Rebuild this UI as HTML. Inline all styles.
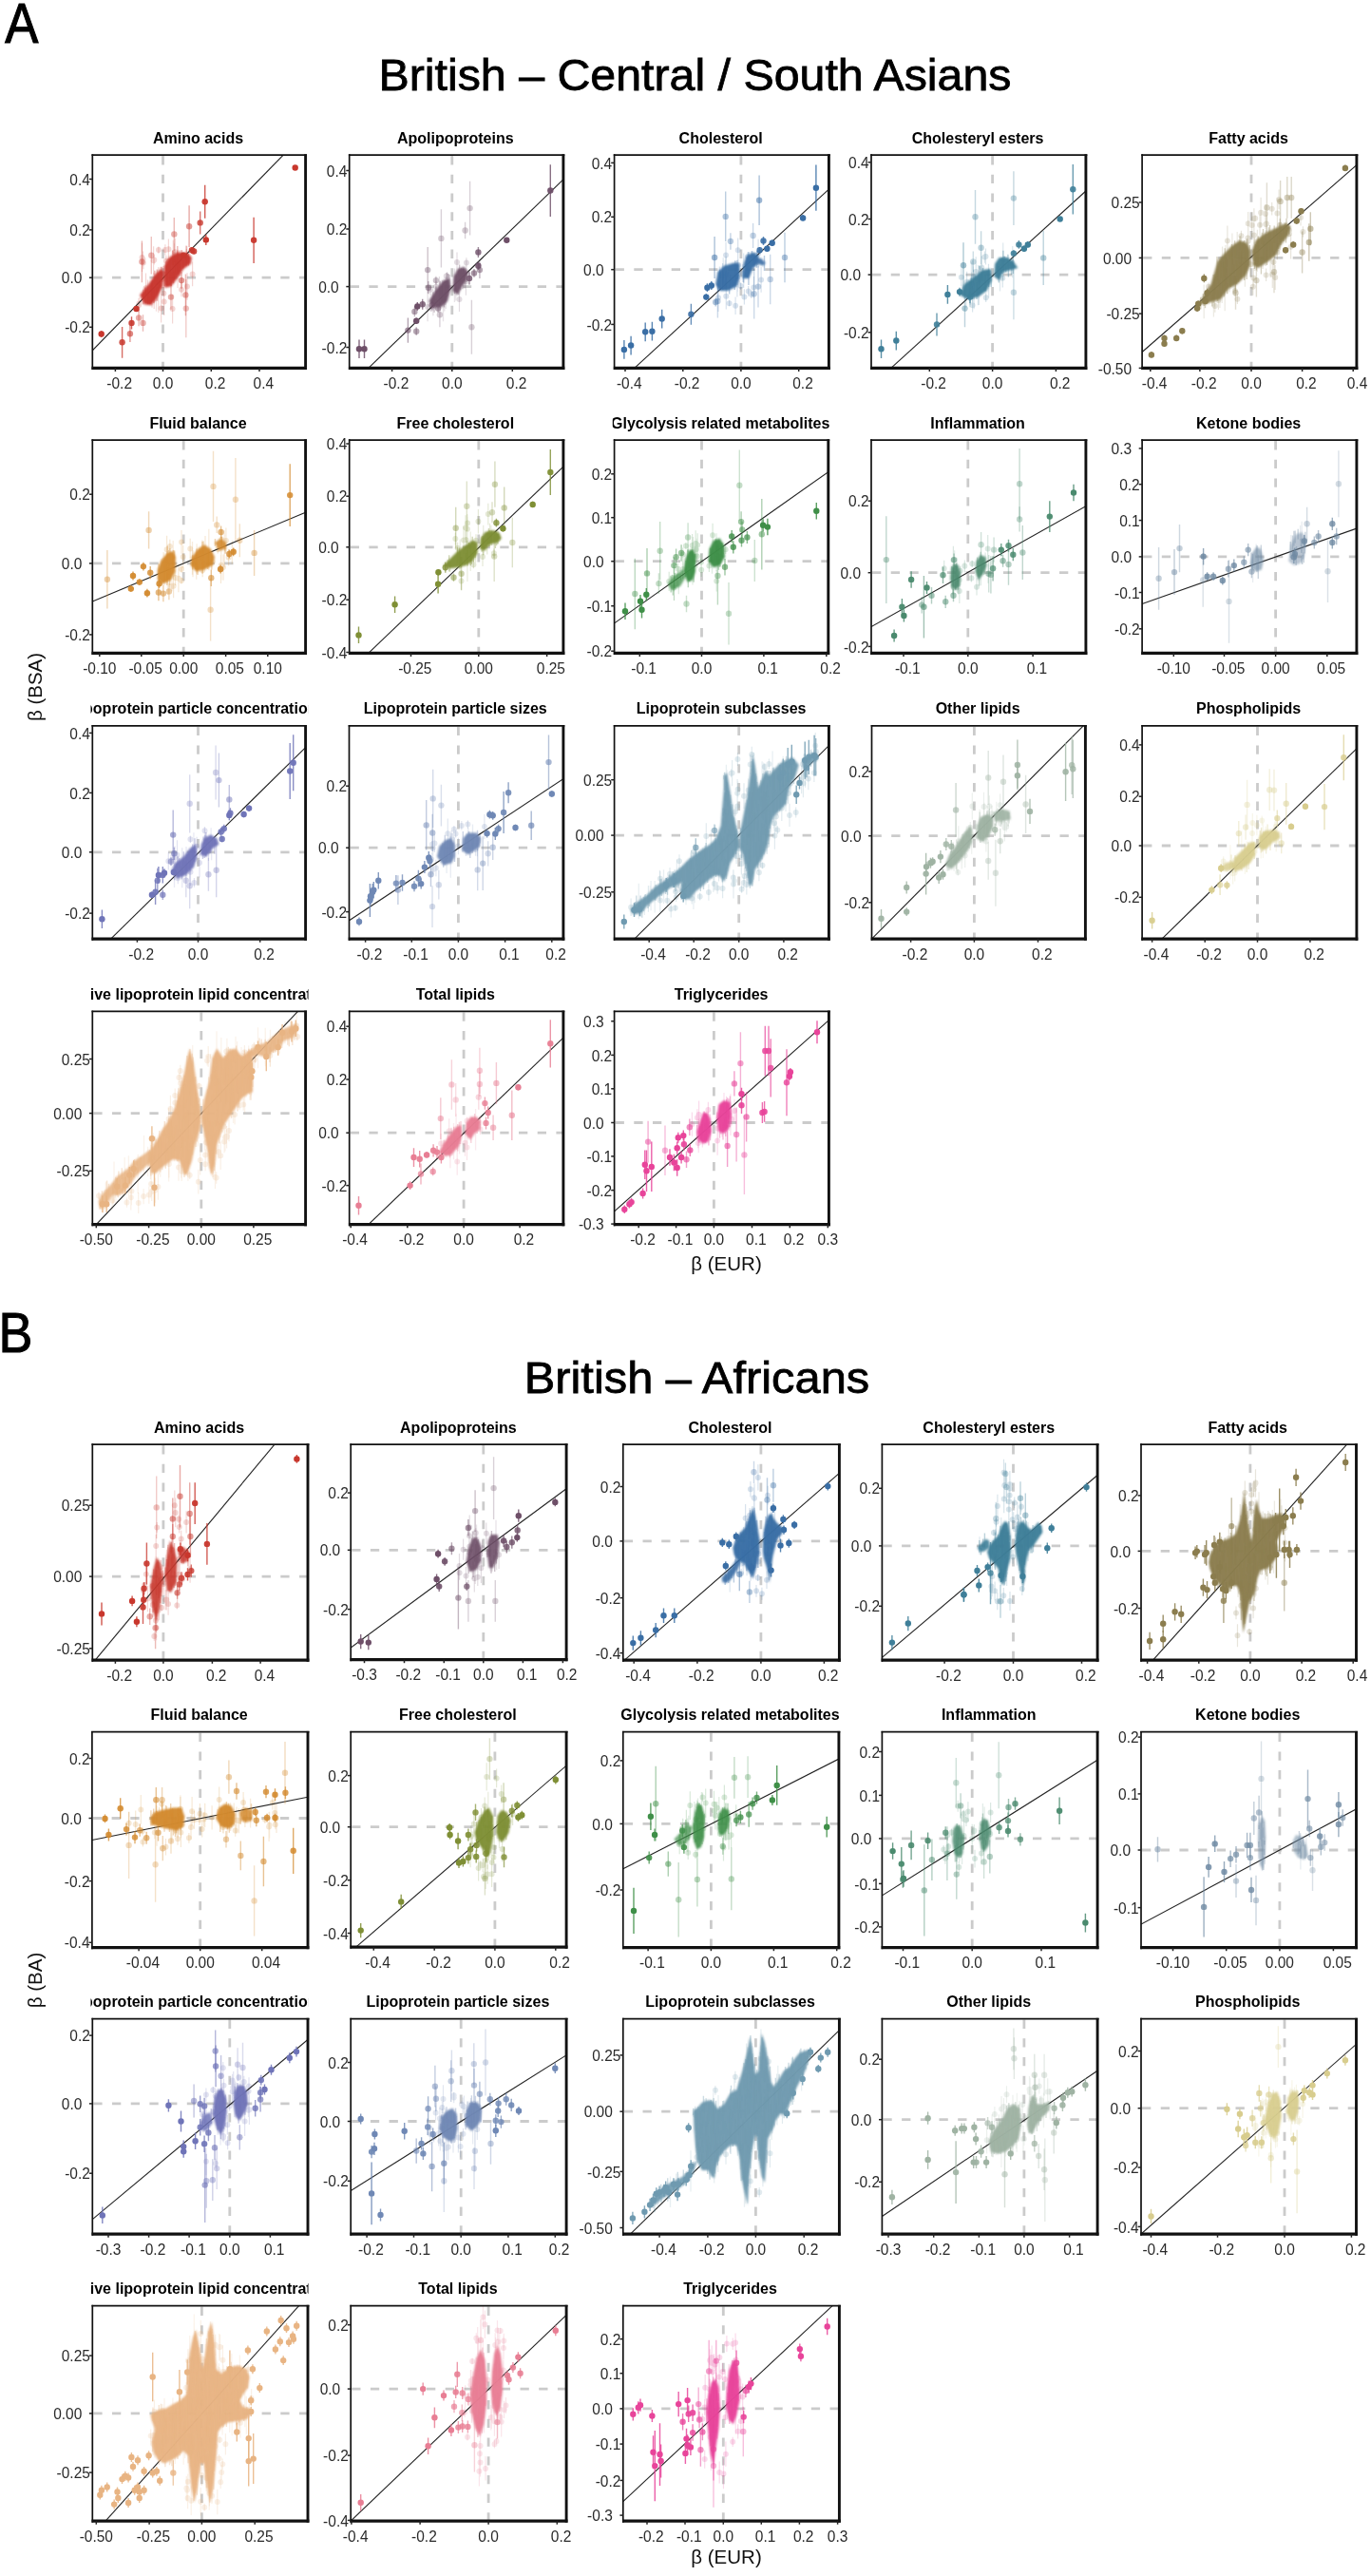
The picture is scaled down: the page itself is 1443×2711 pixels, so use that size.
<!DOCTYPE html>
<html><head><meta charset="utf-8"><style>
html,body{margin:0;padding:0;background:#fff;}
svg{display:block;will-change:transform;}
text{font-family:"Liberation Sans",sans-serif;}
.pt{font-weight:bold;font-size:16px;text-anchor:middle;fill:#000;}
.xl{font-size:15.5px;text-anchor:middle;fill:#2a2a2a;}
.yl{font-size:15.5px;text-anchor:end;fill:#2a2a2a;}
.ax{font-size:20.5px;text-anchor:middle;fill:#111;}
.big{font-size:47px;fill:#000;}
.dz{stroke:#cbcbcb;stroke-width:2.8;stroke-dasharray:9.3 10.4;}
</style></head><body>
<svg width="1443" height="2711" viewBox="0 0 1443 2711">
<defs>
<filter id="bl1" x="-20%" y="-20%" width="140%" height="140%"><feGaussianBlur stdDeviation="1.2"/></filter>
<filter id="bl2" x="-20%" y="-20%" width="140%" height="140%"><feGaussianBlur stdDeviation="3"/></filter>
<filter id="bl3" x="-30%" y="-30%" width="160%" height="160%"><feGaussianBlur stdDeviation="6"/></filter>
<clipPath id="c0"><rect x="97.3" y="163.1" width="224.3" height="224.3"/></clipPath><clipPath id="t0"><rect x="95.5" y="123.1" width="229.0" height="38"/></clipPath><clipPath id="c1"><rect x="367.7" y="163.1" width="225.2" height="224.3"/></clipPath><clipPath id="t1"><rect x="365.9" y="123.1" width="229.9" height="38"/></clipPath><clipPath id="c2"><rect x="646.6" y="163.1" width="225.8" height="224.3"/></clipPath><clipPath id="t2"><rect x="644.8" y="123.1" width="230.5" height="38"/></clipPath><clipPath id="c3"><rect x="917.0" y="163.1" width="225.8" height="224.3"/></clipPath><clipPath id="t3"><rect x="915.2" y="123.1" width="230.5" height="38"/></clipPath><clipPath id="c4"><rect x="1202.1" y="163.1" width="225.8" height="224.3"/></clipPath><clipPath id="t4"><rect x="1200.3" y="123.1" width="230.5" height="38"/></clipPath><clipPath id="c5"><rect x="97.3" y="463.1" width="224.3" height="224.3"/></clipPath><clipPath id="t5"><rect x="95.5" y="423.1" width="229.0" height="38"/></clipPath><clipPath id="c6"><rect x="367.7" y="463.1" width="225.2" height="224.3"/></clipPath><clipPath id="t6"><rect x="365.9" y="423.1" width="229.9" height="38"/></clipPath><clipPath id="c7"><rect x="646.6" y="463.1" width="225.2" height="224.3"/></clipPath><clipPath id="t7"><rect x="644.8" y="423.1" width="229.9" height="38"/></clipPath><clipPath id="c8"><rect x="917.0" y="463.1" width="225.8" height="224.3"/></clipPath><clipPath id="t8"><rect x="915.2" y="423.1" width="230.5" height="38"/></clipPath><clipPath id="c9"><rect x="1202.1" y="463.1" width="225.8" height="224.3"/></clipPath><clipPath id="t9"><rect x="1200.3" y="423.1" width="230.5" height="38"/></clipPath><clipPath id="c10"><rect x="97.3" y="763.8" width="224.3" height="224.3"/></clipPath><clipPath id="t10"><rect x="95.5" y="723.8" width="229.0" height="38"/></clipPath><clipPath id="c11"><rect x="367.5" y="763.8" width="225.4" height="224.3"/></clipPath><clipPath id="t11"><rect x="365.7" y="723.8" width="230.1" height="38"/></clipPath><clipPath id="c12"><rect x="646.6" y="763.8" width="225.8" height="224.3"/></clipPath><clipPath id="t12"><rect x="644.8" y="723.8" width="230.5" height="38"/></clipPath><clipPath id="c13"><rect x="917.5" y="763.8" width="224.9" height="224.3"/></clipPath><clipPath id="t13"><rect x="915.7" y="723.8" width="229.6" height="38"/></clipPath><clipPath id="c14"><rect x="1202.1" y="763.8" width="225.8" height="224.3"/></clipPath><clipPath id="t14"><rect x="1200.3" y="723.8" width="230.5" height="38"/></clipPath><clipPath id="c15"><rect x="97.3" y="1064.4" width="224.3" height="224.3"/></clipPath><clipPath id="t15"><rect x="95.5" y="1024.4" width="229.0" height="38"/></clipPath><clipPath id="c16"><rect x="367.7" y="1064.4" width="225.2" height="224.3"/></clipPath><clipPath id="t16"><rect x="365.9" y="1024.4" width="229.9" height="38"/></clipPath><clipPath id="c17"><rect x="646.6" y="1064.4" width="225.8" height="224.3"/></clipPath><clipPath id="t17"><rect x="644.8" y="1024.4" width="230.5" height="38"/></clipPath><clipPath id="c18"><rect x="97.3" y="1520.1" width="226.7" height="227.1"/></clipPath><clipPath id="t18"><rect x="95.5" y="1480.1" width="229.0" height="38"/></clipPath><clipPath id="c19"><rect x="369.2" y="1520.1" width="226.9" height="226.5"/></clipPath><clipPath id="t19"><rect x="367.4" y="1480.1" width="229.2" height="38"/></clipPath><clipPath id="c20"><rect x="655.8" y="1520.1" width="227.6" height="227.1"/></clipPath><clipPath id="t20"><rect x="654.0" y="1480.1" width="229.9" height="38"/></clipPath><clipPath id="c21"><rect x="928.4" y="1520.1" width="226.7" height="227.1"/></clipPath><clipPath id="t21"><rect x="926.6" y="1480.1" width="229.0" height="38"/></clipPath><clipPath id="c22"><rect x="1201.0" y="1520.1" width="226.5" height="227.1"/></clipPath><clipPath id="t22"><rect x="1199.2" y="1480.1" width="228.8" height="38"/></clipPath><clipPath id="c23"><rect x="96.9" y="1822.7" width="227.1" height="226.9"/></clipPath><clipPath id="t23"><rect x="95.1" y="1782.7" width="229.4" height="38"/></clipPath><clipPath id="c24"><rect x="369.2" y="1822.7" width="226.9" height="226.5"/></clipPath><clipPath id="t24"><rect x="367.4" y="1782.7" width="229.2" height="38"/></clipPath><clipPath id="c25"><rect x="655.8" y="1822.7" width="227.1" height="226.9"/></clipPath><clipPath id="t25"><rect x="654.0" y="1782.7" width="229.4" height="38"/></clipPath><clipPath id="c26"><rect x="928.4" y="1822.7" width="226.7" height="226.9"/></clipPath><clipPath id="t26"><rect x="926.6" y="1782.7" width="229.0" height="38"/></clipPath><clipPath id="c27"><rect x="1201.0" y="1822.7" width="226.5" height="226.9"/></clipPath><clipPath id="t27"><rect x="1199.2" y="1782.7" width="228.8" height="38"/></clipPath><clipPath id="c28"><rect x="97.3" y="2124.6" width="226.7" height="226.5"/></clipPath><clipPath id="t28"><rect x="95.5" y="2084.6" width="229.0" height="38"/></clipPath><clipPath id="c29"><rect x="369.2" y="2124.6" width="226.9" height="226.5"/></clipPath><clipPath id="t29"><rect x="367.4" y="2084.6" width="229.2" height="38"/></clipPath><clipPath id="c30"><rect x="655.8" y="2124.6" width="227.6" height="226.5"/></clipPath><clipPath id="t30"><rect x="654.0" y="2084.6" width="229.9" height="38"/></clipPath><clipPath id="c31"><rect x="928.4" y="2124.6" width="226.7" height="226.5"/></clipPath><clipPath id="t31"><rect x="926.6" y="2084.6" width="229.0" height="38"/></clipPath><clipPath id="c32"><rect x="1201.0" y="2124.6" width="226.5" height="226.5"/></clipPath><clipPath id="t32"><rect x="1199.2" y="2084.6" width="228.8" height="38"/></clipPath><clipPath id="c33"><rect x="97.3" y="2426.6" width="226.7" height="226.5"/></clipPath><clipPath id="t33"><rect x="95.5" y="2386.6" width="229.0" height="38"/></clipPath><clipPath id="c34"><rect x="369.2" y="2426.6" width="226.9" height="226.5"/></clipPath><clipPath id="t34"><rect x="367.4" y="2386.6" width="229.2" height="38"/></clipPath><clipPath id="c35"><rect x="655.8" y="2426.6" width="227.6" height="226.5"/></clipPath><clipPath id="t35"><rect x="654.0" y="2386.6" width="229.9" height="38"/></clipPath>
</defs>
<rect width="1443" height="2711" fill="#fff"/>

<text transform="translate(5.3,44.9) scale(0.9,1)" class="big" style="font-size:58.5px;stroke:#000;stroke-width:1.1">A</text>
<text x="398.5" y="94.6" class="big" style="stroke:#000;stroke-width:0.8" textLength="666" lengthAdjust="spacingAndGlyphs">British – Central / South Asians</text>
<text transform="translate(-1.6,1422.7) scale(0.92,1)" class="big" style="font-size:58.5px;stroke:#000;stroke-width:1.1">B</text>
<text x="551.7" y="1466" class="big" style="stroke:#000;stroke-width:0.8" textLength="363.5" lengthAdjust="spacingAndGlyphs">British – Africans</text>
<text x="764.5" y="1336.5" class="ax">β (EUR)</text>
<text x="764.5" y="2698.3" class="ax">β (EUR)</text>
<text transform="translate(43.9,723) rotate(-90)" class="ax">β (BSA)</text>
<text transform="translate(43.9,2084) rotate(-90)" class="ax">β (BA)</text>

<text x="208.5" y="150.5" class="pt" clip-path="url(#t0)">Amino acids</text>
<g clip-path="url(#c0)"><line x1="171.5" y1="164.1" x2="171.5" y2="387.4" class="dz"/><line x1="98.3" y1="292.2" x2="321.6" y2="292.2" class="dz"/><path d="M191.0 297.3v15.0M150.9 269.6v13.6M172.7 279.7v25.9M184.7 268.2v18.4M173.9 257.3v11.2M184.4 250.8v28.7M202.6 275.6v25.6M172.3 294.5v28.6M169.6 309.3v30.2M146.4 313.4v12.3M172.7 302.9v29.2M155.4 294.4v25.9M150.5 264.5v16.8M146.0 314.1v14.4M162.2 304.4v20.6M177.4 251.5v21.4M162.3 268.2v10.3M183.9 256.2v18.6M181.6 309.7v30.7M196.4 262.0v18.2M172.1 280.1v16.3M161.6 259.3v29.9M153.5 287.4v31.6M149.5 255.7v30.4M166.9 259.5v7.2M197.0 287.3v28.4M174.8 268.8v11.2" stroke="#c8372d" stroke-opacity="0.2" stroke-width="1.2" fill="none"/><path d="M191.0 304.8h0M150.9 276.4h0M172.7 292.7h0M184.7 277.4h0M173.9 262.9h0M184.4 265.2h0M202.6 288.5h0M172.3 308.8h0M169.6 324.4h0M146.4 319.5h0M172.7 317.5h0M155.4 307.4h0M150.5 272.9h0M146.0 321.3h0M162.2 314.7h0M177.4 262.2h0M162.3 273.4h0M183.9 265.5h0M181.6 325.1h0M196.4 271.1h0M172.1 288.2h0M161.6 274.2h0M153.5 303.2h0M149.5 270.9h0M166.9 263.1h0M197.0 301.5h0M174.8 274.4h0" stroke="#c8372d" stroke-opacity="0.2" stroke-width="6" stroke-linecap="round" fill="none"/><line x1="97.3" y1="368.8" x2="298.2" y2="163.1" stroke="#222" stroke-width="1.1"/><polygon points="147.2,310.4 156.0,299.4 163.6,288.5 169.1,283.0 172.4,286.3 171.3,301.6 165.8,312.6 159.3,321.3 151.6,320.2" fill="#c8372d" fill-opacity="0.97" filter="url(#bl1)"/><polygon points="172.4,295.1 173.0,279.7 177.9,271.0 186.6,265.5 197.5,266.2 201.9,271.0 200.8,277.5 193.2,283.0 186.6,292.9 180.0,301.6 173.5,302.7" fill="#c8372d" fill-opacity="0.97" filter="url(#bl1)"/><path d="M160.0 296.2v27.5M164.5 292.3v35.5M166.7 280.9v36.8M163.9 288.5v28.5M166.8 287.9v41.2M195.6 258.4v21.4M182.3 252.8v40.0M182.5 255.3v37.3M187.0 264.1v38.9M189.4 263.3v18.7M187.6 262.7v19.2" stroke="#c8372d" stroke-opacity="0.16" stroke-width="1.3" fill="none"/><path d="M155.9 313.5v6.5M155.8 306.8v8.1M159.5 304.0v13.0M152.7 302.5v8.0M162.8 284.8v14.7M150.8 304.8v15.5M160.6 294.7v10.3M159.2 308.2v9.7M168.3 295.4v6.4M169.3 280.7v7.2M165.3 283.6v15.6M157.8 312.4v7.6M167.2 288.7v5.1M167.9 288.8v14.3M161.9 303.8v15.3M170.5 280.8v16.0M165.5 302.2v14.6M166.4 287.5v6.0M162.4 286.7v10.7M159.4 301.6v10.1M185.6 268.6v7.9M196.5 258.8v17.9M180.2 286.4v14.7M173.3 285.8v15.4M187.0 276.7v10.1M183.0 264.3v11.8M198.3 267.0v12.5M184.9 273.0v16.0M173.7 286.1v7.8M178.9 272.4v12.3M188.4 275.4v12.7M175.8 273.6v17.9M175.1 275.1v13.9M186.8 259.0v15.3M177.1 272.2v15.0M178.9 280.1v9.2M176.3 285.0v14.3M191.3 263.0v12.1M192.7 273.4v9.2M173.7 288.7v11.3M188.7 273.0v17.5M189.0 275.1v14.7M182.6 286.8v11.4M181.6 263.4v15.6M183.0 285.7v8.3M179.0 289.5v6.5" stroke="#c8372d" stroke-opacity="0.35" stroke-width="1.4" fill="none"/><circle cx="310.7" cy="176.5" r="3.2" fill="#c8372d" fill-opacity="1"/><line x1="267.1" y1="228.8" x2="267.1" y2="276.9" stroke="#c8372d" stroke-opacity="0.81" stroke-width="1.4"/><circle cx="267.1" cy="252.8" r="3.2" fill="#c8372d" fill-opacity="0.95"/><line x1="215.7" y1="194.8" x2="215.7" y2="229.8" stroke="#c8372d" stroke-opacity="0.81" stroke-width="1.4"/><circle cx="215.7" cy="212.3" r="3.2" fill="#c8372d" fill-opacity="0.95"/><line x1="216.8" y1="246.9" x2="216.8" y2="257.9" stroke="#c8372d" stroke-opacity="0.85" stroke-width="1.4"/><circle cx="216.8" cy="252.4" r="3.2" fill="#c8372d" fill-opacity="1"/><line x1="210.7" y1="222.4" x2="210.7" y2="246.5" stroke="#c8372d" stroke-opacity="0.68" stroke-width="1.4"/><circle cx="210.7" cy="234.4" r="3.2" fill="#c8372d" fill-opacity="0.8"/><line x1="199.1" y1="216.3" x2="199.1" y2="260.0" stroke="#c8372d" stroke-opacity="0.42" stroke-width="1.4"/><circle cx="199.1" cy="238.2" r="3.2" fill="#c8372d" fill-opacity="0.5"/><line x1="106.7" y1="348.2" x2="106.7" y2="354.8" stroke="#c8372d" stroke-opacity="0.85" stroke-width="1.4"/><circle cx="106.7" cy="351.5" r="3.2" fill="#c8372d" fill-opacity="1"/><line x1="128.6" y1="343.9" x2="128.6" y2="376.7" stroke="#c8372d" stroke-opacity="0.72" stroke-width="1.4"/><circle cx="128.6" cy="360.3" r="3.2" fill="#c8372d" fill-opacity="0.85"/><line x1="138.5" y1="333.3" x2="138.5" y2="346.5" stroke="#c8372d" stroke-opacity="0.77" stroke-width="1.4"/><circle cx="138.5" cy="339.9" r="3.2" fill="#c8372d" fill-opacity="0.9"/><line x1="136.9" y1="342.5" x2="136.9" y2="360.0" stroke="#c8372d" stroke-opacity="0.51" stroke-width="1.4"/><circle cx="136.9" cy="351.3" r="3.2" fill="#c8372d" fill-opacity="0.6"/><line x1="143.5" y1="322.4" x2="143.5" y2="327.7" stroke="#c8372d" stroke-opacity="0.85" stroke-width="1.4"/><circle cx="143.5" cy="325.0" r="3.2" fill="#c8372d" fill-opacity="1"/><line x1="149.4" y1="253.5" x2="149.4" y2="297.2" stroke="#c8372d" stroke-opacity="0.34" stroke-width="1.4"/><circle cx="149.4" cy="275.4" r="3.2" fill="#c8372d" fill-opacity="0.4"/><line x1="159.3" y1="249.1" x2="159.3" y2="288.5" stroke="#c8372d" stroke-opacity="0.30" stroke-width="1.4"/><circle cx="159.3" cy="268.8" r="3.2" fill="#c8372d" fill-opacity="0.35"/><line x1="183.3" y1="229.0" x2="183.3" y2="264.0" stroke="#c8372d" stroke-opacity="0.34" stroke-width="1.4"/><circle cx="183.3" cy="246.5" r="3.2" fill="#c8372d" fill-opacity="0.4"/><line x1="146.1" y1="325.7" x2="146.1" y2="343.2" stroke="#c8372d" stroke-opacity="0.34" stroke-width="1.4"/><circle cx="146.1" cy="334.4" r="3.2" fill="#c8372d" fill-opacity="0.4"/><line x1="150.5" y1="331.2" x2="150.5" y2="348.7" stroke="#c8372d" stroke-opacity="0.34" stroke-width="1.4"/><circle cx="150.5" cy="339.9" r="3.2" fill="#c8372d" fill-opacity="0.4"/><line x1="195.4" y1="288.5" x2="195.4" y2="332.3" stroke="#c8372d" stroke-opacity="0.34" stroke-width="1.4"/><circle cx="195.4" cy="310.4" r="3.2" fill="#c8372d" fill-opacity="0.4"/><line x1="195.8" y1="294.0" x2="195.8" y2="355.2" stroke="#c8372d" stroke-opacity="0.26" stroke-width="1.4"/><circle cx="195.8" cy="324.6" r="3.2" fill="#c8372d" fill-opacity="0.3"/><line x1="201.9" y1="260.0" x2="201.9" y2="266.6" stroke="#c8372d" stroke-opacity="0.77" stroke-width="1.4"/><circle cx="201.9" cy="263.3" r="3.2" fill="#c8372d" fill-opacity="0.9"/><line x1="204.1" y1="261.1" x2="204.1" y2="267.7" stroke="#c8372d" stroke-opacity="0.77" stroke-width="1.4"/><circle cx="204.1" cy="264.4" r="3.2" fill="#c8372d" fill-opacity="0.9"/><line x1="193.2" y1="266.6" x2="193.2" y2="271.0" stroke="#c8372d" stroke-opacity="0.77" stroke-width="1.4"/><circle cx="193.2" cy="268.8" r="3.2" fill="#c8372d" fill-opacity="0.9"/><line x1="191.0" y1="286.3" x2="191.0" y2="303.8" stroke="#c8372d" stroke-opacity="0.42" stroke-width="1.4"/><circle cx="191.0" cy="295.1" r="3.2" fill="#c8372d" fill-opacity="0.5"/><line x1="180.0" y1="299.4" x2="180.0" y2="325.7" stroke="#c8372d" stroke-opacity="0.34" stroke-width="1.4"/><circle cx="180.0" cy="312.6" r="3.2" fill="#c8372d" fill-opacity="0.4"/></g>
<line x1="96.5" y1="163.1" x2="323.0" y2="163.1" stroke="#111" stroke-width="1.7"/>
<line x1="97.3" y1="162.3" x2="97.3" y2="389.0" stroke="#111" stroke-width="1.7"/>
<line x1="321.6" y1="162.3" x2="321.6" y2="389.0" stroke="#111" stroke-width="2.9"/>
<line x1="96.5" y1="387.4" x2="323.0" y2="387.4" stroke="#111" stroke-width="3.3"/>
<line x1="121.4" y1="387.4" x2="121.4" y2="391.0" stroke="#222" stroke-width="1.5"/>
<text transform="translate(125.7,409.1) scale(1,1.1)" class="xl">-0.2</text>
<line x1="171.5" y1="387.4" x2="171.5" y2="391.0" stroke="#222" stroke-width="1.5"/>
<text transform="translate(171.5,409.1) scale(1,1.1)" class="xl">0.0</text>
<line x1="222.3" y1="387.4" x2="222.3" y2="391.0" stroke="#222" stroke-width="1.5"/>
<text transform="translate(226.6,409.1) scale(1,1.1)" class="xl">0.2</text>
<line x1="273.0" y1="387.4" x2="273.0" y2="391.0" stroke="#222" stroke-width="1.5"/>
<text transform="translate(277.3,409.1) scale(1,1.1)" class="xl">0.4</text>
<line x1="93.9" y1="188.5" x2="97.3" y2="188.5" stroke="#222" stroke-width="1.5"/>
<text transform="translate(94.9,194.6) scale(1,1.1)" class="yl">0.4</text>
<line x1="93.9" y1="241.9" x2="97.3" y2="241.9" stroke="#222" stroke-width="1.5"/>
<text transform="translate(94.9,248.0) scale(1,1.1)" class="yl">0.2</text>
<line x1="93.9" y1="292.2" x2="97.3" y2="292.2" stroke="#222" stroke-width="1.5"/>
<text transform="translate(86.3,298.3) scale(1,1.1)" class="yl">0.0</text>
<line x1="93.9" y1="344.3" x2="97.3" y2="344.3" stroke="#222" stroke-width="1.5"/>
<text transform="translate(94.9,350.4) scale(1,1.1)" class="yl">-0.2</text>
<text x="479.3" y="150.5" class="pt" clip-path="url(#t1)">Apolipoproteins</text>
<g clip-path="url(#c1)"><line x1="475.8" y1="164.1" x2="475.8" y2="387.4" class="dz"/><line x1="368.7" y1="301.6" x2="592.9" y2="301.6" class="dz"/><path d="M490.9 271.3v10.3M453.9 321.1v6.9M490.4 282.0v28.7M468.8 299.2v21.8M470.2 302.6v6.1M481.0 265.5v21.1M483.5 302.1v25.9M459.0 296.1v11.2M450.1 308.0v30.2M482.5 282.4v27.9M455.9 312.3v20.0M462.4 291.1v31.7M453.1 299.0v11.7M469.7 287.1v7.0" stroke="#6e4f68" stroke-opacity="0.2" stroke-width="1.2" fill="none"/><path d="M490.9 276.5h0M453.9 324.5h0M490.4 296.3h0M468.8 310.1h0M470.2 305.7h0M481.0 276.1h0M483.5 315.1h0M459.0 301.7h0M450.1 323.1h0M482.5 296.3h0M455.9 322.3h0M462.4 306.9h0M453.1 304.8h0M469.7 290.6h0" stroke="#6e4f68" stroke-opacity="0.2" stroke-width="6" stroke-linecap="round" fill="none"/><line x1="387.8" y1="387.4" x2="592.9" y2="188.9" stroke="#222" stroke-width="1.1"/><polygon points="451.3,316.9 457.9,306.0 466.6,295.1 473.2,292.9 474.3,303.8 471.0,316.9 464.4,323.5 455.7,323.5" fill="#6e4f68" fill-opacity="0.97" filter="url(#bl1)"/><polygon points="476.5,306.0 477.5,290.7 481.9,283.0 488.5,280.8 492.9,286.3 490.7,295.1 486.3,301.6 481.9,310.4" fill="#6e4f68" fill-opacity="0.97" filter="url(#bl1)"/><path d="M469.3 291.3v33.7M466.5 296.3v41.9M467.8 298.0v29.6M465.5 295.0v23.2M479.8 289.2v27.3M478.4 282.6v35.5" stroke="#6e4f68" stroke-opacity="0.16" stroke-width="1.3" fill="none"/><path d="M473.0 288.9v15.0M459.4 315.5v7.5M463.2 295.7v16.4M470.6 286.5v16.2M462.2 310.3v4.9M457.4 315.4v5.6M455.9 307.3v5.3M471.9 288.1v16.1M465.3 301.0v16.2M462.2 313.2v7.5M457.1 312.2v16.5M458.9 301.4v6.8M462.8 304.2v10.5M467.5 312.2v11.4M472.2 290.7v12.1M455.5 313.6v5.7M483.6 278.4v12.3M487.8 283.6v7.1M487.0 292.8v11.4M489.1 286.9v16.5M485.4 281.9v14.3M491.2 287.9v8.9M478.4 303.6v5.7M485.4 287.5v4.7M486.3 286.9v9.9M484.7 298.4v6.8M483.8 287.7v9.9" stroke="#6e4f68" stroke-opacity="0.35" stroke-width="1.4" fill="none"/><line x1="378.0" y1="357.4" x2="378.0" y2="377.1" stroke="#6e4f68" stroke-opacity="0.85" stroke-width="1.4"/><circle cx="378.0" cy="367.3" r="3.2" fill="#6e4f68" fill-opacity="1"/><line x1="383.5" y1="357.4" x2="383.5" y2="377.1" stroke="#6e4f68" stroke-opacity="0.85" stroke-width="1.4"/><circle cx="383.5" cy="367.3" r="3.2" fill="#6e4f68" fill-opacity="1"/><line x1="579.3" y1="173.2" x2="579.3" y2="227.9" stroke="#6e4f68" stroke-opacity="0.81" stroke-width="1.4"/><circle cx="579.3" cy="200.5" r="3.2" fill="#6e4f68" fill-opacity="0.95"/><line x1="533.3" y1="250.2" x2="533.3" y2="255.4" stroke="#6e4f68" stroke-opacity="0.85" stroke-width="1.4"/><circle cx="533.3" cy="252.8" r="3.2" fill="#6e4f68" fill-opacity="1"/><line x1="503.4" y1="260.0" x2="503.4" y2="271.0" stroke="#6e4f68" stroke-opacity="0.68" stroke-width="1.4"/><circle cx="503.4" cy="265.5" r="3.2" fill="#6e4f68" fill-opacity="0.8"/><line x1="503.4" y1="275.4" x2="503.4" y2="284.1" stroke="#6e4f68" stroke-opacity="0.77" stroke-width="1.4"/><circle cx="503.4" cy="279.7" r="3.2" fill="#6e4f68" fill-opacity="0.9"/><line x1="504.9" y1="275.4" x2="504.9" y2="292.9" stroke="#6e4f68" stroke-opacity="0.42" stroke-width="1.4"/><circle cx="504.9" cy="284.1" r="3.2" fill="#6e4f68" fill-opacity="0.5"/><line x1="494.0" y1="286.3" x2="494.0" y2="299.4" stroke="#6e4f68" stroke-opacity="0.68" stroke-width="1.4"/><circle cx="494.0" cy="292.9" r="3.2" fill="#6e4f68" fill-opacity="0.8"/><line x1="499.0" y1="283.0" x2="499.0" y2="291.8" stroke="#6e4f68" stroke-opacity="0.51" stroke-width="1.4"/><circle cx="499.0" cy="287.4" r="3.2" fill="#6e4f68" fill-opacity="0.6"/><line x1="438.2" y1="334.4" x2="438.2" y2="341.0" stroke="#6e4f68" stroke-opacity="0.85" stroke-width="1.4"/><circle cx="438.2" cy="337.7" r="3.2" fill="#6e4f68" fill-opacity="1"/><line x1="439.3" y1="318.0" x2="439.3" y2="326.8" stroke="#6e4f68" stroke-opacity="0.85" stroke-width="1.4"/><circle cx="439.3" cy="322.4" r="3.2" fill="#6e4f68" fill-opacity="1"/><line x1="444.7" y1="314.7" x2="444.7" y2="325.7" stroke="#6e4f68" stroke-opacity="0.68" stroke-width="1.4"/><circle cx="444.7" cy="320.2" r="3.2" fill="#6e4f68" fill-opacity="0.8"/><line x1="429.4" y1="334.4" x2="429.4" y2="360.7" stroke="#6e4f68" stroke-opacity="0.51" stroke-width="1.4"/><circle cx="429.4" cy="347.6" r="3.2" fill="#6e4f68" fill-opacity="0.6"/><line x1="438.2" y1="344.3" x2="438.2" y2="353.0" stroke="#6e4f68" stroke-opacity="0.42" stroke-width="1.4"/><circle cx="438.2" cy="348.7" r="3.2" fill="#6e4f68" fill-opacity="0.5"/><line x1="436.4" y1="322.4" x2="436.4" y2="333.3" stroke="#6e4f68" stroke-opacity="0.42" stroke-width="1.4"/><circle cx="436.4" cy="327.9" r="3.2" fill="#6e4f68" fill-opacity="0.5"/><line x1="450.2" y1="260.0" x2="450.2" y2="308.2" stroke="#6e4f68" stroke-opacity="0.34" stroke-width="1.4"/><circle cx="450.2" cy="284.1" r="3.2" fill="#6e4f68" fill-opacity="0.4"/><line x1="450.9" y1="296.1" x2="450.9" y2="309.3" stroke="#6e4f68" stroke-opacity="0.42" stroke-width="1.4"/><circle cx="450.9" cy="302.7" r="3.2" fill="#6e4f68" fill-opacity="0.5"/><line x1="464.4" y1="220.2" x2="464.4" y2="281.5" stroke="#6e4f68" stroke-opacity="0.26" stroke-width="1.4"/><circle cx="464.4" cy="250.9" r="3.2" fill="#6e4f68" fill-opacity="0.3"/><line x1="494.6" y1="190.7" x2="494.6" y2="247.6" stroke="#6e4f68" stroke-opacity="0.26" stroke-width="1.4"/><circle cx="494.6" cy="219.1" r="3.2" fill="#6e4f68" fill-opacity="0.3"/><line x1="489.6" y1="233.8" x2="489.6" y2="251.3" stroke="#6e4f68" stroke-opacity="0.26" stroke-width="1.4"/><circle cx="489.6" cy="242.5" r="3.2" fill="#6e4f68" fill-opacity="0.3"/><line x1="496.4" y1="315.8" x2="496.4" y2="372.7" stroke="#6e4f68" stroke-opacity="0.26" stroke-width="1.4"/><circle cx="496.4" cy="344.3" r="3.2" fill="#6e4f68" fill-opacity="0.3"/><line x1="462.9" y1="318.0" x2="462.9" y2="344.3" stroke="#6e4f68" stroke-opacity="0.26" stroke-width="1.4"/><circle cx="462.9" cy="331.2" r="3.2" fill="#6e4f68" fill-opacity="0.3"/><line x1="458.9" y1="290.7" x2="458.9" y2="299.4" stroke="#6e4f68" stroke-opacity="0.30" stroke-width="1.4"/><circle cx="458.9" cy="295.1" r="3.2" fill="#6e4f68" fill-opacity="0.35"/><line x1="454.6" y1="316.9" x2="454.6" y2="325.7" stroke="#6e4f68" stroke-opacity="0.51" stroke-width="1.4"/><circle cx="454.6" cy="321.3" r="3.2" fill="#6e4f68" fill-opacity="0.6"/><line x1="461.1" y1="320.2" x2="461.1" y2="329.0" stroke="#6e4f68" stroke-opacity="0.42" stroke-width="1.4"/><circle cx="461.1" cy="324.6" r="3.2" fill="#6e4f68" fill-opacity="0.5"/></g>
<line x1="366.9" y1="163.1" x2="594.3" y2="163.1" stroke="#111" stroke-width="1.7"/>
<line x1="367.7" y1="162.3" x2="367.7" y2="389.0" stroke="#111" stroke-width="1.7"/>
<line x1="592.9" y1="162.3" x2="592.9" y2="389.0" stroke="#111" stroke-width="2.9"/>
<line x1="366.9" y1="387.4" x2="594.3" y2="387.4" stroke="#111" stroke-width="3.3"/>
<line x1="412.6" y1="387.4" x2="412.6" y2="391.0" stroke="#222" stroke-width="1.5"/>
<text transform="translate(416.9,409.1) scale(1,1.1)" class="xl">-0.2</text>
<line x1="475.8" y1="387.4" x2="475.8" y2="391.0" stroke="#222" stroke-width="1.5"/>
<text transform="translate(475.8,409.1) scale(1,1.1)" class="xl">0.0</text>
<line x1="539.3" y1="387.4" x2="539.3" y2="391.0" stroke="#222" stroke-width="1.5"/>
<text transform="translate(543.6,409.1) scale(1,1.1)" class="xl">0.2</text>
<line x1="364.3" y1="179.5" x2="367.7" y2="179.5" stroke="#222" stroke-width="1.5"/>
<text transform="translate(365.3,185.6) scale(1,1.1)" class="yl">0.4</text>
<line x1="364.3" y1="241.0" x2="367.7" y2="241.0" stroke="#222" stroke-width="1.5"/>
<text transform="translate(365.3,247.1) scale(1,1.1)" class="yl">0.2</text>
<line x1="364.3" y1="301.6" x2="367.7" y2="301.6" stroke="#222" stroke-width="1.5"/>
<text transform="translate(356.7,307.7) scale(1,1.1)" class="yl">0.0</text>
<line x1="364.3" y1="365.5" x2="367.7" y2="365.5" stroke="#222" stroke-width="1.5"/>
<text transform="translate(365.3,371.6) scale(1,1.1)" class="yl">-0.2</text>
<text x="758.6" y="150.5" class="pt" clip-path="url(#t2)">Cholesterol</text>
<g clip-path="url(#c2)"><line x1="779.9" y1="164.1" x2="779.9" y2="387.4" class="dz"/><line x1="647.6" y1="283.7" x2="872.4" y2="283.7" class="dz"/><path d="M781.8 278.3v18.8M764.0 254.7v27.8M779.6 297.3v7.6M787.7 301.1v10.7M776.7 250.4v25.5M764.3 298.1v27.3M775.9 281.8v30.7M790.9 305.5v8.4M760.6 276.9v27.5M767.6 316.0v6.3M801.1 281.2v26.6M777.0 273.0v12.0M798.1 251.8v29.9M793.4 291.1v22.5M774.1 312.6v18.3M787.0 265.2v10.1M756.0 298.7v29.2M783.4 304.3v16.2M776.2 276.5v30.5" stroke="#3a6ea5" stroke-opacity="0.2" stroke-width="1.2" fill="none"/><path d="M781.8 287.7h0M764.0 268.6h0M779.6 301.1h0M787.7 306.5h0M776.7 263.2h0M764.3 311.8h0M775.9 297.1h0M790.9 309.7h0M760.6 290.6h0M767.6 319.2h0M801.1 294.5h0M777.0 279.0h0M798.1 266.7h0M793.4 302.4h0M774.1 321.7h0M787.0 270.2h0M756.0 313.2h0M783.4 312.4h0M776.2 291.7h0" stroke="#3a6ea5" stroke-opacity="0.2" stroke-width="6" stroke-linecap="round" fill="none"/><line x1="667.8" y1="387.4" x2="872.4" y2="199.2" stroke="#222" stroke-width="1.1"/><polygon points="753.2,299.4 755.4,286.3 761.9,279.7 772.9,276.5 778.3,277.5 778.3,292.9 775.1,301.6 766.3,306.0 757.5,306.0" fill="#3a6ea5" fill-opacity="0.97" filter="url(#bl1)"/><polygon points="781.6,292.9 782.7,277.5 786.0,268.8 792.6,265.5 798.0,268.8 798.0,277.5 792.6,281.9 788.2,292.9" fill="#3a6ea5" fill-opacity="0.97" filter="url(#bl1)"/><polygon points="794.7,271.0 801.3,272.1 805.7,276.5 803.5,279.7 796.9,277.5" fill="#3a6ea5" fill-opacity="0.9" filter="url(#bl1)"/><path d="M763.9 279.1v22.2M763.4 273.5v16.1M764.2 270.1v20.1M761.2 271.3v28.6M757.4 280.4v25.8M782.7 266.5v36.6M782.5 274.1v21.6" stroke="#3a6ea5" stroke-opacity="0.16" stroke-width="1.3" fill="none"/><path d="M777.2 282.3v8.1M771.0 294.2v7.0M773.8 274.2v11.3M766.1 286.2v5.4M763.8 285.5v17.3M755.7 298.4v7.3M774.0 286.0v15.7M767.7 299.9v9.5M760.8 292.8v11.9M771.7 292.3v7.7M773.3 297.6v7.4M776.4 283.3v10.1M775.9 273.7v10.5M771.3 293.3v4.0M761.1 285.5v13.5M762.7 295.0v8.4M768.7 289.3v13.4M773.9 275.7v14.9M774.1 274.8v17.1M757.4 295.1v10.7M757.7 283.8v8.7M768.3 296.3v5.8M764.1 290.1v12.1M782.7 280.2v17.2M787.6 285.0v7.6M794.0 265.7v14.7M793.1 273.8v11.3M786.6 274.6v17.3M786.1 270.5v6.6M787.9 283.3v16.6M796.9 264.1v14.9M785.5 273.7v16.4M787.9 265.0v12.5M791.4 263.9v7.5M796.3 265.9v15.9M804.5 269.1v15.8" stroke="#3a6ea5" stroke-opacity="0.35" stroke-width="1.4" fill="none"/><line x1="656.9" y1="358.1" x2="656.9" y2="377.8" stroke="#3a6ea5" stroke-opacity="0.85" stroke-width="1.4"/><circle cx="656.9" cy="367.9" r="3.2" fill="#3a6ea5" fill-opacity="1"/><line x1="664.1" y1="353.7" x2="664.1" y2="373.4" stroke="#3a6ea5" stroke-opacity="0.85" stroke-width="1.4"/><circle cx="664.1" cy="363.5" r="3.2" fill="#3a6ea5" fill-opacity="1"/><line x1="679.2" y1="339.5" x2="679.2" y2="359.2" stroke="#3a6ea5" stroke-opacity="0.85" stroke-width="1.4"/><circle cx="679.2" cy="349.3" r="3.2" fill="#3a6ea5" fill-opacity="1"/><line x1="686.4" y1="338.8" x2="686.4" y2="358.5" stroke="#3a6ea5" stroke-opacity="0.85" stroke-width="1.4"/><circle cx="686.4" cy="348.7" r="3.2" fill="#3a6ea5" fill-opacity="1"/><line x1="696.7" y1="325.7" x2="696.7" y2="345.4" stroke="#3a6ea5" stroke-opacity="0.85" stroke-width="1.4"/><circle cx="696.7" cy="335.5" r="3.2" fill="#3a6ea5" fill-opacity="1"/><line x1="727.4" y1="319.8" x2="727.4" y2="341.7" stroke="#3a6ea5" stroke-opacity="0.77" stroke-width="1.4"/><circle cx="727.4" cy="330.7" r="3.2" fill="#3a6ea5" fill-opacity="0.9"/><line x1="743.3" y1="309.3" x2="743.3" y2="315.8" stroke="#3a6ea5" stroke-opacity="0.85" stroke-width="1.4"/><circle cx="743.3" cy="312.6" r="3.2" fill="#3a6ea5" fill-opacity="1"/><line x1="744.4" y1="298.3" x2="744.4" y2="307.1" stroke="#3a6ea5" stroke-opacity="0.85" stroke-width="1.4"/><circle cx="744.4" cy="302.7" r="3.2" fill="#3a6ea5" fill-opacity="1"/><line x1="748.8" y1="296.1" x2="748.8" y2="304.9" stroke="#3a6ea5" stroke-opacity="0.85" stroke-width="1.4"/><circle cx="748.8" cy="300.5" r="3.2" fill="#3a6ea5" fill-opacity="1"/><line x1="858.9" y1="173.6" x2="858.9" y2="221.8" stroke="#3a6ea5" stroke-opacity="0.85" stroke-width="1.4"/><circle cx="858.9" cy="197.7" r="3.2" fill="#3a6ea5" fill-opacity="1"/><line x1="845.1" y1="226.1" x2="845.1" y2="232.7" stroke="#3a6ea5" stroke-opacity="0.85" stroke-width="1.4"/><circle cx="845.1" cy="229.4" r="3.2" fill="#3a6ea5" fill-opacity="1"/><line x1="812.7" y1="252.4" x2="812.7" y2="258.9" stroke="#3a6ea5" stroke-opacity="0.85" stroke-width="1.4"/><circle cx="812.7" cy="255.7" r="3.2" fill="#3a6ea5" fill-opacity="1"/><line x1="807.4" y1="259.2" x2="807.4" y2="264.4" stroke="#3a6ea5" stroke-opacity="0.85" stroke-width="1.4"/><circle cx="807.4" cy="261.8" r="3.2" fill="#3a6ea5" fill-opacity="1"/><line x1="803.5" y1="249.1" x2="803.5" y2="257.9" stroke="#3a6ea5" stroke-opacity="0.77" stroke-width="1.4"/><circle cx="803.5" cy="253.5" r="3.2" fill="#3a6ea5" fill-opacity="0.9"/><line x1="799.6" y1="260.0" x2="799.6" y2="266.6" stroke="#3a6ea5" stroke-opacity="0.77" stroke-width="1.4"/><circle cx="799.6" cy="263.3" r="3.2" fill="#3a6ea5" fill-opacity="0.9"/><line x1="763.7" y1="201.6" x2="763.7" y2="254.1" stroke="#3a6ea5" stroke-opacity="0.34" stroke-width="1.4"/><circle cx="763.7" cy="227.9" r="3.2" fill="#3a6ea5" fill-opacity="0.4"/><line x1="799.1" y1="184.6" x2="799.1" y2="237.1" stroke="#3a6ea5" stroke-opacity="0.42" stroke-width="1.4"/><circle cx="799.1" cy="210.8" r="3.2" fill="#3a6ea5" fill-opacity="0.5"/><line x1="826.0" y1="244.7" x2="826.0" y2="297.2" stroke="#3a6ea5" stroke-opacity="0.34" stroke-width="1.4"/><circle cx="826.0" cy="271.0" r="3.2" fill="#3a6ea5" fill-opacity="0.4"/><line x1="810.7" y1="267.7" x2="810.7" y2="320.2" stroke="#3a6ea5" stroke-opacity="0.26" stroke-width="1.4"/><circle cx="810.7" cy="294.0" r="3.2" fill="#3a6ea5" fill-opacity="0.3"/><line x1="768.9" y1="245.2" x2="768.9" y2="262.7" stroke="#3a6ea5" stroke-opacity="0.30" stroke-width="1.4"/><circle cx="768.9" cy="253.9" r="3.2" fill="#3a6ea5" fill-opacity="0.35"/><line x1="752.1" y1="249.1" x2="752.1" y2="292.9" stroke="#3a6ea5" stroke-opacity="0.42" stroke-width="1.4"/><circle cx="752.1" cy="271.0" r="3.2" fill="#3a6ea5" fill-opacity="0.5"/><line x1="793.7" y1="283.0" x2="793.7" y2="335.5" stroke="#3a6ea5" stroke-opacity="0.26" stroke-width="1.4"/><circle cx="793.7" cy="309.3" r="3.2" fill="#3a6ea5" fill-opacity="0.3"/><line x1="798.0" y1="279.7" x2="798.0" y2="323.5" stroke="#3a6ea5" stroke-opacity="0.26" stroke-width="1.4"/><circle cx="798.0" cy="301.6" r="3.2" fill="#3a6ea5" fill-opacity="0.3"/><line x1="753.2" y1="313.7" x2="753.2" y2="322.4" stroke="#3a6ea5" stroke-opacity="0.34" stroke-width="1.4"/><circle cx="753.2" cy="318.0" r="3.2" fill="#3a6ea5" fill-opacity="0.4"/><line x1="792.6" y1="234.9" x2="792.6" y2="261.1" stroke="#3a6ea5" stroke-opacity="0.26" stroke-width="1.4"/><circle cx="792.6" cy="248.0" r="3.2" fill="#3a6ea5" fill-opacity="0.3"/><line x1="755.4" y1="299.4" x2="755.4" y2="334.4" stroke="#3a6ea5" stroke-opacity="0.26" stroke-width="1.4"/><circle cx="755.4" cy="316.9" r="3.2" fill="#3a6ea5" fill-opacity="0.3"/></g>
<line x1="645.8" y1="163.1" x2="873.8" y2="163.1" stroke="#111" stroke-width="1.7"/>
<line x1="646.6" y1="162.3" x2="646.6" y2="389.0" stroke="#111" stroke-width="1.7"/>
<line x1="872.4" y1="162.3" x2="872.4" y2="389.0" stroke="#111" stroke-width="2.9"/>
<line x1="645.8" y1="387.4" x2="873.8" y2="387.4" stroke="#111" stroke-width="3.3"/>
<line x1="658.0" y1="387.4" x2="658.0" y2="391.0" stroke="#222" stroke-width="1.5"/>
<text transform="translate(662.3,409.1) scale(1,1.1)" class="xl">-0.4</text>
<line x1="718.8" y1="387.4" x2="718.8" y2="391.0" stroke="#222" stroke-width="1.5"/>
<text transform="translate(723.1,409.1) scale(1,1.1)" class="xl">-0.2</text>
<line x1="779.9" y1="387.4" x2="779.9" y2="391.0" stroke="#222" stroke-width="1.5"/>
<text transform="translate(779.9,409.1) scale(1,1.1)" class="xl">0.0</text>
<line x1="840.7" y1="387.4" x2="840.7" y2="391.0" stroke="#222" stroke-width="1.5"/>
<text transform="translate(845.0,409.1) scale(1,1.1)" class="xl">0.2</text>
<line x1="643.2" y1="171.4" x2="646.6" y2="171.4" stroke="#222" stroke-width="1.5"/>
<text transform="translate(644.2,177.5) scale(1,1.1)" class="yl">0.4</text>
<line x1="643.2" y1="228.3" x2="646.6" y2="228.3" stroke="#222" stroke-width="1.5"/>
<text transform="translate(644.2,234.4) scale(1,1.1)" class="yl">0.2</text>
<line x1="643.2" y1="283.7" x2="646.6" y2="283.7" stroke="#222" stroke-width="1.5"/>
<text transform="translate(635.6,289.8) scale(1,1.1)" class="yl">0.0</text>
<line x1="643.2" y1="341.4" x2="646.6" y2="341.4" stroke="#222" stroke-width="1.5"/>
<text transform="translate(644.2,347.5) scale(1,1.1)" class="yl">-0.2</text>
<text x="1029.1" y="150.5" class="pt" clip-path="url(#t3)">Cholesteryl esters</text>
<g clip-path="url(#c3)"><line x1="1044.6" y1="164.1" x2="1044.6" y2="387.4" class="dz"/><line x1="918.0" y1="289.1" x2="1142.9" y2="289.1" class="dz"/><path d="M1040.5 277.7v19.1M1055.3 283.2v19.2M1029.8 290.8v7.7M1037.5 261.4v17.2M1027.2 270.2v31.4M1022.9 286.4v24.4M1023.6 314.0v14.4M1033.2 269.4v24.1M1024.6 283.4v16.3M1020.8 302.5v20.8M1037.7 308.6v9.3M1057.4 269.8v6.1M1016.8 299.3v24.4M1065.0 266.9v18.0M1064.2 273.7v7.3M1030.2 288.9v32.0M1017.6 285.7v22.3M1036.4 264.6v12.1M1011.8 282.2v19.1" stroke="#3f7f99" stroke-opacity="0.2" stroke-width="1.2" fill="none"/><path d="M1040.5 287.3h0M1055.3 292.8h0M1029.8 294.6h0M1037.5 270.0h0M1027.2 285.9h0M1022.9 298.6h0M1023.6 321.2h0M1033.2 281.4h0M1024.6 291.5h0M1020.8 312.9h0M1037.7 313.3h0M1057.4 272.9h0M1016.8 311.5h0M1065.0 275.9h0M1064.2 277.3h0M1030.2 304.9h0M1017.6 296.8h0M1036.4 270.6h0M1011.8 291.7h0" stroke="#3f7f99" stroke-opacity="0.2" stroke-width="6" stroke-linecap="round" fill="none"/><line x1="937.8" y1="387.4" x2="1142.9" y2="201.0" stroke="#222" stroke-width="1.1"/><polygon points="1010.0,310.4 1014.4,299.4 1023.2,292.9 1034.1,284.1 1042.9,283.0 1044.0,295.1 1038.5,306.0 1029.7,312.6 1018.8,314.7" fill="#3f7f99" fill-opacity="0.97" filter="url(#bl1)"/><polygon points="1046.1,290.7 1047.2,277.5 1051.6,271.0 1060.4,271.0 1066.9,275.4 1071.3,281.9 1064.7,284.1 1056.0,286.3 1051.6,295.1" fill="#3f7f99" fill-opacity="0.97" filter="url(#bl1)"/><path d="M1029.5 278.9v42.3M1022.4 275.6v39.7M1024.3 280.5v32.4M1040.6 282.8v30.8M1023.7 273.9v43.8M1025.2 297.9v27.3M1052.5 278.4v28.0M1065.7 258.9v33.3M1055.7 255.6v39.2" stroke="#3f7f99" stroke-opacity="0.16" stroke-width="1.3" fill="none"/><path d="M1037.3 289.8v16.8M1037.2 296.7v9.0M1022.1 292.6v6.9M1020.3 306.8v5.0M1021.3 296.5v6.9M1040.7 296.1v5.9M1026.1 288.3v6.3M1036.4 302.6v4.0M1043.3 289.8v12.2M1030.7 279.8v15.9M1023.2 301.2v8.8M1020.6 299.0v17.9M1030.7 282.5v17.1M1021.2 304.6v13.1M1033.0 285.9v8.5M1031.8 280.2v17.3M1028.0 307.4v7.6M1020.8 304.7v8.0M1028.2 297.3v15.8M1023.5 303.8v10.6M1021.0 305.3v15.1M1024.9 304.9v9.9M1034.5 281.9v13.8M1036.8 294.7v5.5M1033.4 286.0v9.4M1061.4 275.5v16.1M1064.5 276.0v12.9M1065.5 274.9v4.5M1054.1 273.6v13.9M1055.9 263.7v18.0M1060.9 267.7v12.8M1054.9 277.8v4.4M1050.3 279.9v8.4M1058.7 278.6v8.0M1056.8 269.5v17.8M1051.3 280.2v17.2M1066.4 270.3v17.6M1054.6 271.1v16.6" stroke="#3f7f99" stroke-opacity="0.35" stroke-width="1.4" fill="none"/><line x1="927.5" y1="357.4" x2="927.5" y2="377.1" stroke="#3f7f99" stroke-opacity="0.85" stroke-width="1.4"/><circle cx="927.5" cy="367.3" r="3.2" fill="#3f7f99" fill-opacity="1"/><line x1="943.3" y1="348.7" x2="943.3" y2="368.4" stroke="#3f7f99" stroke-opacity="0.85" stroke-width="1.4"/><circle cx="943.3" cy="358.5" r="3.2" fill="#3f7f99" fill-opacity="1"/><line x1="986.0" y1="329.4" x2="986.0" y2="353.5" stroke="#3f7f99" stroke-opacity="0.77" stroke-width="1.4"/><circle cx="986.0" cy="341.4" r="3.2" fill="#3f7f99" fill-opacity="0.9"/><line x1="997.4" y1="300.1" x2="997.4" y2="319.8" stroke="#3f7f99" stroke-opacity="0.85" stroke-width="1.4"/><circle cx="997.4" cy="309.9" r="3.2" fill="#3f7f99" fill-opacity="1"/><line x1="1129.3" y1="173.0" x2="1129.3" y2="225.5" stroke="#3f7f99" stroke-opacity="0.77" stroke-width="1.4"/><circle cx="1129.3" cy="199.2" r="3.2" fill="#3f7f99" fill-opacity="0.9"/><line x1="1115.7" y1="227.9" x2="1115.7" y2="233.1" stroke="#3f7f99" stroke-opacity="0.85" stroke-width="1.4"/><circle cx="1115.7" cy="230.5" r="3.2" fill="#3f7f99" fill-opacity="1"/><line x1="1081.8" y1="254.1" x2="1081.8" y2="260.7" stroke="#3f7f99" stroke-opacity="0.85" stroke-width="1.4"/><circle cx="1081.8" cy="257.4" r="3.2" fill="#3f7f99" fill-opacity="1"/><line x1="1077.9" y1="258.5" x2="1077.9" y2="265.1" stroke="#3f7f99" stroke-opacity="0.85" stroke-width="1.4"/><circle cx="1077.9" cy="261.8" r="3.2" fill="#3f7f99" fill-opacity="1"/><line x1="1072.4" y1="253.0" x2="1072.4" y2="261.8" stroke="#3f7f99" stroke-opacity="0.77" stroke-width="1.4"/><circle cx="1072.4" cy="257.4" r="3.2" fill="#3f7f99" fill-opacity="0.9"/><line x1="1066.9" y1="263.3" x2="1066.9" y2="269.9" stroke="#3f7f99" stroke-opacity="0.77" stroke-width="1.4"/><circle cx="1066.9" cy="266.6" r="3.2" fill="#3f7f99" fill-opacity="0.9"/><line x1="1098.2" y1="243.0" x2="1098.2" y2="299.9" stroke="#3f7f99" stroke-opacity="0.34" stroke-width="1.4"/><circle cx="1098.2" cy="271.4" r="3.2" fill="#3f7f99" fill-opacity="0.4"/><line x1="1026.5" y1="199.9" x2="1026.5" y2="256.8" stroke="#3f7f99" stroke-opacity="0.30" stroke-width="1.4"/><circle cx="1026.5" cy="228.3" r="3.2" fill="#3f7f99" fill-opacity="0.35"/><line x1="1066.9" y1="180.2" x2="1066.9" y2="237.1" stroke="#3f7f99" stroke-opacity="0.30" stroke-width="1.4"/><circle cx="1066.9" cy="208.6" r="3.2" fill="#3f7f99" fill-opacity="0.35"/><line x1="1032.6" y1="243.2" x2="1032.6" y2="278.2" stroke="#3f7f99" stroke-opacity="0.30" stroke-width="1.4"/><circle cx="1032.6" cy="260.7" r="3.2" fill="#3f7f99" fill-opacity="0.35"/><line x1="1014.0" y1="255.2" x2="1014.0" y2="303.4" stroke="#3f7f99" stroke-opacity="0.42" stroke-width="1.4"/><circle cx="1014.0" cy="279.3" r="3.2" fill="#3f7f99" fill-opacity="0.5"/><line x1="1066.9" y1="279.3" x2="1066.9" y2="336.2" stroke="#3f7f99" stroke-opacity="0.26" stroke-width="1.4"/><circle cx="1066.9" cy="307.7" r="3.2" fill="#3f7f99" fill-opacity="0.3"/><line x1="1015.5" y1="304.9" x2="1015.5" y2="344.3" stroke="#3f7f99" stroke-opacity="0.34" stroke-width="1.4"/><circle cx="1015.5" cy="324.6" r="3.2" fill="#3f7f99" fill-opacity="0.4"/><line x1="1024.3" y1="264.4" x2="1024.3" y2="286.3" stroke="#3f7f99" stroke-opacity="0.26" stroke-width="1.4"/><circle cx="1024.3" cy="275.4" r="3.2" fill="#3f7f99" fill-opacity="0.3"/><line x1="1010.0" y1="302.7" x2="1010.0" y2="311.5" stroke="#3f7f99" stroke-opacity="0.85" stroke-width="1.4"/><circle cx="1010.0" cy="307.1" r="3.2" fill="#3f7f99" fill-opacity="1"/><line x1="1021.0" y1="306.0" x2="1021.0" y2="319.1" stroke="#3f7f99" stroke-opacity="0.68" stroke-width="1.4"/><circle cx="1021.0" cy="312.6" r="3.2" fill="#3f7f99" fill-opacity="0.8"/></g>
<line x1="916.2" y1="163.1" x2="1144.3" y2="163.1" stroke="#111" stroke-width="1.7"/>
<line x1="917.0" y1="162.3" x2="917.0" y2="389.0" stroke="#111" stroke-width="1.7"/>
<line x1="1142.9" y1="162.3" x2="1142.9" y2="389.0" stroke="#111" stroke-width="2.9"/>
<line x1="916.2" y1="387.4" x2="1144.3" y2="387.4" stroke="#111" stroke-width="3.3"/>
<line x1="978.3" y1="387.4" x2="978.3" y2="391.0" stroke="#222" stroke-width="1.5"/>
<text transform="translate(982.6,409.1) scale(1,1.1)" class="xl">-0.2</text>
<line x1="1044.6" y1="387.4" x2="1044.6" y2="391.0" stroke="#222" stroke-width="1.5"/>
<text transform="translate(1044.6,409.1) scale(1,1.1)" class="xl">0.0</text>
<line x1="1111.4" y1="387.4" x2="1111.4" y2="391.0" stroke="#222" stroke-width="1.5"/>
<text transform="translate(1115.7,409.1) scale(1,1.1)" class="xl">0.2</text>
<line x1="913.6" y1="170.8" x2="917.0" y2="170.8" stroke="#222" stroke-width="1.5"/>
<text transform="translate(914.6,176.9) scale(1,1.1)" class="yl">0.4</text>
<line x1="913.6" y1="230.5" x2="917.0" y2="230.5" stroke="#222" stroke-width="1.5"/>
<text transform="translate(914.6,236.6) scale(1,1.1)" class="yl">0.2</text>
<line x1="913.6" y1="289.1" x2="917.0" y2="289.1" stroke="#222" stroke-width="1.5"/>
<text transform="translate(906.0,295.2) scale(1,1.1)" class="yl">0.0</text>
<line x1="913.6" y1="349.8" x2="917.0" y2="349.8" stroke="#222" stroke-width="1.5"/>
<text transform="translate(914.6,355.9) scale(1,1.1)" class="yl">-0.2</text>
<text x="1314.1" y="150.5" class="pt" clip-path="url(#t4)">Fatty acids</text>
<g clip-path="url(#c4)"><line x1="1317.0" y1="164.1" x2="1317.0" y2="387.4" class="dz"/><line x1="1203.1" y1="271.4" x2="1427.9" y2="271.4" class="dz"/><path d="M1332.6 282.6v13.5M1321.2 226.4v6.7M1288.5 278.6v11.6M1342.2 278.9v26.2M1306.0 253.1v28.3M1344.4 208.6v31.8M1357.0 242.2v7.3M1278.8 315.1v13.7M1326.0 226.1v21.3M1271.9 297.6v8.3M1319.3 281.9v20.9M1313.7 223.1v24.4M1346.1 199.6v20.7M1282.4 306.5v19.2M1323.8 264.9v16.3M1331.9 214.9v20.2M1313.7 238.4v30.4M1344.4 257.7v15.5M1318.8 292.6v18.2M1317.7 223.2v27.4M1319.9 238.5v18.0M1313.4 247.0v6.9M1340.4 272.6v6.4M1296.1 264.5v10.1M1287.0 275.4v28.1M1339.3 274.3v28.8M1313.0 268.2v16.6M1288.9 295.5v16.1M1291.9 237.5v31.9M1347.1 229.7v14.3M1302.4 309.5v10.6M1300.0 300.5v11.3M1324.2 255.2v11.1M1338.7 213.1v13.3M1333.0 226.3v18.6M1310.3 264.4v20.9M1358.6 246.7v25.9M1332.2 231.3v9.4M1316.4 264.5v27.3M1306.4 242.7v11.1M1334.4 250.5v20.5M1327.1 207.8v31.8M1369.0 220.7v16.7M1294.0 281.6v25.9M1319.9 219.3v21.2M1371.4 238.3v11.2M1329.1 262.1v20.8M1357.0 238.6v8.1" stroke="#8b7d4e" stroke-opacity="0.2" stroke-width="1.2" fill="none"/><path d="M1332.6 289.4h0M1321.2 229.7h0M1288.5 284.4h0M1342.2 292.0h0M1306.0 267.3h0M1344.4 224.4h0M1357.0 245.9h0M1278.8 321.9h0M1326.0 236.8h0M1271.9 301.8h0M1319.3 292.4h0M1313.7 235.3h0M1346.1 210.0h0M1282.4 316.1h0M1323.8 273.0h0M1331.9 225.0h0M1313.7 253.6h0M1344.4 265.4h0M1318.8 301.7h0M1317.7 236.9h0M1319.9 247.5h0M1313.4 250.5h0M1340.4 275.8h0M1296.1 269.6h0M1287.0 289.5h0M1339.3 288.7h0M1313.0 276.5h0M1288.9 303.5h0M1291.9 253.4h0M1347.1 236.8h0M1302.4 314.8h0M1300.0 306.2h0M1324.2 260.8h0M1338.7 219.7h0M1333.0 235.6h0M1310.3 274.9h0M1358.6 259.7h0M1332.2 236.0h0M1316.4 278.2h0M1306.4 248.3h0M1334.4 260.7h0M1327.1 223.7h0M1369.0 229.1h0M1294.0 294.5h0M1319.9 230.0h0M1371.4 243.9h0M1329.1 272.5h0M1357.0 242.6h0" stroke="#8b7d4e" stroke-opacity="0.2" stroke-width="6" stroke-linecap="round" fill="none"/><line x1="1202.1" y1="370.5" x2="1427.9" y2="173.6" stroke="#222" stroke-width="1.1"/><polygon points="1261.2,320.2 1274.5,299.0 1281.9,274.0 1295.5,259.6 1304.7,253.0 1312.6,255.7 1315.9,263.5 1315.9,279.1 1311.1,290.0 1302.1,299.0 1292.9,304.0 1285.0,314.7 1275.8,317.4 1269.0,320.0" fill="#8b7d4e" fill-opacity="0.97" filter="url(#bl1)"/><polygon points="1317.8,263.5 1321.8,253.0 1332.1,244.9 1342.8,239.9 1353.3,234.7 1358.5,238.6 1355.9,247.8 1348.0,258.1 1342.8,268.8 1334.9,274.9 1324.4,281.9 1318.9,279.1" fill="#8b7d4e" fill-opacity="0.97" filter="url(#bl1)"/><path d="M1267.2 299.4v35.9M1290.6 273.2v21.8M1304.0 255.4v22.6M1286.2 298.8v20.1M1282.2 276.0v22.8M1277.4 295.5v37.9M1286.6 259.5v21.9M1289.2 289.0v38.3M1298.3 290.4v19.7M1296.9 245.4v42.2M1278.1 297.8v24.6M1306.2 268.1v23.9M1289.9 258.0v30.3M1310.4 278.7v23.1M1302.2 243.9v24.3M1291.0 270.7v32.9M1283.9 299.0v25.1M1343.7 240.4v26.7M1337.1 252.6v39.6M1332.3 242.2v26.5M1320.5 250.2v34.9M1347.4 230.2v33.0M1323.4 241.8v44.0M1332.5 252.9v27.2M1331.8 257.9v21.6M1329.9 254.0v19.4" stroke="#8b7d4e" stroke-opacity="0.16" stroke-width="1.3" fill="none"/><path d="M1291.3 282.7v12.8M1290.2 275.1v13.8M1291.6 273.1v7.4M1304.4 252.1v10.9M1308.5 254.3v8.2M1307.5 258.7v6.7M1310.3 276.3v11.8M1289.0 278.0v13.5M1268.5 308.9v15.3M1308.6 275.0v11.4M1284.9 276.7v17.0M1285.2 277.4v9.3M1306.2 276.9v14.1M1305.0 275.9v12.9M1280.2 291.7v8.7M1298.9 278.7v9.2M1310.6 260.7v10.6M1287.2 292.2v13.7M1289.2 261.2v12.5M1299.6 253.3v13.3M1295.4 287.1v14.7M1289.9 271.5v8.2M1270.0 306.0v8.1M1278.5 288.6v13.7M1275.8 308.0v14.4M1296.5 257.1v12.9M1285.2 307.1v4.1M1309.7 280.0v15.1M1291.8 298.6v10.6M1301.4 274.3v5.3M1266.4 309.0v8.5M1267.2 312.3v9.8M1281.3 275.4v13.0M1276.3 313.2v6.2M1279.1 292.2v17.6M1288.1 306.5v6.1M1301.6 293.6v5.7M1291.8 302.3v5.9M1305.1 248.3v9.7M1309.7 252.9v7.7M1307.3 263.9v14.2M1302.3 277.9v12.3M1300.6 257.1v14.8M1296.7 272.3v6.8M1263.8 312.8v12.8M1283.5 294.6v6.7M1312.6 256.9v17.2M1287.8 278.4v14.5M1312.2 278.2v15.9M1299.9 255.6v9.4M1315.3 258.1v13.1M1289.7 287.4v12.1M1268.4 315.4v6.1M1288.3 275.7v11.2M1278.8 290.8v17.0M1280.8 291.1v5.0M1303.5 278.9v17.9M1277.2 289.0v5.9M1277.5 305.5v13.3M1284.7 275.2v17.3M1289.2 290.8v10.3M1281.4 304.9v12.1M1310.5 269.9v17.1M1312.5 251.3v16.0M1300.1 290.2v15.3M1281.1 287.6v4.2M1281.0 270.1v16.7M1293.8 263.9v9.1M1336.6 236.9v14.0M1329.4 245.7v5.5M1324.4 259.2v9.3M1333.5 269.1v10.0M1354.0 229.8v18.0M1324.0 256.5v13.1M1345.8 242.9v8.5M1345.6 255.9v6.2M1350.9 241.7v12.3M1339.3 254.7v10.1M1353.0 234.6v7.3M1322.3 271.9v12.6M1345.4 247.1v4.9M1335.5 239.3v17.9M1329.5 241.1v16.7M1320.5 276.2v6.7M1347.9 251.7v6.2M1341.5 246.0v9.2M1327.4 270.5v17.9M1356.7 238.6v7.9M1347.1 236.7v9.0M1332.8 263.3v10.5M1356.5 236.0v8.5M1328.4 244.7v12.0M1353.5 244.0v11.5M1323.3 265.6v12.1M1319.9 262.2v12.2M1343.4 241.3v4.3M1347.4 234.3v11.0M1349.3 245.4v6.0M1348.1 233.7v9.4M1321.7 260.7v9.5M1324.3 260.7v16.3M1348.2 248.3v5.1M1321.5 256.9v12.0M1341.2 237.5v18.0M1319.1 264.2v8.0M1346.4 234.2v14.9M1324.4 248.6v14.5" stroke="#8b7d4e" stroke-opacity="0.35" stroke-width="1.4" fill="none"/><line x1="1415.9" y1="173.6" x2="1415.9" y2="180.2" stroke="#8b7d4e" stroke-opacity="0.85" stroke-width="1.4"/><circle cx="1415.9" cy="176.9" r="3.2" fill="#8b7d4e" fill-opacity="1"/><line x1="1369.5" y1="218.9" x2="1369.5" y2="225.5" stroke="#8b7d4e" stroke-opacity="0.85" stroke-width="1.4"/><circle cx="1369.5" cy="222.2" r="3.2" fill="#8b7d4e" fill-opacity="1"/><line x1="1364.7" y1="229.2" x2="1364.7" y2="235.8" stroke="#8b7d4e" stroke-opacity="0.85" stroke-width="1.4"/><circle cx="1364.7" cy="232.5" r="3.2" fill="#8b7d4e" fill-opacity="1"/><line x1="1379.3" y1="223.3" x2="1379.3" y2="258.3" stroke="#8b7d4e" stroke-opacity="0.42" stroke-width="1.4"/><circle cx="1379.3" cy="240.8" r="3.2" fill="#8b7d4e" fill-opacity="0.5"/><line x1="1377.8" y1="235.3" x2="1377.8" y2="274.7" stroke="#8b7d4e" stroke-opacity="0.42" stroke-width="1.4"/><circle cx="1377.8" cy="255.0" r="3.2" fill="#8b7d4e" fill-opacity="0.5"/><line x1="1361.2" y1="254.1" x2="1361.2" y2="260.7" stroke="#8b7d4e" stroke-opacity="0.85" stroke-width="1.4"/><circle cx="1361.2" cy="257.4" r="3.2" fill="#8b7d4e" fill-opacity="1"/><line x1="1353.1" y1="260.0" x2="1353.1" y2="266.6" stroke="#8b7d4e" stroke-opacity="0.85" stroke-width="1.4"/><circle cx="1353.1" cy="263.3" r="3.2" fill="#8b7d4e" fill-opacity="1"/><line x1="1370.6" y1="243.6" x2="1370.6" y2="287.4" stroke="#8b7d4e" stroke-opacity="0.34" stroke-width="1.4"/><circle cx="1370.6" cy="265.5" r="3.2" fill="#8b7d4e" fill-opacity="0.4"/><line x1="1347.6" y1="190.0" x2="1347.6" y2="233.8" stroke="#8b7d4e" stroke-opacity="0.30" stroke-width="1.4"/><circle cx="1347.6" cy="211.9" r="3.2" fill="#8b7d4e" fill-opacity="0.35"/><line x1="1354.8" y1="186.1" x2="1354.8" y2="229.8" stroke="#8b7d4e" stroke-opacity="0.30" stroke-width="1.4"/><circle cx="1354.8" cy="208.0" r="3.2" fill="#8b7d4e" fill-opacity="0.35"/><line x1="1359.2" y1="186.1" x2="1359.2" y2="229.8" stroke="#8b7d4e" stroke-opacity="0.30" stroke-width="1.4"/><circle cx="1359.2" cy="208.0" r="3.2" fill="#8b7d4e" fill-opacity="0.35"/><line x1="1267.3" y1="288.5" x2="1267.3" y2="297.2" stroke="#8b7d4e" stroke-opacity="0.85" stroke-width="1.4"/><circle cx="1267.3" cy="292.9" r="3.2" fill="#8b7d4e" fill-opacity="1"/><line x1="1270.6" y1="303.8" x2="1270.6" y2="312.6" stroke="#8b7d4e" stroke-opacity="0.85" stroke-width="1.4"/><circle cx="1270.6" cy="308.2" r="3.2" fill="#8b7d4e" fill-opacity="1"/><line x1="1261.2" y1="316.5" x2="1261.2" y2="323.1" stroke="#8b7d4e" stroke-opacity="0.85" stroke-width="1.4"/><circle cx="1261.2" cy="319.8" r="3.2" fill="#8b7d4e" fill-opacity="1"/><line x1="1260.1" y1="321.3" x2="1260.1" y2="327.9" stroke="#8b7d4e" stroke-opacity="0.85" stroke-width="1.4"/><circle cx="1260.1" cy="324.6" r="3.2" fill="#8b7d4e" fill-opacity="1"/><line x1="1268.8" y1="313.7" x2="1268.8" y2="320.2" stroke="#8b7d4e" stroke-opacity="0.85" stroke-width="1.4"/><circle cx="1268.8" cy="316.9" r="3.2" fill="#8b7d4e" fill-opacity="1"/><line x1="1244.3" y1="344.9" x2="1244.3" y2="351.5" stroke="#8b7d4e" stroke-opacity="0.85" stroke-width="1.4"/><circle cx="1244.3" cy="348.2" r="3.2" fill="#8b7d4e" fill-opacity="1"/><line x1="1238.2" y1="352.6" x2="1238.2" y2="359.2" stroke="#8b7d4e" stroke-opacity="0.85" stroke-width="1.4"/><circle cx="1238.2" cy="355.9" r="3.2" fill="#8b7d4e" fill-opacity="1"/><line x1="1225.5" y1="352.6" x2="1225.5" y2="359.2" stroke="#8b7d4e" stroke-opacity="0.85" stroke-width="1.4"/><circle cx="1225.5" cy="355.9" r="3.2" fill="#8b7d4e" fill-opacity="1"/><line x1="1225.5" y1="358.5" x2="1225.5" y2="365.1" stroke="#8b7d4e" stroke-opacity="0.85" stroke-width="1.4"/><circle cx="1225.5" cy="361.8" r="3.2" fill="#8b7d4e" fill-opacity="1"/><line x1="1211.9" y1="370.1" x2="1211.9" y2="376.7" stroke="#8b7d4e" stroke-opacity="0.85" stroke-width="1.4"/><circle cx="1211.9" cy="373.4" r="3.2" fill="#8b7d4e" fill-opacity="1"/><line x1="1333.4" y1="192.2" x2="1333.4" y2="244.7" stroke="#8b7d4e" stroke-opacity="0.26" stroke-width="1.4"/><circle cx="1333.4" cy="218.5" r="3.2" fill="#8b7d4e" fill-opacity="0.3"/><line x1="1341.0" y1="264.4" x2="1341.0" y2="308.2" stroke="#8b7d4e" stroke-opacity="0.26" stroke-width="1.4"/><circle cx="1341.0" cy="286.3" r="3.2" fill="#8b7d4e" fill-opacity="0.3"/><line x1="1322.4" y1="277.5" x2="1322.4" y2="312.6" stroke="#8b7d4e" stroke-opacity="0.26" stroke-width="1.4"/><circle cx="1322.4" cy="295.1" r="3.2" fill="#8b7d4e" fill-opacity="0.3"/><line x1="1300.5" y1="290.7" x2="1300.5" y2="325.7" stroke="#8b7d4e" stroke-opacity="0.26" stroke-width="1.4"/><circle cx="1300.5" cy="308.2" r="3.2" fill="#8b7d4e" fill-opacity="0.3"/></g>
<line x1="1201.3" y1="163.1" x2="1429.3" y2="163.1" stroke="#111" stroke-width="1.7"/>
<line x1="1202.1" y1="162.3" x2="1202.1" y2="389.0" stroke="#111" stroke-width="1.7"/>
<line x1="1427.9" y1="162.3" x2="1427.9" y2="389.0" stroke="#111" stroke-width="2.9"/>
<line x1="1201.3" y1="387.4" x2="1429.3" y2="387.4" stroke="#111" stroke-width="3.3"/>
<line x1="1210.8" y1="387.4" x2="1210.8" y2="391.0" stroke="#222" stroke-width="1.5"/>
<text transform="translate(1215.1,409.1) scale(1,1.1)" class="xl">-0.4</text>
<line x1="1262.9" y1="387.4" x2="1262.9" y2="391.0" stroke="#222" stroke-width="1.5"/>
<text transform="translate(1267.2,409.1) scale(1,1.1)" class="xl">-0.2</text>
<line x1="1317.0" y1="387.4" x2="1317.0" y2="391.0" stroke="#222" stroke-width="1.5"/>
<text transform="translate(1317.0,409.1) scale(1,1.1)" class="xl">0.0</text>
<line x1="1370.6" y1="387.4" x2="1370.6" y2="391.0" stroke="#222" stroke-width="1.5"/>
<text transform="translate(1374.9,409.1) scale(1,1.1)" class="xl">0.2</text>
<line x1="1424.2" y1="387.4" x2="1424.2" y2="391.0" stroke="#222" stroke-width="1.5"/>
<text transform="translate(1428.5,409.1) scale(1,1.1)" class="xl">0.4</text>
<line x1="1198.7" y1="213.0" x2="1202.1" y2="213.0" stroke="#222" stroke-width="1.5"/>
<text transform="translate(1199.7,219.1) scale(1,1.1)" class="yl">0.25</text>
<line x1="1198.7" y1="271.4" x2="1202.1" y2="271.4" stroke="#222" stroke-width="1.5"/>
<text transform="translate(1191.1,277.5) scale(1,1.1)" class="yl">0.00</text>
<line x1="1198.7" y1="330.1" x2="1202.1" y2="330.1" stroke="#222" stroke-width="1.5"/>
<text transform="translate(1199.7,336.2) scale(1,1.1)" class="yl">-0.25</text>
<line x1="1198.7" y1="387.4" x2="1202.1" y2="387.4" stroke="#222" stroke-width="1.5"/>
<text transform="translate(1191.1,393.5) scale(1,1.1)" class="yl">-0.50</text>
<text x="208.5" y="450.5" class="pt" clip-path="url(#t5)">Fluid balance</text>
<g clip-path="url(#c5)"><line x1="193.2" y1="464.1" x2="193.2" y2="687.4" class="dz"/><line x1="98.3" y1="592.9" x2="321.6" y2="592.9" class="dz"/><path d="M191.0 595.5v7.2M203.0 579.2v28.1M187.9 594.1v29.1M232.5 584.1v29.8M229.2 573.5v8.9M212.8 568.4v26.2M190.9 607.7v6.8M223.8 587.7v7.0M182.6 604.3v25.0M183.4 583.5v23.0M200.2 566.7v21.6M232.8 579.1v31.5M184.6 600.2v15.8M233.3 556.9v22.3M235.0 583.4v27.4M172.1 581.2v18.3M240.6 578.1v17.2M175.6 563.8v28.6M178.8 567.7v14.5M192.7 573.9v23.9M181.0 611.7v10.6M191.0 558.1v24.6M237.9 555.5v27.3M213.2 593.2v14.1M244.3 568.8v24.8M216.0 563.9v31.7" stroke="#d38a2e" stroke-opacity="0.2" stroke-width="1.2" fill="none"/><path d="M191.0 599.1h0M203.0 593.3h0M187.9 608.7h0M232.5 599.0h0M229.2 578.0h0M212.8 581.5h0M190.9 611.1h0M223.8 591.2h0M182.6 616.7h0M183.4 595.0h0M200.2 577.5h0M232.8 594.8h0M184.6 608.1h0M233.3 568.1h0M235.0 597.1h0M172.1 590.3h0M240.6 586.7h0M175.6 578.2h0M178.8 574.9h0M192.7 585.9h0M181.0 617.0h0M191.0 570.4h0M237.9 569.1h0M213.2 600.2h0M244.3 581.2h0M216.0 579.8h0" stroke="#d38a2e" stroke-opacity="0.2" stroke-width="6" stroke-linecap="round" fill="none"/><line x1="97.3" y1="632.9" x2="321.6" y2="539.3" stroke="#222" stroke-width="1.1"/><polygon points="165.8,599.4 169.1,590.7 175.7,581.9 182.2,579.7 184.9,586.3 184.4,601.6 180.0,610.4 171.3,614.7 165.8,610.4" fill="#d38a2e" fill-opacity="0.97" filter="url(#bl1)"/><polygon points="200.8,595.1 201.9,586.3 208.5,577.5 215.1,573.2 221.6,577.5 226.0,586.3 223.8,595.1 215.1,599.4 206.3,601.6" fill="#d38a2e" fill-opacity="0.97" filter="url(#bl1)"/><polygon points="226.0,571.0 232.6,566.6 238.0,571.0 238.0,577.5 230.4,579.7" fill="#d38a2e" fill-opacity="0.9" filter="url(#bl1)"/><path d="M183.8 578.9v16.6M176.3 580.5v30.6M176.4 593.7v32.3M182.2 568.9v35.0M207.1 572.2v25.6M219.8 556.7v43.5M202.5 570.0v34.7M206.7 591.7v18.1M236.2 558.3v39.0" stroke="#d38a2e" stroke-opacity="0.16" stroke-width="1.3" fill="none"/><path d="M176.3 574.6v15.6M175.8 607.8v6.2M177.2 579.1v12.1M178.0 586.0v10.1M183.5 580.3v6.7M181.2 584.3v9.5M178.1 597.7v11.5M179.0 597.1v8.6M174.0 585.8v15.8M175.9 602.3v13.7M167.1 593.4v18.0M173.1 593.9v17.0M175.0 590.7v9.9M178.0 593.3v16.4M178.7 606.1v9.6M182.6 579.0v8.8M178.9 577.3v13.3M176.9 588.1v5.9M177.1 597.1v5.0M211.4 579.8v10.0M205.8 589.7v9.4M213.1 570.1v11.9M203.9 587.2v4.9M218.3 584.7v11.5M208.0 593.1v8.4M207.0 577.5v11.1M218.6 583.7v15.2M214.1 569.4v17.1M213.1 591.1v12.7M214.5 590.0v8.4M207.4 593.2v10.0M219.2 579.9v13.0M213.8 585.9v7.5M208.1 594.0v11.0M207.4 591.0v13.3M202.8 584.2v15.4M222.8 581.7v17.9M207.5 583.7v5.7M226.4 567.1v7.6M237.1 572.6v10.2M236.7 574.5v5.8M233.2 564.7v9.6" stroke="#d38a2e" stroke-opacity="0.35" stroke-width="1.4" fill="none"/><line x1="140.0" y1="601.6" x2="140.0" y2="610.4" stroke="#d38a2e" stroke-opacity="0.81" stroke-width="1.4"/><circle cx="140.0" cy="606.0" r="3.2" fill="#d38a2e" fill-opacity="0.95"/><line x1="137.8" y1="616.3" x2="137.8" y2="622.8" stroke="#d38a2e" stroke-opacity="0.81" stroke-width="1.4"/><circle cx="137.8" cy="619.6" r="3.2" fill="#d38a2e" fill-opacity="0.95"/><line x1="146.8" y1="609.3" x2="146.8" y2="615.8" stroke="#d38a2e" stroke-opacity="0.77" stroke-width="1.4"/><circle cx="146.8" cy="612.6" r="3.2" fill="#d38a2e" fill-opacity="0.9"/><line x1="150.9" y1="591.8" x2="150.9" y2="600.5" stroke="#d38a2e" stroke-opacity="0.77" stroke-width="1.4"/><circle cx="150.9" cy="596.1" r="3.2" fill="#d38a2e" fill-opacity="0.9"/><line x1="154.9" y1="619.8" x2="154.9" y2="628.5" stroke="#d38a2e" stroke-opacity="0.81" stroke-width="1.4"/><circle cx="154.9" cy="624.2" r="3.2" fill="#d38a2e" fill-opacity="0.95"/><line x1="167.6" y1="609.9" x2="167.6" y2="618.7" stroke="#d38a2e" stroke-opacity="0.77" stroke-width="1.4"/><circle cx="167.6" cy="614.3" r="3.2" fill="#d38a2e" fill-opacity="0.9"/><line x1="166.9" y1="614.7" x2="166.9" y2="632.3" stroke="#d38a2e" stroke-opacity="0.51" stroke-width="1.4"/><circle cx="166.9" cy="623.5" r="3.2" fill="#d38a2e" fill-opacity="0.6"/><line x1="171.9" y1="615.8" x2="171.9" y2="633.3" stroke="#d38a2e" stroke-opacity="0.42" stroke-width="1.4"/><circle cx="171.9" cy="624.6" r="3.2" fill="#d38a2e" fill-opacity="0.5"/><line x1="177.9" y1="613.7" x2="177.9" y2="631.2" stroke="#d38a2e" stroke-opacity="0.34" stroke-width="1.4"/><circle cx="177.9" cy="622.4" r="3.2" fill="#d38a2e" fill-opacity="0.4"/><line x1="158.2" y1="596.1" x2="158.2" y2="609.3" stroke="#d38a2e" stroke-opacity="0.68" stroke-width="1.4"/><circle cx="158.2" cy="602.7" r="3.2" fill="#d38a2e" fill-opacity="0.8"/><line x1="112.9" y1="579.1" x2="112.9" y2="640.4" stroke="#d38a2e" stroke-opacity="0.34" stroke-width="1.4"/><circle cx="112.9" cy="609.7" r="3.2" fill="#d38a2e" fill-opacity="0.4"/><line x1="156.6" y1="538.2" x2="156.6" y2="577.5" stroke="#d38a2e" stroke-opacity="0.34" stroke-width="1.4"/><circle cx="156.6" cy="557.9" r="3.2" fill="#d38a2e" fill-opacity="0.4"/><line x1="224.5" y1="474.7" x2="224.5" y2="549.1" stroke="#d38a2e" stroke-opacity="0.26" stroke-width="1.4"/><circle cx="224.5" cy="511.9" r="3.2" fill="#d38a2e" fill-opacity="0.3"/><line x1="247.9" y1="481.9" x2="247.9" y2="569.5" stroke="#d38a2e" stroke-opacity="0.26" stroke-width="1.4"/><circle cx="247.9" cy="525.7" r="3.2" fill="#d38a2e" fill-opacity="0.3"/><line x1="305.2" y1="488.3" x2="305.2" y2="553.9" stroke="#d38a2e" stroke-opacity="0.72" stroke-width="1.4"/><circle cx="305.2" cy="521.1" r="3.2" fill="#d38a2e" fill-opacity="0.85"/><line x1="267.6" y1="557.9" x2="267.6" y2="606.0" stroke="#d38a2e" stroke-opacity="0.34" stroke-width="1.4"/><circle cx="267.6" cy="581.9" r="3.2" fill="#d38a2e" fill-opacity="0.4"/><line x1="232.1" y1="594.6" x2="232.1" y2="603.4" stroke="#d38a2e" stroke-opacity="0.77" stroke-width="1.4"/><circle cx="232.1" cy="599.0" r="3.2" fill="#d38a2e" fill-opacity="0.9"/><line x1="245.7" y1="576.5" x2="245.7" y2="585.2" stroke="#d38a2e" stroke-opacity="0.77" stroke-width="1.4"/><circle cx="245.7" cy="580.8" r="3.2" fill="#d38a2e" fill-opacity="0.9"/><line x1="241.3" y1="578.6" x2="241.3" y2="587.4" stroke="#d38a2e" stroke-opacity="0.68" stroke-width="1.4"/><circle cx="241.3" cy="583.0" r="3.2" fill="#d38a2e" fill-opacity="0.8"/><line x1="222.3" y1="599.4" x2="222.3" y2="616.9" stroke="#d38a2e" stroke-opacity="0.51" stroke-width="1.4"/><circle cx="222.3" cy="608.2" r="3.2" fill="#d38a2e" fill-opacity="0.6"/><line x1="221.6" y1="608.8" x2="221.6" y2="674.5" stroke="#d38a2e" stroke-opacity="0.26" stroke-width="1.4"/><circle cx="221.6" cy="641.7" r="3.2" fill="#d38a2e" fill-opacity="0.3"/><line x1="228.2" y1="543.6" x2="228.2" y2="561.1" stroke="#d38a2e" stroke-opacity="0.26" stroke-width="1.4"/><circle cx="228.2" cy="552.4" r="3.2" fill="#d38a2e" fill-opacity="0.3"/><line x1="232.6" y1="553.5" x2="232.6" y2="566.6" stroke="#d38a2e" stroke-opacity="0.51" stroke-width="1.4"/><circle cx="232.6" cy="560.0" r="3.2" fill="#d38a2e" fill-opacity="0.6"/><line x1="252.3" y1="551.3" x2="252.3" y2="586.3" stroke="#d38a2e" stroke-opacity="0.26" stroke-width="1.4"/><circle cx="252.3" cy="568.8" r="3.2" fill="#d38a2e" fill-opacity="0.3"/></g>
<line x1="96.5" y1="463.1" x2="323.0" y2="463.1" stroke="#111" stroke-width="1.7"/>
<line x1="97.3" y1="462.3" x2="97.3" y2="689.0" stroke="#111" stroke-width="1.7"/>
<line x1="321.6" y1="462.3" x2="321.6" y2="689.0" stroke="#111" stroke-width="2.9"/>
<line x1="96.5" y1="687.4" x2="323.0" y2="687.4" stroke="#111" stroke-width="3.3"/>
<line x1="104.8" y1="687.4" x2="104.8" y2="691.0" stroke="#222" stroke-width="1.5"/>
<text transform="translate(104.8,709.1) scale(1,1.1)" class="xl">-0.10</text>
<line x1="148.8" y1="687.4" x2="148.8" y2="691.0" stroke="#222" stroke-width="1.5"/>
<text transform="translate(153.1,709.1) scale(1,1.1)" class="xl">-0.05</text>
<line x1="193.2" y1="687.4" x2="193.2" y2="691.0" stroke="#222" stroke-width="1.5"/>
<text transform="translate(193.2,709.1) scale(1,1.1)" class="xl">0.00</text>
<line x1="237.6" y1="687.4" x2="237.6" y2="691.0" stroke="#222" stroke-width="1.5"/>
<text transform="translate(241.9,709.1) scale(1,1.1)" class="xl">0.05</text>
<line x1="281.8" y1="687.4" x2="281.8" y2="691.0" stroke="#222" stroke-width="1.5"/>
<text transform="translate(281.8,709.1) scale(1,1.1)" class="xl">0.10</text>
<line x1="93.9" y1="520.2" x2="97.3" y2="520.2" stroke="#222" stroke-width="1.5"/>
<text transform="translate(94.9,526.3) scale(1,1.1)" class="yl">0.2</text>
<line x1="93.9" y1="592.9" x2="97.3" y2="592.9" stroke="#222" stroke-width="1.5"/>
<text transform="translate(86.3,599.0) scale(1,1.1)" class="yl">0.0</text>
<line x1="93.9" y1="667.9" x2="97.3" y2="667.9" stroke="#222" stroke-width="1.5"/>
<text transform="translate(94.9,674.0) scale(1,1.1)" class="yl">-0.2</text>
<text x="479.3" y="450.5" class="pt" clip-path="url(#t6)">Free cholesterol</text>
<g clip-path="url(#c6)"><line x1="503.8" y1="464.1" x2="503.8" y2="687.4" class="dz"/><line x1="368.7" y1="575.8" x2="592.9" y2="575.8" class="dz"/><path d="M490.0 542.3v25.7M481.6 570.8v11.8M515.5 550.8v20.6M522.3 557.2v7.7M485.5 602.0v18.8M513.8 529.7v22.9M517.7 558.6v15.3M490.5 565.0v6.3M501.0 562.2v13.1M508.0 576.2v19.9M512.8 561.2v22.4M519.9 577.5v9.4M492.1 544.1v12.8M498.4 590.1v8.2M503.4 536.1v25.3M524.1 561.9v10.7M491.9 541.3v30.7M488.0 554.2v28.5M479.3 560.4v13.2" stroke="#7f8f35" stroke-opacity="0.2" stroke-width="1.2" fill="none"/><path d="M490.0 555.2h0M481.6 576.7h0M515.5 561.1h0M522.3 561.0h0M485.5 611.4h0M513.8 541.1h0M517.7 566.3h0M490.5 568.2h0M501.0 568.7h0M508.0 586.1h0M512.8 572.4h0M519.9 582.2h0M492.1 550.5h0M498.4 594.2h0M503.4 548.8h0M524.1 567.3h0M491.9 556.7h0M488.0 568.5h0M479.3 567.0h0" stroke="#7f8f35" stroke-opacity="0.2" stroke-width="6" stroke-linecap="round" fill="none"/><line x1="387.8" y1="687.4" x2="592.9" y2="491.1" stroke="#222" stroke-width="1.1"/><polygon points="466.6,595.1 473.2,588.5 481.9,579.7 490.7,573.2 497.2,568.8 502.7,571.0 502.7,581.9 497.2,590.7 490.7,595.1 481.9,597.2 473.2,598.3" fill="#7f8f35" fill-opacity="0.97" filter="url(#bl1)"/><polygon points="504.9,577.5 506.0,566.6 510.4,560.0 519.1,557.9 525.7,561.1 527.9,566.6 523.5,571.0 514.7,573.2 510.4,579.7" fill="#7f8f35" fill-opacity="0.97" filter="url(#bl1)"/><path d="M490.5 558.7v31.6M495.2 559.4v41.6M491.9 569.1v43.0M500.6 575.6v16.3M484.2 567.6v35.7M508.7 552.8v19.9M516.8 552.7v21.4" stroke="#7f8f35" stroke-opacity="0.16" stroke-width="1.3" fill="none"/><path d="M485.5 586.2v10.5M492.2 579.5v16.0M497.2 564.7v9.9M493.5 571.1v6.1M495.2 587.0v8.2M495.5 578.4v8.2M496.9 570.5v6.8M500.2 579.3v4.9M471.4 589.3v4.5M483.8 582.7v15.8M498.3 575.6v15.7M473.6 591.4v10.3M472.7 584.3v17.3M496.3 580.7v13.1M500.0 581.6v5.5M485.2 591.5v6.0M490.8 582.3v5.3M483.4 576.4v14.0M495.4 573.5v13.4M485.4 587.5v4.2M498.9 569.6v7.0M481.4 575.8v16.4M507.1 564.8v16.0M515.4 558.6v16.4M523.7 562.1v10.5M514.4 562.9v12.3M522.3 560.1v11.2M507.9 564.1v16.0M521.4 563.6v13.4M513.4 560.2v12.3M508.8 570.7v13.6M522.6 562.2v12.0M514.4 555.9v11.7" stroke="#7f8f35" stroke-opacity="0.35" stroke-width="1.4" fill="none"/><line x1="377.5" y1="659.6" x2="377.5" y2="677.1" stroke="#7f8f35" stroke-opacity="0.85" stroke-width="1.4"/><circle cx="377.5" cy="668.4" r="3.2" fill="#7f8f35" fill-opacity="1"/><line x1="415.6" y1="627.4" x2="415.6" y2="644.9" stroke="#7f8f35" stroke-opacity="0.85" stroke-width="1.4"/><circle cx="415.6" cy="636.2" r="3.2" fill="#7f8f35" fill-opacity="1"/><line x1="461.1" y1="604.9" x2="461.1" y2="624.6" stroke="#7f8f35" stroke-opacity="0.85" stroke-width="1.4"/><circle cx="461.1" cy="614.7" r="3.2" fill="#7f8f35" fill-opacity="1"/><line x1="461.4" y1="599.0" x2="461.4" y2="605.6" stroke="#7f8f35" stroke-opacity="0.85" stroke-width="1.4"/><circle cx="461.4" cy="602.3" r="3.2" fill="#7f8f35" fill-opacity="1"/><line x1="579.3" y1="473.0" x2="579.3" y2="521.1" stroke="#7f8f35" stroke-opacity="0.81" stroke-width="1.4"/><circle cx="579.3" cy="497.0" r="3.2" fill="#7f8f35" fill-opacity="0.95"/><line x1="560.7" y1="527.7" x2="560.7" y2="534.2" stroke="#7f8f35" stroke-opacity="0.85" stroke-width="1.4"/><circle cx="560.7" cy="530.9" r="3.2" fill="#7f8f35" fill-opacity="1"/><line x1="529.4" y1="553.0" x2="529.4" y2="559.6" stroke="#7f8f35" stroke-opacity="0.85" stroke-width="1.4"/><circle cx="529.4" cy="556.3" r="3.2" fill="#7f8f35" fill-opacity="1"/><line x1="522.4" y1="545.8" x2="522.4" y2="554.6" stroke="#7f8f35" stroke-opacity="0.68" stroke-width="1.4"/><circle cx="522.4" cy="550.2" r="3.2" fill="#7f8f35" fill-opacity="0.8"/><line x1="530.7" y1="512.6" x2="530.7" y2="556.3" stroke="#7f8f35" stroke-opacity="0.34" stroke-width="1.4"/><circle cx="530.7" cy="534.4" r="3.2" fill="#7f8f35" fill-opacity="0.4"/><line x1="520.9" y1="485.6" x2="520.9" y2="533.8" stroke="#7f8f35" stroke-opacity="0.30" stroke-width="1.4"/><circle cx="520.9" cy="509.7" r="3.2" fill="#7f8f35" fill-opacity="0.35"/><line x1="491.3" y1="506.4" x2="491.3" y2="558.9" stroke="#7f8f35" stroke-opacity="0.26" stroke-width="1.4"/><circle cx="491.3" cy="532.7" r="3.2" fill="#7f8f35" fill-opacity="0.3"/><line x1="479.7" y1="533.8" x2="479.7" y2="577.5" stroke="#7f8f35" stroke-opacity="0.34" stroke-width="1.4"/><circle cx="479.7" cy="555.7" r="3.2" fill="#7f8f35" fill-opacity="0.4"/><line x1="539.3" y1="544.7" x2="539.3" y2="597.2" stroke="#7f8f35" stroke-opacity="0.26" stroke-width="1.4"/><circle cx="539.3" cy="571.0" r="3.2" fill="#7f8f35" fill-opacity="0.3"/><line x1="477.5" y1="603.4" x2="477.5" y2="612.1" stroke="#7f8f35" stroke-opacity="0.42" stroke-width="1.4"/><circle cx="477.5" cy="607.7" r="3.2" fill="#7f8f35" fill-opacity="0.5"/><line x1="485.6" y1="586.3" x2="485.6" y2="621.3" stroke="#7f8f35" stroke-opacity="0.34" stroke-width="1.4"/><circle cx="485.6" cy="603.8" r="3.2" fill="#7f8f35" fill-opacity="0.4"/><line x1="518.0" y1="528.3" x2="518.0" y2="550.2" stroke="#7f8f35" stroke-opacity="0.26" stroke-width="1.4"/><circle cx="518.0" cy="539.3" r="3.2" fill="#7f8f35" fill-opacity="0.3"/><line x1="520.2" y1="559.4" x2="520.2" y2="611.9" stroke="#7f8f35" stroke-opacity="0.26" stroke-width="1.4"/><circle cx="520.2" cy="585.6" r="3.2" fill="#7f8f35" fill-opacity="0.3"/><line x1="468.8" y1="591.8" x2="468.8" y2="602.7" stroke="#7f8f35" stroke-opacity="0.68" stroke-width="1.4"/><circle cx="468.8" cy="597.2" r="3.2" fill="#7f8f35" fill-opacity="0.8"/></g>
<line x1="366.9" y1="463.1" x2="594.3" y2="463.1" stroke="#111" stroke-width="1.7"/>
<line x1="367.7" y1="462.3" x2="367.7" y2="689.0" stroke="#111" stroke-width="1.7"/>
<line x1="592.9" y1="462.3" x2="592.9" y2="689.0" stroke="#111" stroke-width="2.9"/>
<line x1="366.9" y1="687.4" x2="594.3" y2="687.4" stroke="#111" stroke-width="3.3"/>
<line x1="432.5" y1="687.4" x2="432.5" y2="691.0" stroke="#222" stroke-width="1.5"/>
<text transform="translate(436.8,709.1) scale(1,1.1)" class="xl">-0.25</text>
<line x1="503.8" y1="687.4" x2="503.8" y2="691.0" stroke="#222" stroke-width="1.5"/>
<text transform="translate(503.8,709.1) scale(1,1.1)" class="xl">0.00</text>
<line x1="575.6" y1="687.4" x2="575.6" y2="691.0" stroke="#222" stroke-width="1.5"/>
<text transform="translate(579.9,709.1) scale(1,1.1)" class="xl">0.25</text>
<line x1="364.3" y1="467.0" x2="367.7" y2="467.0" stroke="#222" stroke-width="1.5"/>
<text transform="translate(365.3,473.1) scale(1,1.1)" class="yl">0.4</text>
<line x1="364.3" y1="522.2" x2="367.7" y2="522.2" stroke="#222" stroke-width="1.5"/>
<text transform="translate(365.3,528.3) scale(1,1.1)" class="yl">0.2</text>
<line x1="364.3" y1="575.8" x2="367.7" y2="575.8" stroke="#222" stroke-width="1.5"/>
<text transform="translate(356.7,581.9) scale(1,1.1)" class="yl">0.0</text>
<line x1="364.3" y1="631.2" x2="367.7" y2="631.2" stroke="#222" stroke-width="1.5"/>
<text transform="translate(365.3,637.3) scale(1,1.1)" class="yl">-0.2</text>
<line x1="364.3" y1="686.5" x2="367.7" y2="686.5" stroke="#222" stroke-width="1.5"/>
<text transform="translate(365.3,692.6) scale(1,1.1)" class="yl">-0.4</text>
<text x="758.2" y="450.5" class="pt" clip-path="url(#t7)">Glycolysis related metabolites</text>
<g clip-path="url(#c7)"><line x1="738.5" y1="464.1" x2="738.5" y2="687.4" class="dz"/><line x1="647.6" y1="590.7" x2="871.8" y2="590.7" class="dz"/><path d="M754.2 600.3v22.2M746.4 588.7v13.4M732.9 566.8v22.5M732.2 558.2v27.6M709.4 604.3v27.8M721.9 571.2v6.5M704.2 601.8v20.1M755.6 570.5v13.1M738.0 582.7v17.7M757.3 584.1v12.9M738.2 592.4v14.7M718.7 589.4v19.5M728.6 562.0v23.9M763.7 573.6v9.3M707.6 604.7v6.6M750.1 550.8v25.0M713.6 592.7v12.0M718.7 576.4v14.1M733.8 573.4v24.2M734.2 561.2v24.7" stroke="#3f8f48" stroke-opacity="0.2" stroke-width="1.2" fill="none"/><path d="M754.2 611.4h0M746.4 595.5h0M732.9 578.0h0M732.2 572.0h0M709.4 618.3h0M721.9 574.5h0M704.2 611.8h0M755.6 577.0h0M738.0 591.5h0M757.3 590.5h0M738.2 599.7h0M718.7 599.1h0M728.6 573.9h0M763.7 578.3h0M707.6 607.9h0M750.1 563.3h0M713.6 598.7h0M718.7 583.4h0M733.8 585.5h0M734.2 573.6h0" stroke="#3f8f48" stroke-opacity="0.2" stroke-width="6" stroke-linecap="round" fill="none"/><line x1="646.6" y1="655.9" x2="871.8" y2="496.6" stroke="#222" stroke-width="1.1"/><polygon points="719.3,601.6 721.4,588.5 724.7,579.7 729.1,577.5 732.4,584.1 731.9,601.6 729.1,610.4 723.6,612.6" fill="#3f8f48" fill-opacity="0.97" filter="url(#bl1)"/><polygon points="745.5,590.7 746.6,577.5 751.0,568.8 757.5,566.6 761.9,573.2 763.0,586.3 757.5,595.1 751.0,597.2" fill="#3f8f48" fill-opacity="0.97" filter="url(#bl1)"/><polygon points="702.8,614.7 709.4,606.0 718.2,599.4 722.5,606.0 716.0,616.9 707.2,621.3" fill="#3f8f48" fill-opacity="0.75" filter="url(#bl1)"/><path d="M729.5 565.1v36.7M729.0 585.2v30.4M731.4 574.7v19.4M754.0 583.3v17.7M754.1 561.2v21.0M749.5 578.5v25.3M709.6 597.5v34.6M714.3 604.1v21.1" stroke="#3f8f48" stroke-opacity="0.16" stroke-width="1.3" fill="none"/><path d="M725.0 591.3v6.8M728.1 599.1v8.2M721.6 598.9v5.6M725.7 605.5v6.6M727.2 592.3v10.1M725.8 605.6v4.6M721.9 589.9v10.3M724.3 601.1v17.2M723.7 579.2v8.2M721.8 598.4v8.7M724.0 578.2v7.7M730.2 596.0v16.8M731.2 582.9v11.4M757.7 583.0v4.6M759.5 570.9v15.5M761.2 574.5v8.7M756.2 582.3v11.4M748.4 580.6v10.0M756.4 584.8v15.0M753.7 569.0v9.9M753.4 567.3v15.8M758.0 584.1v5.2M755.8 572.0v7.2M752.3 580.9v8.7M753.9 584.5v4.6M760.1 571.6v6.6M758.0 583.8v12.7M747.6 576.8v5.5M712.6 604.5v12.7M708.3 610.5v15.9M708.7 612.6v9.6M716.3 604.6v5.8M709.9 611.9v6.8M710.2 603.1v16.2M710.0 603.8v10.1M706.2 606.5v17.1" stroke="#3f8f48" stroke-opacity="0.35" stroke-width="1.4" fill="none"/><line x1="658.0" y1="634.4" x2="658.0" y2="651.9" stroke="#3f8f48" stroke-opacity="0.85" stroke-width="1.4"/><circle cx="658.0" cy="643.2" r="3.2" fill="#3f8f48" fill-opacity="1"/><line x1="675.5" y1="632.9" x2="675.5" y2="650.4" stroke="#3f8f48" stroke-opacity="0.85" stroke-width="1.4"/><circle cx="675.5" cy="641.7" r="3.2" fill="#3f8f48" fill-opacity="1"/><line x1="674.0" y1="626.1" x2="674.0" y2="639.3" stroke="#3f8f48" stroke-opacity="0.85" stroke-width="1.4"/><circle cx="674.0" cy="632.7" r="3.2" fill="#3f8f48" fill-opacity="1"/><line x1="680.3" y1="619.1" x2="680.3" y2="632.3" stroke="#3f8f48" stroke-opacity="0.85" stroke-width="1.4"/><circle cx="680.3" cy="625.7" r="3.2" fill="#3f8f48" fill-opacity="1"/><line x1="681.0" y1="577.1" x2="681.0" y2="629.6" stroke="#3f8f48" stroke-opacity="0.42" stroke-width="1.4"/><circle cx="681.0" cy="603.4" r="3.2" fill="#3f8f48" fill-opacity="0.5"/><line x1="668.3" y1="587.8" x2="668.3" y2="662.2" stroke="#3f8f48" stroke-opacity="0.34" stroke-width="1.4"/><circle cx="668.3" cy="625.0" r="3.2" fill="#3f8f48" fill-opacity="0.4"/><line x1="694.7" y1="549.1" x2="694.7" y2="610.4" stroke="#3f8f48" stroke-opacity="0.30" stroke-width="1.4"/><circle cx="694.7" cy="579.7" r="3.2" fill="#3f8f48" fill-opacity="0.35"/><line x1="693.4" y1="603.2" x2="693.4" y2="625.0" stroke="#3f8f48" stroke-opacity="0.26" stroke-width="1.4"/><circle cx="693.4" cy="614.1" r="3.2" fill="#3f8f48" fill-opacity="0.3"/><line x1="859.3" y1="529.0" x2="859.3" y2="546.5" stroke="#3f8f48" stroke-opacity="0.85" stroke-width="1.4"/><circle cx="859.3" cy="537.7" r="3.2" fill="#3f8f48" fill-opacity="1"/><line x1="803.1" y1="546.3" x2="803.1" y2="559.4" stroke="#3f8f48" stroke-opacity="0.85" stroke-width="1.4"/><circle cx="803.1" cy="552.8" r="3.2" fill="#3f8f48" fill-opacity="1"/><line x1="807.9" y1="545.8" x2="807.9" y2="563.3" stroke="#3f8f48" stroke-opacity="0.85" stroke-width="1.4"/><circle cx="807.9" cy="554.6" r="3.2" fill="#3f8f48" fill-opacity="1"/><line x1="801.8" y1="525.0" x2="801.8" y2="599.4" stroke="#3f8f48" stroke-opacity="0.42" stroke-width="1.4"/><circle cx="801.8" cy="562.2" r="3.2" fill="#3f8f48" fill-opacity="0.5"/><line x1="778.3" y1="473.6" x2="778.3" y2="548.0" stroke="#3f8f48" stroke-opacity="0.26" stroke-width="1.4"/><circle cx="778.3" cy="510.8" r="3.2" fill="#3f8f48" fill-opacity="0.3"/><line x1="780.1" y1="538.2" x2="780.1" y2="560.0" stroke="#3f8f48" stroke-opacity="0.42" stroke-width="1.4"/><circle cx="780.1" cy="549.1" r="3.2" fill="#3f8f48" fill-opacity="0.5"/><line x1="781.2" y1="548.7" x2="781.2" y2="566.2" stroke="#3f8f48" stroke-opacity="0.42" stroke-width="1.4"/><circle cx="781.2" cy="557.4" r="3.2" fill="#3f8f48" fill-opacity="0.5"/><line x1="770.2" y1="557.9" x2="770.2" y2="571.0" stroke="#3f8f48" stroke-opacity="0.68" stroke-width="1.4"/><circle cx="770.2" cy="564.4" r="3.2" fill="#3f8f48" fill-opacity="0.8"/><line x1="771.8" y1="569.2" x2="771.8" y2="582.4" stroke="#3f8f48" stroke-opacity="0.68" stroke-width="1.4"/><circle cx="771.8" cy="575.8" r="3.2" fill="#3f8f48" fill-opacity="0.8"/><line x1="780.5" y1="562.2" x2="780.5" y2="575.4" stroke="#3f8f48" stroke-opacity="0.59" stroke-width="1.4"/><circle cx="780.5" cy="568.8" r="3.2" fill="#3f8f48" fill-opacity="0.7"/><line x1="786.4" y1="558.9" x2="786.4" y2="572.1" stroke="#3f8f48" stroke-opacity="0.59" stroke-width="1.4"/><circle cx="786.4" cy="565.5" r="3.2" fill="#3f8f48" fill-opacity="0.7"/><line x1="763.0" y1="588.1" x2="763.0" y2="605.6" stroke="#3f8f48" stroke-opacity="0.51" stroke-width="1.4"/><circle cx="763.0" cy="596.8" r="3.2" fill="#3f8f48" fill-opacity="0.6"/><line x1="722.5" y1="626.8" x2="722.5" y2="644.3" stroke="#3f8f48" stroke-opacity="0.26" stroke-width="1.4"/><circle cx="722.5" cy="635.5" r="3.2" fill="#3f8f48" fill-opacity="0.3"/><line x1="767.0" y1="613.0" x2="767.0" y2="678.6" stroke="#3f8f48" stroke-opacity="0.26" stroke-width="1.4"/><circle cx="767.0" cy="645.8" r="3.2" fill="#3f8f48" fill-opacity="0.3"/><line x1="794.3" y1="568.1" x2="794.3" y2="611.9" stroke="#3f8f48" stroke-opacity="0.26" stroke-width="1.4"/><circle cx="794.3" cy="590.0" r="3.2" fill="#3f8f48" fill-opacity="0.3"/><line x1="724.1" y1="550.2" x2="724.1" y2="580.8" stroke="#3f8f48" stroke-opacity="0.26" stroke-width="1.4"/><circle cx="724.1" cy="565.5" r="3.2" fill="#3f8f48" fill-opacity="0.3"/><line x1="717.1" y1="573.2" x2="717.1" y2="590.7" stroke="#3f8f48" stroke-opacity="0.42" stroke-width="1.4"/><circle cx="717.1" cy="581.9" r="3.2" fill="#3f8f48" fill-opacity="0.5"/><line x1="711.6" y1="577.5" x2="711.6" y2="595.1" stroke="#3f8f48" stroke-opacity="0.42" stroke-width="1.4"/><circle cx="711.6" cy="586.3" r="3.2" fill="#3f8f48" fill-opacity="0.5"/><line x1="709.4" y1="586.3" x2="709.4" y2="603.8" stroke="#3f8f48" stroke-opacity="0.42" stroke-width="1.4"/><circle cx="709.4" cy="595.1" r="3.2" fill="#3f8f48" fill-opacity="0.5"/><line x1="755.4" y1="575.4" x2="755.4" y2="636.6" stroke="#3f8f48" stroke-opacity="0.34" stroke-width="1.4"/><circle cx="755.4" cy="606.0" r="3.2" fill="#3f8f48" fill-opacity="0.4"/></g>
<line x1="645.8" y1="463.1" x2="873.2" y2="463.1" stroke="#111" stroke-width="1.7"/>
<line x1="646.6" y1="462.3" x2="646.6" y2="689.0" stroke="#111" stroke-width="1.7"/>
<line x1="871.8" y1="462.3" x2="871.8" y2="689.0" stroke="#111" stroke-width="2.9"/>
<line x1="645.8" y1="687.4" x2="873.2" y2="687.4" stroke="#111" stroke-width="3.3"/>
<line x1="673.3" y1="687.4" x2="673.3" y2="691.0" stroke="#222" stroke-width="1.5"/>
<text transform="translate(677.6,709.1) scale(1,1.1)" class="xl">-0.1</text>
<line x1="738.5" y1="687.4" x2="738.5" y2="691.0" stroke="#222" stroke-width="1.5"/>
<text transform="translate(738.5,709.1) scale(1,1.1)" class="xl">0.0</text>
<line x1="803.9" y1="687.4" x2="803.9" y2="691.0" stroke="#222" stroke-width="1.5"/>
<text transform="translate(808.2,709.1) scale(1,1.1)" class="xl">0.1</text>
<line x1="869.8" y1="687.4" x2="869.8" y2="691.0" stroke="#222" stroke-width="1.5"/>
<text transform="translate(874.1,709.1) scale(1,1.1)" class="xl">0.2</text>
<line x1="643.2" y1="498.8" x2="646.6" y2="498.8" stroke="#222" stroke-width="1.5"/>
<text transform="translate(644.2,504.9) scale(1,1.1)" class="yl">0.2</text>
<line x1="643.2" y1="544.7" x2="646.6" y2="544.7" stroke="#222" stroke-width="1.5"/>
<text transform="translate(644.2,550.8) scale(1,1.1)" class="yl">0.1</text>
<line x1="643.2" y1="590.7" x2="646.6" y2="590.7" stroke="#222" stroke-width="1.5"/>
<text transform="translate(635.6,596.8) scale(1,1.1)" class="yl">0.0</text>
<line x1="643.2" y1="637.7" x2="646.6" y2="637.7" stroke="#222" stroke-width="1.5"/>
<text transform="translate(644.2,643.8) scale(1,1.1)" class="yl">-0.1</text>
<line x1="643.2" y1="685.2" x2="646.6" y2="685.2" stroke="#222" stroke-width="1.5"/>
<text transform="translate(644.2,691.3) scale(1,1.1)" class="yl">-0.2</text>
<text x="1029.1" y="450.5" class="pt" clip-path="url(#t8)">Inflammation</text>
<g clip-path="url(#c8)"><line x1="1018.8" y1="464.1" x2="1018.8" y2="687.4" class="dz"/><line x1="918.0" y1="602.7" x2="1142.9" y2="602.7" class="dz"/><path d="M1009.7 601.3v18.6M1028.0 608.6v18.0M1040.0 593.7v20.0M1003.4 574.7v29.6M1039.7 563.0v29.1M1003.4 605.3v25.0M1015.3 591.0v8.6M1009.8 608.9v26.2M1015.4 589.4v12.9M1022.4 604.4v8.2M1023.2 589.7v7.4M1010.7 595.7v10.1M993.7 589.7v17.2M1008.5 603.1v22.5" stroke="#4a8a6e" stroke-opacity="0.2" stroke-width="1.2" fill="none"/><path d="M1009.7 610.6h0M1028.0 617.7h0M1040.0 603.7h0M1003.4 589.5h0M1039.7 577.5h0M1003.4 617.8h0M1015.3 595.4h0M1009.8 622.0h0M1015.4 595.8h0M1022.4 608.5h0M1023.2 593.3h0M1010.7 600.8h0M993.7 598.3h0M1008.5 614.3h0" stroke="#4a8a6e" stroke-opacity="0.2" stroke-width="6" stroke-linecap="round" fill="none"/><line x1="917.0" y1="659.6" x2="1142.9" y2="532.7" stroke="#222" stroke-width="1.1"/><polygon points="1000.2,608.2 1001.3,597.2 1004.6,592.9 1008.9,595.1 1011.1,603.8 1010.0,616.9 1005.7,621.3 1001.3,616.9" fill="#4a8a6e" fill-opacity="0.9" filter="url(#bl1)"/><polygon points="1026.5,601.6 1027.5,590.7 1031.9,584.1 1037.4,586.3 1038.5,595.1 1035.2,603.8 1029.7,610.4" fill="#4a8a6e" fill-opacity="0.9" filter="url(#bl1)"/><path d="M1004.6 579.2v28.0M1007.0 586.8v21.6M1037.1 581.4v21.2M1032.5 592.7v23.5" stroke="#4a8a6e" stroke-opacity="0.16" stroke-width="1.3" fill="none"/><path d="M1002.9 611.5v13.9M1005.9 603.3v17.8M1002.0 610.2v8.8M1003.6 597.5v14.2M1007.8 604.9v7.4M1001.8 596.1v15.3M1002.4 613.1v7.5M1008.2 606.7v14.0M1006.6 592.7v15.4M1029.3 598.1v8.5M1032.2 580.8v14.9M1032.7 599.9v4.6M1035.9 595.0v9.7M1030.6 598.8v17.8M1034.6 588.9v5.5M1028.6 586.5v9.7M1033.6 590.3v11.1" stroke="#4a8a6e" stroke-opacity="0.35" stroke-width="1.4" fill="none"/><line x1="941.1" y1="662.5" x2="941.1" y2="675.6" stroke="#4a8a6e" stroke-opacity="0.85" stroke-width="1.4"/><circle cx="941.1" cy="669.0" r="3.2" fill="#4a8a6e" fill-opacity="1"/><line x1="951.4" y1="641.4" x2="951.4" y2="654.6" stroke="#4a8a6e" stroke-opacity="0.85" stroke-width="1.4"/><circle cx="951.4" cy="648.0" r="3.2" fill="#4a8a6e" fill-opacity="1"/><line x1="949.4" y1="630.1" x2="949.4" y2="647.6" stroke="#4a8a6e" stroke-opacity="0.81" stroke-width="1.4"/><circle cx="949.4" cy="638.8" r="3.2" fill="#4a8a6e" fill-opacity="0.95"/><line x1="959.1" y1="601.2" x2="959.1" y2="618.7" stroke="#4a8a6e" stroke-opacity="0.81" stroke-width="1.4"/><circle cx="959.1" cy="609.9" r="3.2" fill="#4a8a6e" fill-opacity="0.95"/><line x1="975.5" y1="611.9" x2="975.5" y2="625.0" stroke="#4a8a6e" stroke-opacity="0.81" stroke-width="1.4"/><circle cx="975.5" cy="618.5" r="3.2" fill="#4a8a6e" fill-opacity="0.95"/><line x1="972.4" y1="606.0" x2="972.4" y2="671.6" stroke="#4a8a6e" stroke-opacity="0.51" stroke-width="1.4"/><circle cx="972.4" cy="638.8" r="3.2" fill="#4a8a6e" fill-opacity="0.6"/><line x1="980.5" y1="618.0" x2="980.5" y2="635.5" stroke="#4a8a6e" stroke-opacity="0.42" stroke-width="1.4"/><circle cx="980.5" cy="626.8" r="3.2" fill="#4a8a6e" fill-opacity="0.5"/><line x1="970.2" y1="627.9" x2="970.2" y2="645.4" stroke="#4a8a6e" stroke-opacity="0.34" stroke-width="1.4"/><circle cx="970.2" cy="636.6" r="3.2" fill="#4a8a6e" fill-opacity="0.4"/><line x1="992.5" y1="596.6" x2="992.5" y2="614.1" stroke="#4a8a6e" stroke-opacity="0.59" stroke-width="1.4"/><circle cx="992.5" cy="605.3" r="3.2" fill="#4a8a6e" fill-opacity="0.7"/><line x1="995.2" y1="626.8" x2="995.2" y2="639.9" stroke="#4a8a6e" stroke-opacity="0.42" stroke-width="1.4"/><circle cx="995.2" cy="633.3" r="3.2" fill="#4a8a6e" fill-opacity="0.5"/><line x1="1003.5" y1="620.2" x2="1003.5" y2="633.3" stroke="#4a8a6e" stroke-opacity="0.42" stroke-width="1.4"/><circle cx="1003.5" cy="626.8" r="3.2" fill="#4a8a6e" fill-opacity="0.5"/><line x1="1004.1" y1="582.6" x2="1004.1" y2="595.7" stroke="#4a8a6e" stroke-opacity="0.42" stroke-width="1.4"/><circle cx="1004.1" cy="589.1" r="3.2" fill="#4a8a6e" fill-opacity="0.5"/><line x1="932.8" y1="543.2" x2="932.8" y2="635.1" stroke="#4a8a6e" stroke-opacity="0.34" stroke-width="1.4"/><circle cx="932.8" cy="589.1" r="3.2" fill="#4a8a6e" fill-opacity="0.4"/><line x1="1130.0" y1="509.7" x2="1130.0" y2="527.2" stroke="#4a8a6e" stroke-opacity="0.85" stroke-width="1.4"/><circle cx="1130.0" cy="518.5" r="3.2" fill="#4a8a6e" fill-opacity="1"/><line x1="1104.8" y1="527.2" x2="1104.8" y2="560.0" stroke="#4a8a6e" stroke-opacity="0.81" stroke-width="1.4"/><circle cx="1104.8" cy="543.6" r="3.2" fill="#4a8a6e" fill-opacity="0.95"/><line x1="1073.1" y1="472.1" x2="1073.1" y2="546.5" stroke="#4a8a6e" stroke-opacity="0.30" stroke-width="1.4"/><circle cx="1073.1" cy="509.3" r="3.2" fill="#4a8a6e" fill-opacity="0.35"/><line x1="1073.1" y1="533.3" x2="1073.1" y2="559.6" stroke="#4a8a6e" stroke-opacity="0.30" stroke-width="1.4"/><circle cx="1073.1" cy="546.5" r="3.2" fill="#4a8a6e" fill-opacity="0.35"/><line x1="1076.3" y1="553.0" x2="1076.3" y2="609.9" stroke="#4a8a6e" stroke-opacity="0.34" stroke-width="1.4"/><circle cx="1076.3" cy="581.5" r="3.2" fill="#4a8a6e" fill-opacity="0.4"/><line x1="1066.3" y1="577.1" x2="1066.3" y2="590.2" stroke="#4a8a6e" stroke-opacity="0.72" stroke-width="1.4"/><circle cx="1066.3" cy="583.7" r="3.2" fill="#4a8a6e" fill-opacity="0.85"/><line x1="1061.5" y1="567.7" x2="1061.5" y2="580.8" stroke="#4a8a6e" stroke-opacity="0.68" stroke-width="1.4"/><circle cx="1061.5" cy="574.3" r="3.2" fill="#4a8a6e" fill-opacity="0.8"/><line x1="1053.8" y1="572.1" x2="1053.8" y2="585.2" stroke="#4a8a6e" stroke-opacity="0.77" stroke-width="1.4"/><circle cx="1053.8" cy="578.6" r="3.2" fill="#4a8a6e" fill-opacity="0.9"/><line x1="1055.6" y1="583.7" x2="1055.6" y2="596.8" stroke="#4a8a6e" stroke-opacity="0.42" stroke-width="1.4"/><circle cx="1055.6" cy="590.2" r="3.2" fill="#4a8a6e" fill-opacity="0.5"/><line x1="1061.5" y1="572.1" x2="1061.5" y2="615.8" stroke="#4a8a6e" stroke-opacity="0.34" stroke-width="1.4"/><circle cx="1061.5" cy="594.0" r="3.2" fill="#4a8a6e" fill-opacity="0.4"/><line x1="1045.1" y1="585.2" x2="1045.1" y2="611.5" stroke="#4a8a6e" stroke-opacity="0.59" stroke-width="1.4"/><circle cx="1045.1" cy="598.3" r="3.2" fill="#4a8a6e" fill-opacity="0.7"/><line x1="1046.1" y1="565.5" x2="1046.1" y2="591.8" stroke="#4a8a6e" stroke-opacity="0.26" stroke-width="1.4"/><circle cx="1046.1" cy="578.6" r="3.2" fill="#4a8a6e" fill-opacity="0.3"/><line x1="1032.6" y1="560.0" x2="1032.6" y2="586.3" stroke="#4a8a6e" stroke-opacity="0.26" stroke-width="1.4"/><circle cx="1032.6" cy="573.2" r="3.2" fill="#4a8a6e" fill-opacity="0.3"/><line x1="1042.9" y1="585.2" x2="1042.9" y2="624.6" stroke="#4a8a6e" stroke-opacity="0.34" stroke-width="1.4"/><circle cx="1042.9" cy="604.9" r="3.2" fill="#4a8a6e" fill-opacity="0.4"/><line x1="1040.7" y1="584.1" x2="1040.7" y2="623.5" stroke="#4a8a6e" stroke-opacity="0.26" stroke-width="1.4"/><circle cx="1040.7" cy="603.8" r="3.2" fill="#4a8a6e" fill-opacity="0.3"/></g>
<line x1="916.2" y1="463.1" x2="1144.3" y2="463.1" stroke="#111" stroke-width="1.7"/>
<line x1="917.0" y1="462.3" x2="917.0" y2="689.0" stroke="#111" stroke-width="1.7"/>
<line x1="1142.9" y1="462.3" x2="1142.9" y2="689.0" stroke="#111" stroke-width="2.9"/>
<line x1="916.2" y1="687.4" x2="1144.3" y2="687.4" stroke="#111" stroke-width="3.3"/>
<line x1="951.0" y1="687.4" x2="951.0" y2="691.0" stroke="#222" stroke-width="1.5"/>
<text transform="translate(955.3,709.1) scale(1,1.1)" class="xl">-0.1</text>
<line x1="1018.8" y1="687.4" x2="1018.8" y2="691.0" stroke="#222" stroke-width="1.5"/>
<text transform="translate(1018.8,709.1) scale(1,1.1)" class="xl">0.0</text>
<line x1="1087.1" y1="687.4" x2="1087.1" y2="691.0" stroke="#222" stroke-width="1.5"/>
<text transform="translate(1091.4,709.1) scale(1,1.1)" class="xl">0.1</text>
<line x1="913.6" y1="527.2" x2="917.0" y2="527.2" stroke="#222" stroke-width="1.5"/>
<text transform="translate(914.6,533.3) scale(1,1.1)" class="yl">0.2</text>
<line x1="913.6" y1="602.7" x2="917.0" y2="602.7" stroke="#222" stroke-width="1.5"/>
<text transform="translate(906.0,608.8) scale(1,1.1)" class="yl">0.0</text>
<line x1="913.6" y1="680.4" x2="917.0" y2="680.4" stroke="#222" stroke-width="1.5"/>
<text transform="translate(914.6,686.5) scale(1,1.1)" class="yl">-0.2</text>
<text x="1314.1" y="450.5" class="pt" clip-path="url(#t9)">Ketone bodies</text>
<g clip-path="url(#c9)"><line x1="1342.6" y1="464.1" x2="1342.6" y2="687.4" class="dz"/><line x1="1203.1" y1="585.9" x2="1427.9" y2="585.9" class="dz"/><line x1="1202.1" y1="635.5" x2="1427.9" y2="556.1" stroke="#222" stroke-width="1.1"/><polygon points="1315.9,592.9 1318.1,581.9 1322.4,575.4 1326.8,577.5 1330.1,588.5 1327.9,599.4 1322.4,601.6 1318.1,599.4" fill="#6f8aa3" fill-opacity="0.65" filter="url(#bl1)"/><polygon points="1356.3,590.7 1358.5,573.2 1364.0,562.2 1370.6,560.0 1374.9,568.8 1372.8,586.3 1368.4,592.9 1361.8,595.1" fill="#6f8aa3" fill-opacity="0.5" filter="url(#bl1)"/><path d="M1322.2 572.5v19.6M1318.6 581.8v31.3M1370.2 548.8v31.6M1368.6 553.1v16.4M1371.0 567.9v26.1M1358.9 563.1v25.3" stroke="#6f8aa3" stroke-opacity="0.16" stroke-width="1.3" fill="none"/><path d="M1318.4 583.0v10.4M1317.0 581.6v14.9M1323.0 591.8v10.0M1327.3 573.5v15.0M1324.2 587.9v10.4M1318.2 590.9v8.2M1324.0 583.7v7.8M1323.1 574.0v9.8M1324.3 592.6v16.5M1317.8 589.1v8.7M1369.2 566.9v8.2M1370.9 584.0v4.5M1370.4 585.1v8.6M1373.0 568.1v13.7M1361.9 558.7v15.9M1369.8 587.6v4.6M1358.2 570.0v16.9M1363.2 558.4v13.2M1373.3 575.6v6.9M1364.2 582.1v13.0M1372.3 581.1v11.1M1372.8 562.7v4.5M1369.7 566.4v15.6M1362.4 577.1v8.6M1373.9 559.8v16.2M1360.6 563.4v15.6M1366.2 556.8v10.7M1364.6 575.1v4.6" stroke="#6f8aa3" stroke-opacity="0.35" stroke-width="1.4" fill="none"/><line x1="1219.6" y1="576.0" x2="1219.6" y2="641.7" stroke="#6f8aa3" stroke-opacity="0.34" stroke-width="1.4"/><circle cx="1219.6" cy="608.8" r="3.2" fill="#6f8aa3" fill-opacity="0.4"/><line x1="1236.0" y1="578.0" x2="1236.0" y2="626.1" stroke="#6f8aa3" stroke-opacity="0.42" stroke-width="1.4"/><circle cx="1236.0" cy="602.1" r="3.2" fill="#6f8aa3" fill-opacity="0.5"/><line x1="1241.5" y1="551.9" x2="1241.5" y2="602.3" stroke="#6f8aa3" stroke-opacity="0.34" stroke-width="1.4"/><circle cx="1241.5" cy="577.1" r="3.2" fill="#6f8aa3" fill-opacity="0.4"/><line x1="1266.6" y1="576.9" x2="1266.6" y2="594.4" stroke="#6f8aa3" stroke-opacity="0.72" stroke-width="1.4"/><circle cx="1266.6" cy="585.6" r="3.2" fill="#6f8aa3" fill-opacity="0.85"/><line x1="1266.2" y1="581.9" x2="1266.2" y2="638.8" stroke="#6f8aa3" stroke-opacity="0.26" stroke-width="1.4"/><circle cx="1266.2" cy="610.4" r="3.2" fill="#6f8aa3" fill-opacity="0.3"/><line x1="1270.6" y1="602.3" x2="1270.6" y2="611.0" stroke="#6f8aa3" stroke-opacity="0.72" stroke-width="1.4"/><circle cx="1270.6" cy="606.7" r="3.2" fill="#6f8aa3" fill-opacity="0.85"/><line x1="1277.1" y1="602.3" x2="1277.1" y2="611.0" stroke="#6f8aa3" stroke-opacity="0.68" stroke-width="1.4"/><circle cx="1277.1" cy="606.7" r="3.2" fill="#6f8aa3" fill-opacity="0.8"/><line x1="1286.8" y1="606.7" x2="1286.8" y2="615.4" stroke="#6f8aa3" stroke-opacity="0.72" stroke-width="1.4"/><circle cx="1286.8" cy="611.0" r="3.2" fill="#6f8aa3" fill-opacity="0.85"/><line x1="1293.5" y1="589.1" x2="1293.5" y2="676.7" stroke="#6f8aa3" stroke-opacity="0.26" stroke-width="1.4"/><circle cx="1293.5" cy="632.9" r="3.2" fill="#6f8aa3" fill-opacity="0.3"/><line x1="1292.9" y1="590.0" x2="1292.9" y2="607.5" stroke="#6f8aa3" stroke-opacity="0.51" stroke-width="1.4"/><circle cx="1292.9" cy="598.8" r="3.2" fill="#6f8aa3" fill-opacity="0.6"/><line x1="1298.8" y1="588.5" x2="1298.8" y2="601.6" stroke="#6f8aa3" stroke-opacity="0.68" stroke-width="1.4"/><circle cx="1298.8" cy="595.1" r="3.2" fill="#6f8aa3" fill-opacity="0.8"/><line x1="1309.3" y1="585.2" x2="1309.3" y2="598.3" stroke="#6f8aa3" stroke-opacity="0.51" stroke-width="1.4"/><circle cx="1309.3" cy="591.8" r="3.2" fill="#6f8aa3" fill-opacity="0.6"/><line x1="1313.7" y1="572.1" x2="1313.7" y2="585.2" stroke="#6f8aa3" stroke-opacity="0.51" stroke-width="1.4"/><circle cx="1313.7" cy="578.6" r="3.2" fill="#6f8aa3" fill-opacity="0.6"/><line x1="1317.4" y1="595.1" x2="1317.4" y2="608.2" stroke="#6f8aa3" stroke-opacity="0.42" stroke-width="1.4"/><circle cx="1317.4" cy="601.6" r="3.2" fill="#6f8aa3" fill-opacity="0.5"/><line x1="1375.6" y1="533.8" x2="1375.6" y2="568.8" stroke="#6f8aa3" stroke-opacity="0.30" stroke-width="1.4"/><circle cx="1375.6" cy="551.3" r="3.2" fill="#6f8aa3" fill-opacity="0.35"/><line x1="1402.3" y1="544.7" x2="1402.3" y2="557.9" stroke="#6f8aa3" stroke-opacity="0.68" stroke-width="1.4"/><circle cx="1402.3" cy="551.3" r="3.2" fill="#6f8aa3" fill-opacity="0.8"/><line x1="1402.3" y1="564.4" x2="1402.3" y2="577.5" stroke="#6f8aa3" stroke-opacity="0.68" stroke-width="1.4"/><circle cx="1402.3" cy="571.0" r="3.2" fill="#6f8aa3" fill-opacity="0.8"/><line x1="1406.7" y1="555.7" x2="1406.7" y2="573.2" stroke="#6f8aa3" stroke-opacity="0.51" stroke-width="1.4"/><circle cx="1406.7" cy="564.4" r="3.2" fill="#6f8aa3" fill-opacity="0.6"/><line x1="1408.9" y1="474.3" x2="1408.9" y2="544.3" stroke="#6f8aa3" stroke-opacity="0.26" stroke-width="1.4"/><circle cx="1408.9" cy="509.3" r="3.2" fill="#6f8aa3" fill-opacity="0.3"/><line x1="1397.5" y1="568.4" x2="1397.5" y2="634.0" stroke="#6f8aa3" stroke-opacity="0.26" stroke-width="1.4"/><circle cx="1397.5" cy="601.2" r="3.2" fill="#6f8aa3" fill-opacity="0.3"/><line x1="1387.6" y1="557.9" x2="1387.6" y2="571.0" stroke="#6f8aa3" stroke-opacity="0.51" stroke-width="1.4"/><circle cx="1387.6" cy="564.4" r="3.2" fill="#6f8aa3" fill-opacity="0.6"/><line x1="1383.3" y1="564.4" x2="1383.3" y2="577.5" stroke="#6f8aa3" stroke-opacity="0.51" stroke-width="1.4"/><circle cx="1383.3" cy="571.0" r="3.2" fill="#6f8aa3" fill-opacity="0.6"/><line x1="1372.8" y1="562.9" x2="1372.8" y2="576.0" stroke="#6f8aa3" stroke-opacity="0.68" stroke-width="1.4"/><circle cx="1372.8" cy="569.5" r="3.2" fill="#6f8aa3" fill-opacity="0.8"/><line x1="1361.8" y1="579.7" x2="1361.8" y2="592.9" stroke="#6f8aa3" stroke-opacity="0.68" stroke-width="1.4"/><circle cx="1361.8" cy="586.3" r="3.2" fill="#6f8aa3" fill-opacity="0.8"/><line x1="1362.9" y1="576.5" x2="1362.9" y2="589.6" stroke="#6f8aa3" stroke-opacity="0.68" stroke-width="1.4"/><circle cx="1362.9" cy="583.0" r="3.2" fill="#6f8aa3" fill-opacity="0.8"/></g>
<line x1="1201.3" y1="463.1" x2="1429.3" y2="463.1" stroke="#111" stroke-width="1.7"/>
<line x1="1202.1" y1="462.3" x2="1202.1" y2="689.0" stroke="#111" stroke-width="1.7"/>
<line x1="1427.9" y1="462.3" x2="1427.9" y2="689.0" stroke="#111" stroke-width="2.9"/>
<line x1="1201.3" y1="687.4" x2="1429.3" y2="687.4" stroke="#111" stroke-width="3.3"/>
<line x1="1235.3" y1="687.4" x2="1235.3" y2="691.0" stroke="#222" stroke-width="1.5"/>
<text transform="translate(1235.3,709.1) scale(1,1.1)" class="xl">-0.10</text>
<line x1="1288.5" y1="687.4" x2="1288.5" y2="691.0" stroke="#222" stroke-width="1.5"/>
<text transform="translate(1292.8,709.1) scale(1,1.1)" class="xl">-0.05</text>
<line x1="1342.6" y1="687.4" x2="1342.6" y2="691.0" stroke="#222" stroke-width="1.5"/>
<text transform="translate(1342.6,709.1) scale(1,1.1)" class="xl">0.00</text>
<line x1="1396.8" y1="687.4" x2="1396.8" y2="691.0" stroke="#222" stroke-width="1.5"/>
<text transform="translate(1401.1,709.1) scale(1,1.1)" class="xl">0.05</text>
<line x1="1198.7" y1="471.9" x2="1202.1" y2="471.9" stroke="#222" stroke-width="1.5"/>
<text transform="translate(1191.1,478.0) scale(1,1.1)" class="yl">0.3</text>
<line x1="1198.7" y1="509.7" x2="1202.1" y2="509.7" stroke="#222" stroke-width="1.5"/>
<text transform="translate(1199.7,515.8) scale(1,1.1)" class="yl">0.2</text>
<line x1="1198.7" y1="547.6" x2="1202.1" y2="547.6" stroke="#222" stroke-width="1.5"/>
<text transform="translate(1199.7,553.7) scale(1,1.1)" class="yl">0.1</text>
<line x1="1198.7" y1="585.9" x2="1202.1" y2="585.9" stroke="#222" stroke-width="1.5"/>
<text transform="translate(1191.1,592.0) scale(1,1.1)" class="yl">0.0</text>
<line x1="1198.7" y1="623.5" x2="1202.1" y2="623.5" stroke="#222" stroke-width="1.5"/>
<text transform="translate(1199.7,629.6) scale(1,1.1)" class="yl">-0.1</text>
<line x1="1198.7" y1="661.8" x2="1202.1" y2="661.8" stroke="#222" stroke-width="1.5"/>
<text transform="translate(1199.7,667.9) scale(1,1.1)" class="yl">-0.2</text>
<text x="208.1" y="751.2" class="pt" clip-path="url(#t10)">Lipoprotein particle concentrations</text>
<g clip-path="url(#c10)"><line x1="208.5" y1="764.8" x2="208.5" y2="988.1" class="dz"/><line x1="98.3" y1="896.8" x2="321.6" y2="896.8" class="dz"/><path d="M200.4 879.6v7.4M200.5 903.5v28.6M187.3 918.3v11.9M204.7 900.3v7.6M184.0 890.6v23.7M219.5 885.3v20.8M180.0 899.4v12.2M207.1 880.8v19.8M215.9 876.6v11.3M204.4 924.1v9.6M186.5 884.3v30.8M215.5 870.0v8.3M177.3 897.1v18.5M210.0 892.5v31.1" stroke="#6f74b8" stroke-opacity="0.2" stroke-width="1.2" fill="none"/><path d="M200.4 883.2h0M200.5 917.8h0M187.3 924.3h0M204.7 904.1h0M184.0 902.4h0M219.5 895.7h0M180.0 905.5h0M207.1 890.7h0M215.9 882.3h0M204.4 928.9h0M186.5 899.7h0M215.5 874.2h0M177.3 906.3h0M210.0 908.0h0" stroke="#6f74b8" stroke-opacity="0.2" stroke-width="6" stroke-linecap="round" fill="none"/><line x1="116.6" y1="988.1" x2="321.6" y2="786.7" stroke="#222" stroke-width="1.1"/><polygon points="180.0,916.9 184.4,908.2 193.2,901.6 199.7,892.9 206.3,888.5 207.4,901.6 204.1,912.6 195.4,921.3 186.6,924.6" fill="#6f74b8" fill-opacity="0.97" filter="url(#bl1)"/><polygon points="210.7,899.4 211.8,888.5 215.1,881.9 221.6,878.6 228.2,881.9 230.4,888.5 223.8,892.9 217.2,901.6" fill="#6f74b8" fill-opacity="0.97" filter="url(#bl1)"/><path d="M183.5 897.2v36.9M196.0 891.0v30.9M191.7 892.2v42.0M203.9 876.2v29.8M222.6 880.6v24.6M222.1 871.2v23.2" stroke="#6f74b8" stroke-opacity="0.16" stroke-width="1.3" fill="none"/><path d="M197.1 912.5v4.6M193.3 896.2v16.5M205.0 882.2v15.1M194.9 906.8v9.3M185.9 908.8v5.2M188.7 902.8v10.5M187.3 901.4v9.7M197.3 908.5v5.4M204.7 889.3v8.2M202.4 891.0v11.2M206.1 893.0v8.0M199.3 898.8v16.7M191.5 915.9v9.6M196.0 901.8v13.6M197.6 899.0v6.5M183.7 915.0v11.2M199.9 902.3v7.7M190.5 911.8v5.2M202.7 888.6v7.2M216.9 876.1v14.3M225.9 883.7v15.1M216.7 883.9v17.6M216.6 890.6v7.1M215.1 890.9v12.0M218.8 882.8v6.1M221.0 889.6v8.1M215.0 881.4v6.7M216.0 878.4v7.5M213.4 890.9v13.0" stroke="#6f74b8" stroke-opacity="0.35" stroke-width="1.4" fill="none"/><line x1="107.4" y1="957.4" x2="107.4" y2="977.1" stroke="#6f74b8" stroke-opacity="0.85" stroke-width="1.4"/><circle cx="107.4" cy="967.3" r="3.2" fill="#6f74b8" fill-opacity="1"/><line x1="159.9" y1="938.4" x2="159.9" y2="944.9" stroke="#6f74b8" stroke-opacity="0.85" stroke-width="1.4"/><circle cx="159.9" cy="941.7" r="3.2" fill="#6f74b8" fill-opacity="1"/><line x1="163.6" y1="925.7" x2="163.6" y2="951.9" stroke="#6f74b8" stroke-opacity="0.77" stroke-width="1.4"/><circle cx="163.6" cy="938.8" r="3.2" fill="#6f74b8" fill-opacity="0.9"/><line x1="165.8" y1="913.7" x2="165.8" y2="939.9" stroke="#6f74b8" stroke-opacity="0.68" stroke-width="1.4"/><circle cx="165.8" cy="926.8" r="3.2" fill="#6f74b8" fill-opacity="0.8"/><line x1="166.9" y1="912.1" x2="166.9" y2="929.6" stroke="#6f74b8" stroke-opacity="0.85" stroke-width="1.4"/><circle cx="166.9" cy="920.9" r="3.2" fill="#6f74b8" fill-opacity="1"/><line x1="171.3" y1="912.1" x2="171.3" y2="929.6" stroke="#6f74b8" stroke-opacity="0.77" stroke-width="1.4"/><circle cx="171.3" cy="920.9" r="3.2" fill="#6f74b8" fill-opacity="0.9"/><line x1="173.0" y1="914.3" x2="173.0" y2="923.1" stroke="#6f74b8" stroke-opacity="0.85" stroke-width="1.4"/><circle cx="173.0" cy="918.7" r="3.2" fill="#6f74b8" fill-opacity="1"/><line x1="171.3" y1="936.2" x2="171.3" y2="947.1" stroke="#6f74b8" stroke-opacity="0.59" stroke-width="1.4"/><circle cx="171.3" cy="941.7" r="3.2" fill="#6f74b8" fill-opacity="0.7"/><line x1="182.2" y1="852.4" x2="182.2" y2="904.9" stroke="#6f74b8" stroke-opacity="0.51" stroke-width="1.4"/><circle cx="182.2" cy="878.6" r="3.2" fill="#6f74b8" fill-opacity="0.6"/><line x1="183.3" y1="891.8" x2="183.3" y2="904.9" stroke="#6f74b8" stroke-opacity="0.51" stroke-width="1.4"/><circle cx="183.3" cy="898.3" r="3.2" fill="#6f74b8" fill-opacity="0.6"/><line x1="180.0" y1="902.3" x2="180.0" y2="911.0" stroke="#6f74b8" stroke-opacity="0.42" stroke-width="1.4"/><circle cx="180.0" cy="906.7" r="3.2" fill="#6f74b8" fill-opacity="0.5"/><line x1="182.9" y1="914.7" x2="182.9" y2="921.3" stroke="#6f74b8" stroke-opacity="0.85" stroke-width="1.4"/><circle cx="182.9" cy="918.0" r="3.2" fill="#6f74b8" fill-opacity="1"/><line x1="305.2" y1="781.9" x2="305.2" y2="841.0" stroke="#6f74b8" stroke-opacity="0.81" stroke-width="1.4"/><circle cx="305.2" cy="811.5" r="3.2" fill="#6f74b8" fill-opacity="0.95"/><line x1="308.7" y1="773.2" x2="308.7" y2="832.3" stroke="#6f74b8" stroke-opacity="0.81" stroke-width="1.4"/><circle cx="308.7" cy="802.7" r="3.2" fill="#6f74b8" fill-opacity="0.95"/><line x1="256.6" y1="853.7" x2="256.6" y2="860.3" stroke="#6f74b8" stroke-opacity="0.85" stroke-width="1.4"/><circle cx="256.6" cy="857.0" r="3.2" fill="#6f74b8" fill-opacity="1"/><line x1="262.1" y1="847.4" x2="262.1" y2="853.9" stroke="#6f74b8" stroke-opacity="0.85" stroke-width="1.4"/><circle cx="262.1" cy="850.6" r="3.2" fill="#6f74b8" fill-opacity="1"/><line x1="241.3" y1="852.4" x2="241.3" y2="863.3" stroke="#6f74b8" stroke-opacity="0.85" stroke-width="1.4"/><circle cx="241.3" cy="857.9" r="3.2" fill="#6f74b8" fill-opacity="1"/><line x1="242.4" y1="850.2" x2="242.4" y2="861.1" stroke="#6f74b8" stroke-opacity="0.77" stroke-width="1.4"/><circle cx="242.4" cy="855.7" r="3.2" fill="#6f74b8" fill-opacity="0.9"/><line x1="241.3" y1="826.1" x2="241.3" y2="856.8" stroke="#6f74b8" stroke-opacity="0.42" stroke-width="1.4"/><circle cx="241.3" cy="841.4" r="3.2" fill="#6f74b8" fill-opacity="0.5"/><line x1="230.4" y1="792.6" x2="230.4" y2="849.5" stroke="#6f74b8" stroke-opacity="0.34" stroke-width="1.4"/><circle cx="230.4" cy="821.1" r="3.2" fill="#6f74b8" fill-opacity="0.4"/><line x1="227.1" y1="784.6" x2="227.1" y2="841.4" stroke="#6f74b8" stroke-opacity="0.26" stroke-width="1.4"/><circle cx="227.1" cy="813.0" r="3.2" fill="#6f74b8" fill-opacity="0.3"/><line x1="232.6" y1="871.0" x2="232.6" y2="879.7" stroke="#6f74b8" stroke-opacity="0.77" stroke-width="1.4"/><circle cx="232.6" cy="875.4" r="3.2" fill="#6f74b8" fill-opacity="0.9"/><line x1="235.8" y1="867.7" x2="235.8" y2="876.5" stroke="#6f74b8" stroke-opacity="0.77" stroke-width="1.4"/><circle cx="235.8" cy="872.1" r="3.2" fill="#6f74b8" fill-opacity="0.9"/><line x1="233.7" y1="879.7" x2="233.7" y2="886.3" stroke="#6f74b8" stroke-opacity="0.77" stroke-width="1.4"/><circle cx="233.7" cy="883.0" r="3.2" fill="#6f74b8" fill-opacity="0.9"/><line x1="199.7" y1="815.2" x2="199.7" y2="876.5" stroke="#6f74b8" stroke-opacity="0.26" stroke-width="1.4"/><circle cx="199.7" cy="845.8" r="3.2" fill="#6f74b8" fill-opacity="0.3"/><line x1="199.7" y1="908.2" x2="199.7" y2="956.3" stroke="#6f74b8" stroke-opacity="0.26" stroke-width="1.4"/><circle cx="199.7" cy="932.3" r="3.2" fill="#6f74b8" fill-opacity="0.3"/><line x1="195.8" y1="909.3" x2="195.8" y2="944.3" stroke="#6f74b8" stroke-opacity="0.26" stroke-width="1.4"/><circle cx="195.8" cy="926.8" r="3.2" fill="#6f74b8" fill-opacity="0.3"/><line x1="219.4" y1="902.7" x2="219.4" y2="937.7" stroke="#6f74b8" stroke-opacity="0.30" stroke-width="1.4"/><circle cx="219.4" cy="920.2" r="3.2" fill="#6f74b8" fill-opacity="0.35"/><line x1="227.7" y1="887.4" x2="227.7" y2="944.3" stroke="#6f74b8" stroke-opacity="0.30" stroke-width="1.4"/><circle cx="227.7" cy="915.8" r="3.2" fill="#6f74b8" fill-opacity="0.35"/></g>
<line x1="96.5" y1="763.8" x2="323.0" y2="763.8" stroke="#111" stroke-width="1.7"/>
<line x1="97.3" y1="763.0" x2="97.3" y2="989.7" stroke="#111" stroke-width="1.7"/>
<line x1="321.6" y1="763.0" x2="321.6" y2="989.7" stroke="#111" stroke-width="2.9"/>
<line x1="96.5" y1="988.1" x2="323.0" y2="988.1" stroke="#111" stroke-width="3.3"/>
<line x1="144.4" y1="988.1" x2="144.4" y2="991.7" stroke="#222" stroke-width="1.5"/>
<text transform="translate(148.7,1009.8) scale(1,1.1)" class="xl">-0.2</text>
<line x1="208.5" y1="988.1" x2="208.5" y2="991.7" stroke="#222" stroke-width="1.5"/>
<text transform="translate(208.5,1009.8) scale(1,1.1)" class="xl">0.0</text>
<line x1="273.7" y1="988.1" x2="273.7" y2="991.7" stroke="#222" stroke-width="1.5"/>
<text transform="translate(278.0,1009.8) scale(1,1.1)" class="xl">0.2</text>
<line x1="93.9" y1="771.4" x2="97.3" y2="771.4" stroke="#222" stroke-width="1.5"/>
<text transform="translate(94.9,777.5) scale(1,1.1)" class="yl">0.4</text>
<line x1="93.9" y1="834.4" x2="97.3" y2="834.4" stroke="#222" stroke-width="1.5"/>
<text transform="translate(94.9,840.5) scale(1,1.1)" class="yl">0.2</text>
<line x1="93.9" y1="896.8" x2="97.3" y2="896.8" stroke="#222" stroke-width="1.5"/>
<text transform="translate(86.3,902.9) scale(1,1.1)" class="yl">0.0</text>
<line x1="93.9" y1="961.1" x2="97.3" y2="961.1" stroke="#222" stroke-width="1.5"/>
<text transform="translate(94.9,967.2) scale(1,1.1)" class="yl">-0.2</text>
<text x="479.3" y="751.2" class="pt" clip-path="url(#t11)">Lipoprotein particle sizes</text>
<g clip-path="url(#c11)"><line x1="482.4" y1="764.8" x2="482.4" y2="988.1" class="dz"/><line x1="368.5" y1="892.2" x2="592.9" y2="892.2" class="dz"/><path d="M455.0 884.9v7.0M497.4 879.5v17.7M477.9 868.9v7.8M475.1 874.1v11.2M498.3 877.7v14.0M485.8 864.1v9.5M457.4 878.3v18.6M482.4 881.7v17.5M500.5 886.9v13.8M490.4 886.1v14.9M454.1 897.2v14.7M458.9 904.7v17.6M509.9 857.0v25.9M492.4 863.3v8.7M471.3 861.5v31.4M455.6 879.5v26.1M502.3 878.8v22.4M479.6 873.5v8.0M455.8 909.9v10.0" stroke="#6f88b5" stroke-opacity="0.2" stroke-width="1.2" fill="none"/><path d="M455.0 888.4h0M497.4 888.4h0M477.9 872.8h0M475.1 879.8h0M498.3 884.7h0M485.8 868.9h0M457.4 887.6h0M482.4 890.4h0M500.5 893.9h0M490.4 893.6h0M454.1 904.6h0M458.9 913.5h0M509.9 870.0h0M492.4 867.6h0M471.3 877.2h0M455.6 892.5h0M502.3 890.0h0M479.6 877.5h0M455.8 914.9h0" stroke="#6f88b5" stroke-opacity="0.2" stroke-width="6" stroke-linecap="round" fill="none"/><line x1="367.5" y1="968.8" x2="592.9" y2="819.6" stroke="#222" stroke-width="1.1"/><polygon points="460.0,901.6 462.2,890.7 468.8,884.1 475.4,881.9 478.6,888.5 478.6,901.6 475.4,908.2 466.6,910.4" fill="#6f88b5" fill-opacity="0.97" filter="url(#bl1)"/><polygon points="486.3,895.1 487.4,881.9 492.9,876.5 501.6,876.5 506.0,881.9 504.9,890.7 499.4,895.1 492.9,899.4" fill="#6f88b5" fill-opacity="0.97" filter="url(#bl1)"/><path d="M474.3 890.1v33.6M474.4 879.8v32.6M470.1 892.6v26.4M492.7 871.0v20.9M493.0 872.7v25.2M497.5 867.6v24.7" stroke="#6f88b5" stroke-opacity="0.16" stroke-width="1.3" fill="none"/><path d="M478.5 889.3v17.7M467.7 889.9v14.0M474.8 885.2v6.6M465.9 887.2v7.5M468.3 878.8v14.3M468.4 901.1v9.2M474.2 889.5v12.3M476.6 886.8v8.5M478.0 881.2v15.4M466.7 905.3v7.5M471.6 890.2v5.8M470.9 884.8v12.4M473.2 882.6v15.5M471.1 889.5v14.3M467.7 905.4v5.0M487.3 875.1v15.6M502.7 889.4v4.9M503.7 880.6v7.9M494.8 889.5v13.6M493.6 885.1v6.0M493.6 874.9v14.4M487.0 891.6v5.0M505.1 877.9v9.5M491.4 877.6v12.3M502.3 878.5v16.4M502.5 873.8v9.4M494.9 891.8v8.1M497.0 887.8v10.3" stroke="#6f88b5" stroke-opacity="0.35" stroke-width="1.4" fill="none"/><line x1="378.0" y1="965.5" x2="378.0" y2="974.3" stroke="#6f88b5" stroke-opacity="0.85" stroke-width="1.4"/><circle cx="378.0" cy="969.9" r="3.2" fill="#6f88b5" fill-opacity="1"/><line x1="389.4" y1="930.1" x2="389.4" y2="965.1" stroke="#6f88b5" stroke-opacity="0.85" stroke-width="1.4"/><circle cx="389.4" cy="947.6" r="3.2" fill="#6f88b5" fill-opacity="1"/><line x1="390.0" y1="934.4" x2="390.0" y2="951.9" stroke="#6f88b5" stroke-opacity="0.85" stroke-width="1.4"/><circle cx="390.0" cy="943.2" r="3.2" fill="#6f88b5" fill-opacity="1"/><line x1="392.2" y1="930.1" x2="392.2" y2="947.6" stroke="#6f88b5" stroke-opacity="0.85" stroke-width="1.4"/><circle cx="392.2" cy="938.8" r="3.2" fill="#6f88b5" fill-opacity="1"/><line x1="393.3" y1="927.9" x2="393.3" y2="945.4" stroke="#6f88b5" stroke-opacity="0.85" stroke-width="1.4"/><circle cx="393.3" cy="936.6" r="3.2" fill="#6f88b5" fill-opacity="1"/><line x1="398.3" y1="918.0" x2="398.3" y2="935.5" stroke="#6f88b5" stroke-opacity="0.85" stroke-width="1.4"/><circle cx="398.3" cy="926.8" r="3.2" fill="#6f88b5" fill-opacity="1"/><line x1="416.9" y1="920.9" x2="416.9" y2="938.4" stroke="#6f88b5" stroke-opacity="0.68" stroke-width="1.4"/><circle cx="416.9" cy="929.6" r="3.2" fill="#6f88b5" fill-opacity="0.8"/><line x1="418.9" y1="921.3" x2="418.9" y2="951.9" stroke="#6f88b5" stroke-opacity="0.42" stroke-width="1.4"/><circle cx="418.9" cy="936.6" r="3.2" fill="#6f88b5" fill-opacity="0.5"/><line x1="423.5" y1="920.2" x2="423.5" y2="937.7" stroke="#6f88b5" stroke-opacity="0.77" stroke-width="1.4"/><circle cx="423.5" cy="929.0" r="3.2" fill="#6f88b5" fill-opacity="0.9"/><line x1="436.0" y1="927.2" x2="436.0" y2="938.2" stroke="#6f88b5" stroke-opacity="0.77" stroke-width="1.4"/><circle cx="436.0" cy="932.7" r="3.2" fill="#6f88b5" fill-opacity="0.9"/><line x1="440.4" y1="915.8" x2="440.4" y2="933.3" stroke="#6f88b5" stroke-opacity="0.77" stroke-width="1.4"/><circle cx="440.4" cy="924.6" r="3.2" fill="#6f88b5" fill-opacity="0.9"/><line x1="443.2" y1="924.6" x2="443.2" y2="935.5" stroke="#6f88b5" stroke-opacity="0.85" stroke-width="1.4"/><circle cx="443.2" cy="930.1" r="3.2" fill="#6f88b5" fill-opacity="1"/><line x1="446.9" y1="906.0" x2="446.9" y2="919.1" stroke="#6f88b5" stroke-opacity="0.85" stroke-width="1.4"/><circle cx="446.9" cy="912.6" r="3.2" fill="#6f88b5" fill-opacity="1"/><line x1="451.3" y1="896.1" x2="451.3" y2="909.3" stroke="#6f88b5" stroke-opacity="0.85" stroke-width="1.4"/><circle cx="451.3" cy="902.7" r="3.2" fill="#6f88b5" fill-opacity="1"/><line x1="452.4" y1="899.4" x2="452.4" y2="912.6" stroke="#6f88b5" stroke-opacity="0.77" stroke-width="1.4"/><circle cx="452.4" cy="906.0" r="3.2" fill="#6f88b5" fill-opacity="0.9"/><line x1="453.5" y1="907.1" x2="453.5" y2="933.3" stroke="#6f88b5" stroke-opacity="0.42" stroke-width="1.4"/><circle cx="453.5" cy="920.2" r="3.2" fill="#6f88b5" fill-opacity="0.5"/><line x1="455.7" y1="809.7" x2="455.7" y2="871.0" stroke="#6f88b5" stroke-opacity="0.30" stroke-width="1.4"/><circle cx="455.7" cy="840.4" r="3.2" fill="#6f88b5" fill-opacity="0.35"/><line x1="464.4" y1="825.7" x2="464.4" y2="869.5" stroke="#6f88b5" stroke-opacity="0.26" stroke-width="1.4"/><circle cx="464.4" cy="847.6" r="3.2" fill="#6f88b5" fill-opacity="0.3"/><line x1="448.7" y1="842.1" x2="448.7" y2="894.6" stroke="#6f88b5" stroke-opacity="0.42" stroke-width="1.4"/><circle cx="448.7" cy="868.4" r="3.2" fill="#6f88b5" fill-opacity="0.5"/><line x1="455.2" y1="856.8" x2="455.2" y2="896.1" stroke="#6f88b5" stroke-opacity="0.42" stroke-width="1.4"/><circle cx="455.2" cy="876.5" r="3.2" fill="#6f88b5" fill-opacity="0.5"/><line x1="455.0" y1="932.3" x2="455.0" y2="976.0" stroke="#6f88b5" stroke-opacity="0.26" stroke-width="1.4"/><circle cx="455.0" cy="954.1" r="3.2" fill="#6f88b5" fill-opacity="0.3"/><line x1="461.8" y1="915.8" x2="461.8" y2="946.5" stroke="#6f88b5" stroke-opacity="0.26" stroke-width="1.4"/><circle cx="461.8" cy="931.2" r="3.2" fill="#6f88b5" fill-opacity="0.3"/><line x1="577.5" y1="773.6" x2="577.5" y2="830.5" stroke="#6f88b5" stroke-opacity="0.51" stroke-width="1.4"/><circle cx="577.5" cy="802.1" r="3.2" fill="#6f88b5" fill-opacity="0.6"/><line x1="580.8" y1="832.3" x2="580.8" y2="838.8" stroke="#6f88b5" stroke-opacity="0.85" stroke-width="1.4"/><circle cx="580.8" cy="835.5" r="3.2" fill="#6f88b5" fill-opacity="1"/><line x1="535.1" y1="823.3" x2="535.1" y2="845.2" stroke="#6f88b5" stroke-opacity="0.77" stroke-width="1.4"/><circle cx="535.1" cy="834.2" r="3.2" fill="#6f88b5" fill-opacity="0.9"/><line x1="530.1" y1="833.1" x2="530.1" y2="876.9" stroke="#6f88b5" stroke-opacity="0.77" stroke-width="1.4"/><circle cx="530.1" cy="855.0" r="3.2" fill="#6f88b5" fill-opacity="0.9"/><line x1="515.4" y1="852.8" x2="515.4" y2="861.6" stroke="#6f88b5" stroke-opacity="0.85" stroke-width="1.4"/><circle cx="515.4" cy="857.2" r="3.2" fill="#6f88b5" fill-opacity="1"/><line x1="518.7" y1="853.9" x2="518.7" y2="862.7" stroke="#6f88b5" stroke-opacity="0.85" stroke-width="1.4"/><circle cx="518.7" cy="858.3" r="3.2" fill="#6f88b5" fill-opacity="1"/><line x1="542.5" y1="867.7" x2="542.5" y2="874.3" stroke="#6f88b5" stroke-opacity="0.85" stroke-width="1.4"/><circle cx="542.5" cy="871.0" r="3.2" fill="#6f88b5" fill-opacity="1"/><line x1="559.2" y1="853.5" x2="559.2" y2="884.1" stroke="#6f88b5" stroke-opacity="0.59" stroke-width="1.4"/><circle cx="559.2" cy="868.8" r="3.2" fill="#6f88b5" fill-opacity="0.7"/><line x1="512.6" y1="872.7" x2="512.6" y2="881.5" stroke="#6f88b5" stroke-opacity="0.85" stroke-width="1.4"/><circle cx="512.6" cy="877.1" r="3.2" fill="#6f88b5" fill-opacity="1"/><line x1="521.3" y1="871.0" x2="521.3" y2="884.1" stroke="#6f88b5" stroke-opacity="0.85" stroke-width="1.4"/><circle cx="521.3" cy="877.5" r="3.2" fill="#6f88b5" fill-opacity="1"/><line x1="524.6" y1="867.7" x2="524.6" y2="876.5" stroke="#6f88b5" stroke-opacity="0.77" stroke-width="1.4"/><circle cx="524.6" cy="872.1" r="3.2" fill="#6f88b5" fill-opacity="0.9"/><line x1="508.2" y1="880.2" x2="508.2" y2="937.1" stroke="#6f88b5" stroke-opacity="0.34" stroke-width="1.4"/><circle cx="508.2" cy="908.6" r="3.2" fill="#6f88b5" fill-opacity="0.4"/><line x1="502.7" y1="893.5" x2="502.7" y2="937.3" stroke="#6f88b5" stroke-opacity="0.30" stroke-width="1.4"/><circle cx="502.7" cy="915.4" r="3.2" fill="#6f88b5" fill-opacity="0.35"/><line x1="518.7" y1="878.6" x2="518.7" y2="904.9" stroke="#6f88b5" stroke-opacity="0.34" stroke-width="1.4"/><circle cx="518.7" cy="891.8" r="3.2" fill="#6f88b5" fill-opacity="0.4"/><line x1="513.7" y1="885.2" x2="513.7" y2="911.5" stroke="#6f88b5" stroke-opacity="0.26" stroke-width="1.4"/><circle cx="513.7" cy="898.3" r="3.2" fill="#6f88b5" fill-opacity="0.3"/></g>
<line x1="366.7" y1="763.8" x2="594.3" y2="763.8" stroke="#111" stroke-width="1.7"/>
<line x1="367.5" y1="763.0" x2="367.5" y2="989.7" stroke="#111" stroke-width="1.7"/>
<line x1="592.9" y1="763.0" x2="592.9" y2="989.7" stroke="#111" stroke-width="2.9"/>
<line x1="366.7" y1="988.1" x2="594.3" y2="988.1" stroke="#111" stroke-width="3.3"/>
<line x1="384.6" y1="988.1" x2="384.6" y2="991.7" stroke="#222" stroke-width="1.5"/>
<text transform="translate(388.9,1009.8) scale(1,1.1)" class="xl">-0.2</text>
<line x1="433.3" y1="988.1" x2="433.3" y2="991.7" stroke="#222" stroke-width="1.5"/>
<text transform="translate(437.6,1009.8) scale(1,1.1)" class="xl">-0.1</text>
<line x1="482.4" y1="988.1" x2="482.4" y2="991.7" stroke="#222" stroke-width="1.5"/>
<text transform="translate(482.4,1009.8) scale(1,1.1)" class="xl">0.0</text>
<line x1="531.6" y1="988.1" x2="531.6" y2="991.7" stroke="#222" stroke-width="1.5"/>
<text transform="translate(535.9,1009.8) scale(1,1.1)" class="xl">0.1</text>
<line x1="580.8" y1="988.1" x2="580.8" y2="991.7" stroke="#222" stroke-width="1.5"/>
<text transform="translate(585.1,1009.8) scale(1,1.1)" class="xl">0.2</text>
<line x1="364.1" y1="827.2" x2="367.5" y2="827.2" stroke="#222" stroke-width="1.5"/>
<text transform="translate(365.1,833.3) scale(1,1.1)" class="yl">0.2</text>
<line x1="364.1" y1="892.2" x2="367.5" y2="892.2" stroke="#222" stroke-width="1.5"/>
<text transform="translate(356.5,898.3) scale(1,1.1)" class="yl">0.0</text>
<line x1="364.1" y1="959.6" x2="367.5" y2="959.6" stroke="#222" stroke-width="1.5"/>
<text transform="translate(365.1,965.7) scale(1,1.1)" class="yl">-0.2</text>
<text x="759.1" y="751.2" class="pt" clip-path="url(#t12)">Lipoprotein subclasses</text>
<g clip-path="url(#c12)"><line x1="777.7" y1="764.8" x2="777.7" y2="988.1" class="dz"/><line x1="647.6" y1="879.1" x2="872.4" y2="879.1" class="dz"/><path d="M711.6 939.3v9.6M770.6 800.0v27.2M776.4 792.3v13.6M792.9 879.2v6.6M705.0 912.9v13.7M786.5 864.5v28.4M800.2 828.9v24.3M766.7 846.1v17.7M789.7 793.8v21.2M850.8 807.9v23.3M664.1 945.6v18.4M772.8 921.3v11.3M789.2 916.5v6.6M780.3 886.7v31.2M797.1 845.3v14.6M783.5 913.6v17.0M845.0 799.1v10.3M807.3 880.3v18.6M732.7 895.9v25.3M745.9 930.4v17.3M776.1 819.9v29.6M727.7 895.1v30.2M815.4 865.2v28.6M845.4 809.9v29.3M775.1 890.4v18.8M818.3 868.9v9.2M746.7 892.6v28.4M776.0 843.3v10.3M782.7 868.0v12.8M858.2 771.0v27.5M772.0 859.3v22.6M807.6 822.7v8.7M751.8 923.1v14.1M775.0 895.5v11.0M794.0 810.5v15.7M809.4 798.5v10.7M788.6 870.5v10.6M702.4 922.9v21.0M787.7 819.5v23.9M798.9 909.3v18.0M734.6 909.0v14.3M815.0 813.1v8.0M804.8 803.2v7.7M730.6 888.0v16.6M756.5 904.0v23.6M856.9 803.4v19.7M847.6 799.2v29.6M775.1 868.7v22.5M845.5 803.2v23.5M729.3 897.1v20.1M814.6 847.7v24.1M829.7 824.3v21.4M710.7 952.4v6.3M712.9 918.6v22.6M782.8 923.3v11.3M755.8 894.8v13.1M758.1 884.6v8.6M791.3 785.7v16.5M743.3 866.3v27.4M694.9 916.7v16.2M682.4 931.9v27.9M832.1 812.5v24.1M771.8 915.3v16.7M780.4 897.5v22.9M777.3 884.6v18.0M788.5 828.2v13.6M802.5 907.4v6.8M780.6 931.6v8.1M711.0 929.8v16.7M710.9 917.9v27.1M736.7 939.6v8.0M721.7 918.4v28.8M788.1 891.7v9.2M774.1 878.3v14.5M757.5 879.9v16.2M706.2 947.4v18.2M760.6 924.7v20.5M694.8 935.3v24.6M831.0 845.8v24.2M737.8 910.1v23.4M710.0 915.0v23.9M785.8 920.6v21.0M715.0 899.2v14.1M776.6 822.2v17.2M755.1 928.3v12.5M761.1 890.0v16.9M816.9 843.5v31.5M823.2 799.6v13.1M765.5 868.7v26.5M837.7 849.6v11.0M787.8 918.0v6.1M783.0 824.3v26.8M806.7 829.7v11.6M784.3 891.5v29.6M773.9 849.4v9.7M815.0 857.9v16.8M843.6 805.6v29.6M769.7 809.3v8.9M822.8 837.2v26.9M772.0 915.4v30.1M805.8 854.7v20.9M858.9 783.7v14.4M728.2 939.4v12.1M702.3 942.6v10.3" stroke="#6f9ab0" stroke-opacity="0.2" stroke-width="1.2" fill="none"/><path d="M711.6 944.1h0M770.6 813.6h0M776.4 799.1h0M792.9 882.5h0M705.0 919.7h0M786.5 878.7h0M800.2 841.0h0M766.7 855.0h0M789.7 804.4h0M850.8 819.6h0M664.1 954.8h0M772.8 927.0h0M789.2 919.8h0M780.3 902.3h0M797.1 852.6h0M783.5 922.1h0M845.0 804.2h0M807.3 889.6h0M732.7 908.6h0M745.9 939.1h0M776.1 834.7h0M727.7 910.2h0M815.4 879.6h0M845.4 824.6h0M775.1 899.8h0M818.3 873.6h0M746.7 906.9h0M776.0 848.4h0M782.7 874.4h0M858.2 784.8h0M772.0 870.6h0M807.6 827.0h0M751.8 930.1h0M775.0 901.1h0M794.0 818.3h0M809.4 803.9h0M788.6 875.8h0M702.4 933.4h0M787.7 831.5h0M798.9 918.3h0M734.6 916.2h0M815.0 817.1h0M804.8 807.1h0M730.6 896.3h0M756.5 915.8h0M856.9 813.2h0M847.6 814.0h0M775.1 879.9h0M845.5 814.9h0M729.3 907.2h0M814.6 859.8h0M829.7 835.0h0M710.7 955.6h0M712.9 929.9h0M782.8 929.0h0M755.8 901.3h0M758.1 888.9h0M791.3 794.0h0M743.3 880.0h0M694.9 924.8h0M682.4 945.9h0M832.1 824.6h0M771.8 923.6h0M780.4 909.0h0M777.3 893.5h0M788.5 835.0h0M802.5 910.8h0M780.6 935.7h0M711.0 938.2h0M710.9 931.4h0M736.7 943.6h0M721.7 932.8h0M788.1 896.3h0M774.1 885.6h0M757.5 888.0h0M706.2 956.5h0M760.6 934.9h0M694.8 947.6h0M831.0 857.9h0M737.8 921.8h0M710.0 926.9h0M785.8 931.1h0M715.0 906.3h0M776.6 830.8h0M755.1 934.6h0M761.1 898.4h0M816.9 859.3h0M823.2 806.1h0M765.5 881.9h0M837.7 855.1h0M787.8 921.1h0M783.0 837.7h0M806.7 835.5h0M784.3 906.3h0M773.9 854.2h0M815.0 866.3h0M843.6 820.4h0M769.7 813.7h0M822.8 850.6h0M772.0 930.4h0M805.8 865.1h0M858.9 790.9h0M728.2 945.5h0M702.3 947.8h0" stroke="#6f9ab0" stroke-opacity="0.2" stroke-width="6" stroke-linecap="round" fill="none"/><line x1="667.8" y1="988.1" x2="872.4" y2="784.6" stroke="#222" stroke-width="1.1"/><polygon points="663.4,957.7 668.3,951.1 679.8,942.9 689.7,933.0 699.5,926.5 707.7,919.9 715.9,913.4 724.1,905.1 732.3,898.6 738.9,893.7 747.1,888.7 753.7,882.2 758.6,869.0 760.2,849.3 761.9,829.6 761.9,816.5 765.2,813.2 768.5,832.9 771.7,855.9 776.7,877.2 778.3,890.4 773.4,900.2 768.5,908.4 765.2,921.6 761.9,928.1 757.0,921.6 752.0,921.6 745.5,926.5 738.9,933.0 732.3,938.0 725.8,946.2 719.2,946.2 715.9,938.0 717.6,928.1 712.6,931.4 704.4,934.7 696.2,941.3 689.7,946.2 681.5,952.7 674.9,960.9 666.7,962.6" fill="#6f9ab0" fill-opacity="0.97" filter="url(#bl1)"/><polygon points="778.3,878.9 781.6,862.5 786.5,837.9 789.8,813.2 792.2,793.5 794.7,805.0 798.0,829.6 801.3,821.4 806.2,810.0 809.5,816.5 814.4,810.0 821.0,803.4 827.5,800.1 834.1,796.8 840.7,805.0 837.4,816.5 832.5,824.7 829.2,834.6 827.5,846.1 821.0,852.6 814.4,859.2 811.1,869.0 809.5,882.2 806.2,895.3 801.3,905.1 794.7,915.0 791.4,931.4 788.1,931.4 784.9,911.7 781.6,898.6 778.3,892.0" fill="#6f9ab0" fill-opacity="0.97" filter="url(#bl1)"/><polygon points="843.9,800.1 848.9,795.2 855.4,791.9 860.4,793.5 860.4,800.1 853.8,803.4 848.9,808.3 845.6,808.3" fill="#6f9ab0" fill-opacity="0.9" filter="url(#bl1)"/><path d="M729.9 918.6v38.4M771.1 865.4v22.7M753.1 895.9v21.9M694.4 915.7v32.2M764.4 804.7v18.8M684.3 932.1v21.8M758.4 877.5v23.7M726.9 897.2v22.0M672.3 929.8v37.4M739.8 892.2v27.1M731.2 922.2v28.1M774.5 873.2v30.4M712.4 904.4v26.1M764.9 810.0v22.9M719.5 915.6v28.4M685.1 927.1v31.1M722.0 929.8v22.5M698.5 915.2v35.9M741.2 902.2v26.9M765.4 856.0v17.9M714.9 915.6v24.4M752.9 868.2v36.9M750.8 900.1v38.9M766.3 885.3v31.9M689.2 927.0v33.4M727.8 894.4v19.0M748.4 872.9v38.9M737.1 897.0v33.6M759.8 882.4v24.5M741.7 893.1v19.7M761.3 855.1v18.8M753.6 896.6v24.9M718.7 911.3v18.8M678.4 944.2v18.9M757.8 885.3v32.2M827.0 804.7v22.0M827.0 828.7v25.2M803.5 825.9v31.1M797.5 892.9v24.0M813.1 790.6v42.9M793.1 791.9v20.7M790.3 833.2v20.3M797.7 875.5v40.2M793.8 848.7v25.6M803.5 802.4v33.1M797.6 864.2v42.1M819.2 802.7v38.6M800.6 889.2v23.2M806.5 843.7v28.9M784.5 844.8v21.6M787.0 885.7v29.3M789.7 842.4v42.8M794.0 825.8v24.0M806.0 851.6v28.9M824.2 795.7v30.3M805.4 832.3v37.4M788.7 849.5v20.3M787.0 899.0v22.6M797.3 882.8v26.2M793.4 817.6v20.9M791.8 806.2v43.8M806.4 859.1v19.4M823.9 807.3v41.8M788.4 862.0v30.1M818.3 833.8v24.4M790.5 847.2v18.7M812.8 812.2v32.1M814.7 809.3v24.7M802.1 801.3v41.5M788.7 895.5v27.0M808.8 837.2v16.8M788.7 833.8v41.2M846.0 793.6v22.8" stroke="#6f9ab0" stroke-opacity="0.16" stroke-width="1.3" fill="none"/><path d="M764.2 864.4v4.9M698.8 928.5v9.1M717.6 927.1v5.3M750.4 887.8v14.1M774.5 891.6v7.3M737.5 907.1v15.4M712.8 916.1v12.9M723.3 917.6v10.8M762.1 895.8v4.1M763.9 884.8v12.2M682.0 941.9v10.1M765.5 823.5v4.1M766.7 888.8v9.7M743.1 886.9v17.6M746.9 893.3v11.4M738.5 896.2v15.5M749.5 910.0v9.1M768.9 867.3v15.1M724.9 915.6v11.3M759.2 885.7v10.0M736.7 908.2v4.2M740.5 925.5v10.6M774.7 877.7v5.6M764.5 912.7v12.4M749.4 887.7v6.1M690.2 930.9v16.9M725.0 929.0v4.3M704.5 920.4v7.6M726.5 903.0v17.8M734.1 898.0v17.6M762.3 901.8v8.5M747.2 901.1v15.3M762.9 864.5v13.1M718.8 930.4v7.0M721.1 929.0v16.7M759.9 895.3v8.9M686.0 935.7v7.6M675.1 945.6v13.7M726.9 914.6v11.6M672.1 949.6v10.9M735.8 896.2v13.8M766.3 899.1v11.8M678.6 942.2v4.0M743.2 897.7v16.5M749.0 920.0v4.4M715.0 912.9v16.4M756.5 915.0v4.6M722.0 934.3v4.2M682.0 946.5v9.4M723.1 907.5v16.1M772.8 882.2v7.6M775.6 873.6v5.9M733.5 902.2v10.0M740.3 916.8v5.2M763.7 904.3v4.3M756.2 916.0v5.2M751.2 911.4v10.8M727.6 914.2v13.8M695.1 925.2v9.1M760.3 920.2v8.2M753.0 881.9v14.2M683.3 942.6v11.4M755.8 879.2v17.0M763.8 913.7v7.3M774.6 879.4v12.6M674.1 942.5v16.5M714.0 924.5v10.2M702.6 924.9v16.8M756.4 878.5v5.0M716.3 916.0v13.8M668.5 948.9v12.6M769.8 878.2v11.4M764.2 826.7v4.2M768.9 836.6v8.5M762.5 824.7v6.7M719.9 928.7v4.6M771.8 893.5v5.3M772.6 860.5v7.7M717.3 935.8v11.2M742.3 889.7v11.6M696.4 937.0v6.0M765.9 842.4v6.1M761.9 815.9v4.4M708.2 917.0v17.0M700.6 933.7v7.3M677.4 943.9v15.0M697.2 931.4v6.2M754.7 903.0v17.3M771.5 894.1v7.9M765.8 895.0v6.0M769.4 846.2v12.2M766.5 895.5v8.9M775.0 871.9v13.7M744.9 904.5v10.4M761.9 880.0v5.2M771.1 856.1v12.0M764.8 828.0v15.7M679.2 940.9v8.5M669.8 942.4v17.5M746.9 915.0v4.2M696.2 924.8v13.8M706.0 922.4v10.5M674.5 947.5v17.1M762.6 812.7v12.7M767.3 872.5v7.0M752.0 906.2v10.8M727.6 921.6v10.5M675.8 953.7v12.0M763.5 851.0v5.3M763.8 852.1v12.7M738.7 902.3v10.1M695.0 928.7v12.5M735.1 905.1v13.1M769.3 863.4v7.2M711.2 920.8v17.2M688.8 936.6v10.6M748.1 914.4v8.8M771.1 846.5v12.3M733.8 910.2v13.3M744.3 894.1v16.4M744.6 913.7v7.1M753.4 918.7v4.4M767.1 832.4v5.0M763.2 834.6v7.6M724.7 917.1v11.2M768.3 873.4v5.5M737.3 925.0v13.0M751.6 911.2v9.8M744.7 918.6v10.4M759.2 880.8v16.5M775.9 878.2v11.5M730.1 913.2v14.1M717.1 912.8v10.9M739.8 902.1v4.9M757.4 875.8v12.9M765.5 876.9v11.4M769.6 858.1v9.1M759.7 883.1v17.8M726.3 931.7v6.5M766.4 891.2v10.5M742.6 907.0v4.5M761.0 850.5v8.3M730.7 927.1v5.1M821.3 840.8v6.5M809.8 814.4v7.3M808.2 810.9v9.3M823.9 805.9v8.3M827.3 832.8v4.6M793.4 876.7v11.2M790.4 839.7v16.0M814.5 834.2v15.1M790.1 900.6v5.8M810.4 810.9v17.1M827.5 817.3v13.2M807.4 841.6v7.8M797.7 831.4v10.3M802.0 886.8v17.7M805.9 872.8v16.8M791.3 861.2v14.1M798.8 873.9v10.5M814.4 816.3v14.6M830.4 813.3v11.5M821.4 814.0v9.8M789.2 866.6v14.6M795.9 856.6v4.7M794.6 838.1v4.4M802.5 847.3v13.7M820.6 812.4v11.4M788.6 906.9v12.1M806.5 840.3v13.2M825.4 829.9v13.0M815.7 831.5v6.2M809.8 854.6v13.1M803.8 836.1v17.5M798.1 863.2v8.8M804.8 814.5v4.9M802.3 838.4v11.1M802.9 814.0v11.5M781.0 885.0v14.4M801.0 883.3v15.7M786.9 849.9v6.8M804.1 841.8v5.5M798.4 846.2v6.5M784.5 896.1v17.8M793.5 886.5v15.2M818.2 812.6v5.1M785.1 907.6v6.0M826.4 834.3v12.0M825.1 799.9v12.1M802.0 866.2v12.7M827.7 830.1v11.7M792.8 916.5v9.3M813.7 836.0v17.5M787.5 876.9v4.4M795.4 885.9v15.5M789.4 924.3v10.4M806.9 860.8v5.6M788.0 858.8v9.5M791.2 801.1v10.1M793.4 814.0v4.5M794.1 855.7v11.2M780.6 887.6v15.3M788.5 853.1v7.1M814.1 848.2v4.2M790.5 915.6v13.5M789.8 894.2v11.1M787.9 865.3v16.4M814.0 839.3v10.2M788.2 913.7v11.1M797.7 852.6v16.4M791.8 925.2v7.4M779.8 871.2v6.0M814.3 807.4v14.2M792.1 833.3v15.1M822.8 824.5v17.4M785.4 894.5v4.5M806.1 834.6v17.6M791.8 819.3v4.0M800.9 821.3v13.8M807.5 831.1v8.6M792.2 919.2v8.8M794.7 819.9v16.0M800.0 880.8v5.2M814.1 846.5v8.4M795.6 892.0v4.7M793.4 894.8v7.4M834.1 810.2v11.3M801.1 875.6v16.1M831.1 816.5v8.7M782.8 888.0v10.5M810.4 862.0v9.9M801.1 843.5v5.3M782.0 869.8v5.8M835.7 799.2v6.9M834.0 809.3v4.9M807.2 826.1v9.4M820.7 809.4v14.4M788.4 893.9v9.0M786.3 841.8v12.5M805.7 846.5v12.8M820.3 808.7v8.1M804.3 832.7v12.7M796.4 838.7v11.2M793.7 828.7v12.8M786.1 877.5v10.8M792.5 799.3v13.0M797.3 867.0v6.8M803.1 858.0v4.3M798.2 832.6v9.4M799.6 826.8v15.3M791.8 925.6v6.9M781.0 878.9v6.8M785.1 860.6v7.1M796.8 823.0v17.0M799.8 887.4v14.2M792.1 849.7v14.6M799.8 887.7v12.2M813.5 808.1v14.2M799.8 886.4v7.1M787.7 850.0v10.6M804.0 893.5v5.8M825.3 826.1v7.3M785.2 883.7v15.4M789.0 863.1v12.3M830.9 804.3v5.7M820.7 825.2v13.5M792.4 837.6v13.3M785.8 912.6v4.1M821.1 839.9v11.8M835.5 807.9v17.0M784.7 860.4v11.6M795.8 834.0v13.1M804.3 842.2v14.3M805.8 850.6v15.2M789.5 892.8v12.0M792.7 858.9v14.6M803.6 885.6v5.7M827.6 795.8v10.7M809.1 873.9v14.3M782.5 880.6v5.8M801.9 885.6v8.3M788.5 915.1v14.6M833.6 806.1v9.6M790.1 881.2v16.2M795.5 814.1v8.8M807.3 868.9v12.5M796.8 831.3v11.7M794.0 861.8v14.6M797.5 901.8v11.6M792.5 871.6v13.7M820.7 838.4v15.3M835.0 812.0v10.4M804.3 867.1v11.9M786.5 871.5v5.9M849.2 799.3v8.8M853.5 788.8v18.0M852.3 799.1v7.7M847.3 792.9v18.0M853.8 790.9v7.1M858.5 794.3v6.9" stroke="#6f9ab0" stroke-opacity="0.35" stroke-width="1.4" fill="none"/><line x1="656.8" y1="962.6" x2="656.8" y2="977.4" stroke="#6f9ab0" stroke-opacity="0.85" stroke-width="1.4"/><circle cx="656.8" cy="970.0" r="3.2" fill="#6f9ab0" fill-opacity="1"/><line x1="667.5" y1="950.3" x2="667.5" y2="965.1" stroke="#6f9ab0" stroke-opacity="0.85" stroke-width="1.4"/><circle cx="667.5" cy="957.7" r="3.2" fill="#6f9ab0" fill-opacity="1"/><line x1="673.3" y1="949.5" x2="673.3" y2="964.2" stroke="#6f9ab0" stroke-opacity="0.85" stroke-width="1.4"/><circle cx="673.3" cy="956.8" r="3.2" fill="#6f9ab0" fill-opacity="1"/><line x1="701.2" y1="924.0" x2="701.2" y2="938.8" stroke="#6f9ab0" stroke-opacity="0.85" stroke-width="1.4"/><circle cx="701.2" cy="931.4" r="3.2" fill="#6f9ab0" fill-opacity="1"/><line x1="709.4" y1="919.1" x2="709.4" y2="933.9" stroke="#6f9ab0" stroke-opacity="0.85" stroke-width="1.4"/><circle cx="709.4" cy="926.5" r="3.2" fill="#6f9ab0" fill-opacity="1"/><line x1="719.2" y1="936.3" x2="719.2" y2="949.5" stroke="#6f9ab0" stroke-opacity="0.85" stroke-width="1.4"/><circle cx="719.2" cy="942.9" r="3.2" fill="#6f9ab0" fill-opacity="1"/><line x1="732.3" y1="882.2" x2="732.3" y2="901.9" stroke="#6f9ab0" stroke-opacity="0.59" stroke-width="1.4"/><circle cx="732.3" cy="892.0" r="3.2" fill="#6f9ab0" fill-opacity="0.7"/><line x1="752.0" y1="867.4" x2="752.0" y2="880.5" stroke="#6f9ab0" stroke-opacity="0.51" stroke-width="1.4"/><circle cx="752.0" cy="874.0" r="3.2" fill="#6f9ab0" fill-opacity="0.6"/><line x1="833.3" y1="783.7" x2="833.3" y2="819.8" stroke="#6f9ab0" stroke-opacity="0.85" stroke-width="1.4"/><circle cx="833.3" cy="801.7" r="3.2" fill="#6f9ab0" fill-opacity="1"/><line x1="841.5" y1="817.3" x2="841.5" y2="830.5" stroke="#6f9ab0" stroke-opacity="0.85" stroke-width="1.4"/><circle cx="841.5" cy="823.9" r="3.2" fill="#6f9ab0" fill-opacity="1"/><line x1="838.2" y1="826.4" x2="838.2" y2="846.1" stroke="#6f9ab0" stroke-opacity="0.85" stroke-width="1.4"/><circle cx="838.2" cy="836.2" r="3.2" fill="#6f9ab0" fill-opacity="1"/><line x1="829.2" y1="787.0" x2="829.2" y2="823.1" stroke="#6f9ab0" stroke-opacity="0.77" stroke-width="1.4"/><circle cx="829.2" cy="805.0" r="3.2" fill="#6f9ab0" fill-opacity="0.9"/><line x1="847.2" y1="780.4" x2="847.2" y2="819.8" stroke="#6f9ab0" stroke-opacity="0.85" stroke-width="1.4"/><circle cx="847.2" cy="800.1" r="3.2" fill="#6f9ab0" fill-opacity="1"/><line x1="857.1" y1="773.8" x2="857.1" y2="816.5" stroke="#6f9ab0" stroke-opacity="0.85" stroke-width="1.4"/><circle cx="857.1" cy="795.2" r="3.2" fill="#6f9ab0" fill-opacity="1"/><line x1="851.3" y1="778.8" x2="851.3" y2="814.9" stroke="#6f9ab0" stroke-opacity="0.77" stroke-width="1.4"/><circle cx="851.3" cy="796.8" r="3.2" fill="#6f9ab0" fill-opacity="0.9"/><line x1="824.3" y1="798.5" x2="824.3" y2="828.0" stroke="#6f9ab0" stroke-opacity="0.68" stroke-width="1.4"/><circle cx="824.3" cy="813.2" r="3.2" fill="#6f9ab0" fill-opacity="0.8"/><line x1="821.0" y1="805.0" x2="821.0" y2="831.3" stroke="#6f9ab0" stroke-opacity="0.68" stroke-width="1.4"/><circle cx="821.0" cy="818.2" r="3.2" fill="#6f9ab0" fill-opacity="0.8"/><line x1="848.9" y1="798.5" x2="848.9" y2="818.2" stroke="#6f9ab0" stroke-opacity="0.77" stroke-width="1.4"/><circle cx="848.9" cy="808.3" r="3.2" fill="#6f9ab0" fill-opacity="0.9"/><line x1="858.7" y1="777.1" x2="858.7" y2="816.5" stroke="#6f9ab0" stroke-opacity="0.68" stroke-width="1.4"/><circle cx="858.7" cy="796.8" r="3.2" fill="#6f9ab0" fill-opacity="0.8"/></g>
<line x1="645.8" y1="763.8" x2="873.8" y2="763.8" stroke="#111" stroke-width="1.7"/>
<line x1="646.6" y1="763.0" x2="646.6" y2="989.7" stroke="#111" stroke-width="1.7"/>
<line x1="872.4" y1="763.0" x2="872.4" y2="989.7" stroke="#111" stroke-width="2.9"/>
<line x1="645.8" y1="988.1" x2="873.8" y2="988.1" stroke="#111" stroke-width="3.3"/>
<line x1="683.2" y1="988.1" x2="683.2" y2="991.7" stroke="#222" stroke-width="1.5"/>
<text transform="translate(687.5,1009.8) scale(1,1.1)" class="xl">-0.4</text>
<line x1="730.2" y1="988.1" x2="730.2" y2="991.7" stroke="#222" stroke-width="1.5"/>
<text transform="translate(734.5,1009.8) scale(1,1.1)" class="xl">-0.2</text>
<line x1="777.7" y1="988.1" x2="777.7" y2="991.7" stroke="#222" stroke-width="1.5"/>
<text transform="translate(777.7,1009.8) scale(1,1.1)" class="xl">0.0</text>
<line x1="824.9" y1="988.1" x2="824.9" y2="991.7" stroke="#222" stroke-width="1.5"/>
<text transform="translate(829.2,1009.8) scale(1,1.1)" class="xl">0.2</text>
<line x1="643.2" y1="820.7" x2="646.6" y2="820.7" stroke="#222" stroke-width="1.5"/>
<text transform="translate(644.2,826.8) scale(1,1.1)" class="yl">0.25</text>
<line x1="643.2" y1="879.1" x2="646.6" y2="879.1" stroke="#222" stroke-width="1.5"/>
<text transform="translate(635.6,885.2) scale(1,1.1)" class="yl">0.00</text>
<line x1="643.2" y1="938.8" x2="646.6" y2="938.8" stroke="#222" stroke-width="1.5"/>
<text transform="translate(644.2,944.9) scale(1,1.1)" class="yl">-0.25</text>
<text x="1029.1" y="751.2" class="pt" clip-path="url(#t13)">Other lipids</text>
<g clip-path="url(#c13)"><line x1="1025.4" y1="764.8" x2="1025.4" y2="988.1" class="dz"/><line x1="918.5" y1="879.7" x2="1142.4" y2="879.7" class="dz"/><path d="M1052.6 835.5v23.6M1035.5 833.8v30.3M1021.3 864.9v11.7M1044.0 847.7v17.3M1059.2 865.1v10.3M1003.2 889.3v21.0M1017.3 869.4v16.9M1041.4 837.3v22.6M1011.9 883.6v21.6M1053.3 863.3v6.8M1037.9 874.3v22.3M1025.0 876.2v8.9M1027.3 863.6v13.2M1008.8 869.3v31.7M1023.3 834.6v28.0M1007.4 892.2v26.8M1019.6 875.2v8.6M1057.4 856.6v28.8M1057.2 860.6v13.5M1004.1 897.0v19.8M1015.7 888.3v24.6M1008.3 914.6v6.9" stroke="#9fb3a3" stroke-opacity="0.2" stroke-width="1.2" fill="none"/><path d="M1052.6 847.3h0M1035.5 848.9h0M1021.3 870.7h0M1044.0 856.3h0M1059.2 870.3h0M1003.2 899.8h0M1017.3 877.8h0M1041.4 848.5h0M1011.9 894.4h0M1053.3 866.7h0M1037.9 885.4h0M1025.0 880.6h0M1027.3 870.2h0M1008.8 885.2h0M1023.3 848.6h0M1007.4 905.6h0M1019.6 879.5h0M1057.4 871.0h0M1057.2 867.4h0M1004.1 906.9h0M1015.7 900.6h0M1008.3 918.0h0" stroke="#9fb3a3" stroke-opacity="0.2" stroke-width="6" stroke-linecap="round" fill="none"/><line x1="917.5" y1="988.1" x2="1140.2" y2="763.8" stroke="#222" stroke-width="1.1"/><polygon points="994.7,910.4 999.1,899.4 1005.7,890.7 1014.4,877.5 1021.0,868.8 1023.2,873.2 1023.2,886.3 1018.8,895.1 1010.0,906.0 1001.3,914.7" fill="#9fb3a3" fill-opacity="0.97" filter="url(#bl1)"/><polygon points="1027.5,881.9 1028.6,868.8 1031.9,860.0 1039.6,856.8 1045.1,860.0 1045.1,871.0 1040.7,879.7 1034.1,886.3" fill="#9fb3a3" fill-opacity="0.97" filter="url(#bl1)"/><polygon points="1045.1,855.7 1053.8,851.3 1062.6,853.5 1063.7,862.2 1056.0,864.4 1047.2,864.4" fill="#9fb3a3" fill-opacity="0.9" filter="url(#bl1)"/><path d="M1006.8 883.8v32.4M1012.8 884.8v23.1M1012.1 886.9v27.6M1022.7 873.2v25.6M1012.5 878.0v35.9M1036.0 844.7v32.7M1031.1 851.7v25.1M1039.1 848.3v35.3M1048.7 843.7v34.7" stroke="#9fb3a3" stroke-opacity="0.16" stroke-width="1.3" fill="none"/><path d="M1014.1 884.4v10.5M1005.4 899.0v11.3M1010.1 897.7v6.1M1012.8 885.0v10.8M1014.0 878.1v12.2M1007.6 885.5v5.2M1009.3 889.9v6.6M1020.2 886.6v6.3M997.2 906.4v10.0M998.8 909.2v7.0M1009.6 893.8v11.9M1009.4 892.3v9.1M1021.0 880.1v5.9M1013.5 877.4v11.4M1010.8 889.5v10.7M1006.3 902.3v12.4M1012.3 894.1v7.6M1018.7 884.6v7.3M1000.7 896.3v15.2M1005.0 895.4v11.9M1003.0 886.5v16.5M1040.3 852.5v14.6M1036.1 865.8v6.0M1040.9 876.8v4.6M1040.4 861.4v16.4M1031.0 868.3v10.2M1038.9 853.5v17.5M1031.2 854.4v16.8M1037.5 857.9v7.3M1044.1 856.9v12.7M1041.3 850.9v14.2M1039.1 872.3v8.9M1031.7 875.3v11.6M1039.3 869.8v9.8M1034.9 879.5v5.4M1062.0 855.1v11.5M1052.5 853.0v8.3M1054.3 851.0v16.6M1061.1 854.9v14.5M1050.3 850.8v7.0M1055.9 852.8v10.3M1048.4 853.8v15.3" stroke="#9fb3a3" stroke-opacity="0.35" stroke-width="1.4" fill="none"/><line x1="927.5" y1="957.0" x2="927.5" y2="976.7" stroke="#9fb3a3" stroke-opacity="0.81" stroke-width="1.4"/><circle cx="927.5" cy="966.8" r="3.2" fill="#9fb3a3" fill-opacity="0.95"/><line x1="954.2" y1="927.4" x2="954.2" y2="940.6" stroke="#9fb3a3" stroke-opacity="0.81" stroke-width="1.4"/><circle cx="954.2" cy="934.0" r="3.2" fill="#9fb3a3" fill-opacity="0.95"/><line x1="954.2" y1="955.2" x2="954.2" y2="964.0" stroke="#9fb3a3" stroke-opacity="0.81" stroke-width="1.4"/><circle cx="954.2" cy="959.6" r="3.2" fill="#9fb3a3" fill-opacity="0.95"/><line x1="974.6" y1="897.7" x2="974.6" y2="941.4" stroke="#9fb3a3" stroke-opacity="0.81" stroke-width="1.4"/><circle cx="974.6" cy="919.6" r="3.2" fill="#9fb3a3" fill-opacity="0.95"/><line x1="975.0" y1="906.7" x2="975.0" y2="917.6" stroke="#9fb3a3" stroke-opacity="0.85" stroke-width="1.4"/><circle cx="975.0" cy="912.1" r="3.2" fill="#9fb3a3" fill-opacity="1"/><line x1="979.4" y1="902.7" x2="979.4" y2="913.7" stroke="#9fb3a3" stroke-opacity="0.85" stroke-width="1.4"/><circle cx="979.4" cy="908.2" r="3.2" fill="#9fb3a3" fill-opacity="1"/><line x1="981.6" y1="902.3" x2="981.6" y2="911.0" stroke="#9fb3a3" stroke-opacity="0.85" stroke-width="1.4"/><circle cx="981.6" cy="906.7" r="3.2" fill="#9fb3a3" fill-opacity="1"/><line x1="989.9" y1="895.1" x2="989.9" y2="908.2" stroke="#9fb3a3" stroke-opacity="0.81" stroke-width="1.4"/><circle cx="989.9" cy="901.6" r="3.2" fill="#9fb3a3" fill-opacity="0.95"/><line x1="988.2" y1="916.9" x2="988.2" y2="930.1" stroke="#9fb3a3" stroke-opacity="0.85" stroke-width="1.4"/><circle cx="988.2" cy="923.5" r="3.2" fill="#9fb3a3" fill-opacity="1"/><line x1="992.5" y1="914.7" x2="992.5" y2="925.7" stroke="#9fb3a3" stroke-opacity="0.85" stroke-width="1.4"/><circle cx="992.5" cy="920.2" r="3.2" fill="#9fb3a3" fill-opacity="1"/><line x1="995.8" y1="881.9" x2="995.8" y2="895.1" stroke="#9fb3a3" stroke-opacity="0.68" stroke-width="1.4"/><circle cx="995.8" cy="888.5" r="3.2" fill="#9fb3a3" fill-opacity="0.8"/><line x1="1001.3" y1="884.1" x2="1001.3" y2="897.2" stroke="#9fb3a3" stroke-opacity="0.68" stroke-width="1.4"/><circle cx="1001.3" cy="890.7" r="3.2" fill="#9fb3a3" fill-opacity="0.8"/><line x1="1006.1" y1="823.9" x2="1006.1" y2="880.8" stroke="#9fb3a3" stroke-opacity="0.51" stroke-width="1.4"/><circle cx="1006.1" cy="852.4" r="3.2" fill="#9fb3a3" fill-opacity="0.6"/><line x1="1070.9" y1="778.6" x2="1070.9" y2="831.2" stroke="#9fb3a3" stroke-opacity="0.72" stroke-width="1.4"/><circle cx="1070.9" cy="804.9" r="3.2" fill="#9fb3a3" fill-opacity="0.85"/><line x1="1070.9" y1="803.2" x2="1070.9" y2="829.4" stroke="#9fb3a3" stroke-opacity="0.81" stroke-width="1.4"/><circle cx="1070.9" cy="816.3" r="3.2" fill="#9fb3a3" fill-opacity="0.95"/><line x1="1079.6" y1="815.8" x2="1079.6" y2="877.1" stroke="#9fb3a3" stroke-opacity="0.34" stroke-width="1.4"/><circle cx="1079.6" cy="846.5" r="3.2" fill="#9fb3a3" fill-opacity="0.4"/><line x1="1084.0" y1="840.8" x2="1084.0" y2="867.0" stroke="#9fb3a3" stroke-opacity="0.77" stroke-width="1.4"/><circle cx="1084.0" cy="853.9" r="3.2" fill="#9fb3a3" fill-opacity="0.9"/><line x1="1121.6" y1="781.7" x2="1121.6" y2="843.0" stroke="#9fb3a3" stroke-opacity="0.77" stroke-width="1.4"/><circle cx="1121.6" cy="812.3" r="3.2" fill="#9fb3a3" fill-opacity="0.9"/><line x1="1128.2" y1="774.7" x2="1128.2" y2="836.0" stroke="#9fb3a3" stroke-opacity="0.59" stroke-width="1.4"/><circle cx="1128.2" cy="805.3" r="3.2" fill="#9fb3a3" fill-opacity="0.7"/><line x1="1129.3" y1="778.6" x2="1129.3" y2="839.9" stroke="#9fb3a3" stroke-opacity="0.68" stroke-width="1.4"/><circle cx="1129.3" cy="809.3" r="3.2" fill="#9fb3a3" fill-opacity="0.8"/><line x1="1040.2" y1="790.0" x2="1040.2" y2="846.9" stroke="#9fb3a3" stroke-opacity="0.34" stroke-width="1.4"/><circle cx="1040.2" cy="818.5" r="3.2" fill="#9fb3a3" fill-opacity="0.4"/><line x1="1056.0" y1="794.4" x2="1056.0" y2="851.3" stroke="#9fb3a3" stroke-opacity="0.34" stroke-width="1.4"/><circle cx="1056.0" cy="822.8" r="3.2" fill="#9fb3a3" fill-opacity="0.4"/><line x1="1052.7" y1="872.1" x2="1052.7" y2="898.3" stroke="#9fb3a3" stroke-opacity="0.34" stroke-width="1.4"/><circle cx="1052.7" cy="885.2" r="3.2" fill="#9fb3a3" fill-opacity="0.4"/><line x1="1040.2" y1="886.3" x2="1040.2" y2="925.7" stroke="#9fb3a3" stroke-opacity="0.30" stroke-width="1.4"/><circle cx="1040.2" cy="906.0" r="3.2" fill="#9fb3a3" fill-opacity="0.35"/><line x1="1047.9" y1="883.7" x2="1047.9" y2="953.7" stroke="#9fb3a3" stroke-opacity="0.30" stroke-width="1.4"/><circle cx="1047.9" cy="918.7" r="3.2" fill="#9fb3a3" fill-opacity="0.35"/><line x1="1047.2" y1="866.6" x2="1047.2" y2="879.7" stroke="#9fb3a3" stroke-opacity="0.59" stroke-width="1.4"/><circle cx="1047.2" cy="873.2" r="3.2" fill="#9fb3a3" fill-opacity="0.7"/></g>
<line x1="916.7" y1="763.8" x2="1143.8" y2="763.8" stroke="#111" stroke-width="1.7"/>
<line x1="917.5" y1="763.0" x2="917.5" y2="989.7" stroke="#111" stroke-width="1.7"/>
<line x1="1142.4" y1="763.0" x2="1142.4" y2="989.7" stroke="#111" stroke-width="2.9"/>
<line x1="916.7" y1="988.1" x2="1143.8" y2="988.1" stroke="#111" stroke-width="3.3"/>
<line x1="958.6" y1="988.1" x2="958.6" y2="991.7" stroke="#222" stroke-width="1.5"/>
<text transform="translate(962.9,1009.8) scale(1,1.1)" class="xl">-0.2</text>
<line x1="1025.4" y1="988.1" x2="1025.4" y2="991.7" stroke="#222" stroke-width="1.5"/>
<text transform="translate(1025.4,1009.8) scale(1,1.1)" class="xl">0.0</text>
<line x1="1092.5" y1="988.1" x2="1092.5" y2="991.7" stroke="#222" stroke-width="1.5"/>
<text transform="translate(1096.8,1009.8) scale(1,1.1)" class="xl">0.2</text>
<line x1="914.1" y1="811.9" x2="917.5" y2="811.9" stroke="#222" stroke-width="1.5"/>
<text transform="translate(915.1,818.0) scale(1,1.1)" class="yl">0.2</text>
<line x1="914.1" y1="879.7" x2="917.5" y2="879.7" stroke="#222" stroke-width="1.5"/>
<text transform="translate(906.5,885.8) scale(1,1.1)" class="yl">0.0</text>
<line x1="914.1" y1="949.8" x2="917.5" y2="949.8" stroke="#222" stroke-width="1.5"/>
<text transform="translate(915.1,955.9) scale(1,1.1)" class="yl">-0.2</text>
<text x="1314.1" y="751.2" class="pt" clip-path="url(#t14)">Phospholipids</text>
<g clip-path="url(#c14)"><line x1="1323.5" y1="764.8" x2="1323.5" y2="988.1" class="dz"/><line x1="1203.1" y1="890.0" x2="1427.9" y2="890.0" class="dz"/><path d="M1318.0 864.5v24.9M1314.7 886.9v13.5M1300.1 901.2v7.9M1322.9 857.8v21.4M1332.2 869.8v15.3M1343.2 873.5v22.8M1305.5 905.6v8.4M1299.7 909.9v17.5M1326.2 873.9v20.2M1341.9 869.9v6.2M1322.8 882.8v14.9M1318.3 855.9v20.4M1287.7 901.3v10.5M1342.9 859.9v19.7M1297.6 907.7v22.9M1323.3 885.6v7.6M1328.2 858.4v10.4" stroke="#d8cd8e" stroke-opacity="0.2" stroke-width="1.2" fill="none"/><path d="M1318.0 876.9h0M1314.7 893.7h0M1300.1 905.2h0M1322.9 868.5h0M1332.2 877.4h0M1343.2 884.9h0M1305.5 909.8h0M1299.7 918.6h0M1326.2 884.0h0M1341.9 873.0h0M1322.8 890.3h0M1318.3 866.1h0M1287.7 906.6h0M1342.9 869.8h0M1297.6 919.2h0M1323.3 889.4h0M1328.2 863.6h0" stroke="#d8cd8e" stroke-opacity="0.2" stroke-width="6" stroke-linecap="round" fill="none"/><line x1="1222.9" y1="988.1" x2="1427.9" y2="787.8" stroke="#222" stroke-width="1.1"/><polygon points="1296.2,912.6 1300.5,901.6 1309.3,892.9 1315.9,886.3 1321.3,886.3 1321.3,899.4 1315.9,908.2 1307.1,914.7 1300.5,916.9" fill="#d8cd8e" fill-opacity="0.95" filter="url(#bl1)"/><polygon points="1324.6,890.7 1325.7,879.7 1331.2,874.3 1339.9,873.2 1346.5,875.4 1347.6,881.9 1339.9,886.3 1333.4,892.9 1329.0,895.1" fill="#d8cd8e" fill-opacity="0.95" filter="url(#bl1)"/><polygon points="1283.0,914.7 1289.6,908.2 1298.4,906.0 1300.5,912.6 1291.8,916.9" fill="#d8cd8e" fill-opacity="0.85" filter="url(#bl1)"/><path d="M1306.8 874.6v41.7M1307.4 894.8v22.2M1312.2 885.4v28.9M1310.4 901.2v18.9M1329.4 865.8v37.1M1341.6 864.5v20.5M1327.2 872.1v31.5M1294.9 889.3v36.2" stroke="#d8cd8e" stroke-opacity="0.16" stroke-width="1.3" fill="none"/><path d="M1310.3 890.8v16.8M1314.5 890.0v7.3M1314.2 897.0v17.9M1305.9 903.7v8.5M1300.6 901.4v16.9M1313.7 886.2v16.4M1313.9 890.1v15.6M1320.2 897.8v6.3M1310.0 887.6v11.5M1319.7 885.9v10.1M1300.0 901.9v9.1M1306.3 910.5v4.6M1310.2 890.5v10.8M1312.2 900.6v17.5M1307.0 904.7v4.7M1309.5 895.4v16.9M1300.0 900.0v13.0M1327.7 870.8v17.8M1330.8 877.1v16.2M1332.6 881.6v16.8M1332.7 888.7v7.4M1334.1 867.6v14.3M1327.3 882.0v15.6M1331.3 875.6v8.3M1328.4 882.2v14.2M1337.0 879.7v15.2M1326.3 874.3v10.5M1329.7 875.1v16.5M1331.9 882.2v9.1M1297.6 908.0v11.1M1294.1 909.7v5.8M1296.0 899.5v17.3M1295.1 905.3v4.5" stroke="#d8cd8e" stroke-opacity="0.35" stroke-width="1.4" fill="none"/><line x1="1212.6" y1="960.0" x2="1212.6" y2="977.5" stroke="#d8cd8e" stroke-opacity="0.81" stroke-width="1.4"/><circle cx="1212.6" cy="968.8" r="3.2" fill="#d8cd8e" fill-opacity="0.95"/><line x1="1275.4" y1="932.3" x2="1275.4" y2="941.0" stroke="#d8cd8e" stroke-opacity="0.81" stroke-width="1.4"/><circle cx="1275.4" cy="936.6" r="3.2" fill="#d8cd8e" fill-opacity="0.95"/><line x1="1284.1" y1="920.2" x2="1284.1" y2="942.1" stroke="#d8cd8e" stroke-opacity="0.51" stroke-width="1.4"/><circle cx="1284.1" cy="931.2" r="3.2" fill="#d8cd8e" fill-opacity="0.6"/><line x1="1291.4" y1="927.2" x2="1291.4" y2="936.0" stroke="#d8cd8e" stroke-opacity="0.68" stroke-width="1.4"/><circle cx="1291.4" cy="931.6" r="3.2" fill="#d8cd8e" fill-opacity="0.8"/><line x1="1285.2" y1="909.3" x2="1285.2" y2="918.0" stroke="#d8cd8e" stroke-opacity="0.85" stroke-width="1.4"/><circle cx="1285.2" cy="913.7" r="3.2" fill="#d8cd8e" fill-opacity="1"/><line x1="1414.3" y1="773.2" x2="1414.3" y2="821.3" stroke="#d8cd8e" stroke-opacity="0.68" stroke-width="1.4"/><circle cx="1414.3" cy="797.2" r="3.2" fill="#d8cd8e" fill-opacity="0.8"/><line x1="1394.0" y1="825.0" x2="1394.0" y2="873.2" stroke="#d8cd8e" stroke-opacity="0.59" stroke-width="1.4"/><circle cx="1394.0" cy="849.1" r="3.2" fill="#d8cd8e" fill-opacity="0.7"/><line x1="1373.9" y1="845.4" x2="1373.9" y2="851.9" stroke="#d8cd8e" stroke-opacity="0.85" stroke-width="1.4"/><circle cx="1373.9" cy="848.7" r="3.2" fill="#d8cd8e" fill-opacity="1"/><line x1="1359.0" y1="866.6" x2="1359.0" y2="873.2" stroke="#d8cd8e" stroke-opacity="0.85" stroke-width="1.4"/><circle cx="1359.0" cy="869.9" r="3.2" fill="#d8cd8e" fill-opacity="1"/><line x1="1353.7" y1="823.9" x2="1353.7" y2="867.7" stroke="#d8cd8e" stroke-opacity="0.42" stroke-width="1.4"/><circle cx="1353.7" cy="845.8" r="3.2" fill="#d8cd8e" fill-opacity="0.5"/><line x1="1344.3" y1="852.4" x2="1344.3" y2="869.9" stroke="#d8cd8e" stroke-opacity="0.51" stroke-width="1.4"/><circle cx="1344.3" cy="861.1" r="3.2" fill="#d8cd8e" fill-opacity="0.6"/><line x1="1336.2" y1="809.3" x2="1336.2" y2="853.0" stroke="#d8cd8e" stroke-opacity="0.30" stroke-width="1.4"/><circle cx="1336.2" cy="831.2" r="3.2" fill="#d8cd8e" fill-opacity="0.35"/><line x1="1341.0" y1="809.7" x2="1341.0" y2="853.5" stroke="#d8cd8e" stroke-opacity="0.30" stroke-width="1.4"/><circle cx="1341.0" cy="831.6" r="3.2" fill="#d8cd8e" fill-opacity="0.35"/><line x1="1312.6" y1="820.7" x2="1312.6" y2="873.2" stroke="#d8cd8e" stroke-opacity="0.26" stroke-width="1.4"/><circle cx="1312.6" cy="846.9" r="3.2" fill="#d8cd8e" fill-opacity="0.3"/><line x1="1311.1" y1="857.4" x2="1311.1" y2="883.7" stroke="#d8cd8e" stroke-opacity="0.30" stroke-width="1.4"/><circle cx="1311.1" cy="870.5" r="3.2" fill="#d8cd8e" fill-opacity="0.35"/><line x1="1303.8" y1="864.0" x2="1303.8" y2="890.2" stroke="#d8cd8e" stroke-opacity="0.34" stroke-width="1.4"/><circle cx="1303.8" cy="877.1" r="3.2" fill="#d8cd8e" fill-opacity="0.4"/><line x1="1348.7" y1="876.5" x2="1348.7" y2="898.3" stroke="#d8cd8e" stroke-opacity="0.34" stroke-width="1.4"/><circle cx="1348.7" cy="887.4" r="3.2" fill="#d8cd8e" fill-opacity="0.4"/></g>
<line x1="1201.3" y1="763.8" x2="1429.3" y2="763.8" stroke="#111" stroke-width="1.7"/>
<line x1="1202.1" y1="763.0" x2="1202.1" y2="989.7" stroke="#111" stroke-width="1.7"/>
<line x1="1427.9" y1="763.0" x2="1427.9" y2="989.7" stroke="#111" stroke-width="2.9"/>
<line x1="1201.3" y1="988.1" x2="1429.3" y2="988.1" stroke="#111" stroke-width="3.3"/>
<line x1="1212.6" y1="988.1" x2="1212.6" y2="991.7" stroke="#222" stroke-width="1.5"/>
<text transform="translate(1216.9,1009.8) scale(1,1.1)" class="xl">-0.4</text>
<line x1="1268.2" y1="988.1" x2="1268.2" y2="991.7" stroke="#222" stroke-width="1.5"/>
<text transform="translate(1272.5,1009.8) scale(1,1.1)" class="xl">-0.2</text>
<line x1="1323.5" y1="988.1" x2="1323.5" y2="991.7" stroke="#222" stroke-width="1.5"/>
<text transform="translate(1323.5,1009.8) scale(1,1.1)" class="xl">0.0</text>
<line x1="1378.9" y1="988.1" x2="1378.9" y2="991.7" stroke="#222" stroke-width="1.5"/>
<text transform="translate(1383.2,1009.8) scale(1,1.1)" class="xl">0.2</text>
<line x1="1198.7" y1="783.9" x2="1202.1" y2="783.9" stroke="#222" stroke-width="1.5"/>
<text transform="translate(1199.7,790.0) scale(1,1.1)" class="yl">0.4</text>
<line x1="1198.7" y1="838.2" x2="1202.1" y2="838.2" stroke="#222" stroke-width="1.5"/>
<text transform="translate(1199.7,844.3) scale(1,1.1)" class="yl">0.2</text>
<line x1="1198.7" y1="890.0" x2="1202.1" y2="890.0" stroke="#222" stroke-width="1.5"/>
<text transform="translate(1191.1,896.1) scale(1,1.1)" class="yl">0.0</text>
<line x1="1198.7" y1="944.3" x2="1202.1" y2="944.3" stroke="#222" stroke-width="1.5"/>
<text transform="translate(1199.7,950.4) scale(1,1.1)" class="yl">-0.2</text>
<text x="208.1" y="1051.8" class="pt" clip-path="url(#t15)">Relative lipoprotein lipid concentrations</text>
<g clip-path="url(#c15)"><line x1="211.8" y1="1065.4" x2="211.8" y2="1288.7" class="dz"/><line x1="98.3" y1="1171.6" x2="321.6" y2="1171.6" class="dz"/><path d="M187.6 1149.2v26.9M243.3 1133.0v6.6M104.0 1254.5v7.6M207.7 1150.3v14.5M172.4 1193.9v22.4M226.4 1139.1v8.3M145.7 1255.1v21.9M214.2 1176.3v11.0M300.0 1075.0v23.3M223.8 1193.0v7.7M129.1 1248.0v10.4M256.2 1156.1v12.6M192.8 1192.2v11.8M138.4 1238.7v29.5M243.4 1109.0v12.5M111.6 1243.5v23.2M227.8 1129.9v21.5M195.6 1170.0v7.6M227.0 1126.9v12.5M216.1 1218.2v14.0M237.0 1182.3v29.1M190.1 1131.4v18.0M158.7 1204.8v21.0M238.6 1184.9v23.7M244.8 1104.1v13.5M156.8 1248.4v18.4M172.2 1186.3v12.4M217.0 1198.9v6.6M227.1 1137.0v20.4M260.8 1105.9v8.5M133.5 1260.6v10.1M226.9 1124.7v18.8M159.1 1231.0v30.4M118.1 1254.2v18.6M200.0 1123.3v31.2M257.4 1100.0v14.4M200.4 1188.4v16.7M209.5 1139.6v6.8M174.2 1197.5v26.1M219.6 1194.3v18.4M227.7 1233.3v12.4M228.5 1176.5v12.2M226.5 1227.3v23.6M237.2 1122.7v31.4M260.4 1115.3v26.2M166.4 1235.5v27.2M188.0 1214.3v28.4M184.3 1147.6v25.9M252.0 1158.9v9.1M199.7 1232.4v8.7M159.7 1244.1v20.0M177.6 1166.1v23.0M230.0 1204.8v14.7M312.2 1063.6v31.6M236.1 1189.5v23.8M188.4 1129.0v10.1M241.0 1178.5v22.8M208.8 1230.8v25.8M151.1 1251.0v16.2M189.8 1120.8v12.4M191.8 1133.9v12.9M284.3 1099.4v23.4M216.2 1209.5v11.9M219.2 1101.1v21.7M179.1 1188.4v12.7M238.2 1102.6v7.9M163.2 1239.8v25.9M218.1 1111.1v10.3M219.6 1168.7v28.5M111.3 1244.6v22.8M255.1 1108.3v31.8M267.4 1096.7v9.7M313.2 1087.3v7.7M191.2 1222.3v20.8M177.9 1210.6v29.0M158.9 1216.2v6.6M232.2 1201.4v29.7M210.7 1205.3v31.3M224.2 1215.9v18.5M196.1 1219.2v11.5M184.2 1145.6v14.6M108.6 1264.1v12.5M268.0 1105.6v19.0M118.9 1249.9v17.8M161.3 1192.4v12.5M224.3 1146.4v15.5M235.6 1181.0v8.8M137.8 1247.0v26.5M182.1 1180.5v23.5M238.8 1191.9v7.7M179.4 1152.8v28.3M247.1 1162.7v20.9" stroke="#e8b483" stroke-opacity="0.2" stroke-width="1.2" fill="none"/><path d="M187.6 1162.7h0M243.3 1136.2h0M104.0 1258.4h0M207.7 1157.6h0M172.4 1205.1h0M226.4 1143.2h0M145.7 1266.0h0M214.2 1181.8h0M300.0 1086.7h0M223.8 1196.8h0M129.1 1253.2h0M256.2 1162.4h0M192.8 1198.2h0M138.4 1253.5h0M243.4 1115.3h0M111.6 1255.1h0M227.8 1140.6h0M195.6 1173.8h0M227.0 1133.1h0M216.1 1225.2h0M237.0 1196.9h0M190.1 1140.3h0M158.7 1215.3h0M238.6 1196.7h0M244.8 1110.8h0M156.8 1257.6h0M172.2 1192.5h0M217.0 1202.2h0M227.1 1147.2h0M260.8 1110.2h0M133.5 1265.6h0M226.9 1134.1h0M159.1 1246.1h0M118.1 1263.5h0M200.0 1138.9h0M257.4 1107.2h0M200.4 1196.7h0M209.5 1143.1h0M174.2 1210.6h0M219.6 1203.5h0M227.7 1239.5h0M228.5 1182.6h0M226.5 1239.1h0M237.2 1138.4h0M260.4 1128.4h0M166.4 1249.1h0M188.0 1228.5h0M184.3 1160.6h0M252.0 1163.5h0M199.7 1236.7h0M159.7 1254.1h0M177.6 1177.6h0M230.0 1212.2h0M312.2 1079.4h0M236.1 1201.4h0M188.4 1134.0h0M241.0 1189.9h0M208.8 1243.7h0M151.1 1259.1h0M189.8 1127.0h0M191.8 1140.4h0M284.3 1111.1h0M216.2 1215.5h0M219.2 1112.0h0M179.1 1194.8h0M238.2 1106.5h0M163.2 1252.8h0M218.1 1116.2h0M219.6 1182.9h0M111.3 1256.0h0M255.1 1124.2h0M267.4 1101.5h0M313.2 1091.1h0M191.2 1232.7h0M177.9 1225.0h0M158.9 1219.4h0M232.2 1216.3h0M210.7 1221.0h0M224.2 1225.2h0M196.1 1225.0h0M184.2 1152.9h0M108.6 1270.3h0M268.0 1115.1h0M118.9 1258.8h0M161.3 1198.6h0M224.3 1154.1h0M235.6 1185.5h0M137.8 1260.2h0M182.1 1192.2h0M238.8 1195.7h0M179.4 1167.0h0M247.1 1173.1h0" stroke="#e8b483" stroke-opacity="0.2" stroke-width="6" stroke-linecap="round" fill="none"/><line x1="101.3" y1="1288.7" x2="313.5" y2="1064.4" stroke="#222" stroke-width="1.1"/><polygon points="159.4,1234.7 156.1,1221.6 159.4,1208.4 165.9,1198.6 170.9,1188.7 177.4,1178.9 184.0,1165.8 188.9,1149.3 193.8,1129.6 197.1,1113.2 199.6,1103.4 203.7,1118.2 207.0,1141.1 210.2,1162.5 211.9,1175.6 210.2,1188.7 205.3,1205.1 202.0,1221.6 197.1,1236.3 193.8,1236.3 188.9,1221.6 182.3,1219.9 175.8,1224.8 169.2,1229.8 164.3,1234.7" fill="#e8b483" fill-opacity="0.97" filter="url(#bl1)"/><polygon points="211.9,1175.6 215.2,1155.9 220.1,1137.9 223.4,1113.2 228.3,1103.4 234.9,1113.2 241.4,1105.0 248.0,1103.4 254.6,1111.6 261.1,1106.7 264.4,1105.0 266.0,1113.2 266.0,1132.9 266.0,1149.3 261.1,1151.0 254.6,1155.9 248.0,1165.8 241.4,1175.6 234.9,1185.5 228.3,1205.1 226.7,1221.6 223.4,1238.0 220.1,1228.1 218.5,1211.7 215.2,1195.3" fill="#e8b483" fill-opacity="0.97" filter="url(#bl1)"/><polygon points="261.1,1106.7 271.0,1100.1 280.8,1096.8 293.9,1085.3 303.8,1080.4 312.0,1077.1 313.6,1083.7 308.7,1091.9 298.9,1095.2 293.9,1103.4 287.4,1106.7 280.8,1113.2 271.0,1110.0 266.0,1113.2" fill="#e8b483" fill-opacity="0.9" filter="url(#bl1)"/><polygon points="103.6,1264.2 106.8,1257.7 118.3,1244.5 123.3,1238.0 134.7,1229.8 141.3,1221.6 151.2,1215.0 157.7,1210.1 161.0,1211.7 161.0,1221.6 151.2,1229.8 143.0,1238.0 136.4,1247.8 126.5,1257.7 118.3,1257.7 111.8,1269.2 105.2,1272.4" fill="#e8b483" fill-opacity="0.88" filter="url(#bl1)"/><path d="M158.4 1197.6v43.3M204.2 1167.2v19.2M175.6 1203.3v18.5M190.8 1202.7v36.9M202.7 1099.9v38.6M209.6 1156.1v42.1M167.4 1200.5v35.6M199.6 1143.3v35.9M180.4 1200.7v19.5M187.0 1148.6v30.5M168.8 1196.2v42.5M198.2 1173.8v35.4M163.1 1195.4v25.6M160.3 1196.7v39.7M177.6 1201.2v42.3M210.3 1155.7v17.1M197.9 1206.7v36.3M188.2 1170.7v19.4M178.6 1196.3v21.9M194.5 1141.0v37.8M197.2 1142.0v26.7M188.2 1143.2v35.4M180.3 1178.2v21.8M188.7 1173.4v17.3M192.2 1172.9v20.9M195.9 1143.6v38.9M208.4 1180.8v25.8M200.8 1119.2v33.4M180.8 1189.7v25.1M169.5 1198.2v16.2M205.8 1133.4v35.3M204.8 1158.1v17.8M183.3 1192.9v29.4M249.6 1096.0v40.2M248.0 1090.7v38.9M228.0 1085.2v39.1M232.8 1092.1v38.8M232.4 1126.7v33.9M224.0 1218.2v20.9M250.0 1112.6v38.2M242.4 1142.1v32.5M228.2 1136.3v32.2M246.2 1126.6v24.7M222.8 1200.9v20.6M215.4 1173.7v36.9M245.6 1148.3v33.7M229.5 1133.2v18.1M259.0 1117.9v36.7M219.5 1164.5v39.8M261.7 1100.6v25.3M224.4 1113.1v27.6M258.4 1111.3v29.4M255.2 1117.2v26.1M233.3 1170.4v22.3M238.9 1092.7v37.2M221.7 1109.1v37.2M232.3 1179.2v17.8M240.3 1114.2v30.1M218.7 1174.7v30.3M226.4 1122.8v19.8M217.6 1178.5v22.3M263.5 1115.0v40.1M243.9 1129.5v16.7M257.4 1130.6v33.8M257.6 1132.0v39.2M249.5 1098.7v20.0M238.4 1118.3v44.0M262.8 1130.3v27.5M254.0 1101.9v24.1M271.5 1081.2v43.0M280.1 1098.4v22.3M284.5 1083.7v38.8M279.4 1085.6v36.7M294.4 1082.6v26.1M279.2 1081.7v38.1M132.3 1229.6v21.2M135.4 1216.2v42.1M119.4 1244.7v21.9M121.9 1237.5v29.1M145.2 1214.7v41.3M120.0 1222.5v43.3M151.5 1195.1v42.4M131.2 1218.1v38.5M155.6 1206.8v31.2" stroke="#e8b483" stroke-opacity="0.16" stroke-width="1.3" fill="none"/><path d="M191.1 1196.9v11.0M181.1 1203.7v5.8M201.5 1131.6v9.6M196.9 1111.1v16.9M166.1 1208.1v13.4M180.4 1195.4v7.7M191.0 1196.7v6.7M158.8 1225.7v11.9M167.8 1189.9v11.8M201.6 1146.1v17.7M177.9 1176.8v11.0M194.1 1131.8v12.3M187.9 1206.1v7.8M175.6 1192.6v5.2M203.1 1112.4v10.7M179.2 1185.2v9.0M192.5 1173.0v8.0M184.3 1202.7v7.6M193.1 1142.6v15.8M201.3 1132.6v4.5M205.7 1178.2v13.1M208.5 1166.9v9.6M202.2 1108.8v14.3M199.7 1214.5v5.2M187.9 1151.1v13.6M188.8 1163.0v16.0M168.8 1218.5v14.9M164.2 1198.8v14.0M205.3 1188.8v11.1M197.1 1132.8v9.4M192.9 1202.3v16.1M199.5 1140.6v7.8M174.5 1208.2v5.4M192.4 1180.8v9.7M202.2 1144.3v12.4M202.4 1118.7v14.8M196.0 1143.9v17.0M192.0 1224.2v5.3M185.4 1184.3v14.2M197.9 1168.7v13.8M190.3 1143.8v13.9M207.6 1182.0v16.7M191.4 1163.6v11.4M185.9 1191.2v8.2M197.5 1147.7v6.7M192.5 1173.1v7.1M200.2 1203.6v4.1M163.7 1209.1v7.5M168.8 1209.2v8.7M166.9 1197.8v15.6M197.4 1143.8v13.9M176.5 1185.8v10.9M192.8 1159.7v14.0M187.0 1158.3v14.0M159.8 1210.5v6.4M191.8 1146.4v4.1M202.5 1205.9v9.6M205.0 1153.1v17.7M198.4 1125.3v13.0M173.3 1179.9v15.9M186.8 1188.1v15.6M194.6 1161.5v4.2M196.6 1173.9v10.7M201.3 1137.5v15.1M206.0 1178.1v11.8M208.2 1177.7v5.4M197.5 1182.7v15.8M188.0 1154.4v15.5M169.1 1200.5v9.3M177.3 1208.5v11.9M167.8 1202.0v14.3M197.9 1211.1v10.9M191.6 1188.2v6.9M205.9 1149.3v8.2M181.5 1207.6v10.2M202.6 1135.9v13.0M190.6 1188.0v13.3M182.4 1200.4v7.0M187.1 1211.0v9.9M196.4 1206.2v17.2M179.7 1186.6v12.3M187.1 1205.9v16.6M197.7 1172.4v5.6M188.8 1196.5v14.1M209.5 1162.0v4.2M160.0 1230.1v4.0M205.4 1156.7v17.3M183.7 1186.8v10.4M201.4 1131.3v10.9M210.3 1179.0v11.8M207.6 1178.5v14.5M170.7 1222.3v9.0M195.0 1190.9v11.4M207.2 1160.5v6.4M182.1 1196.5v11.9M196.6 1180.4v10.2M199.9 1104.1v9.8M186.6 1205.7v16.4M204.1 1183.3v9.3M198.5 1138.3v14.6M169.8 1201.8v6.6M163.8 1207.4v16.2M174.3 1214.9v14.8M192.9 1196.7v13.0M199.6 1208.9v12.6M168.9 1203.5v4.7M181.3 1185.5v8.0M206.1 1189.7v17.4M198.9 1124.6v10.3M199.6 1217.7v7.5M202.7 1150.4v14.8M190.3 1196.7v10.7M190.1 1146.0v8.6M202.2 1136.9v16.5M202.6 1147.4v5.1M197.2 1196.7v13.2M187.4 1166.8v5.4M206.7 1182.9v4.6M195.0 1141.4v10.3M202.3 1197.4v6.4M195.2 1171.2v15.5M187.8 1145.3v15.7M207.3 1192.7v8.8M194.0 1221.4v17.5M180.1 1180.3v7.3M195.6 1178.7v17.0M198.2 1209.8v10.6M164.6 1208.0v9.7M205.6 1133.1v5.0M178.3 1194.0v12.4M191.5 1165.2v11.9M169.7 1198.8v5.3M161.9 1216.7v8.2M231.4 1145.5v11.4M254.4 1117.8v15.1M239.0 1116.3v14.2M224.7 1207.0v6.2M242.1 1159.9v9.9M217.2 1169.4v12.7M240.6 1167.8v5.8M226.5 1179.6v5.7M254.0 1145.4v7.6M243.7 1118.0v16.6M248.3 1136.2v6.3M248.6 1132.1v17.6M229.1 1134.9v6.5M233.8 1124.6v5.6M218.6 1146.3v12.7M220.6 1210.1v14.2M261.2 1128.2v17.8M230.0 1182.0v4.2M237.1 1154.2v9.2M259.8 1115.2v7.9M230.9 1187.4v16.0M263.4 1114.0v13.3M220.2 1156.8v8.0M226.7 1110.6v11.4M264.0 1141.7v16.0M222.5 1185.0v14.4M242.7 1124.9v11.2M219.7 1183.8v6.3M250.7 1137.3v12.2M265.9 1136.8v7.1M218.1 1163.8v17.2M226.1 1122.8v12.9M227.7 1189.7v4.4M234.3 1143.9v13.6M261.5 1141.7v8.8M237.6 1113.2v15.0M223.6 1190.7v5.6M232.7 1114.7v7.6M222.3 1185.0v15.4M252.4 1110.5v5.3M238.7 1118.7v13.0M248.7 1100.6v14.7M261.9 1103.8v16.3M254.7 1135.1v12.2M235.6 1165.5v6.9M215.9 1184.7v6.5M252.4 1133.7v12.0M247.2 1114.4v4.3M239.6 1146.7v13.0M233.9 1177.3v14.2M255.2 1122.6v9.7M241.8 1154.1v17.8M217.2 1185.7v11.9M250.0 1155.7v13.7M226.8 1107.8v17.3M227.7 1149.6v12.0M232.6 1181.7v6.6M257.4 1105.6v10.5M254.4 1137.9v9.3M244.7 1136.7v17.3M242.6 1116.8v7.0M232.0 1137.3v17.1M224.2 1127.9v16.0M229.8 1159.4v13.4M217.0 1164.2v11.1M217.8 1183.9v15.1M233.1 1150.2v9.1M229.0 1113.6v15.0M244.7 1105.6v4.7M224.0 1185.5v9.0M237.0 1111.0v6.1M225.5 1219.7v12.4M243.6 1132.0v7.9M215.1 1163.4v7.7M243.5 1117.4v9.2M257.1 1109.1v7.7M222.1 1130.7v5.2M236.9 1123.2v13.1M218.5 1158.1v7.9M215.6 1176.4v6.6M239.6 1144.5v13.4M224.4 1127.6v8.8M228.8 1141.9v5.7M224.7 1114.4v8.0M241.9 1103.4v4.8M255.2 1115.8v17.9M254.4 1132.8v14.0M235.5 1125.2v16.9M222.7 1152.9v11.6M228.4 1119.4v13.3M251.4 1142.7v16.5M258.0 1111.7v11.1M225.1 1131.3v5.7M236.6 1154.9v8.1M242.7 1115.1v8.5M227.0 1207.4v7.3M253.7 1132.9v11.7M256.1 1113.5v17.1M243.7 1160.1v16.7M225.0 1192.8v7.5M235.9 1129.1v9.7M222.2 1228.1v6.5M236.6 1147.7v17.6M246.1 1110.4v7.5M261.4 1110.6v13.9M224.8 1195.1v16.2M214.3 1165.2v7.2M258.3 1129.9v5.6M230.6 1184.0v15.6M218.5 1166.0v5.8M219.7 1181.0v8.2M262.7 1145.7v5.7M261.0 1120.0v11.5M242.7 1103.7v5.0M219.9 1133.4v12.6M224.5 1213.8v12.9M213.3 1173.6v12.7M220.6 1179.8v15.6M263.7 1108.6v6.2M243.7 1152.9v6.5M240.5 1141.4v11.6M264.5 1135.1v17.8M226.6 1191.2v15.6M265.0 1115.2v15.2M223.0 1137.5v9.5M227.7 1171.1v4.1M214.0 1156.8v17.6M242.5 1139.1v16.7M219.4 1149.1v16.6M262.2 1115.8v4.7M225.1 1128.4v5.2M225.8 1194.3v9.1M251.1 1150.6v14.6M240.3 1101.7v13.9M222.0 1186.8v11.4M223.5 1180.3v4.1M246.3 1159.8v4.4M233.3 1114.4v8.9M241.3 1124.7v16.7M237.7 1112.5v15.7M234.7 1158.9v16.5M228.9 1166.5v15.6M231.6 1112.3v5.0M261.8 1129.9v15.8M286.7 1090.5v8.3M268.6 1102.8v15.6M269.3 1099.1v7.5M309.9 1080.7v14.1M279.1 1093.7v12.2M264.8 1103.1v15.9M307.8 1082.6v17.4M288.9 1096.9v5.2M302.8 1086.5v13.2M289.7 1089.8v11.7M295.3 1093.7v4.2M290.3 1102.1v5.4M281.5 1099.2v10.1M311.4 1077.7v12.8M306.1 1073.0v16.5M266.1 1107.0v4.5M304.3 1084.2v17.0M308.0 1086.8v9.6M283.9 1102.1v16.0M285.7 1093.6v13.3M273.0 1092.4v15.5M296.6 1088.1v14.8M275.2 1093.5v12.3M287.8 1094.6v13.4M305.6 1079.8v11.9M288.6 1091.0v8.1M121.7 1243.0v14.6M147.2 1217.7v11.5M112.0 1256.6v12.8M158.0 1211.8v10.4M118.8 1249.4v6.5M159.0 1213.4v5.8M120.1 1246.3v9.7M124.2 1239.1v7.5M156.8 1212.6v8.6M144.9 1228.8v5.5M107.4 1253.2v13.5M141.5 1220.0v12.3M112.6 1264.4v5.1M124.9 1249.5v5.1M156.3 1221.1v6.2M159.9 1214.8v14.1M157.5 1209.9v5.5M141.6 1226.4v9.9M129.6 1239.1v17.6M121.8 1239.1v13.8M150.3 1226.3v5.1M148.5 1217.7v11.2M105.6 1262.5v6.3M124.8 1252.2v4.3M125.8 1241.1v11.0M160.0 1209.3v7.1M114.4 1245.8v12.5M148.3 1222.0v10.5M144.1 1222.2v4.1M119.6 1244.9v9.4M124.9 1232.6v10.8M160.3 1207.4v13.1M112.6 1242.4v17.7M158.7 1212.2v14.1M124.2 1244.2v16.0M105.2 1261.6v11.0M123.3 1241.2v13.6M128.3 1229.2v11.5" stroke="#e8b483" stroke-opacity="0.35" stroke-width="1.4" fill="none"/><line x1="107.8" y1="1258.5" x2="107.8" y2="1276.0" stroke="#e8b483" stroke-opacity="0.85" stroke-width="1.4"/><circle cx="107.8" cy="1267.3" r="3.2" fill="#e8b483" fill-opacity="1"/><line x1="112.2" y1="1258.5" x2="112.2" y2="1276.0" stroke="#e8b483" stroke-opacity="0.85" stroke-width="1.4"/><circle cx="112.2" cy="1267.3" r="3.2" fill="#e8b483" fill-opacity="1"/><line x1="123.2" y1="1239.9" x2="123.2" y2="1257.4" stroke="#e8b483" stroke-opacity="0.85" stroke-width="1.4"/><circle cx="123.2" cy="1248.7" r="3.2" fill="#e8b483" fill-opacity="1"/><line x1="131.9" y1="1238.8" x2="131.9" y2="1256.3" stroke="#e8b483" stroke-opacity="0.85" stroke-width="1.4"/><circle cx="131.9" cy="1247.6" r="3.2" fill="#e8b483" fill-opacity="1"/><line x1="136.3" y1="1227.9" x2="136.3" y2="1245.4" stroke="#e8b483" stroke-opacity="0.85" stroke-width="1.4"/><circle cx="136.3" cy="1236.6" r="3.2" fill="#e8b483" fill-opacity="1"/><line x1="140.7" y1="1221.3" x2="140.7" y2="1238.8" stroke="#e8b483" stroke-opacity="0.85" stroke-width="1.4"/><circle cx="140.7" cy="1230.1" r="3.2" fill="#e8b483" fill-opacity="1"/><line x1="159.9" y1="1185.2" x2="159.9" y2="1211.5" stroke="#e8b483" stroke-opacity="0.85" stroke-width="1.4"/><circle cx="159.9" cy="1198.3" r="3.2" fill="#e8b483" fill-opacity="1"/><line x1="162.5" y1="1230.1" x2="162.5" y2="1269.5" stroke="#e8b483" stroke-opacity="0.85" stroke-width="1.4"/><circle cx="162.5" cy="1249.8" r="3.2" fill="#e8b483" fill-opacity="1"/><line x1="271.5" y1="1095.5" x2="271.5" y2="1108.6" stroke="#e8b483" stroke-opacity="0.85" stroke-width="1.4"/><circle cx="271.5" cy="1102.1" r="3.2" fill="#e8b483" fill-opacity="1"/><line x1="280.3" y1="1096.6" x2="280.3" y2="1127.2" stroke="#e8b483" stroke-opacity="0.85" stroke-width="1.4"/><circle cx="280.3" cy="1111.9" r="3.2" fill="#e8b483" fill-opacity="1"/><line x1="292.7" y1="1093.3" x2="292.7" y2="1110.8" stroke="#e8b483" stroke-opacity="0.85" stroke-width="1.4"/><circle cx="292.7" cy="1102.1" r="3.2" fill="#e8b483" fill-opacity="1"/><line x1="297.1" y1="1078.0" x2="297.1" y2="1095.5" stroke="#e8b483" stroke-opacity="0.85" stroke-width="1.4"/><circle cx="297.1" cy="1086.7" r="3.2" fill="#e8b483" fill-opacity="1"/><line x1="307.0" y1="1074.7" x2="307.0" y2="1096.6" stroke="#e8b483" stroke-opacity="0.85" stroke-width="1.4"/><circle cx="307.0" cy="1085.6" r="3.2" fill="#e8b483" fill-opacity="1"/><line x1="311.3" y1="1073.6" x2="311.3" y2="1091.1" stroke="#e8b483" stroke-opacity="0.85" stroke-width="1.4"/><circle cx="311.3" cy="1082.4" r="3.2" fill="#e8b483" fill-opacity="1"/><line x1="264.3" y1="1125.0" x2="264.3" y2="1142.5" stroke="#e8b483" stroke-opacity="0.85" stroke-width="1.4"/><circle cx="264.3" cy="1133.8" r="3.2" fill="#e8b483" fill-opacity="1"/><line x1="265.4" y1="1118.5" x2="265.4" y2="1136.0" stroke="#e8b483" stroke-opacity="0.85" stroke-width="1.4"/><circle cx="265.4" cy="1127.2" r="3.2" fill="#e8b483" fill-opacity="1"/></g>
<line x1="96.5" y1="1064.4" x2="323.0" y2="1064.4" stroke="#111" stroke-width="1.7"/>
<line x1="97.3" y1="1063.6" x2="97.3" y2="1290.3" stroke="#111" stroke-width="1.7"/>
<line x1="321.6" y1="1063.6" x2="321.6" y2="1290.3" stroke="#111" stroke-width="2.9"/>
<line x1="96.5" y1="1288.7" x2="323.0" y2="1288.7" stroke="#111" stroke-width="3.3"/>
<line x1="101.3" y1="1288.7" x2="101.3" y2="1292.3" stroke="#222" stroke-width="1.5"/>
<text transform="translate(101.3,1310.4) scale(1,1.1)" class="xl">-0.50</text>
<line x1="156.6" y1="1288.7" x2="156.6" y2="1292.3" stroke="#222" stroke-width="1.5"/>
<text transform="translate(160.9,1310.4) scale(1,1.1)" class="xl">-0.25</text>
<line x1="211.8" y1="1288.7" x2="211.8" y2="1292.3" stroke="#222" stroke-width="1.5"/>
<text transform="translate(211.8,1310.4) scale(1,1.1)" class="xl">0.00</text>
<line x1="266.9" y1="1288.7" x2="266.9" y2="1292.3" stroke="#222" stroke-width="1.5"/>
<text transform="translate(271.2,1310.4) scale(1,1.1)" class="xl">0.25</text>
<line x1="93.9" y1="1114.5" x2="97.3" y2="1114.5" stroke="#222" stroke-width="1.5"/>
<text transform="translate(94.9,1120.6) scale(1,1.1)" class="yl">0.25</text>
<line x1="93.9" y1="1171.6" x2="97.3" y2="1171.6" stroke="#222" stroke-width="1.5"/>
<text transform="translate(86.3,1177.7) scale(1,1.1)" class="yl">0.00</text>
<line x1="93.9" y1="1232.3" x2="97.3" y2="1232.3" stroke="#222" stroke-width="1.5"/>
<text transform="translate(94.9,1238.4) scale(1,1.1)" class="yl">-0.25</text>
<text x="479.3" y="1051.8" class="pt" clip-path="url(#t16)">Total lipids</text>
<g clip-path="url(#c16)"><line x1="488.1" y1="1065.4" x2="488.1" y2="1288.7" class="dz"/><line x1="368.7" y1="1192.2" x2="592.9" y2="1192.2" class="dz"/><path d="M475.0 1187.1v9.6M474.1 1194.5v14.7M491.5 1193.9v27.1M474.1 1190.0v15.8M481.2 1208.2v28.5M481.7 1188.8v20.1M489.5 1188.9v27.9M464.1 1192.9v21.2M472.7 1177.3v25.8M505.5 1182.9v11.2M470.8 1194.6v21.0M491.6 1175.4v8.4M467.3 1199.2v7.9M473.9 1198.6v30.7" stroke="#e87e94" stroke-opacity="0.2" stroke-width="1.2" fill="none"/><path d="M475.0 1191.9h0M474.1 1201.9h0M491.5 1207.4h0M474.1 1197.9h0M481.2 1222.4h0M481.7 1198.8h0M489.5 1202.8h0M464.1 1203.5h0M472.7 1190.2h0M505.5 1188.4h0M470.8 1205.1h0M491.6 1179.6h0M467.3 1203.1h0M473.9 1214.0h0" stroke="#e87e94" stroke-opacity="0.2" stroke-width="6" stroke-linecap="round" fill="none"/><line x1="387.8" y1="1288.7" x2="592.9" y2="1092.2" stroke="#222" stroke-width="1.1"/><polygon points="462.2,1212.6 466.6,1203.8 473.2,1195.1 479.7,1186.3 485.2,1184.1 486.3,1195.1 483.0,1206.0 475.4,1214.7 468.8,1216.9" fill="#e87e94" fill-opacity="0.97" filter="url(#bl1)"/><polygon points="489.6,1192.9 490.7,1181.9 495.1,1175.4 501.6,1175.4 506.0,1179.7 504.9,1188.5 499.4,1192.9 495.1,1199.4" fill="#e87e94" fill-opacity="0.97" filter="url(#bl1)"/><path d="M477.5 1182.1v38.1M475.0 1186.6v17.3M483.6 1184.8v29.8M480.1 1172.3v28.3M500.4 1179.7v16.8M500.6 1166.9v43.7" stroke="#e87e94" stroke-opacity="0.16" stroke-width="1.3" fill="none"/><path d="M471.6 1193.4v15.3M483.9 1190.6v13.2M481.7 1183.0v7.8M473.5 1202.1v16.3M484.5 1195.4v8.5M485.0 1179.9v11.6M472.8 1198.8v17.0M482.6 1195.3v8.8M480.3 1196.0v6.8M476.7 1202.5v6.2M481.8 1198.9v12.7M478.4 1195.8v5.3M478.6 1203.2v4.8M477.7 1185.8v9.7M481.1 1200.5v9.4M483.4 1180.8v15.1M501.1 1181.4v4.5M505.2 1174.5v14.8M492.1 1182.6v12.1M495.8 1187.3v15.6M499.6 1172.0v9.1M493.3 1190.6v6.7M497.0 1176.1v12.1M497.4 1182.3v4.9M498.0 1186.4v4.3M502.1 1180.9v12.0" stroke="#e87e94" stroke-opacity="0.35" stroke-width="1.4" fill="none"/><line x1="377.5" y1="1258.9" x2="377.5" y2="1278.6" stroke="#e87e94" stroke-opacity="0.85" stroke-width="1.4"/><circle cx="377.5" cy="1268.8" r="3.2" fill="#e87e94" fill-opacity="1"/><line x1="431.6" y1="1243.2" x2="431.6" y2="1251.9" stroke="#e87e94" stroke-opacity="0.85" stroke-width="1.4"/><circle cx="431.6" cy="1247.6" r="3.2" fill="#e87e94" fill-opacity="1"/><line x1="443.0" y1="1224.6" x2="443.0" y2="1246.5" stroke="#e87e94" stroke-opacity="0.59" stroke-width="1.4"/><circle cx="443.0" cy="1235.5" r="3.2" fill="#e87e94" fill-opacity="0.7"/><line x1="455.7" y1="1228.5" x2="455.7" y2="1237.3" stroke="#e87e94" stroke-opacity="0.59" stroke-width="1.4"/><circle cx="455.7" cy="1232.9" r="3.2" fill="#e87e94" fill-opacity="0.7"/><line x1="435.5" y1="1208.2" x2="435.5" y2="1227.9" stroke="#e87e94" stroke-opacity="0.85" stroke-width="1.4"/><circle cx="435.5" cy="1218.0" r="3.2" fill="#e87e94" fill-opacity="1"/><line x1="441.7" y1="1211.0" x2="441.7" y2="1228.5" stroke="#e87e94" stroke-opacity="0.81" stroke-width="1.4"/><circle cx="441.7" cy="1219.8" r="3.2" fill="#e87e94" fill-opacity="0.95"/><line x1="449.1" y1="1212.1" x2="449.1" y2="1218.7" stroke="#e87e94" stroke-opacity="0.85" stroke-width="1.4"/><circle cx="449.1" cy="1215.4" r="3.2" fill="#e87e94" fill-opacity="1"/><line x1="456.1" y1="1204.2" x2="456.1" y2="1217.4" stroke="#e87e94" stroke-opacity="0.77" stroke-width="1.4"/><circle cx="456.1" cy="1210.8" r="3.2" fill="#e87e94" fill-opacity="0.9"/><line x1="460.0" y1="1206.0" x2="460.0" y2="1219.1" stroke="#e87e94" stroke-opacity="0.77" stroke-width="1.4"/><circle cx="460.0" cy="1212.6" r="3.2" fill="#e87e94" fill-opacity="0.9"/><line x1="464.4" y1="1211.5" x2="464.4" y2="1224.6" stroke="#e87e94" stroke-opacity="0.77" stroke-width="1.4"/><circle cx="464.4" cy="1218.0" r="3.2" fill="#e87e94" fill-opacity="0.9"/><line x1="579.3" y1="1073.2" x2="579.3" y2="1123.5" stroke="#e87e94" stroke-opacity="0.81" stroke-width="1.4"/><circle cx="579.3" cy="1098.3" r="3.2" fill="#e87e94" fill-opacity="0.95"/><line x1="545.4" y1="1141.0" x2="545.4" y2="1147.6" stroke="#e87e94" stroke-opacity="0.85" stroke-width="1.4"/><circle cx="545.4" cy="1144.3" r="3.2" fill="#e87e94" fill-opacity="1"/><line x1="538.8" y1="1147.6" x2="538.8" y2="1200.1" stroke="#e87e94" stroke-opacity="0.51" stroke-width="1.4"/><circle cx="538.8" cy="1173.8" r="3.2" fill="#e87e94" fill-opacity="0.6"/><line x1="519.1" y1="1173.6" x2="519.1" y2="1199.9" stroke="#e87e94" stroke-opacity="0.42" stroke-width="1.4"/><circle cx="519.1" cy="1186.7" r="3.2" fill="#e87e94" fill-opacity="0.5"/><line x1="522.4" y1="1118.0" x2="522.4" y2="1161.8" stroke="#e87e94" stroke-opacity="0.42" stroke-width="1.4"/><circle cx="522.4" cy="1139.9" r="3.2" fill="#e87e94" fill-opacity="0.5"/><line x1="510.4" y1="1154.6" x2="510.4" y2="1167.7" stroke="#e87e94" stroke-opacity="0.68" stroke-width="1.4"/><circle cx="510.4" cy="1161.1" r="3.2" fill="#e87e94" fill-opacity="0.8"/><line x1="513.7" y1="1164.4" x2="513.7" y2="1177.5" stroke="#e87e94" stroke-opacity="0.77" stroke-width="1.4"/><circle cx="513.7" cy="1171.0" r="3.2" fill="#e87e94" fill-opacity="0.9"/><line x1="511.5" y1="1175.4" x2="511.5" y2="1188.5" stroke="#e87e94" stroke-opacity="0.68" stroke-width="1.4"/><circle cx="511.5" cy="1181.9" r="3.2" fill="#e87e94" fill-opacity="0.8"/><line x1="504.9" y1="1102.7" x2="504.9" y2="1150.9" stroke="#e87e94" stroke-opacity="0.34" stroke-width="1.4"/><circle cx="504.9" cy="1126.8" r="3.2" fill="#e87e94" fill-opacity="0.4"/><line x1="504.9" y1="1127.9" x2="504.9" y2="1154.1" stroke="#e87e94" stroke-opacity="0.34" stroke-width="1.4"/><circle cx="504.9" cy="1141.0" r="3.2" fill="#e87e94" fill-opacity="0.4"/><line x1="475.4" y1="1115.2" x2="475.4" y2="1167.7" stroke="#e87e94" stroke-opacity="0.34" stroke-width="1.4"/><circle cx="475.4" cy="1141.4" r="3.2" fill="#e87e94" fill-opacity="0.4"/><line x1="463.8" y1="1155.2" x2="463.8" y2="1199.0" stroke="#e87e94" stroke-opacity="0.42" stroke-width="1.4"/><circle cx="463.8" cy="1177.1" r="3.2" fill="#e87e94" fill-opacity="0.5"/><line x1="479.7" y1="1139.9" x2="479.7" y2="1174.9" stroke="#e87e94" stroke-opacity="0.26" stroke-width="1.4"/><circle cx="479.7" cy="1157.4" r="3.2" fill="#e87e94" fill-opacity="0.3"/><line x1="503.8" y1="1141.4" x2="503.8" y2="1167.7" stroke="#e87e94" stroke-opacity="0.26" stroke-width="1.4"/><circle cx="503.8" cy="1154.6" r="3.2" fill="#e87e94" fill-opacity="0.3"/></g>
<line x1="366.9" y1="1064.4" x2="594.3" y2="1064.4" stroke="#111" stroke-width="1.7"/>
<line x1="367.7" y1="1063.6" x2="367.7" y2="1290.3" stroke="#111" stroke-width="1.7"/>
<line x1="592.9" y1="1063.6" x2="592.9" y2="1290.3" stroke="#111" stroke-width="2.9"/>
<line x1="366.9" y1="1288.7" x2="594.3" y2="1288.7" stroke="#111" stroke-width="3.3"/>
<line x1="369.2" y1="1288.7" x2="369.2" y2="1292.3" stroke="#222" stroke-width="1.5"/>
<text transform="translate(373.5,1310.4) scale(1,1.1)" class="xl">-0.4</text>
<line x1="428.8" y1="1288.7" x2="428.8" y2="1292.3" stroke="#222" stroke-width="1.5"/>
<text transform="translate(433.1,1310.4) scale(1,1.1)" class="xl">-0.2</text>
<line x1="488.1" y1="1288.7" x2="488.1" y2="1292.3" stroke="#222" stroke-width="1.5"/>
<text transform="translate(488.1,1310.4) scale(1,1.1)" class="xl">0.0</text>
<line x1="547.1" y1="1288.7" x2="547.1" y2="1292.3" stroke="#222" stroke-width="1.5"/>
<text transform="translate(551.4,1310.4) scale(1,1.1)" class="xl">0.2</text>
<line x1="364.3" y1="1080.2" x2="367.7" y2="1080.2" stroke="#222" stroke-width="1.5"/>
<text transform="translate(365.3,1086.3) scale(1,1.1)" class="yl">0.4</text>
<line x1="364.3" y1="1136.0" x2="367.7" y2="1136.0" stroke="#222" stroke-width="1.5"/>
<text transform="translate(365.3,1142.1) scale(1,1.1)" class="yl">0.2</text>
<line x1="364.3" y1="1192.2" x2="367.7" y2="1192.2" stroke="#222" stroke-width="1.5"/>
<text transform="translate(356.7,1198.3) scale(1,1.1)" class="yl">0.0</text>
<line x1="364.3" y1="1247.6" x2="367.7" y2="1247.6" stroke="#222" stroke-width="1.5"/>
<text transform="translate(365.3,1253.7) scale(1,1.1)" class="yl">-0.2</text>
<text x="759.1" y="1051.8" class="pt" clip-path="url(#t17)">Triglycerides</text>
<g clip-path="url(#c17)"><line x1="751.4" y1="1065.4" x2="751.4" y2="1288.7" class="dz"/><line x1="647.6" y1="1181.5" x2="872.4" y2="1181.5" class="dz"/><path d="M755.4 1177.5v19.8M745.4 1159.7v16.5M755.1 1185.6v30.1M764.1 1182.4v8.7M761.1 1161.5v9.3M770.1 1171.1v13.4M764.6 1153.8v23.8M734.8 1198.1v10.1M733.9 1167.2v18.3M743.4 1173.3v20.8M735.6 1158.5v29.3M773.0 1156.7v24.5M728.4 1170.6v25.1M758.8 1166.4v14.3" stroke="#e8449a" stroke-opacity="0.2" stroke-width="1.2" fill="none"/><path d="M755.4 1187.4h0M745.4 1167.9h0M755.1 1200.6h0M764.1 1186.8h0M761.1 1166.2h0M770.1 1177.7h0M764.6 1165.7h0M734.8 1203.1h0M733.9 1176.3h0M743.4 1183.7h0M735.6 1173.1h0M773.0 1168.9h0M728.4 1183.2h0M758.8 1173.5h0" stroke="#e8449a" stroke-opacity="0.2" stroke-width="6" stroke-linecap="round" fill="none"/><line x1="646.6" y1="1274.9" x2="872.4" y2="1073.6" stroke="#222" stroke-width="1.1"/><polygon points="733.5,1190.7 736.8,1179.7 740.0,1171.0 744.4,1171.0 747.7,1177.5 748.8,1190.7 745.5,1201.6 740.0,1203.8 734.6,1199.4" fill="#e8449a" fill-opacity="0.97" filter="url(#bl1)"/><polygon points="754.3,1177.5 756.5,1162.2 761.9,1157.9 768.5,1160.0 769.6,1173.2 767.4,1186.3 761.9,1192.9 756.5,1190.7" fill="#e8449a" fill-opacity="0.97" filter="url(#bl1)"/><path d="M739.4 1175.3v32.1M747.4 1172.6v22.1M735.3 1177.7v35.5M767.3 1160.5v29.6M768.9 1151.3v43.6M763.7 1165.6v38.0M762.0 1149.9v36.2" stroke="#e8449a" stroke-opacity="0.16" stroke-width="1.3" fill="none"/><path d="M737.9 1185.1v13.3M736.8 1185.2v7.5M733.6 1183.9v15.8M743.4 1174.3v16.1M742.5 1192.3v10.4M735.8 1197.3v5.4M743.1 1195.9v4.9M739.0 1183.0v12.7M742.0 1182.1v7.7M744.8 1183.0v7.1M743.0 1182.0v13.8M745.9 1195.1v10.3M741.1 1169.4v6.5M747.5 1185.1v15.1M766.9 1156.3v9.3M763.8 1182.3v13.8M768.4 1169.8v16.4M767.5 1173.4v12.5M761.0 1181.8v17.6M754.8 1170.5v6.7M764.3 1176.3v15.2M757.5 1183.5v14.3M760.4 1187.8v8.8M769.3 1166.1v17.0M765.6 1155.3v17.6M768.4 1153.5v14.3M758.8 1188.9v4.7M769.1 1162.8v15.0M764.8 1156.9v16.1M763.0 1176.8v15.9" stroke="#e8449a" stroke-opacity="0.35" stroke-width="1.4" fill="none"/><line x1="657.3" y1="1268.4" x2="657.3" y2="1277.1" stroke="#e8449a" stroke-opacity="0.85" stroke-width="1.4"/><circle cx="657.3" cy="1272.7" r="3.2" fill="#e8449a" fill-opacity="1"/><line x1="662.4" y1="1262.9" x2="662.4" y2="1271.6" stroke="#e8449a" stroke-opacity="0.85" stroke-width="1.4"/><circle cx="662.4" cy="1267.3" r="3.2" fill="#e8449a" fill-opacity="1"/><line x1="664.6" y1="1260.7" x2="664.6" y2="1269.5" stroke="#e8449a" stroke-opacity="0.85" stroke-width="1.4"/><circle cx="664.6" cy="1265.1" r="3.2" fill="#e8449a" fill-opacity="1"/><line x1="676.6" y1="1250.4" x2="676.6" y2="1261.4" stroke="#e8449a" stroke-opacity="0.85" stroke-width="1.4"/><circle cx="676.6" cy="1255.9" r="3.2" fill="#e8449a" fill-opacity="1"/><line x1="678.8" y1="1210.4" x2="678.8" y2="1241.0" stroke="#e8449a" stroke-opacity="0.85" stroke-width="1.4"/><circle cx="678.8" cy="1225.7" r="3.2" fill="#e8449a" fill-opacity="1"/><line x1="680.5" y1="1210.4" x2="680.5" y2="1254.1" stroke="#e8449a" stroke-opacity="0.85" stroke-width="1.4"/><circle cx="680.5" cy="1232.3" r="3.2" fill="#e8449a" fill-opacity="1"/><line x1="685.8" y1="1201.6" x2="685.8" y2="1254.1" stroke="#e8449a" stroke-opacity="0.85" stroke-width="1.4"/><circle cx="685.8" cy="1227.9" r="3.2" fill="#e8449a" fill-opacity="1"/><line x1="682.1" y1="1179.7" x2="682.1" y2="1223.5" stroke="#e8449a" stroke-opacity="0.42" stroke-width="1.4"/><circle cx="682.1" cy="1201.6" r="3.2" fill="#e8449a" fill-opacity="0.5"/><line x1="700.0" y1="1184.6" x2="700.0" y2="1237.1" stroke="#e8449a" stroke-opacity="0.34" stroke-width="1.4"/><circle cx="700.0" cy="1210.8" r="3.2" fill="#e8449a" fill-opacity="0.4"/><line x1="705.0" y1="1209.3" x2="705.0" y2="1226.8" stroke="#e8449a" stroke-opacity="0.85" stroke-width="1.4"/><circle cx="705.0" cy="1218.0" r="3.2" fill="#e8449a" fill-opacity="1"/><line x1="709.4" y1="1214.7" x2="709.4" y2="1232.3" stroke="#e8449a" stroke-opacity="0.85" stroke-width="1.4"/><circle cx="709.4" cy="1223.5" r="3.2" fill="#e8449a" fill-opacity="1"/><line x1="712.7" y1="1220.2" x2="712.7" y2="1237.7" stroke="#e8449a" stroke-opacity="0.85" stroke-width="1.4"/><circle cx="712.7" cy="1229.0" r="3.2" fill="#e8449a" fill-opacity="1"/><line x1="713.8" y1="1191.8" x2="713.8" y2="1202.7" stroke="#e8449a" stroke-opacity="0.85" stroke-width="1.4"/><circle cx="713.8" cy="1197.2" r="3.2" fill="#e8449a" fill-opacity="1"/><line x1="719.3" y1="1189.6" x2="719.3" y2="1200.5" stroke="#e8449a" stroke-opacity="0.85" stroke-width="1.4"/><circle cx="719.3" cy="1195.1" r="3.2" fill="#e8449a" fill-opacity="1"/><line x1="712.7" y1="1201.6" x2="712.7" y2="1214.7" stroke="#e8449a" stroke-opacity="0.85" stroke-width="1.4"/><circle cx="712.7" cy="1208.2" r="3.2" fill="#e8449a" fill-opacity="1"/><line x1="717.1" y1="1211.5" x2="717.1" y2="1224.6" stroke="#e8449a" stroke-opacity="0.85" stroke-width="1.4"/><circle cx="717.1" cy="1218.0" r="3.2" fill="#e8449a" fill-opacity="1"/><line x1="719.9" y1="1197.7" x2="719.9" y2="1210.8" stroke="#e8449a" stroke-opacity="0.77" stroke-width="1.4"/><circle cx="719.9" cy="1204.2" r="3.2" fill="#e8449a" fill-opacity="0.9"/><line x1="726.3" y1="1203.8" x2="726.3" y2="1216.9" stroke="#e8449a" stroke-opacity="0.68" stroke-width="1.4"/><circle cx="726.3" cy="1210.4" r="3.2" fill="#e8449a" fill-opacity="0.8"/><line x1="722.5" y1="1211.5" x2="722.5" y2="1229.0" stroke="#e8449a" stroke-opacity="0.51" stroke-width="1.4"/><circle cx="722.5" cy="1220.2" r="3.2" fill="#e8449a" fill-opacity="0.6"/><line x1="725.8" y1="1177.5" x2="725.8" y2="1195.1" stroke="#e8449a" stroke-opacity="0.51" stroke-width="1.4"/><circle cx="725.8" cy="1186.3" r="3.2" fill="#e8449a" fill-opacity="0.6"/><line x1="860.0" y1="1074.3" x2="860.0" y2="1098.3" stroke="#e8449a" stroke-opacity="0.85" stroke-width="1.4"/><circle cx="860.0" cy="1086.3" r="3.2" fill="#e8449a" fill-opacity="1"/><line x1="831.9" y1="1123.9" x2="831.9" y2="1132.7" stroke="#e8449a" stroke-opacity="0.85" stroke-width="1.4"/><circle cx="831.9" cy="1128.3" r="3.2" fill="#e8449a" fill-opacity="1"/><line x1="830.9" y1="1128.3" x2="830.9" y2="1137.1" stroke="#e8449a" stroke-opacity="0.85" stroke-width="1.4"/><circle cx="830.9" cy="1132.7" r="3.2" fill="#e8449a" fill-opacity="1"/><line x1="828.0" y1="1104.2" x2="828.0" y2="1174.3" stroke="#e8449a" stroke-opacity="0.68" stroke-width="1.4"/><circle cx="828.0" cy="1139.3" r="3.2" fill="#e8449a" fill-opacity="0.8"/><line x1="805.3" y1="1079.7" x2="805.3" y2="1132.3" stroke="#e8449a" stroke-opacity="0.72" stroke-width="1.4"/><circle cx="805.3" cy="1106.0" r="3.2" fill="#e8449a" fill-opacity="0.85"/><line x1="809.0" y1="1079.7" x2="809.0" y2="1132.3" stroke="#e8449a" stroke-opacity="0.72" stroke-width="1.4"/><circle cx="809.0" cy="1106.0" r="3.2" fill="#e8449a" fill-opacity="0.85"/><line x1="811.2" y1="1093.3" x2="811.2" y2="1154.6" stroke="#e8449a" stroke-opacity="0.68" stroke-width="1.4"/><circle cx="811.2" cy="1123.9" r="3.2" fill="#e8449a" fill-opacity="0.8"/><line x1="802.4" y1="1160.0" x2="802.4" y2="1181.9" stroke="#e8449a" stroke-opacity="0.77" stroke-width="1.4"/><circle cx="802.4" cy="1171.0" r="3.2" fill="#e8449a" fill-opacity="0.9"/><line x1="804.6" y1="1158.9" x2="804.6" y2="1180.8" stroke="#e8449a" stroke-opacity="0.77" stroke-width="1.4"/><circle cx="804.6" cy="1169.9" r="3.2" fill="#e8449a" fill-opacity="0.9"/><line x1="780.5" y1="1144.7" x2="780.5" y2="1157.9" stroke="#e8449a" stroke-opacity="0.85" stroke-width="1.4"/><circle cx="780.5" cy="1151.3" r="3.2" fill="#e8449a" fill-opacity="1"/><line x1="780.5" y1="1154.6" x2="780.5" y2="1172.1" stroke="#e8449a" stroke-opacity="0.77" stroke-width="1.4"/><circle cx="780.5" cy="1163.3" r="3.2" fill="#e8449a" fill-opacity="0.9"/><line x1="779.4" y1="1086.3" x2="779.4" y2="1151.9" stroke="#e8449a" stroke-opacity="0.42" stroke-width="1.4"/><circle cx="779.4" cy="1119.1" r="3.2" fill="#e8449a" fill-opacity="0.5"/><line x1="785.6" y1="1149.1" x2="785.6" y2="1201.6" stroke="#e8449a" stroke-opacity="0.51" stroke-width="1.4"/><circle cx="785.6" cy="1175.4" r="3.2" fill="#e8449a" fill-opacity="0.6"/><line x1="765.6" y1="1184.1" x2="765.6" y2="1227.9" stroke="#e8449a" stroke-opacity="0.51" stroke-width="1.4"/><circle cx="765.6" cy="1206.0" r="3.2" fill="#e8449a" fill-opacity="0.6"/><line x1="783.4" y1="1173.8" x2="783.4" y2="1257.0" stroke="#e8449a" stroke-opacity="0.34" stroke-width="1.4"/><circle cx="783.4" cy="1215.4" r="3.2" fill="#e8449a" fill-opacity="0.4"/><line x1="775.1" y1="1165.5" x2="775.1" y2="1222.4" stroke="#e8449a" stroke-opacity="0.42" stroke-width="1.4"/><circle cx="775.1" cy="1194.0" r="3.2" fill="#e8449a" fill-opacity="0.5"/><line x1="772.9" y1="1127.2" x2="772.9" y2="1153.5" stroke="#e8449a" stroke-opacity="0.51" stroke-width="1.4"/><circle cx="772.9" cy="1140.4" r="3.2" fill="#e8449a" fill-opacity="0.6"/></g>
<line x1="645.8" y1="1064.4" x2="873.8" y2="1064.4" stroke="#111" stroke-width="1.7"/>
<line x1="646.6" y1="1063.6" x2="646.6" y2="1290.3" stroke="#111" stroke-width="1.7"/>
<line x1="872.4" y1="1063.6" x2="872.4" y2="1290.3" stroke="#111" stroke-width="2.9"/>
<line x1="645.8" y1="1288.7" x2="873.8" y2="1288.7" stroke="#111" stroke-width="3.3"/>
<line x1="672.2" y1="1288.7" x2="672.2" y2="1292.3" stroke="#222" stroke-width="1.5"/>
<text transform="translate(676.5,1310.4) scale(1,1.1)" class="xl">-0.2</text>
<line x1="711.6" y1="1288.7" x2="711.6" y2="1292.3" stroke="#222" stroke-width="1.5"/>
<text transform="translate(715.9,1310.4) scale(1,1.1)" class="xl">-0.1</text>
<line x1="751.4" y1="1288.7" x2="751.4" y2="1292.3" stroke="#222" stroke-width="1.5"/>
<text transform="translate(751.4,1310.4) scale(1,1.1)" class="xl">0.0</text>
<line x1="791.5" y1="1288.7" x2="791.5" y2="1292.3" stroke="#222" stroke-width="1.5"/>
<text transform="translate(795.8,1310.4) scale(1,1.1)" class="xl">0.1</text>
<line x1="831.3" y1="1288.7" x2="831.3" y2="1292.3" stroke="#222" stroke-width="1.5"/>
<text transform="translate(835.6,1310.4) scale(1,1.1)" class="xl">0.2</text>
<line x1="871.3" y1="1288.7" x2="871.3" y2="1292.3" stroke="#222" stroke-width="1.5"/>
<text transform="translate(871.3,1310.4) scale(1,1.1)" class="xl">0.3</text>
<line x1="643.2" y1="1074.7" x2="646.6" y2="1074.7" stroke="#222" stroke-width="1.5"/>
<text transform="translate(635.6,1080.8) scale(1,1.1)" class="yl">0.3</text>
<line x1="643.2" y1="1110.4" x2="646.6" y2="1110.4" stroke="#222" stroke-width="1.5"/>
<text transform="translate(644.2,1116.5) scale(1,1.1)" class="yl">0.2</text>
<line x1="643.2" y1="1145.8" x2="646.6" y2="1145.8" stroke="#222" stroke-width="1.5"/>
<text transform="translate(644.2,1151.9) scale(1,1.1)" class="yl">0.1</text>
<line x1="643.2" y1="1181.5" x2="646.6" y2="1181.5" stroke="#222" stroke-width="1.5"/>
<text transform="translate(635.6,1187.6) scale(1,1.1)" class="yl">0.0</text>
<line x1="643.2" y1="1216.9" x2="646.6" y2="1216.9" stroke="#222" stroke-width="1.5"/>
<text transform="translate(644.2,1223.0) scale(1,1.1)" class="yl">-0.1</text>
<line x1="643.2" y1="1252.6" x2="646.6" y2="1252.6" stroke="#222" stroke-width="1.5"/>
<text transform="translate(644.2,1258.7) scale(1,1.1)" class="yl">-0.2</text>
<line x1="643.2" y1="1288.1" x2="646.6" y2="1288.1" stroke="#222" stroke-width="1.5"/>
<text transform="translate(635.6,1294.2) scale(1,1.1)" class="yl">-0.3</text>
<text x="209.6" y="1507.5" class="pt" clip-path="url(#t18)">Amino acids</text>
<g clip-path="url(#c18)"><line x1="171.9" y1="1521.1" x2="171.9" y2="1747.2" class="dz"/><line x1="98.3" y1="1659.1" x2="324.0" y2="1659.1" class="dz"/><path d="M170.1 1688.8v6.6M186.6 1666.9v20.1M190.7 1610.7v17.7M188.1 1594.6v8.4M177.1 1676.1v23.6M160.8 1676.3v25.4M155.4 1668.9v27.3M184.7 1576.6v30.7M169.6 1647.9v28.2M180.6 1616.9v27.8M152.1 1665.1v6.0M166.5 1642.2v9.3M189.9 1655.5v13.3M196.1 1590.3v23.3M165.2 1602.1v10.7M160.5 1658.0v22.2M164.6 1707.7v10.3M188.2 1627.8v26.3M192.1 1655.3v12.8M187.9 1643.7v26.3M164.2 1615.1v23.7M200.1 1637.0v28.7M188.7 1600.6v12.8M175.3 1672.7v21.9M183.8 1568.6v31.2M164.5 1685.1v20.1M169.3 1641.7v15.1M163.9 1701.3v8.3M162.3 1717.3v9.4M172.0 1655.4v23.0M174.2 1673.3v20.9M186.3 1685.8v7.7M153.8 1647.1v19.2M150.9 1665.8v15.8" stroke="#c8372d" stroke-opacity="0.2" stroke-width="1.2" fill="none"/><path d="M170.1 1692.1h0M186.6 1677.0h0M190.7 1619.5h0M188.1 1598.8h0M177.1 1687.9h0M160.8 1689.0h0M155.4 1682.6h0M184.7 1592.0h0M169.6 1662.0h0M180.6 1630.8h0M152.1 1668.1h0M166.5 1646.9h0M189.9 1662.2h0M196.1 1602.0h0M165.2 1607.5h0M160.5 1669.1h0M164.6 1712.9h0M188.2 1640.9h0M192.1 1661.8h0M187.9 1656.9h0M164.2 1626.9h0M200.1 1651.3h0M188.7 1607.0h0M175.3 1683.6h0M183.8 1584.3h0M164.5 1695.2h0M169.3 1649.2h0M163.9 1705.4h0M162.3 1721.9h0M172.0 1666.9h0M174.2 1683.8h0M186.3 1689.6h0M153.8 1656.7h0M150.9 1673.7h0" stroke="#c8372d" stroke-opacity="0.2" stroke-width="6" stroke-linecap="round" fill="none"/><line x1="100.2" y1="1747.2" x2="289.0" y2="1520.1" stroke="#222" stroke-width="1.1"/><polygon points="158.2,1669.6 161.4,1652.1 164.7,1638.9 168.0,1643.3 171.3,1658.6 170.2,1673.9 168.0,1691.4 164.7,1706.8 161.4,1695.8 159.3,1682.7" fill="#c8372d" fill-opacity="0.9" filter="url(#bl1)"/><polygon points="173.5,1656.4 175.7,1638.9 178.9,1621.4 183.3,1630.2 186.6,1643.3 185.5,1665.2 180.0,1676.1 175.7,1673.9" fill="#c8372d" fill-opacity="0.9" filter="url(#bl1)"/><polygon points="186.6,1630.2 193.2,1628.0 199.7,1634.5 197.5,1643.3 191.0,1645.5" fill="#c8372d" fill-opacity="0.85" filter="url(#bl1)"/><path d="M164.4 1638.5v32.8M168.7 1671.5v25.6M164.4 1666.4v30.0M164.6 1683.5v42.8M167.4 1666.3v39.0M176.8 1628.3v33.9M182.0 1628.8v16.2M174.9 1636.3v23.5M175.5 1630.7v21.5M189.3 1621.1v34.6" stroke="#c8372d" stroke-opacity="0.16" stroke-width="1.3" fill="none"/><path d="M164.3 1664.9v8.0M169.6 1665.2v14.8M158.9 1672.7v6.4M164.5 1659.4v17.8M161.7 1651.5v10.6M167.6 1674.3v5.8M164.5 1652.3v12.4M159.0 1671.4v11.4M166.9 1669.1v12.7M161.1 1685.1v11.7M168.3 1668.2v9.4M168.7 1674.2v12.8M169.2 1664.4v7.9M167.0 1660.6v7.0M168.9 1663.4v13.3M171.2 1652.4v14.7M166.7 1667.0v8.9M164.8 1664.6v13.9M169.0 1671.0v6.7M159.0 1666.8v4.6M162.2 1686.4v7.8M183.6 1623.9v16.5M184.9 1661.4v5.1M181.6 1635.5v14.0M179.2 1661.3v6.5M180.3 1622.7v11.8M181.0 1658.0v10.6M176.9 1634.8v11.5M176.9 1636.4v8.0M180.6 1639.3v16.0M176.8 1641.7v6.7M179.6 1665.4v4.0M180.6 1666.2v6.9M175.5 1641.1v17.5M176.9 1625.7v17.9M184.2 1655.4v13.4M183.0 1657.9v13.1M180.0 1653.0v8.2M183.9 1653.6v4.8M174.0 1649.4v15.4M197.0 1629.3v10.9M191.8 1639.3v5.9M190.8 1628.2v16.8M193.4 1633.4v12.2M197.9 1632.0v16.4" stroke="#c8372d" stroke-opacity="0.35" stroke-width="1.4" fill="none"/><line x1="312.4" y1="1531.0" x2="312.4" y2="1539.8" stroke="#c8372d" stroke-opacity="0.85" stroke-width="1.4"/><circle cx="312.4" cy="1535.4" r="3.2" fill="#c8372d" fill-opacity="1"/><line x1="217.9" y1="1603.0" x2="217.9" y2="1646.8" stroke="#c8372d" stroke-opacity="0.81" stroke-width="1.4"/><circle cx="217.9" cy="1624.9" r="3.2" fill="#c8372d" fill-opacity="0.95"/><line x1="205.2" y1="1560.2" x2="205.2" y2="1603.9" stroke="#c8372d" stroke-opacity="0.81" stroke-width="1.4"/><circle cx="205.2" cy="1582.0" r="3.2" fill="#c8372d" fill-opacity="0.95"/><line x1="199.7" y1="1560.2" x2="199.7" y2="1625.8" stroke="#c8372d" stroke-opacity="0.42" stroke-width="1.4"/><circle cx="199.7" cy="1593.0" r="3.2" fill="#c8372d" fill-opacity="0.5"/><line x1="200.4" y1="1595.2" x2="200.4" y2="1638.9" stroke="#c8372d" stroke-opacity="0.42" stroke-width="1.4"/><circle cx="200.4" cy="1617.0" r="3.2" fill="#c8372d" fill-opacity="0.5"/><line x1="189.5" y1="1542.0" x2="189.5" y2="1607.6" stroke="#c8372d" stroke-opacity="0.42" stroke-width="1.4"/><circle cx="189.5" cy="1574.8" r="3.2" fill="#c8372d" fill-opacity="0.5"/><line x1="181.8" y1="1576.6" x2="181.8" y2="1620.3" stroke="#c8372d" stroke-opacity="0.42" stroke-width="1.4"/><circle cx="181.8" cy="1598.4" r="3.2" fill="#c8372d" fill-opacity="0.5"/><line x1="181.8" y1="1603.9" x2="181.8" y2="1630.2" stroke="#c8372d" stroke-opacity="0.42" stroke-width="1.4"/><circle cx="181.8" cy="1617.0" r="3.2" fill="#c8372d" fill-opacity="0.5"/><line x1="154.4" y1="1623.6" x2="154.4" y2="1667.4" stroke="#c8372d" stroke-opacity="0.77" stroke-width="1.4"/><circle cx="154.4" cy="1645.5" r="3.2" fill="#c8372d" fill-opacity="0.9"/><line x1="151.6" y1="1665.2" x2="151.6" y2="1678.3" stroke="#c8372d" stroke-opacity="0.77" stroke-width="1.4"/><circle cx="151.6" cy="1671.7" r="3.2" fill="#c8372d" fill-opacity="0.9"/><line x1="151.2" y1="1677.2" x2="151.2" y2="1690.3" stroke="#c8372d" stroke-opacity="0.77" stroke-width="1.4"/><circle cx="151.2" cy="1683.8" r="3.2" fill="#c8372d" fill-opacity="0.9"/><line x1="150.5" y1="1673.9" x2="150.5" y2="1708.9" stroke="#c8372d" stroke-opacity="0.77" stroke-width="1.4"/><circle cx="150.5" cy="1691.4" r="3.2" fill="#c8372d" fill-opacity="0.9"/><line x1="139.1" y1="1679.4" x2="139.1" y2="1690.3" stroke="#c8372d" stroke-opacity="0.85" stroke-width="1.4"/><circle cx="139.1" cy="1684.9" r="3.2" fill="#c8372d" fill-opacity="1"/><line x1="143.9" y1="1701.3" x2="143.9" y2="1712.2" stroke="#c8372d" stroke-opacity="0.85" stroke-width="1.4"/><circle cx="143.9" cy="1706.8" r="3.2" fill="#c8372d" fill-opacity="1"/><line x1="107.0" y1="1686.4" x2="107.0" y2="1710.5" stroke="#c8372d" stroke-opacity="0.85" stroke-width="1.4"/><circle cx="107.0" cy="1698.4" r="3.2" fill="#c8372d" fill-opacity="1"/><line x1="197.5" y1="1630.2" x2="197.5" y2="1643.3" stroke="#c8372d" stroke-opacity="0.85" stroke-width="1.4"/><circle cx="197.5" cy="1636.7" r="3.2" fill="#c8372d" fill-opacity="1"/><line x1="197.5" y1="1650.3" x2="197.5" y2="1663.4" stroke="#c8372d" stroke-opacity="0.77" stroke-width="1.4"/><circle cx="197.5" cy="1656.9" r="3.2" fill="#c8372d" fill-opacity="0.9"/><line x1="201.3" y1="1646.6" x2="201.3" y2="1659.7" stroke="#c8372d" stroke-opacity="0.68" stroke-width="1.4"/><circle cx="201.3" cy="1653.1" r="3.2" fill="#c8372d" fill-opacity="0.8"/><line x1="189.9" y1="1623.6" x2="189.9" y2="1636.7" stroke="#c8372d" stroke-opacity="0.77" stroke-width="1.4"/><circle cx="189.9" cy="1630.2" r="3.2" fill="#c8372d" fill-opacity="0.9"/><line x1="191.0" y1="1654.2" x2="191.0" y2="1667.4" stroke="#c8372d" stroke-opacity="0.68" stroke-width="1.4"/><circle cx="191.0" cy="1660.8" r="3.2" fill="#c8372d" fill-opacity="0.8"/><line x1="188.8" y1="1660.8" x2="188.8" y2="1673.9" stroke="#c8372d" stroke-opacity="0.59" stroke-width="1.4"/><circle cx="188.8" cy="1667.4" r="3.2" fill="#c8372d" fill-opacity="0.7"/><line x1="186.6" y1="1669.6" x2="186.6" y2="1682.7" stroke="#c8372d" stroke-opacity="0.42" stroke-width="1.4"/><circle cx="186.6" cy="1676.1" r="3.2" fill="#c8372d" fill-opacity="0.5"/><line x1="163.6" y1="1691.4" x2="163.6" y2="1735.2" stroke="#c8372d" stroke-opacity="0.34" stroke-width="1.4"/><circle cx="163.6" cy="1713.3" r="3.2" fill="#c8372d" fill-opacity="0.4"/><line x1="157.7" y1="1692.5" x2="157.7" y2="1710.0" stroke="#c8372d" stroke-opacity="0.34" stroke-width="1.4"/><circle cx="157.7" cy="1701.3" r="3.2" fill="#c8372d" fill-opacity="0.4"/><line x1="164.7" y1="1553.6" x2="164.7" y2="1619.2" stroke="#c8372d" stroke-opacity="0.26" stroke-width="1.4"/><circle cx="164.7" cy="1586.4" r="3.2" fill="#c8372d" fill-opacity="0.3"/></g>
<line x1="96.5" y1="1520.1" x2="325.4" y2="1520.1" stroke="#111" stroke-width="1.7"/>
<line x1="97.3" y1="1519.3" x2="97.3" y2="1748.8" stroke="#111" stroke-width="1.7"/>
<line x1="324.0" y1="1519.3" x2="324.0" y2="1748.8" stroke="#111" stroke-width="2.9"/>
<line x1="96.5" y1="1747.2" x2="325.4" y2="1747.2" stroke="#111" stroke-width="3.3"/>
<line x1="121.4" y1="1747.2" x2="121.4" y2="1750.8" stroke="#222" stroke-width="1.5"/>
<text transform="translate(125.7,1768.9) scale(1,1.1)" class="xl">-0.2</text>
<line x1="171.9" y1="1747.2" x2="171.9" y2="1750.8" stroke="#222" stroke-width="1.5"/>
<text transform="translate(171.9,1768.9) scale(1,1.1)" class="xl">0.0</text>
<line x1="223.4" y1="1747.2" x2="223.4" y2="1750.8" stroke="#222" stroke-width="1.5"/>
<text transform="translate(227.7,1768.9) scale(1,1.1)" class="xl">0.2</text>
<line x1="274.1" y1="1747.2" x2="274.1" y2="1750.8" stroke="#222" stroke-width="1.5"/>
<text transform="translate(278.4,1768.9) scale(1,1.1)" class="xl">0.4</text>
<line x1="93.9" y1="1584.2" x2="97.3" y2="1584.2" stroke="#222" stroke-width="1.5"/>
<text transform="translate(94.9,1590.3) scale(1,1.1)" class="yl">0.25</text>
<line x1="93.9" y1="1659.1" x2="97.3" y2="1659.1" stroke="#222" stroke-width="1.5"/>
<text transform="translate(86.3,1665.2) scale(1,1.1)" class="yl">0.00</text>
<line x1="93.9" y1="1734.8" x2="97.3" y2="1734.8" stroke="#222" stroke-width="1.5"/>
<text transform="translate(94.9,1740.9) scale(1,1.1)" class="yl">-0.25</text>
<text x="482.4" y="1507.5" class="pt" clip-path="url(#t19)">Apolipoproteins</text>
<g clip-path="url(#c19)"><line x1="508.8" y1="1521.1" x2="508.8" y2="1746.6" class="dz"/><line x1="370.2" y1="1631.3" x2="596.1" y2="1631.3" class="dz"/><path d="M521.8 1618.7v28.1M490.5 1648.9v19.0M494.3 1622.9v9.2M493.9 1602.6v27.4M483.5 1635.0v26.2M500.8 1608.3v9.9M502.8 1650.6v18.4M514.7 1631.1v7.4M525.1 1621.6v29.3M511.8 1602.4v22.4M507.6 1620.6v17.3M505.8 1628.5v7.1M494.2 1594.6v25.1M499.3 1646.9v28.5M506.4 1634.5v31.6M483.6 1647.7v15.1M487.6 1619.6v22.1M494.0 1622.4v23.5M502.6 1632.8v18.4" stroke="#6e4f68" stroke-opacity="0.2" stroke-width="1.2" fill="none"/><path d="M521.8 1632.8h0M490.5 1658.4h0M494.3 1627.5h0M493.9 1616.3h0M483.5 1648.1h0M500.8 1613.3h0M502.8 1659.8h0M514.7 1634.8h0M525.1 1636.3h0M511.8 1613.7h0M507.6 1629.2h0M505.8 1632.1h0M494.2 1607.2h0M499.3 1661.2h0M506.4 1650.3h0M483.6 1655.2h0M487.6 1630.7h0M494.0 1634.1h0M502.6 1642.0h0" stroke="#6e4f68" stroke-opacity="0.2" stroke-width="6" stroke-linecap="round" fill="none"/><line x1="369.2" y1="1734.1" x2="596.1" y2="1566.7" stroke="#222" stroke-width="1.1"/><polygon points="490.7,1643.3 492.9,1630.2 497.2,1619.2 501.6,1617.0 506.0,1625.8 506.0,1643.3 501.6,1652.1 495.1,1654.2" fill="#6e4f68" fill-opacity="0.9" filter="url(#bl1)"/><polygon points="512.6,1634.5 513.7,1621.4 516.9,1614.9 523.5,1614.9 525.7,1623.6 523.5,1638.9 519.1,1649.9 514.7,1649.9" fill="#6e4f68" fill-opacity="0.9" filter="url(#bl1)"/><path d="M501.5 1604.6v35.0M497.3 1638.2v23.8M499.1 1609.4v32.8M500.3 1631.3v35.7M522.0 1599.7v36.9M515.9 1623.8v29.6M522.6 1618.3v34.0" stroke="#6e4f68" stroke-opacity="0.16" stroke-width="1.3" fill="none"/><path d="M500.7 1625.0v16.0M494.5 1637.1v16.6M498.2 1643.5v16.4M499.3 1635.4v7.9M494.7 1631.2v7.1M501.4 1633.2v16.6M493.7 1632.9v12.1M505.4 1628.2v14.5M503.2 1620.0v14.7M502.1 1621.8v11.9M496.4 1618.6v8.6M496.2 1622.7v11.3M504.1 1626.4v11.8M495.7 1647.9v5.3M497.5 1611.5v16.0M493.1 1641.4v14.9M517.4 1611.1v10.7M522.4 1632.7v12.7M517.0 1642.8v13.0M523.3 1634.1v6.6M512.9 1635.0v4.1M520.7 1636.6v17.5M515.9 1617.2v5.8M512.8 1629.7v5.8M519.1 1617.6v6.4M517.7 1645.6v8.2M517.8 1616.2v6.9M519.9 1636.4v9.4M515.5 1623.5v15.0" stroke="#6e4f68" stroke-opacity="0.35" stroke-width="1.4" fill="none"/><line x1="379.7" y1="1719.9" x2="379.7" y2="1735.2" stroke="#6e4f68" stroke-opacity="0.85" stroke-width="1.4"/><circle cx="379.7" cy="1727.5" r="3.2" fill="#6e4f68" fill-opacity="1"/><line x1="387.8" y1="1721.0" x2="387.8" y2="1736.3" stroke="#6e4f68" stroke-opacity="0.85" stroke-width="1.4"/><circle cx="387.8" cy="1728.6" r="3.2" fill="#6e4f68" fill-opacity="1"/><line x1="461.1" y1="1630.8" x2="461.1" y2="1639.6" stroke="#6e4f68" stroke-opacity="0.85" stroke-width="1.4"/><circle cx="461.1" cy="1635.2" r="3.2" fill="#6e4f68" fill-opacity="1"/><line x1="459.6" y1="1656.4" x2="459.6" y2="1667.4" stroke="#6e4f68" stroke-opacity="0.85" stroke-width="1.4"/><circle cx="459.6" cy="1661.9" r="3.2" fill="#6e4f68" fill-opacity="1"/><line x1="462.2" y1="1664.1" x2="462.2" y2="1675.0" stroke="#6e4f68" stroke-opacity="0.77" stroke-width="1.4"/><circle cx="462.2" cy="1669.6" r="3.2" fill="#6e4f68" fill-opacity="0.9"/><line x1="468.1" y1="1638.9" x2="468.1" y2="1647.7" stroke="#6e4f68" stroke-opacity="0.77" stroke-width="1.4"/><circle cx="468.1" cy="1643.3" r="3.2" fill="#6e4f68" fill-opacity="0.9"/><line x1="475.4" y1="1623.2" x2="475.4" y2="1636.3" stroke="#6e4f68" stroke-opacity="0.51" stroke-width="1.4"/><circle cx="475.4" cy="1629.7" r="3.2" fill="#6e4f68" fill-opacity="0.6"/><line x1="482.4" y1="1648.8" x2="482.4" y2="1714.4" stroke="#6e4f68" stroke-opacity="0.42" stroke-width="1.4"/><circle cx="482.4" cy="1681.6" r="3.2" fill="#6e4f68" fill-opacity="0.5"/><line x1="491.3" y1="1665.2" x2="491.3" y2="1673.9" stroke="#6e4f68" stroke-opacity="0.59" stroke-width="1.4"/><circle cx="491.3" cy="1669.6" r="3.2" fill="#6e4f68" fill-opacity="0.7"/><line x1="492.9" y1="1599.1" x2="492.9" y2="1616.6" stroke="#6e4f68" stroke-opacity="0.51" stroke-width="1.4"/><circle cx="492.9" cy="1607.9" r="3.2" fill="#6e4f68" fill-opacity="0.6"/><line x1="500.1" y1="1568.2" x2="500.1" y2="1612.0" stroke="#6e4f68" stroke-opacity="0.34" stroke-width="1.4"/><circle cx="500.1" cy="1590.1" r="3.2" fill="#6e4f68" fill-opacity="0.4"/><line x1="519.6" y1="1533.2" x2="519.6" y2="1598.9" stroke="#6e4f68" stroke-opacity="0.26" stroke-width="1.4"/><circle cx="519.6" cy="1566.1" r="3.2" fill="#6e4f68" fill-opacity="0.3"/><line x1="584.3" y1="1576.6" x2="584.3" y2="1585.3" stroke="#6e4f68" stroke-opacity="0.85" stroke-width="1.4"/><circle cx="584.3" cy="1580.9" r="3.2" fill="#6e4f68" fill-opacity="1"/><line x1="545.8" y1="1588.6" x2="545.8" y2="1601.7" stroke="#6e4f68" stroke-opacity="0.85" stroke-width="1.4"/><circle cx="545.8" cy="1595.2" r="3.2" fill="#6e4f68" fill-opacity="1"/><line x1="544.7" y1="1603.9" x2="544.7" y2="1617.0" stroke="#6e4f68" stroke-opacity="0.68" stroke-width="1.4"/><circle cx="544.7" cy="1610.5" r="3.2" fill="#6e4f68" fill-opacity="0.8"/><line x1="544.3" y1="1613.8" x2="544.3" y2="1622.5" stroke="#6e4f68" stroke-opacity="0.85" stroke-width="1.4"/><circle cx="544.3" cy="1618.1" r="3.2" fill="#6e4f68" fill-opacity="1"/><line x1="538.8" y1="1616.6" x2="538.8" y2="1629.7" stroke="#6e4f68" stroke-opacity="0.68" stroke-width="1.4"/><circle cx="538.8" cy="1623.2" r="3.2" fill="#6e4f68" fill-opacity="0.8"/><line x1="530.1" y1="1614.9" x2="530.1" y2="1628.0" stroke="#6e4f68" stroke-opacity="0.77" stroke-width="1.4"/><circle cx="530.1" cy="1621.4" r="3.2" fill="#6e4f68" fill-opacity="0.9"/><line x1="533.3" y1="1621.4" x2="533.3" y2="1634.5" stroke="#6e4f68" stroke-opacity="0.68" stroke-width="1.4"/><circle cx="533.3" cy="1628.0" r="3.2" fill="#6e4f68" fill-opacity="0.8"/><line x1="521.3" y1="1663.0" x2="521.3" y2="1706.8" stroke="#6e4f68" stroke-opacity="0.26" stroke-width="1.4"/><circle cx="521.3" cy="1684.9" r="3.2" fill="#6e4f68" fill-opacity="0.3"/><line x1="492.9" y1="1663.0" x2="492.9" y2="1706.8" stroke="#6e4f68" stroke-opacity="0.26" stroke-width="1.4"/><circle cx="492.9" cy="1684.9" r="3.2" fill="#6e4f68" fill-opacity="0.3"/></g>
<line x1="368.4" y1="1520.1" x2="597.5" y2="1520.1" stroke="#111" stroke-width="1.7"/>
<line x1="369.2" y1="1519.3" x2="369.2" y2="1748.2" stroke="#111" stroke-width="1.7"/>
<line x1="596.1" y1="1519.3" x2="596.1" y2="1748.2" stroke="#111" stroke-width="2.9"/>
<line x1="368.4" y1="1746.6" x2="597.5" y2="1746.6" stroke="#111" stroke-width="3.3"/>
<line x1="383.5" y1="1746.6" x2="383.5" y2="1750.2" stroke="#222" stroke-width="1.5"/>
<text transform="translate(383.5,1768.3) scale(1,1.1)" class="xl">-0.3</text>
<line x1="425.5" y1="1746.6" x2="425.5" y2="1750.2" stroke="#222" stroke-width="1.5"/>
<text transform="translate(429.8,1768.3) scale(1,1.1)" class="xl">-0.2</text>
<line x1="467.3" y1="1746.6" x2="467.3" y2="1750.2" stroke="#222" stroke-width="1.5"/>
<text transform="translate(471.6,1768.3) scale(1,1.1)" class="xl">-0.1</text>
<line x1="508.8" y1="1746.6" x2="508.8" y2="1750.2" stroke="#222" stroke-width="1.5"/>
<text transform="translate(508.8,1768.3) scale(1,1.1)" class="xl">0.0</text>
<line x1="550.4" y1="1746.6" x2="550.4" y2="1750.2" stroke="#222" stroke-width="1.5"/>
<text transform="translate(554.7,1768.3) scale(1,1.1)" class="xl">0.1</text>
<line x1="592.4" y1="1746.6" x2="592.4" y2="1750.2" stroke="#222" stroke-width="1.5"/>
<text transform="translate(596.7,1768.3) scale(1,1.1)" class="xl">0.2</text>
<line x1="365.8" y1="1571.1" x2="369.2" y2="1571.1" stroke="#222" stroke-width="1.5"/>
<text transform="translate(366.8,1577.2) scale(1,1.1)" class="yl">0.2</text>
<line x1="365.8" y1="1631.3" x2="369.2" y2="1631.3" stroke="#222" stroke-width="1.5"/>
<text transform="translate(358.2,1637.4) scale(1,1.1)" class="yl">0.0</text>
<line x1="365.8" y1="1693.6" x2="369.2" y2="1693.6" stroke="#222" stroke-width="1.5"/>
<text transform="translate(366.8,1699.7) scale(1,1.1)" class="yl">-0.2</text>
<text x="768.5" y="1507.5" class="pt" clip-path="url(#t20)">Cholesterol</text>
<g clip-path="url(#c20)"><line x1="800.9" y1="1521.1" x2="800.9" y2="1747.2" class="dz"/><line x1="656.8" y1="1621.9" x2="883.4" y2="1621.9" class="dz"/><path d="M782.7 1606.9v18.9M794.0 1561.2v31.2M808.4 1622.0v27.7M792.4 1610.0v29.3M789.0 1586.9v15.5M794.1 1605.8v17.4M780.1 1651.0v9.8M785.4 1624.4v18.6M808.4 1616.8v16.5M793.6 1565.5v21.6M787.3 1597.9v11.8M812.0 1615.2v25.2M798.4 1620.7v29.2M788.6 1603.3v12.5M808.0 1563.7v19.9M789.9 1559.0v16.6M792.0 1584.9v25.5M784.6 1582.9v29.6M801.9 1670.8v13.0M807.0 1653.4v18.7M797.7 1656.8v7.2M798.3 1640.2v6.4M796.0 1667.9v12.9M797.9 1541.3v27.2" stroke="#3a6ea5" stroke-opacity="0.2" stroke-width="1.2" fill="none"/><path d="M782.7 1616.4h0M794.0 1576.8h0M808.4 1635.9h0M792.4 1624.6h0M789.0 1594.7h0M794.1 1614.5h0M780.1 1655.9h0M785.4 1633.7h0M808.4 1625.1h0M793.6 1576.3h0M787.3 1603.8h0M812.0 1627.8h0M798.4 1635.3h0M788.6 1609.6h0M808.0 1573.7h0M789.9 1567.3h0M792.0 1597.7h0M784.6 1597.7h0M801.9 1677.3h0M807.0 1662.7h0M797.7 1660.4h0M798.3 1643.4h0M796.0 1674.3h0M797.9 1554.9h0" stroke="#3a6ea5" stroke-opacity="0.2" stroke-width="6" stroke-linecap="round" fill="none"/><line x1="657.3" y1="1747.2" x2="883.4" y2="1550.3" stroke="#222" stroke-width="1.1"/><polygon points="771.3,1628.7 774.8,1619.4 779.5,1612.4 784.2,1607.7 788.9,1596.0 792.4,1586.7 794.7,1593.7 797.0,1605.4 799.4,1619.4 799.4,1633.4 797.0,1645.0 794.7,1654.4 792.4,1661.4 790.0,1656.7 786.5,1652.0 783.0,1645.0 778.3,1642.7 774.8,1640.4 772.5,1635.7" fill="#3a6ea5" fill-opacity="0.97" filter="url(#bl1)"/><polygon points="759.7,1660.2 764.3,1655.5 770.2,1648.5 774.8,1641.5 780.7,1640.4 778.3,1647.4 773.7,1655.5 769.0,1662.5 764.3,1666.0 760.3,1664.9" fill="#3a6ea5" fill-opacity="0.9" filter="url(#bl1)"/><polygon points="802.9,1633.4 802.9,1621.7 804.0,1610.0 806.4,1600.7 808.7,1594.8 812.2,1592.5 814.5,1598.3 818.0,1603.0 821.5,1605.4 825.0,1610.0 822.7,1614.7 818.0,1619.4 815.7,1628.7 813.4,1638.0 812.2,1647.4 811.0,1656.7 809.9,1666.0 808.7,1656.7 806.4,1647.4 804.0,1640.4" fill="#3a6ea5" fill-opacity="0.97" filter="url(#bl1)"/><path d="M780.3 1626.5v21.9M788.2 1600.9v38.8M786.1 1621.1v37.2M785.5 1620.5v18.8M776.6 1622.4v33.5M794.0 1612.1v41.2M788.1 1614.8v33.4M790.0 1645.0v18.8M791.4 1613.3v16.6M782.4 1617.4v27.2M782.2 1625.6v30.9M768.2 1649.7v25.8M809.2 1604.1v27.7M809.4 1640.3v22.8M808.3 1605.3v35.3M812.6 1599.7v16.1M812.1 1588.1v26.4M811.9 1610.8v21.1M815.5 1585.0v43.4" stroke="#3a6ea5" stroke-opacity="0.16" stroke-width="1.3" fill="none"/><path d="M777.1 1624.7v11.7M783.1 1631.5v15.8M778.2 1615.1v6.2M783.2 1633.0v7.3M788.2 1610.4v9.7M792.5 1621.7v17.1M791.8 1608.0v6.7M793.9 1586.8v11.1M791.3 1619.2v7.5M777.9 1624.6v6.0M790.5 1647.0v12.4M785.8 1646.4v6.9M795.1 1632.5v17.5M782.2 1642.5v4.1M781.2 1630.5v14.6M796.7 1599.8v10.6M781.9 1640.3v8.0M774.6 1633.7v12.1M797.5 1632.0v17.9M795.4 1600.2v6.2M793.2 1610.2v11.5M789.1 1595.9v16.4M774.1 1621.5v15.1M789.8 1647.6v9.0M790.6 1630.9v16.3M782.8 1633.5v11.5M785.6 1600.5v14.3M789.6 1589.3v10.5M784.5 1631.6v4.9M787.6 1635.5v9.1M777.7 1623.1v13.6M779.5 1612.6v9.8M789.1 1640.0v6.0M776.3 1615.5v4.8M775.1 1625.5v8.9M792.0 1604.6v6.4M787.9 1645.9v5.9M789.6 1607.7v11.0M794.4 1592.4v12.6M793.0 1618.7v14.5M788.2 1621.9v6.0M795.7 1623.7v5.9M787.2 1628.7v6.2M794.3 1589.2v12.9M798.0 1632.0v4.1M766.8 1651.6v14.3M770.1 1652.5v8.5M763.2 1654.4v13.6M772.4 1649.2v16.4M774.0 1641.1v7.1M775.4 1649.4v6.2M764.4 1657.0v8.3M805.4 1633.4v4.1M808.6 1627.4v5.5M818.1 1609.3v5.2M805.6 1610.2v10.1M820.6 1606.6v14.2M810.6 1633.8v17.1M806.2 1606.1v10.6M808.1 1628.0v9.7M808.9 1617.1v7.6M813.5 1606.6v5.3M810.4 1613.3v11.4M816.2 1615.8v7.2M805.3 1615.6v10.1M808.8 1606.9v14.9M817.9 1614.3v5.7M808.9 1610.7v10.9M810.7 1605.3v9.4M805.7 1608.9v16.5M804.5 1612.1v4.3M807.2 1608.2v12.7M812.1 1598.2v12.0M817.3 1609.8v11.5M806.0 1595.7v15.1M813.5 1606.8v14.8M806.9 1603.6v15.3M815.2 1607.2v5.2M806.6 1597.3v13.8M810.7 1640.4v11.3M812.0 1622.0v8.1" stroke="#3a6ea5" stroke-opacity="0.35" stroke-width="1.4" fill="none"/><line x1="666.3" y1="1721.4" x2="666.3" y2="1736.7" stroke="#3a6ea5" stroke-opacity="0.85" stroke-width="1.4"/><circle cx="666.3" cy="1729.1" r="3.2" fill="#3a6ea5" fill-opacity="1"/><line x1="674.4" y1="1716.2" x2="674.4" y2="1731.5" stroke="#3a6ea5" stroke-opacity="0.85" stroke-width="1.4"/><circle cx="674.4" cy="1723.8" r="3.2" fill="#3a6ea5" fill-opacity="1"/><line x1="690.2" y1="1707.9" x2="690.2" y2="1723.2" stroke="#3a6ea5" stroke-opacity="0.85" stroke-width="1.4"/><circle cx="690.2" cy="1715.5" r="3.2" fill="#3a6ea5" fill-opacity="1"/><line x1="698.5" y1="1692.5" x2="698.5" y2="1707.9" stroke="#3a6ea5" stroke-opacity="0.85" stroke-width="1.4"/><circle cx="698.5" cy="1700.2" r="3.2" fill="#3a6ea5" fill-opacity="1"/><line x1="709.8" y1="1692.5" x2="709.8" y2="1707.9" stroke="#3a6ea5" stroke-opacity="0.85" stroke-width="1.4"/><circle cx="709.8" cy="1700.2" r="3.2" fill="#3a6ea5" fill-opacity="1"/><line x1="871.3" y1="1559.7" x2="871.3" y2="1568.5" stroke="#3a6ea5" stroke-opacity="0.85" stroke-width="1.4"/><circle cx="871.3" cy="1564.1" r="3.2" fill="#3a6ea5" fill-opacity="1"/><line x1="760.3" y1="1618.8" x2="760.3" y2="1628.1" stroke="#3a6ea5" stroke-opacity="0.85" stroke-width="1.4"/><circle cx="760.3" cy="1623.4" r="3.2" fill="#3a6ea5" fill-opacity="1"/><line x1="767.3" y1="1620.5" x2="767.3" y2="1629.9" stroke="#3a6ea5" stroke-opacity="0.85" stroke-width="1.4"/><circle cx="767.3" cy="1625.2" r="3.2" fill="#3a6ea5" fill-opacity="1"/><line x1="774.8" y1="1612.4" x2="774.8" y2="1621.7" stroke="#3a6ea5" stroke-opacity="0.85" stroke-width="1.4"/><circle cx="774.8" cy="1617.0" r="3.2" fill="#3a6ea5" fill-opacity="1"/><line x1="763.8" y1="1643.3" x2="763.8" y2="1652.6" stroke="#3a6ea5" stroke-opacity="0.85" stroke-width="1.4"/><circle cx="763.8" cy="1647.9" r="3.2" fill="#3a6ea5" fill-opacity="1"/><line x1="836.1" y1="1600.7" x2="836.1" y2="1608.9" stroke="#3a6ea5" stroke-opacity="0.85" stroke-width="1.4"/><circle cx="836.1" cy="1604.8" r="3.2" fill="#3a6ea5" fill-opacity="1"/><line x1="830.3" y1="1619.4" x2="830.3" y2="1628.7" stroke="#3a6ea5" stroke-opacity="0.85" stroke-width="1.4"/><circle cx="830.3" cy="1624.0" r="3.2" fill="#3a6ea5" fill-opacity="1"/><line x1="821.5" y1="1619.4" x2="821.5" y2="1633.4" stroke="#3a6ea5" stroke-opacity="0.85" stroke-width="1.4"/><circle cx="821.5" cy="1626.4" r="3.2" fill="#3a6ea5" fill-opacity="1"/><line x1="824.4" y1="1594.3" x2="824.4" y2="1603.6" stroke="#3a6ea5" stroke-opacity="0.85" stroke-width="1.4"/><circle cx="824.4" cy="1598.9" r="3.2" fill="#3a6ea5" fill-opacity="1"/><line x1="825.0" y1="1605.4" x2="825.0" y2="1614.7" stroke="#3a6ea5" stroke-opacity="0.85" stroke-width="1.4"/><circle cx="825.0" cy="1610.0" r="3.2" fill="#3a6ea5" fill-opacity="1"/><line x1="813.9" y1="1582.6" x2="813.9" y2="1591.9" stroke="#3a6ea5" stroke-opacity="0.85" stroke-width="1.4"/><circle cx="813.9" cy="1587.3" r="3.2" fill="#3a6ea5" fill-opacity="1"/><line x1="791.2" y1="1645.0" x2="791.2" y2="1654.4" stroke="#3a6ea5" stroke-opacity="0.85" stroke-width="1.4"/><circle cx="791.2" cy="1649.7" r="3.2" fill="#3a6ea5" fill-opacity="1"/><line x1="811.6" y1="1645.6" x2="811.6" y2="1659.6" stroke="#3a6ea5" stroke-opacity="0.85" stroke-width="1.4"/><circle cx="811.6" cy="1652.6" r="3.2" fill="#3a6ea5" fill-opacity="1"/><line x1="788.9" y1="1663.7" x2="788.9" y2="1687.0" stroke="#3a6ea5" stroke-opacity="0.34" stroke-width="1.4"/><circle cx="788.9" cy="1675.4" r="3.2" fill="#3a6ea5" fill-opacity="0.4"/><line x1="793.5" y1="1537.7" x2="793.5" y2="1561.0" stroke="#3a6ea5" stroke-opacity="0.26" stroke-width="1.4"/><circle cx="793.5" cy="1549.3" r="3.2" fill="#3a6ea5" fill-opacity="0.3"/><line x1="807.5" y1="1555.2" x2="807.5" y2="1601.9" stroke="#3a6ea5" stroke-opacity="0.34" stroke-width="1.4"/><circle cx="807.5" cy="1578.5" r="3.2" fill="#3a6ea5" fill-opacity="0.4"/><line x1="813.9" y1="1545.8" x2="813.9" y2="1580.8" stroke="#3a6ea5" stroke-opacity="0.34" stroke-width="1.4"/><circle cx="813.9" cy="1563.3" r="3.2" fill="#3a6ea5" fill-opacity="0.4"/><line x1="778.3" y1="1639.2" x2="778.3" y2="1674.2" stroke="#3a6ea5" stroke-opacity="0.42" stroke-width="1.4"/><circle cx="778.3" cy="1656.7" r="3.2" fill="#3a6ea5" fill-opacity="0.5"/></g>
<line x1="655.0" y1="1520.1" x2="884.8" y2="1520.1" stroke="#111" stroke-width="1.7"/>
<line x1="655.8" y1="1519.3" x2="655.8" y2="1748.8" stroke="#111" stroke-width="1.7"/>
<line x1="883.4" y1="1519.3" x2="883.4" y2="1748.8" stroke="#111" stroke-width="2.9"/>
<line x1="655.0" y1="1747.2" x2="884.8" y2="1747.2" stroke="#111" stroke-width="3.3"/>
<line x1="667.2" y1="1747.2" x2="667.2" y2="1750.8" stroke="#222" stroke-width="1.5"/>
<text transform="translate(671.5,1768.9) scale(1,1.1)" class="xl">-0.4</text>
<line x1="733.9" y1="1747.2" x2="733.9" y2="1750.8" stroke="#222" stroke-width="1.5"/>
<text transform="translate(738.2,1768.9) scale(1,1.1)" class="xl">-0.2</text>
<line x1="800.9" y1="1747.2" x2="800.9" y2="1750.8" stroke="#222" stroke-width="1.5"/>
<text transform="translate(800.9,1768.9) scale(1,1.1)" class="xl">0.0</text>
<line x1="867.4" y1="1747.2" x2="867.4" y2="1750.8" stroke="#222" stroke-width="1.5"/>
<text transform="translate(871.7,1768.9) scale(1,1.1)" class="xl">0.2</text>
<line x1="652.4" y1="1564.5" x2="655.8" y2="1564.5" stroke="#222" stroke-width="1.5"/>
<text transform="translate(653.4,1570.6) scale(1,1.1)" class="yl">0.2</text>
<line x1="652.4" y1="1621.9" x2="655.8" y2="1621.9" stroke="#222" stroke-width="1.5"/>
<text transform="translate(644.8,1628.0) scale(1,1.1)" class="yl">0.0</text>
<line x1="652.4" y1="1681.6" x2="655.8" y2="1681.6" stroke="#222" stroke-width="1.5"/>
<text transform="translate(653.4,1687.7) scale(1,1.1)" class="yl">-0.2</text>
<line x1="652.4" y1="1739.6" x2="655.8" y2="1739.6" stroke="#222" stroke-width="1.5"/>
<text transform="translate(653.4,1745.7) scale(1,1.1)" class="yl">-0.4</text>
<text x="1040.7" y="1507.5" class="pt" clip-path="url(#t21)">Cholesteryl esters</text>
<g clip-path="url(#c21)"><line x1="1066.5" y1="1521.1" x2="1066.5" y2="1747.2" class="dz"/><line x1="929.4" y1="1626.9" x2="1155.1" y2="1626.9" class="dz"/><path d="M1062.6 1567.4v12.8M1049.9 1572.7v24.4M1057.1 1605.8v11.9M1057.2 1549.5v27.4M1075.0 1581.2v9.2M1057.8 1642.9v24.5M1067.7 1575.5v11.8M1065.5 1589.3v19.8M1056.3 1671.0v16.6M1056.5 1535.8v27.8M1045.9 1609.6v6.9M1061.8 1573.0v30.8M1075.8 1665.1v13.8M1070.9 1580.8v31.1M1056.7 1562.8v29.4M1068.5 1601.0v16.3M1044.4 1643.3v31.2M1066.1 1631.0v14.7M1044.1 1667.3v13.0M1062.9 1557.3v18.7M1063.0 1674.9v20.1M1048.1 1634.5v6.2M1062.1 1568.6v23.4M1043.4 1655.8v27.5M1062.9 1548.1v28.2M1057.1 1651.2v13.3M1049.8 1676.1v18.2M1071.7 1594.3v20.0M1076.6 1649.1v9.2M1066.7 1591.2v17.8M1048.6 1597.0v9.4M1047.1 1664.4v19.8" stroke="#3f7f99" stroke-opacity="0.2" stroke-width="1.2" fill="none"/><path d="M1062.6 1573.8h0M1049.9 1584.9h0M1057.1 1611.7h0M1057.2 1563.2h0M1075.0 1585.8h0M1057.8 1655.2h0M1067.7 1581.5h0M1065.5 1599.2h0M1056.3 1679.3h0M1056.5 1549.7h0M1045.9 1613.0h0M1061.8 1588.4h0M1075.8 1672.0h0M1070.9 1596.4h0M1056.7 1577.5h0M1068.5 1609.2h0M1044.4 1658.9h0M1066.1 1638.4h0M1044.1 1673.8h0M1062.9 1566.6h0M1063.0 1684.9h0M1048.1 1637.6h0M1062.1 1580.3h0M1043.4 1669.5h0M1062.9 1562.2h0M1057.1 1657.8h0M1049.8 1685.2h0M1071.7 1604.3h0M1076.6 1653.7h0M1066.7 1600.1h0M1048.6 1601.7h0M1047.1 1674.2h0" stroke="#3f7f99" stroke-opacity="0.2" stroke-width="6" stroke-linecap="round" fill="none"/><line x1="928.4" y1="1744.4" x2="1155.1" y2="1552.5" stroke="#222" stroke-width="1.1"/><polygon points="1039.0,1633.4 1041.3,1626.4 1046.0,1620.5 1050.7,1615.9 1054.2,1605.4 1057.7,1600.7 1061.2,1603.0 1063.5,1615.9 1064.1,1631.0 1062.9,1642.7 1060.0,1652.0 1057.7,1663.7 1055.4,1668.4 1051.9,1662.5 1050.7,1650.9 1046.0,1645.0 1041.3,1640.4" fill="#3f7f99" fill-opacity="0.97" filter="url(#bl1)"/><polygon points="1028.5,1628.7 1033.2,1624.0 1037.8,1619.4 1041.3,1621.7 1041.3,1628.7 1036.7,1632.2 1032.0,1633.4" fill="#3f7f99" fill-opacity="0.9" filter="url(#bl1)"/><polygon points="1068.2,1626.4 1069.4,1614.7 1071.7,1605.4 1075.2,1600.7 1078.7,1603.0 1082.2,1607.7 1085.7,1610.0 1089.2,1606.5 1092.7,1601.9 1096.2,1605.4 1097.4,1612.4 1092.7,1619.4 1088.0,1626.4 1083.4,1631.0 1081.0,1639.2 1078.7,1650.9 1078.7,1662.5 1076.4,1668.4 1074.0,1656.7 1071.7,1645.0 1069.4,1635.7" fill="#3f7f99" fill-opacity="0.97" filter="url(#bl1)"/><path d="M1053.7 1596.9v38.2M1047.1 1611.5v38.9M1047.6 1609.2v29.2M1047.9 1609.7v27.4M1055.4 1630.9v33.1M1054.8 1626.6v21.9M1059.6 1637.6v31.4M1058.2 1632.9v32.1M1055.3 1614.7v38.0M1031.0 1617.2v19.1M1070.4 1631.2v16.3M1085.6 1611.9v18.8M1082.0 1602.0v40.7M1077.7 1637.0v32.6M1076.9 1635.5v18.9M1070.7 1601.5v17.7M1071.6 1603.3v30.4M1074.5 1638.0v21.8" stroke="#3f7f99" stroke-opacity="0.16" stroke-width="1.3" fill="none"/><path d="M1057.9 1622.0v16.2M1054.8 1657.3v6.4M1053.3 1639.8v12.5M1060.2 1617.6v14.9M1060.3 1640.6v4.7M1053.2 1619.7v8.6M1057.0 1661.0v7.5M1055.9 1614.0v7.5M1059.8 1642.0v5.6M1060.9 1612.0v10.4M1047.5 1639.8v12.2M1062.9 1615.7v5.5M1062.3 1622.9v12.4M1055.5 1617.9v7.3M1050.5 1614.8v9.5M1049.4 1625.9v8.2M1051.3 1619.9v11.3M1060.0 1644.3v8.6M1058.4 1631.4v7.6M1059.4 1612.5v8.4M1047.3 1642.1v7.8M1058.8 1622.6v15.9M1054.2 1610.5v16.2M1055.1 1624.9v12.8M1061.9 1601.0v13.2M1054.7 1633.4v8.0M1045.4 1621.2v8.1M1055.8 1622.3v9.5M1058.1 1615.6v12.7M1044.8 1624.4v11.7M1062.2 1627.8v13.4M1056.0 1608.0v7.7M1047.5 1612.8v17.6M1052.8 1605.8v12.1M1057.8 1622.1v17.6M1058.8 1648.5v15.4M1032.5 1628.9v7.7M1034.6 1619.6v8.6M1030.8 1621.1v12.7M1036.4 1613.6v14.8M1068.9 1620.7v6.5M1076.2 1626.5v6.7M1076.0 1628.1v12.6M1086.4 1624.2v5.0M1073.4 1630.2v8.6M1077.2 1599.6v10.4M1078.4 1631.2v15.8M1074.5 1617.5v17.6M1073.2 1617.2v8.3M1094.8 1606.2v8.3M1075.6 1637.3v6.5M1073.5 1628.1v9.4M1087.1 1605.1v12.7M1078.6 1617.9v17.5M1080.4 1615.7v11.8M1087.5 1619.3v14.1M1072.7 1642.0v4.3M1072.9 1640.0v13.0M1077.3 1609.5v10.9M1089.0 1606.3v12.2M1075.6 1625.7v9.9M1079.1 1611.0v12.6M1085.0 1621.8v12.8M1081.9 1610.3v17.6M1072.9 1623.6v8.4M1074.4 1596.5v17.8M1072.3 1598.7v16.9M1074.2 1621.2v15.4M1072.8 1620.3v8.8M1076.8 1658.4v16.9M1070.1 1605.5v16.6M1086.3 1619.4v15.2M1082.8 1617.8v14.1M1080.4 1600.4v15.2" stroke="#3f7f99" stroke-opacity="0.35" stroke-width="1.4" fill="none"/><line x1="938.9" y1="1721.0" x2="938.9" y2="1736.3" stroke="#3f7f99" stroke-opacity="0.85" stroke-width="1.4"/><circle cx="938.9" cy="1728.6" r="3.2" fill="#3f7f99" fill-opacity="1"/><line x1="955.8" y1="1700.9" x2="955.8" y2="1716.2" stroke="#3f7f99" stroke-opacity="0.85" stroke-width="1.4"/><circle cx="955.8" cy="1708.5" r="3.2" fill="#3f7f99" fill-opacity="1"/><line x1="1014.4" y1="1670.7" x2="1014.4" y2="1686.0" stroke="#3f7f99" stroke-opacity="0.81" stroke-width="1.4"/><circle cx="1014.4" cy="1678.3" r="3.2" fill="#3f7f99" fill-opacity="0.95"/><line x1="1143.5" y1="1560.4" x2="1143.5" y2="1569.8" stroke="#3f7f99" stroke-opacity="0.85" stroke-width="1.4"/><circle cx="1143.5" cy="1565.1" r="3.2" fill="#3f7f99" fill-opacity="1"/><line x1="1106.7" y1="1603.6" x2="1106.7" y2="1612.9" stroke="#3f7f99" stroke-opacity="0.85" stroke-width="1.4"/><circle cx="1106.7" cy="1608.3" r="3.2" fill="#3f7f99" fill-opacity="1"/><line x1="1102.3" y1="1623.4" x2="1102.3" y2="1635.1" stroke="#3f7f99" stroke-opacity="0.85" stroke-width="1.4"/><circle cx="1102.3" cy="1629.3" r="3.2" fill="#3f7f99" fill-opacity="1"/><line x1="1028.5" y1="1647.1" x2="1028.5" y2="1658.8" stroke="#3f7f99" stroke-opacity="0.85" stroke-width="1.4"/><circle cx="1028.5" cy="1653.0" r="3.2" fill="#3f7f99" fill-opacity="1"/><line x1="1030.3" y1="1661.4" x2="1030.3" y2="1675.4" stroke="#3f7f99" stroke-opacity="0.85" stroke-width="1.4"/><circle cx="1030.3" cy="1668.4" r="3.2" fill="#3f7f99" fill-opacity="1"/><line x1="1014.5" y1="1671.3" x2="1014.5" y2="1685.3" stroke="#3f7f99" stroke-opacity="0.85" stroke-width="1.4"/><circle cx="1014.5" cy="1678.3" r="3.2" fill="#3f7f99" fill-opacity="1"/><line x1="1039.6" y1="1644.4" x2="1039.6" y2="1653.8" stroke="#3f7f99" stroke-opacity="0.85" stroke-width="1.4"/><circle cx="1039.6" cy="1649.1" r="3.2" fill="#3f7f99" fill-opacity="1"/><line x1="1042.5" y1="1622.9" x2="1042.5" y2="1688.2" stroke="#3f7f99" stroke-opacity="0.68" stroke-width="1.4"/><circle cx="1042.5" cy="1655.5" r="3.2" fill="#3f7f99" fill-opacity="0.8"/><line x1="1053.6" y1="1650.9" x2="1053.6" y2="1664.9" stroke="#3f7f99" stroke-opacity="0.85" stroke-width="1.4"/><circle cx="1053.6" cy="1657.9" r="3.2" fill="#3f7f99" fill-opacity="1"/><line x1="1076.4" y1="1652.0" x2="1076.4" y2="1666.0" stroke="#3f7f99" stroke-opacity="0.85" stroke-width="1.4"/><circle cx="1076.4" cy="1659.0" r="3.2" fill="#3f7f99" fill-opacity="1"/><line x1="1058.3" y1="1539.4" x2="1058.3" y2="1562.8" stroke="#3f7f99" stroke-opacity="0.26" stroke-width="1.4"/><circle cx="1058.3" cy="1551.1" r="3.2" fill="#3f7f99" fill-opacity="0.3"/><line x1="1059.4" y1="1547.6" x2="1059.4" y2="1582.6" stroke="#3f7f99" stroke-opacity="0.26" stroke-width="1.4"/><circle cx="1059.4" cy="1565.1" r="3.2" fill="#3f7f99" fill-opacity="0.3"/><line x1="1074.0" y1="1559.3" x2="1074.0" y2="1594.3" stroke="#3f7f99" stroke-opacity="0.34" stroke-width="1.4"/><circle cx="1074.0" cy="1576.8" r="3.2" fill="#3f7f99" fill-opacity="0.4"/><line x1="1053.0" y1="1667.8" x2="1053.0" y2="1702.8" stroke="#3f7f99" stroke-opacity="0.34" stroke-width="1.4"/><circle cx="1053.0" cy="1685.3" r="3.2" fill="#3f7f99" fill-opacity="0.4"/><line x1="1079.3" y1="1571.5" x2="1079.3" y2="1618.2" stroke="#3f7f99" stroke-opacity="0.34" stroke-width="1.4"/><circle cx="1079.3" cy="1594.8" r="3.2" fill="#3f7f99" fill-opacity="0.4"/><line x1="1048.3" y1="1580.8" x2="1048.3" y2="1615.9" stroke="#3f7f99" stroke-opacity="0.26" stroke-width="1.4"/><circle cx="1048.3" cy="1598.3" r="3.2" fill="#3f7f99" fill-opacity="0.3"/></g>
<line x1="927.6" y1="1520.1" x2="1156.5" y2="1520.1" stroke="#111" stroke-width="1.7"/>
<line x1="928.4" y1="1519.3" x2="928.4" y2="1748.8" stroke="#111" stroke-width="1.7"/>
<line x1="1155.1" y1="1519.3" x2="1155.1" y2="1748.8" stroke="#111" stroke-width="2.9"/>
<line x1="927.6" y1="1747.2" x2="1156.5" y2="1747.2" stroke="#111" stroke-width="3.3"/>
<line x1="994.1" y1="1747.2" x2="994.1" y2="1750.8" stroke="#222" stroke-width="1.5"/>
<text transform="translate(998.4,1768.9) scale(1,1.1)" class="xl">-0.2</text>
<line x1="1066.5" y1="1747.2" x2="1066.5" y2="1750.8" stroke="#222" stroke-width="1.5"/>
<text transform="translate(1066.5,1768.9) scale(1,1.1)" class="xl">0.0</text>
<line x1="1138.5" y1="1747.2" x2="1138.5" y2="1750.8" stroke="#222" stroke-width="1.5"/>
<text transform="translate(1142.8,1768.9) scale(1,1.1)" class="xl">0.2</text>
<line x1="925.0" y1="1566.3" x2="928.4" y2="1566.3" stroke="#222" stroke-width="1.5"/>
<text transform="translate(926.0,1572.4) scale(1,1.1)" class="yl">0.2</text>
<line x1="925.0" y1="1626.9" x2="928.4" y2="1626.9" stroke="#222" stroke-width="1.5"/>
<text transform="translate(917.4,1633.0) scale(1,1.1)" class="yl">0.0</text>
<line x1="925.0" y1="1690.3" x2="928.4" y2="1690.3" stroke="#222" stroke-width="1.5"/>
<text transform="translate(926.0,1696.4) scale(1,1.1)" class="yl">-0.2</text>
<text x="1313.2" y="1507.5" class="pt" clip-path="url(#t22)">Fatty acids</text>
<g clip-path="url(#c22)"><line x1="1315.9" y1="1521.1" x2="1315.9" y2="1747.2" class="dz"/><line x1="1202.0" y1="1632.4" x2="1427.5" y2="1632.4" class="dz"/><path d="M1301.0 1690.4v13.9M1316.5 1652.5v31.8M1341.4 1608.2v13.6M1352.5 1616.4v27.2M1328.7 1627.2v11.1M1300.1 1641.1v6.7M1321.5 1551.8v17.6M1328.0 1627.8v30.0M1319.1 1681.8v21.4M1326.4 1592.2v29.1M1352.6 1603.1v9.5M1320.4 1558.9v8.0M1320.8 1625.9v21.4M1328.2 1622.0v22.3M1348.9 1584.6v19.9M1332.2 1610.9v14.7M1302.3 1624.2v13.1M1311.2 1673.7v17.4M1319.7 1559.2v16.2M1312.2 1587.6v16.4M1326.6 1641.2v15.8M1352.2 1609.6v27.8M1323.6 1621.7v13.9M1349.0 1584.2v27.3M1317.2 1568.8v26.9M1312.7 1585.5v15.2M1315.0 1713.9v6.7M1281.5 1646.6v14.5M1306.0 1661.6v28.4M1316.2 1639.7v6.7M1321.1 1596.5v25.9M1290.4 1645.2v11.4M1334.8 1589.9v11.2M1317.1 1565.6v15.1M1312.7 1589.7v9.7M1293.3 1608.1v21.8M1305.3 1657.9v19.7M1321.5 1546.3v29.5M1300.6 1637.6v12.9M1311.2 1615.2v29.0M1329.0 1601.2v17.0M1306.2 1674.8v29.9M1302.5 1709.2v24.1M1321.9 1663.9v15.7M1337.0 1646.5v6.8M1310.3 1558.4v25.1M1307.1 1663.7v11.0M1316.8 1586.9v7.3" stroke="#8b7d4e" stroke-opacity="0.2" stroke-width="1.2" fill="none"/><path d="M1301.0 1697.4h0M1316.5 1668.5h0M1341.4 1615.0h0M1352.5 1630.0h0M1328.7 1632.7h0M1300.1 1644.5h0M1321.5 1560.6h0M1328.0 1642.9h0M1319.1 1692.5h0M1326.4 1606.8h0M1352.6 1607.9h0M1320.4 1562.9h0M1320.8 1636.7h0M1328.2 1633.1h0M1348.9 1594.6h0M1332.2 1618.3h0M1302.3 1630.8h0M1311.2 1682.5h0M1319.7 1567.3h0M1312.2 1595.9h0M1326.6 1649.1h0M1352.2 1623.4h0M1323.6 1628.6h0M1349.0 1597.9h0M1317.2 1582.3h0M1312.7 1593.1h0M1315.0 1717.3h0M1281.5 1653.9h0M1306.0 1675.8h0M1316.2 1643.0h0M1321.1 1609.5h0M1290.4 1650.9h0M1334.8 1595.5h0M1317.1 1573.1h0M1312.7 1594.6h0M1293.3 1619.0h0M1305.3 1667.8h0M1321.5 1561.1h0M1300.6 1644.1h0M1311.2 1629.7h0M1329.0 1609.7h0M1306.2 1689.8h0M1302.5 1721.2h0M1321.9 1671.8h0M1337.0 1649.9h0M1310.3 1570.9h0M1307.1 1669.2h0M1316.8 1590.5h0" stroke="#8b7d4e" stroke-opacity="0.2" stroke-width="6" stroke-linecap="round" fill="none"/><line x1="1213.5" y1="1747.2" x2="1417.6" y2="1520.1" stroke="#222" stroke-width="1.1"/><polygon points="1273.8,1635.9 1278.8,1626.0 1287.1,1621.0 1293.7,1619.3 1300.3,1614.4 1305.3,1599.5 1307.8,1582.9 1309.4,1569.7 1311.9,1589.5 1315.2,1612.7 1316.9,1622.6 1318.5,1612.7 1320.2,1589.5 1322.7,1577.9 1325.2,1589.5 1328.5,1597.8 1335.1,1597.8 1341.7,1594.5 1346.7,1592.8 1353.3,1596.2 1351.7,1607.7 1346.7,1616.0 1343.4,1622.6 1345.0,1629.3 1343.4,1639.2 1338.4,1645.8 1333.5,1650.8 1326.8,1652.5 1323.5,1660.7 1320.2,1677.3 1315.2,1685.6 1311.9,1702.1 1308.6,1718.7 1307.0,1702.1 1305.3,1677.3 1302.0,1669.0 1297.0,1669.0 1292.1,1674.0 1285.4,1669.0 1278.8,1662.4 1273.8,1652.5 1272.2,1644.2" fill="#8b7d4e" fill-opacity="0.97" filter="url(#bl1)"/><path d="M1321.1 1583.4v34.3M1336.2 1591.6v25.8M1300.3 1620.1v20.1M1314.4 1627.9v25.7M1334.4 1628.6v39.2M1335.2 1595.4v38.4M1325.0 1570.3v42.7M1320.9 1642.8v38.4M1341.3 1594.4v18.3M1319.7 1589.1v29.2M1320.5 1634.0v18.7M1340.5 1612.2v43.5M1331.9 1629.0v33.5M1312.8 1657.4v22.6M1287.6 1637.0v26.6M1329.2 1590.5v35.9M1298.1 1646.1v17.8M1298.8 1653.0v19.7M1330.1 1611.7v28.8M1322.1 1595.7v41.4M1344.0 1593.7v19.1M1297.3 1627.7v40.0M1310.3 1600.1v35.3M1303.0 1658.5v22.2M1316.0 1652.0v42.7M1276.0 1644.3v18.5M1328.4 1633.4v23.7M1348.0 1577.6v37.4M1287.8 1625.2v18.1M1273.9 1632.1v19.2M1339.3 1588.9v16.8M1318.7 1647.1v31.5M1281.3 1630.1v34.6M1335.5 1626.4v17.1M1306.5 1663.6v41.6M1314.1 1658.4v23.3M1305.2 1582.9v43.5M1320.5 1634.5v41.8M1314.5 1614.1v39.5M1308.9 1669.2v40.6M1297.2 1600.0v34.2M1284.3 1647.4v28.0M1314.3 1635.2v41.9M1306.4 1621.1v22.9M1341.4 1579.4v40.7" stroke="#8b7d4e" stroke-opacity="0.16" stroke-width="1.3" fill="none"/><path d="M1328.1 1609.1v11.0M1290.3 1644.9v15.3M1279.4 1632.9v13.0M1292.2 1628.1v11.0M1324.6 1596.4v9.4M1339.1 1632.8v16.9M1285.0 1637.3v12.7M1309.5 1610.8v12.4M1301.7 1651.1v11.6M1313.4 1646.1v9.6M1303.7 1612.1v11.1M1325.4 1620.0v6.4M1328.8 1600.7v4.6M1292.8 1648.4v4.1M1308.1 1679.2v16.3M1333.2 1633.4v15.4M1308.0 1662.8v17.6M1306.2 1671.2v13.2M1314.5 1619.1v13.2M1314.7 1608.5v11.2M1340.1 1600.1v7.8M1333.5 1633.2v6.0M1298.7 1650.4v7.4M1280.3 1639.1v15.0M1338.1 1634.6v17.6M1324.5 1620.2v14.1M1313.0 1635.4v4.2M1332.6 1643.5v8.9M1340.4 1627.1v12.8M1315.9 1623.2v5.4M1337.3 1593.3v11.1M1351.6 1599.2v6.4M1294.4 1624.0v8.2M1320.2 1600.6v13.0M1326.7 1610.5v4.3M1332.3 1640.4v16.9M1319.9 1615.0v9.9M1285.0 1645.5v9.6M1311.0 1682.7v9.7M1309.5 1687.2v17.1M1309.6 1585.0v10.3M1312.8 1664.2v16.0M1332.9 1619.5v17.9M1285.2 1643.4v13.4M1313.3 1638.6v6.5M1307.0 1650.1v13.4M1331.7 1643.8v10.7M1305.7 1666.8v17.3M1309.4 1639.4v10.8M1294.5 1649.8v12.6M1310.2 1700.0v8.7M1309.2 1598.1v9.9M1310.6 1664.4v7.2M1328.6 1625.8v17.0M1308.8 1646.8v14.4M1331.2 1627.3v12.9M1295.3 1613.0v13.7M1311.0 1656.6v17.4M1284.8 1637.7v13.6M1317.6 1647.9v6.2M1304.8 1641.2v12.6M1308.5 1583.7v17.0M1310.5 1627.1v10.1M1339.1 1593.8v14.0M1312.1 1664.6v16.6M1311.2 1676.3v7.6M1313.7 1604.5v13.6M1305.8 1645.7v10.0M1320.9 1594.1v9.8M1309.1 1683.1v8.0M1289.2 1618.3v10.2M1311.8 1628.7v7.6M1339.6 1621.5v10.1M1344.3 1613.7v4.7M1328.1 1628.4v8.2M1330.4 1641.2v4.8M1285.5 1617.3v10.1M1333.4 1642.0v16.9M1321.9 1637.9v12.4M1325.5 1629.2v15.3M1283.2 1634.4v10.6M1275.0 1637.3v11.6M1309.6 1634.7v5.9M1286.1 1638.7v11.7M1283.2 1639.9v7.6M1310.2 1582.5v9.9M1310.5 1674.4v14.3M1340.2 1631.4v10.9M1279.4 1617.7v18.0M1276.7 1637.8v16.0M1332.5 1614.4v15.9M1290.8 1663.3v13.0M1290.8 1624.6v5.6M1300.6 1638.2v8.6M1287.5 1634.2v9.7M1314.6 1665.9v10.0M1338.6 1637.1v13.1M1319.9 1643.7v13.0M1325.3 1608.7v13.0M1302.3 1622.0v13.1M1313.1 1665.8v11.8M1316.8 1649.0v4.5M1315.8 1649.0v12.7M1319.7 1635.7v16.4M1322.1 1611.6v12.7M1313.7 1635.0v9.8M1311.8 1606.6v4.6M1309.5 1660.5v9.5M1324.6 1643.5v4.0M1309.1 1647.1v13.4M1327.0 1625.5v15.0M1331.2 1592.5v13.1M1314.0 1625.7v13.7M1286.1 1632.7v7.3M1296.1 1662.6v8.5M1325.7 1594.4v16.4M1312.3 1649.1v4.2M1314.8 1624.9v15.5M1330.9 1636.0v14.8M1275.6 1632.3v8.9M1299.0 1656.1v9.1M1276.3 1635.3v8.1M1321.5 1659.0v5.5M1334.8 1631.3v17.9M1276.1 1643.3v15.9M1292.1 1671.0v4.2M1313.7 1603.9v17.5M1306.1 1594.8v8.3M1314.5 1618.2v6.9M1319.7 1668.7v9.7M1334.0 1639.5v8.0M1343.4 1616.2v16.7M1301.6 1633.6v4.5M1306.3 1654.7v12.4M1328.0 1614.2v11.5M1333.6 1635.0v4.7M1295.7 1613.7v13.0M1275.9 1636.4v6.5M1308.4 1676.2v6.8M1315.3 1633.0v12.4M1329.5 1605.4v10.6M1303.3 1618.4v13.4M1310.9 1594.2v15.3M1283.0 1653.3v15.3M1331.4 1600.8v11.3M1341.1 1619.2v11.7M1277.0 1647.4v12.5M1315.7 1613.3v5.4M1321.7 1647.5v5.7M1294.3 1627.6v8.2M1294.8 1666.6v8.2M1322.3 1623.0v9.1M1292.3 1627.0v5.2M1300.8 1611.1v8.5M1300.8 1605.4v18.0M1311.4 1657.7v4.3M1312.9 1669.9v12.1M1295.0 1662.5v12.4M1292.8 1630.6v8.3M1311.3 1593.9v10.3M1337.4 1598.4v10.4M1341.2 1608.2v7.1M1281.8 1657.2v14.3M1296.2 1636.4v13.5M1318.8 1657.4v16.7M1295.5 1633.7v14.4M1311.4 1614.9v10.4M1309.1 1649.9v12.0M1300.3 1625.7v12.1M1331.1 1605.7v16.5M1320.0 1667.2v17.8M1312.7 1620.9v8.6M1335.9 1610.8v8.9M1296.9 1622.5v12.0M1326.1 1629.1v11.7M1293.9 1637.6v17.2M1311.2 1583.0v7.4M1318.0 1632.4v12.5M1323.1 1646.9v6.1M1337.3 1635.7v13.8M1333.4 1598.0v6.4" stroke="#8b7d4e" stroke-opacity="0.35" stroke-width="1.4" fill="none"/><line x1="1210.1" y1="1717.8" x2="1210.1" y2="1736.1" stroke="#8b7d4e" stroke-opacity="0.85" stroke-width="1.4"/><circle cx="1210.1" cy="1727.0" r="3.2" fill="#8b7d4e" fill-opacity="1"/><line x1="1224.2" y1="1716.2" x2="1224.2" y2="1734.4" stroke="#8b7d4e" stroke-opacity="0.85" stroke-width="1.4"/><circle cx="1224.2" cy="1725.3" r="3.2" fill="#8b7d4e" fill-opacity="1"/><line x1="1224.2" y1="1699.6" x2="1224.2" y2="1717.8" stroke="#8b7d4e" stroke-opacity="0.85" stroke-width="1.4"/><circle cx="1224.2" cy="1708.7" r="3.2" fill="#8b7d4e" fill-opacity="1"/><line x1="1236.6" y1="1687.2" x2="1236.6" y2="1705.4" stroke="#8b7d4e" stroke-opacity="0.85" stroke-width="1.4"/><circle cx="1236.6" cy="1696.3" r="3.2" fill="#8b7d4e" fill-opacity="1"/><line x1="1243.2" y1="1689.7" x2="1243.2" y2="1707.9" stroke="#8b7d4e" stroke-opacity="0.85" stroke-width="1.4"/><circle cx="1243.2" cy="1698.8" r="3.2" fill="#8b7d4e" fill-opacity="1"/><line x1="1258.1" y1="1627.6" x2="1258.1" y2="1640.9" stroke="#8b7d4e" stroke-opacity="0.85" stroke-width="1.4"/><circle cx="1258.1" cy="1634.2" r="3.2" fill="#8b7d4e" fill-opacity="1"/><line x1="1259.8" y1="1626.0" x2="1259.8" y2="1639.2" stroke="#8b7d4e" stroke-opacity="0.85" stroke-width="1.4"/><circle cx="1259.8" cy="1632.6" r="3.2" fill="#8b7d4e" fill-opacity="1"/><line x1="1268.1" y1="1626.0" x2="1268.1" y2="1645.8" stroke="#8b7d4e" stroke-opacity="0.85" stroke-width="1.4"/><circle cx="1268.1" cy="1635.9" r="3.2" fill="#8b7d4e" fill-opacity="1"/><line x1="1269.7" y1="1621.0" x2="1269.7" y2="1647.5" stroke="#8b7d4e" stroke-opacity="0.85" stroke-width="1.4"/><circle cx="1269.7" cy="1634.2" r="3.2" fill="#8b7d4e" fill-opacity="1"/><line x1="1266.4" y1="1661.6" x2="1266.4" y2="1679.8" stroke="#8b7d4e" stroke-opacity="0.85" stroke-width="1.4"/><circle cx="1266.4" cy="1670.7" r="3.2" fill="#8b7d4e" fill-opacity="1"/><line x1="1270.5" y1="1664.0" x2="1270.5" y2="1682.3" stroke="#8b7d4e" stroke-opacity="0.85" stroke-width="1.4"/><circle cx="1270.5" cy="1673.1" r="3.2" fill="#8b7d4e" fill-opacity="1"/><line x1="1277.2" y1="1650.0" x2="1277.2" y2="1668.2" stroke="#8b7d4e" stroke-opacity="0.85" stroke-width="1.4"/><circle cx="1277.2" cy="1659.1" r="3.2" fill="#8b7d4e" fill-opacity="1"/><line x1="1278.8" y1="1656.6" x2="1278.8" y2="1674.8" stroke="#8b7d4e" stroke-opacity="0.85" stroke-width="1.4"/><circle cx="1278.8" cy="1665.7" r="3.2" fill="#8b7d4e" fill-opacity="1"/><line x1="1287.1" y1="1663.2" x2="1287.1" y2="1681.4" stroke="#8b7d4e" stroke-opacity="0.85" stroke-width="1.4"/><circle cx="1287.1" cy="1672.3" r="3.2" fill="#8b7d4e" fill-opacity="1"/><line x1="1290.4" y1="1664.9" x2="1290.4" y2="1683.1" stroke="#8b7d4e" stroke-opacity="0.85" stroke-width="1.4"/><circle cx="1290.4" cy="1674.0" r="3.2" fill="#8b7d4e" fill-opacity="1"/><line x1="1287.9" y1="1661.6" x2="1287.9" y2="1707.9" stroke="#8b7d4e" stroke-opacity="0.68" stroke-width="1.4"/><circle cx="1287.9" cy="1684.7" r="3.2" fill="#8b7d4e" fill-opacity="0.8"/><line x1="1296.2" y1="1659.1" x2="1296.2" y2="1672.3" stroke="#8b7d4e" stroke-opacity="0.85" stroke-width="1.4"/><circle cx="1296.2" cy="1665.7" r="3.2" fill="#8b7d4e" fill-opacity="1"/><line x1="1296.2" y1="1576.3" x2="1296.2" y2="1635.9" stroke="#8b7d4e" stroke-opacity="0.51" stroke-width="1.4"/><circle cx="1296.2" cy="1606.1" r="3.2" fill="#8b7d4e" fill-opacity="0.6"/><line x1="1283.8" y1="1642.5" x2="1283.8" y2="1655.8" stroke="#8b7d4e" stroke-opacity="0.85" stroke-width="1.4"/><circle cx="1283.8" cy="1649.1" r="3.2" fill="#8b7d4e" fill-opacity="1"/><line x1="1364.1" y1="1545.7" x2="1364.1" y2="1563.9" stroke="#8b7d4e" stroke-opacity="0.85" stroke-width="1.4"/><circle cx="1364.1" cy="1554.8" r="3.2" fill="#8b7d4e" fill-opacity="1"/><line x1="1369.0" y1="1570.5" x2="1369.0" y2="1588.7" stroke="#8b7d4e" stroke-opacity="0.85" stroke-width="1.4"/><circle cx="1369.0" cy="1579.6" r="3.2" fill="#8b7d4e" fill-opacity="1"/><line x1="1360.8" y1="1586.2" x2="1360.8" y2="1604.4" stroke="#8b7d4e" stroke-opacity="0.85" stroke-width="1.4"/><circle cx="1360.8" cy="1595.3" r="3.2" fill="#8b7d4e" fill-opacity="1"/><line x1="1353.3" y1="1587.9" x2="1353.3" y2="1606.1" stroke="#8b7d4e" stroke-opacity="0.85" stroke-width="1.4"/><circle cx="1353.3" cy="1597.0" r="3.2" fill="#8b7d4e" fill-opacity="1"/><line x1="1350.8" y1="1597.0" x2="1350.8" y2="1615.2" stroke="#8b7d4e" stroke-opacity="0.85" stroke-width="1.4"/><circle cx="1350.8" cy="1606.1" r="3.2" fill="#8b7d4e" fill-opacity="1"/><line x1="1351.7" y1="1621.8" x2="1351.7" y2="1640.0" stroke="#8b7d4e" stroke-opacity="0.85" stroke-width="1.4"/><circle cx="1351.7" cy="1630.9" r="3.2" fill="#8b7d4e" fill-opacity="1"/><line x1="1356.6" y1="1621.8" x2="1356.6" y2="1640.0" stroke="#8b7d4e" stroke-opacity="0.85" stroke-width="1.4"/><circle cx="1356.6" cy="1630.9" r="3.2" fill="#8b7d4e" fill-opacity="1"/><line x1="1357.5" y1="1621.8" x2="1357.5" y2="1650.0" stroke="#8b7d4e" stroke-opacity="0.85" stroke-width="1.4"/><circle cx="1357.5" cy="1635.9" r="3.2" fill="#8b7d4e" fill-opacity="1"/><line x1="1364.9" y1="1625.1" x2="1364.9" y2="1636.7" stroke="#8b7d4e" stroke-opacity="0.85" stroke-width="1.4"/><circle cx="1364.9" cy="1630.9" r="3.2" fill="#8b7d4e" fill-opacity="1"/><line x1="1416.2" y1="1529.9" x2="1416.2" y2="1548.1" stroke="#8b7d4e" stroke-opacity="0.85" stroke-width="1.4"/><circle cx="1416.2" cy="1539.0" r="3.2" fill="#8b7d4e" fill-opacity="1"/><line x1="1346.7" y1="1566.4" x2="1346.7" y2="1632.6" stroke="#8b7d4e" stroke-opacity="0.85" stroke-width="1.4"/><circle cx="1346.7" cy="1599.5" r="3.2" fill="#8b7d4e" fill-opacity="1"/><line x1="1342.6" y1="1592.0" x2="1342.6" y2="1610.2" stroke="#8b7d4e" stroke-opacity="0.85" stroke-width="1.4"/><circle cx="1342.6" cy="1601.1" r="3.2" fill="#8b7d4e" fill-opacity="1"/><line x1="1351.7" y1="1635.9" x2="1351.7" y2="1695.5" stroke="#8b7d4e" stroke-opacity="0.42" stroke-width="1.4"/><circle cx="1351.7" cy="1665.7" r="3.2" fill="#8b7d4e" fill-opacity="0.5"/><line x1="1278.0" y1="1616.0" x2="1278.0" y2="1635.9" stroke="#8b7d4e" stroke-opacity="0.85" stroke-width="1.4"/><circle cx="1278.0" cy="1626.0" r="3.2" fill="#8b7d4e" fill-opacity="1"/><line x1="1283.8" y1="1612.7" x2="1283.8" y2="1632.6" stroke="#8b7d4e" stroke-opacity="0.85" stroke-width="1.4"/><circle cx="1283.8" cy="1622.6" r="3.2" fill="#8b7d4e" fill-opacity="1"/><line x1="1336.8" y1="1622.6" x2="1336.8" y2="1655.8" stroke="#8b7d4e" stroke-opacity="0.85" stroke-width="1.4"/><circle cx="1336.8" cy="1639.2" r="3.2" fill="#8b7d4e" fill-opacity="1"/><line x1="1343.4" y1="1611.1" x2="1343.4" y2="1660.7" stroke="#8b7d4e" stroke-opacity="0.85" stroke-width="1.4"/><circle cx="1343.4" cy="1635.9" r="3.2" fill="#8b7d4e" fill-opacity="1"/></g>
<line x1="1200.2" y1="1520.1" x2="1428.9" y2="1520.1" stroke="#111" stroke-width="1.7"/>
<line x1="1201.0" y1="1519.3" x2="1201.0" y2="1748.8" stroke="#111" stroke-width="1.7"/>
<line x1="1427.5" y1="1519.3" x2="1427.5" y2="1748.8" stroke="#111" stroke-width="2.9"/>
<line x1="1200.2" y1="1747.2" x2="1428.9" y2="1747.2" stroke="#111" stroke-width="3.3"/>
<line x1="1207.6" y1="1747.2" x2="1207.6" y2="1750.8" stroke="#222" stroke-width="1.5"/>
<text transform="translate(1211.9,1768.9) scale(1,1.1)" class="xl">-0.4</text>
<line x1="1261.8" y1="1747.2" x2="1261.8" y2="1750.8" stroke="#222" stroke-width="1.5"/>
<text transform="translate(1266.1,1768.9) scale(1,1.1)" class="xl">-0.2</text>
<line x1="1315.9" y1="1747.2" x2="1315.9" y2="1750.8" stroke="#222" stroke-width="1.5"/>
<text transform="translate(1315.9,1768.9) scale(1,1.1)" class="xl">0.0</text>
<line x1="1370.1" y1="1747.2" x2="1370.1" y2="1750.8" stroke="#222" stroke-width="1.5"/>
<text transform="translate(1374.4,1768.9) scale(1,1.1)" class="xl">0.2</text>
<line x1="1424.2" y1="1747.2" x2="1424.2" y2="1750.8" stroke="#222" stroke-width="1.5"/>
<text transform="translate(1428.5,1768.9) scale(1,1.1)" class="xl">0.4</text>
<line x1="1197.6" y1="1573.9" x2="1201.0" y2="1573.9" stroke="#222" stroke-width="1.5"/>
<text transform="translate(1198.6,1580.0) scale(1,1.1)" class="yl">0.2</text>
<line x1="1197.6" y1="1632.4" x2="1201.0" y2="1632.4" stroke="#222" stroke-width="1.5"/>
<text transform="translate(1190.0,1638.5) scale(1,1.1)" class="yl">0.0</text>
<line x1="1197.6" y1="1692.5" x2="1201.0" y2="1692.5" stroke="#222" stroke-width="1.5"/>
<text transform="translate(1198.6,1698.6) scale(1,1.1)" class="yl">-0.2</text>
<text x="209.6" y="1810.1" class="pt" clip-path="url(#t23)">Fluid balance</text>
<g clip-path="url(#c23)"><line x1="210.7" y1="1823.7" x2="210.7" y2="2049.6" class="dz"/><line x1="97.9" y1="1913.5" x2="324.0" y2="1913.5" class="dz"/><path d="M209.9 1909.1v11.9M291.0 1897.8v31.2M198.9 1928.9v10.8M190.6 1904.5v17.1M174.5 1934.9v17.6M162.8 1921.5v13.8M148.3 1889.1v30.6M251.4 1903.2v26.0M214.5 1907.0v15.0M150.4 1933.5v10.0M283.1 1907.0v31.1M210.4 1904.0v10.1M223.1 1900.2v25.2M185.2 1922.0v9.2M283.6 1906.8v27.8M167.5 1901.8v20.3M215.7 1897.7v25.4M256.6 1891.8v25.7M286.8 1889.2v15.4M201.0 1910.4v25.3M190.4 1912.8v31.1M202.1 1891.0v30.4M187.0 1928.8v13.0M149.9 1922.4v9.2M230.7 1880.6v27.1M234.6 1916.9v12.4M257.9 1902.9v20.1M235.3 1912.5v17.1M289.9 1915.4v9.8M256.1 1886.0v21.9M191.7 1915.8v8.1M170.2 1895.1v7.1M249.0 1901.5v27.9M212.7 1916.4v17.2M174.8 1913.2v11.4M135.7 1906.6v24.2M289.2 1897.3v21.3M247.7 1920.2v12.6M204.5 1905.7v19.1M189.9 1890.9v25.6M278.9 1910.5v8.5M210.4 1898.1v21.1M142.7 1905.4v29.0M232.5 1908.8v12.9" stroke="#d38a2e" stroke-opacity="0.2" stroke-width="1.2" fill="none"/><path d="M209.9 1915.1h0M291.0 1913.4h0M198.9 1934.2h0M190.6 1913.0h0M174.5 1943.7h0M162.8 1928.4h0M148.3 1904.4h0M251.4 1916.2h0M214.5 1914.5h0M150.4 1938.5h0M283.1 1922.5h0M210.4 1909.1h0M223.1 1912.8h0M185.2 1926.6h0M283.6 1920.7h0M167.5 1911.9h0M215.7 1910.4h0M256.6 1904.6h0M286.8 1896.9h0M201.0 1923.1h0M190.4 1928.4h0M202.1 1906.2h0M187.0 1935.3h0M149.9 1927.0h0M230.7 1894.1h0M234.6 1923.1h0M257.9 1913.0h0M235.3 1921.1h0M289.9 1920.3h0M256.1 1896.9h0M191.7 1919.9h0M170.2 1898.6h0M249.0 1915.5h0M212.7 1925.0h0M174.8 1918.9h0M135.7 1918.7h0M289.2 1908.0h0M247.7 1926.5h0M204.5 1915.2h0M189.9 1903.7h0M278.9 1914.7h0M210.4 1908.7h0M142.7 1919.9h0M232.5 1915.3h0" stroke="#d38a2e" stroke-opacity="0.2" stroke-width="6" stroke-linecap="round" fill="none"/><line x1="96.9" y1="1936.5" x2="324.0" y2="1891.2" stroke="#222" stroke-width="1.1"/><polygon points="158.2,1913.5 162.5,1906.9 171.3,1904.7 182.2,1902.5 191.0,1902.5 194.3,1911.3 193.2,1922.2 186.6,1926.6 175.7,1924.4 166.9,1922.2 159.3,1920.0" fill="#d38a2e" fill-opacity="0.97" filter="url(#bl1)"/><polygon points="227.1,1913.5 230.4,1902.5 236.9,1898.2 243.5,1900.4 247.9,1909.1 246.8,1920.0 241.3,1924.4 232.6,1922.2" fill="#d38a2e" fill-opacity="0.97" filter="url(#bl1)"/><polygon points="252.3,1906.9 258.8,1902.5 265.4,1904.7 265.4,1915.7 258.8,1917.9 253.3,1915.7" fill="#d38a2e" fill-opacity="0.85" filter="url(#bl1)"/><path d="M165.1 1900.2v42.5M187.2 1908.7v24.7M189.9 1889.2v36.9M181.0 1908.5v30.4M190.3 1909.1v21.3M190.5 1905.1v29.2M239.3 1905.1v28.3M246.3 1897.6v22.5M242.6 1897.2v29.9M263.6 1892.8v30.6" stroke="#d38a2e" stroke-opacity="0.16" stroke-width="1.3" fill="none"/><path d="M182.3 1911.1v12.4M175.4 1900.7v17.9M182.4 1914.5v16.9M165.0 1906.1v9.8M161.7 1903.4v17.0M190.1 1911.3v14.3M179.7 1897.9v14.0M181.6 1909.3v14.4M187.2 1902.8v17.4M182.9 1913.2v16.9M160.9 1909.3v6.9M189.7 1903.0v4.7M179.6 1903.6v8.1M187.4 1903.2v4.5M188.1 1907.1v13.6M188.5 1916.4v6.1M185.4 1918.4v10.9M174.5 1899.9v9.9M184.6 1918.3v14.8M160.2 1911.1v10.2M181.5 1902.9v16.7M173.0 1909.8v17.9M184.6 1912.7v10.7M170.7 1897.1v15.8M158.9 1905.2v16.4M178.4 1921.4v6.7M243.6 1917.4v5.8M239.4 1909.3v15.9M237.0 1903.8v15.3M238.4 1896.1v8.5M238.2 1909.0v10.8M241.3 1911.9v16.8M240.6 1913.8v4.3M233.1 1902.7v10.4M233.8 1907.8v4.5M240.6 1906.2v6.5M236.5 1915.2v7.9M229.2 1904.3v7.8M232.8 1907.8v13.6M231.8 1912.8v15.3M240.6 1897.7v7.4M264.5 1898.3v15.6M259.5 1904.4v8.3M263.3 1907.8v8.6M258.6 1913.3v4.3M254.0 1904.4v7.2M253.1 1905.1v14.8" stroke="#d38a2e" stroke-opacity="0.35" stroke-width="1.4" fill="none"/><line x1="110.5" y1="1909.5" x2="110.5" y2="1918.3" stroke="#d38a2e" stroke-opacity="0.81" stroke-width="1.4"/><circle cx="110.5" cy="1913.9" r="3.2" fill="#d38a2e" fill-opacity="0.95"/><line x1="114.4" y1="1924.4" x2="114.4" y2="1937.5" stroke="#d38a2e" stroke-opacity="0.77" stroke-width="1.4"/><circle cx="114.4" cy="1931.0" r="3.2" fill="#d38a2e" fill-opacity="0.9"/><line x1="126.7" y1="1892.3" x2="126.7" y2="1914.1" stroke="#d38a2e" stroke-opacity="0.77" stroke-width="1.4"/><circle cx="126.7" cy="1903.2" r="3.2" fill="#d38a2e" fill-opacity="0.9"/><line x1="133.0" y1="1918.5" x2="133.0" y2="1931.6" stroke="#d38a2e" stroke-opacity="0.68" stroke-width="1.4"/><circle cx="133.0" cy="1925.1" r="3.2" fill="#d38a2e" fill-opacity="0.8"/><line x1="142.0" y1="1927.0" x2="142.0" y2="1940.2" stroke="#d38a2e" stroke-opacity="0.68" stroke-width="1.4"/><circle cx="142.0" cy="1933.6" r="3.2" fill="#d38a2e" fill-opacity="0.8"/><line x1="147.2" y1="1919.6" x2="147.2" y2="1932.7" stroke="#d38a2e" stroke-opacity="0.51" stroke-width="1.4"/><circle cx="147.2" cy="1926.2" r="3.2" fill="#d38a2e" fill-opacity="0.6"/><line x1="154.2" y1="1927.7" x2="154.2" y2="1940.8" stroke="#d38a2e" stroke-opacity="0.51" stroke-width="1.4"/><circle cx="154.2" cy="1934.3" r="3.2" fill="#d38a2e" fill-opacity="0.6"/><line x1="135.6" y1="1906.9" x2="135.6" y2="1976.9" stroke="#d38a2e" stroke-opacity="0.26" stroke-width="1.4"/><circle cx="135.6" cy="1941.9" r="3.2" fill="#d38a2e" fill-opacity="0.3"/><line x1="163.6" y1="1922.9" x2="163.6" y2="2001.7" stroke="#d38a2e" stroke-opacity="0.26" stroke-width="1.4"/><circle cx="163.6" cy="1962.3" r="3.2" fill="#d38a2e" fill-opacity="0.3"/><line x1="164.3" y1="1881.1" x2="164.3" y2="1907.4" stroke="#d38a2e" stroke-opacity="0.51" stroke-width="1.4"/><circle cx="164.3" cy="1894.2" r="3.2" fill="#d38a2e" fill-opacity="0.6"/><line x1="170.6" y1="1881.1" x2="170.6" y2="1907.4" stroke="#d38a2e" stroke-opacity="0.34" stroke-width="1.4"/><circle cx="170.6" cy="1894.2" r="3.2" fill="#d38a2e" fill-opacity="0.4"/><line x1="166.5" y1="1920.0" x2="166.5" y2="1937.5" stroke="#d38a2e" stroke-opacity="0.51" stroke-width="1.4"/><circle cx="166.5" cy="1928.8" r="3.2" fill="#d38a2e" fill-opacity="0.6"/><line x1="171.3" y1="1932.1" x2="171.3" y2="1958.3" stroke="#d38a2e" stroke-opacity="0.34" stroke-width="1.4"/><circle cx="171.3" cy="1945.2" r="3.2" fill="#d38a2e" fill-opacity="0.4"/><line x1="180.0" y1="1924.4" x2="180.0" y2="1950.7" stroke="#d38a2e" stroke-opacity="0.26" stroke-width="1.4"/><circle cx="180.0" cy="1937.5" r="3.2" fill="#d38a2e" fill-opacity="0.3"/><line x1="300.0" y1="1833.0" x2="300.0" y2="1898.6" stroke="#d38a2e" stroke-opacity="0.30" stroke-width="1.4"/><circle cx="300.0" cy="1865.8" r="3.2" fill="#d38a2e" fill-opacity="0.35"/><line x1="300.4" y1="1880.2" x2="300.4" y2="1893.3" stroke="#d38a2e" stroke-opacity="0.68" stroke-width="1.4"/><circle cx="300.4" cy="1886.8" r="3.2" fill="#d38a2e" fill-opacity="0.8"/><line x1="289.5" y1="1882.2" x2="289.5" y2="1895.3" stroke="#d38a2e" stroke-opacity="0.77" stroke-width="1.4"/><circle cx="289.5" cy="1888.8" r="3.2" fill="#d38a2e" fill-opacity="0.9"/><line x1="280.0" y1="1879.1" x2="280.0" y2="1892.3" stroke="#d38a2e" stroke-opacity="0.68" stroke-width="1.4"/><circle cx="280.0" cy="1885.7" r="3.2" fill="#d38a2e" fill-opacity="0.8"/><line x1="308.7" y1="1923.8" x2="308.7" y2="1971.9" stroke="#d38a2e" stroke-opacity="0.72" stroke-width="1.4"/><circle cx="308.7" cy="1947.8" r="3.2" fill="#d38a2e" fill-opacity="0.85"/><line x1="277.4" y1="1932.7" x2="277.4" y2="1985.3" stroke="#d38a2e" stroke-opacity="0.51" stroke-width="1.4"/><circle cx="277.4" cy="1959.0" r="3.2" fill="#d38a2e" fill-opacity="0.6"/><line x1="267.6" y1="1963.2" x2="267.6" y2="2037.5" stroke="#d38a2e" stroke-opacity="0.26" stroke-width="1.4"/><circle cx="267.6" cy="2000.4" r="3.2" fill="#d38a2e" fill-opacity="0.3"/><line x1="253.3" y1="1937.5" x2="253.3" y2="1968.2" stroke="#d38a2e" stroke-opacity="0.42" stroke-width="1.4"/><circle cx="253.3" cy="1952.9" r="3.2" fill="#d38a2e" fill-opacity="0.5"/><line x1="289.5" y1="1908.7" x2="289.5" y2="1917.4" stroke="#d38a2e" stroke-opacity="0.77" stroke-width="1.4"/><circle cx="289.5" cy="1913.0" r="3.2" fill="#d38a2e" fill-opacity="0.9"/><line x1="281.1" y1="1908.7" x2="281.1" y2="1917.4" stroke="#d38a2e" stroke-opacity="0.68" stroke-width="1.4"/><circle cx="281.1" cy="1913.0" r="3.2" fill="#d38a2e" fill-opacity="0.8"/><line x1="269.8" y1="1909.1" x2="269.8" y2="1922.2" stroke="#d38a2e" stroke-opacity="0.59" stroke-width="1.4"/><circle cx="269.8" cy="1915.7" r="3.2" fill="#d38a2e" fill-opacity="0.7"/><line x1="268.7" y1="1902.5" x2="268.7" y2="1911.3" stroke="#d38a2e" stroke-opacity="0.68" stroke-width="1.4"/><circle cx="268.7" cy="1906.9" r="3.2" fill="#d38a2e" fill-opacity="0.8"/><line x1="240.9" y1="1852.6" x2="240.9" y2="1887.7" stroke="#d38a2e" stroke-opacity="0.34" stroke-width="1.4"/><circle cx="240.9" cy="1870.2" r="3.2" fill="#d38a2e" fill-opacity="0.4"/><line x1="249.0" y1="1876.3" x2="249.0" y2="1893.8" stroke="#d38a2e" stroke-opacity="0.51" stroke-width="1.4"/><circle cx="249.0" cy="1885.0" r="3.2" fill="#d38a2e" fill-opacity="0.6"/><line x1="238.0" y1="1927.0" x2="238.0" y2="1944.6" stroke="#d38a2e" stroke-opacity="0.34" stroke-width="1.4"/><circle cx="238.0" cy="1935.8" r="3.2" fill="#d38a2e" fill-opacity="0.4"/></g>
<line x1="96.1" y1="1822.7" x2="325.4" y2="1822.7" stroke="#111" stroke-width="1.7"/>
<line x1="96.9" y1="1821.9" x2="96.9" y2="2051.2" stroke="#111" stroke-width="1.7"/>
<line x1="324.0" y1="1821.9" x2="324.0" y2="2051.2" stroke="#111" stroke-width="2.9"/>
<line x1="96.1" y1="2049.6" x2="325.4" y2="2049.6" stroke="#111" stroke-width="3.3"/>
<line x1="146.1" y1="2049.6" x2="146.1" y2="2053.2" stroke="#222" stroke-width="1.5"/>
<text transform="translate(150.4,2071.3) scale(1,1.1)" class="xl">-0.04</text>
<line x1="210.7" y1="2049.6" x2="210.7" y2="2053.2" stroke="#222" stroke-width="1.5"/>
<text transform="translate(210.7,2071.3) scale(1,1.1)" class="xl">0.00</text>
<line x1="275.7" y1="2049.6" x2="275.7" y2="2053.2" stroke="#222" stroke-width="1.5"/>
<text transform="translate(280.0,2071.3) scale(1,1.1)" class="xl">0.04</text>
<line x1="93.5" y1="1850.5" x2="96.9" y2="1850.5" stroke="#222" stroke-width="1.5"/>
<text transform="translate(94.5,1856.6) scale(1,1.1)" class="yl">0.2</text>
<line x1="93.5" y1="1913.5" x2="96.9" y2="1913.5" stroke="#222" stroke-width="1.5"/>
<text transform="translate(85.9,1919.6) scale(1,1.1)" class="yl">0.0</text>
<line x1="93.5" y1="1979.6" x2="96.9" y2="1979.6" stroke="#222" stroke-width="1.5"/>
<text transform="translate(94.5,1985.7) scale(1,1.1)" class="yl">-0.2</text>
<line x1="93.5" y1="2044.3" x2="96.9" y2="2044.3" stroke="#222" stroke-width="1.5"/>
<text transform="translate(94.5,2050.4) scale(1,1.1)" class="yl">-0.4</text>
<text x="481.9" y="1810.1" class="pt" clip-path="url(#t24)">Free cholesterol</text>
<g clip-path="url(#c24)"><line x1="520.9" y1="1823.7" x2="520.9" y2="2049.1" class="dz"/><line x1="370.2" y1="1922.7" x2="596.1" y2="1922.7" class="dz"/><path d="M532.5 1912.7v15.4M511.1 1951.9v12.7M517.6 1958.4v27.5M528.6 1932.5v26.7M511.1 1962.0v25.9M498.8 1906.1v26.7M508.9 1969.5v10.7M522.6 1861.5v19.8M495.1 1938.4v26.8M508.2 1955.7v14.4M510.2 1891.4v18.0M505.7 1958.2v8.0M497.0 1927.6v29.1M520.2 1930.7v26.2M512.2 1855.2v29.3M503.6 1952.2v27.3M514.9 1930.1v8.5M519.5 1948.6v12.4M513.1 1962.3v20.4M539.6 1898.1v22.9M495.8 1921.2v23.1M527.7 1878.4v19.3M506.5 1903.0v18.8M517.8 1955.2v9.5" stroke="#7f8f35" stroke-opacity="0.2" stroke-width="1.2" fill="none"/><path d="M532.5 1920.4h0M511.1 1958.3h0M517.6 1972.2h0M528.6 1945.9h0M511.1 1975.0h0M498.8 1919.4h0M508.9 1974.9h0M522.6 1871.4h0M495.1 1951.8h0M508.2 1962.9h0M510.2 1900.4h0M505.7 1962.2h0M497.0 1942.1h0M520.2 1943.9h0M512.2 1869.9h0M503.6 1965.9h0M514.9 1934.3h0M519.5 1954.8h0M513.1 1972.5h0M539.6 1909.5h0M495.8 1932.8h0M527.7 1888.0h0M506.5 1912.4h0M517.8 1959.9h0" stroke="#7f8f35" stroke-opacity="0.2" stroke-width="6" stroke-linecap="round" fill="none"/><line x1="374.7" y1="2049.1" x2="597.9" y2="1856.6" stroke="#222" stroke-width="1.1"/><polygon points="499.4,1928.8 503.8,1915.7 510.4,1904.7 514.7,1902.5 519.1,1911.3 519.1,1933.2 515.8,1950.7 512.6,1955.1 508.2,1946.3 501.6,1937.5" fill="#7f8f35" fill-opacity="0.97" filter="url(#bl1)"/><polygon points="522.4,1928.8 523.5,1911.3 527.9,1904.7 533.3,1906.9 537.7,1915.7 535.5,1928.8 530.1,1937.5 525.7,1937.5" fill="#7f8f35" fill-opacity="0.97" filter="url(#bl1)"/><path d="M513.8 1885.7v43.2M513.0 1932.5v34.7M514.1 1915.2v42.8M517.9 1911.5v41.8M516.4 1928.0v22.0M501.7 1926.0v17.1M530.8 1914.1v19.7M525.5 1923.4v21.5M523.2 1916.4v18.8" stroke="#7f8f35" stroke-opacity="0.16" stroke-width="1.3" fill="none"/><path d="M503.8 1919.9v4.5M502.4 1923.7v16.5M517.0 1915.5v9.5M510.2 1903.1v13.8M508.4 1909.2v9.2M515.5 1927.7v6.8M512.3 1930.0v7.2M506.0 1921.0v14.4M501.7 1917.2v12.2M508.3 1940.6v11.4M503.7 1923.2v9.8M504.4 1915.0v10.3M508.7 1911.4v10.3M511.4 1949.8v4.1M515.6 1916.4v8.3M506.4 1924.0v12.6M506.6 1912.0v7.4M503.5 1916.8v7.3M517.5 1910.8v6.9M513.0 1904.6v7.7M510.0 1901.6v8.7M507.2 1934.9v6.7M511.1 1920.2v9.4M513.4 1921.6v17.3M518.6 1920.2v12.7M513.8 1944.9v6.0M525.4 1914.4v8.7M526.5 1907.7v4.6M530.4 1926.0v5.4M525.1 1920.9v13.8M527.8 1908.6v14.0M532.8 1924.1v9.7M529.7 1915.0v8.7M527.3 1912.2v12.5M532.8 1926.7v9.6M535.3 1911.9v5.4M530.0 1923.7v9.8M528.2 1910.3v13.9M527.8 1924.1v14.6M527.8 1910.8v14.0" stroke="#7f8f35" stroke-opacity="0.35" stroke-width="1.4" fill="none"/><line x1="379.7" y1="2024.0" x2="379.7" y2="2039.3" stroke="#7f8f35" stroke-opacity="0.85" stroke-width="1.4"/><circle cx="379.7" cy="2031.6" r="3.2" fill="#7f8f35" fill-opacity="1"/><line x1="422.2" y1="1993.8" x2="422.2" y2="2009.1" stroke="#7f8f35" stroke-opacity="0.85" stroke-width="1.4"/><circle cx="422.2" cy="2001.4" r="3.2" fill="#7f8f35" fill-opacity="1"/><line x1="473.2" y1="1918.9" x2="473.2" y2="1927.7" stroke="#7f8f35" stroke-opacity="0.85" stroke-width="1.4"/><circle cx="473.2" cy="1923.3" r="3.2" fill="#7f8f35" fill-opacity="1"/><line x1="473.6" y1="1926.6" x2="473.6" y2="1935.4" stroke="#7f8f35" stroke-opacity="0.85" stroke-width="1.4"/><circle cx="473.6" cy="1931.0" r="3.2" fill="#7f8f35" fill-opacity="1"/><line x1="482.1" y1="1928.8" x2="482.1" y2="1946.3" stroke="#7f8f35" stroke-opacity="0.85" stroke-width="1.4"/><circle cx="482.1" cy="1937.5" r="3.2" fill="#7f8f35" fill-opacity="1"/><line x1="483.0" y1="1955.1" x2="483.0" y2="1966.0" stroke="#7f8f35" stroke-opacity="0.85" stroke-width="1.4"/><circle cx="483.0" cy="1960.5" r="3.2" fill="#7f8f35" fill-opacity="1"/><line x1="487.4" y1="1953.5" x2="487.4" y2="1964.5" stroke="#7f8f35" stroke-opacity="0.85" stroke-width="1.4"/><circle cx="487.4" cy="1959.0" r="3.2" fill="#7f8f35" fill-opacity="1"/><line x1="492.9" y1="1948.5" x2="492.9" y2="1961.6" stroke="#7f8f35" stroke-opacity="0.77" stroke-width="1.4"/><circle cx="492.9" cy="1955.1" r="3.2" fill="#7f8f35" fill-opacity="0.9"/><line x1="495.1" y1="1939.7" x2="495.1" y2="1952.9" stroke="#7f8f35" stroke-opacity="0.77" stroke-width="1.4"/><circle cx="495.1" cy="1946.3" r="3.2" fill="#7f8f35" fill-opacity="0.9"/><line x1="492.9" y1="1924.4" x2="492.9" y2="1937.5" stroke="#7f8f35" stroke-opacity="0.77" stroke-width="1.4"/><circle cx="492.9" cy="1931.0" r="3.2" fill="#7f8f35" fill-opacity="0.9"/><line x1="501.6" y1="1935.4" x2="501.6" y2="1948.5" stroke="#7f8f35" stroke-opacity="0.77" stroke-width="1.4"/><circle cx="501.6" cy="1941.9" r="3.2" fill="#7f8f35" fill-opacity="0.9"/><line x1="501.2" y1="1947.4" x2="501.2" y2="1960.5" stroke="#7f8f35" stroke-opacity="0.77" stroke-width="1.4"/><circle cx="501.2" cy="1954.0" r="3.2" fill="#7f8f35" fill-opacity="0.9"/><line x1="500.5" y1="1898.6" x2="500.5" y2="1916.1" stroke="#7f8f35" stroke-opacity="0.68" stroke-width="1.4"/><circle cx="500.5" cy="1907.4" r="3.2" fill="#7f8f35" fill-opacity="0.8"/><line x1="511.5" y1="1941.9" x2="511.5" y2="1959.4" stroke="#7f8f35" stroke-opacity="0.68" stroke-width="1.4"/><circle cx="511.5" cy="1950.7" r="3.2" fill="#7f8f35" fill-opacity="0.8"/><line x1="530.5" y1="1943.5" x2="530.5" y2="1965.3" stroke="#7f8f35" stroke-opacity="0.68" stroke-width="1.4"/><circle cx="530.5" cy="1954.4" r="3.2" fill="#7f8f35" fill-opacity="0.8"/><line x1="584.8" y1="1868.6" x2="584.8" y2="1877.4" stroke="#7f8f35" stroke-opacity="0.85" stroke-width="1.4"/><circle cx="584.8" cy="1873.0" r="3.2" fill="#7f8f35" fill-opacity="1"/><line x1="549.3" y1="1905.8" x2="549.3" y2="1914.6" stroke="#7f8f35" stroke-opacity="0.85" stroke-width="1.4"/><circle cx="549.3" cy="1910.2" r="3.2" fill="#7f8f35" fill-opacity="1"/><line x1="545.4" y1="1908.0" x2="545.4" y2="1916.8" stroke="#7f8f35" stroke-opacity="0.85" stroke-width="1.4"/><circle cx="545.4" cy="1912.4" r="3.2" fill="#7f8f35" fill-opacity="1"/><line x1="544.3" y1="1895.5" x2="544.3" y2="1904.3" stroke="#7f8f35" stroke-opacity="0.77" stroke-width="1.4"/><circle cx="544.3" cy="1899.9" r="3.2" fill="#7f8f35" fill-opacity="0.9"/><line x1="538.8" y1="1899.3" x2="538.8" y2="1912.4" stroke="#7f8f35" stroke-opacity="0.68" stroke-width="1.4"/><circle cx="538.8" cy="1905.8" r="3.2" fill="#7f8f35" fill-opacity="0.8"/><line x1="515.4" y1="1829.2" x2="515.4" y2="1873.0" stroke="#7f8f35" stroke-opacity="0.26" stroke-width="1.4"/><circle cx="515.4" cy="1851.1" r="3.2" fill="#7f8f35" fill-opacity="0.3"/><line x1="530.1" y1="1876.3" x2="530.1" y2="1911.3" stroke="#7f8f35" stroke-opacity="0.34" stroke-width="1.4"/><circle cx="530.1" cy="1893.8" r="3.2" fill="#7f8f35" fill-opacity="0.4"/><line x1="510.4" y1="1959.4" x2="510.4" y2="1994.4" stroke="#7f8f35" stroke-opacity="0.26" stroke-width="1.4"/><circle cx="510.4" cy="1976.9" r="3.2" fill="#7f8f35" fill-opacity="0.3"/></g>
<line x1="368.4" y1="1822.7" x2="597.5" y2="1822.7" stroke="#111" stroke-width="1.7"/>
<line x1="369.2" y1="1821.9" x2="369.2" y2="2050.7" stroke="#111" stroke-width="1.7"/>
<line x1="596.1" y1="1821.9" x2="596.1" y2="2050.7" stroke="#111" stroke-width="2.9"/>
<line x1="368.4" y1="2049.1" x2="597.5" y2="2049.1" stroke="#111" stroke-width="3.3"/>
<line x1="393.3" y1="2049.1" x2="393.3" y2="2052.7" stroke="#222" stroke-width="1.5"/>
<text transform="translate(397.6,2070.8) scale(1,1.1)" class="xl">-0.4</text>
<line x1="457.2" y1="2049.1" x2="457.2" y2="2052.7" stroke="#222" stroke-width="1.5"/>
<text transform="translate(461.5,2070.8) scale(1,1.1)" class="xl">-0.2</text>
<line x1="520.9" y1="2049.1" x2="520.9" y2="2052.7" stroke="#222" stroke-width="1.5"/>
<text transform="translate(520.9,2070.8) scale(1,1.1)" class="xl">0.0</text>
<line x1="584.8" y1="2049.1" x2="584.8" y2="2052.7" stroke="#222" stroke-width="1.5"/>
<text transform="translate(589.1,2070.8) scale(1,1.1)" class="xl">0.2</text>
<line x1="365.8" y1="1868.6" x2="369.2" y2="1868.6" stroke="#222" stroke-width="1.5"/>
<text transform="translate(366.8,1874.7) scale(1,1.1)" class="yl">0.2</text>
<line x1="365.8" y1="1922.7" x2="369.2" y2="1922.7" stroke="#222" stroke-width="1.5"/>
<text transform="translate(358.2,1928.8) scale(1,1.1)" class="yl">0.0</text>
<line x1="365.8" y1="1978.7" x2="369.2" y2="1978.7" stroke="#222" stroke-width="1.5"/>
<text transform="translate(366.8,1984.8) scale(1,1.1)" class="yl">-0.2</text>
<line x1="365.8" y1="2034.5" x2="369.2" y2="2034.5" stroke="#222" stroke-width="1.5"/>
<text transform="translate(366.8,2040.6) scale(1,1.1)" class="yl">-0.4</text>
<text x="768.5" y="1810.1" class="pt" clip-path="url(#t25)">Glycolysis related metabolites</text>
<g clip-path="url(#c25)"><line x1="748.4" y1="1823.7" x2="748.4" y2="2049.6" class="dz"/><line x1="656.8" y1="1919.4" x2="882.9" y2="1919.4" class="dz"/><path d="M734.4 1895.4v10.0M760.5 1907.2v10.2M732.1 1947.1v9.2M751.5 1884.8v27.7M751.6 1891.5v28.7M762.4 1878.5v26.0M734.0 1920.2v29.9M732.5 1907.5v13.4M763.8 1930.6v6.1M767.1 1920.0v26.5M774.7 1899.2v22.7M765.7 1902.5v10.1M754.7 1895.9v13.4M726.3 1885.2v29.8M761.5 1930.5v27.9M724.2 1942.4v14.6M769.6 1917.8v27.2M763.5 1923.6v10.3M742.7 1882.6v30.1M718.7 1913.7v21.3M739.5 1886.5v9.8M715.2 1931.1v20.2M752.9 1896.1v29.4M757.9 1926.6v6.7M740.4 1910.0v28.2M722.4 1904.8v30.0" stroke="#3f8f48" stroke-opacity="0.2" stroke-width="1.2" fill="none"/><path d="M734.4 1900.4h0M760.5 1912.3h0M732.1 1951.7h0M751.5 1898.7h0M751.6 1905.8h0M762.4 1891.5h0M734.0 1935.1h0M732.5 1914.2h0M763.8 1933.7h0M767.1 1933.3h0M774.7 1910.6h0M765.7 1907.5h0M754.7 1902.6h0M726.3 1900.1h0M761.5 1944.5h0M724.2 1949.7h0M769.6 1931.3h0M763.5 1928.8h0M742.7 1897.6h0M718.7 1924.3h0M739.5 1891.4h0M715.2 1941.2h0M752.9 1910.8h0M757.9 1929.9h0M740.4 1924.2h0M722.4 1919.8h0" stroke="#3f8f48" stroke-opacity="0.2" stroke-width="6" stroke-linecap="round" fill="none"/><line x1="655.8" y1="1966.7" x2="882.9" y2="1851.1" stroke="#222" stroke-width="1.1"/><polygon points="729.1,1922.2 731.3,1906.9 734.6,1898.2 738.9,1900.4 741.8,1911.3 741.1,1933.2 737.9,1944.1 733.5,1946.3 730.2,1937.5" fill="#3f8f48" fill-opacity="0.9" filter="url(#bl1)"/><polygon points="755.4,1924.4 756.5,1909.1 760.8,1902.5 766.3,1904.7 768.5,1913.5 766.3,1924.4 761.9,1931.0 757.5,1931.0" fill="#3f8f48" fill-opacity="0.9" filter="url(#bl1)"/><polygon points="709.4,1935.4 716.0,1928.8 722.5,1920.0 729.1,1922.2 726.9,1933.2 720.4,1941.9 713.8,1941.9" fill="#3f8f48" fill-opacity="0.7" filter="url(#bl1)"/><path d="M734.5 1892.5v26.9M730.9 1895.9v38.8M738.4 1886.1v28.3M733.7 1894.6v34.0M756.8 1891.1v36.7M759.8 1911.4v22.8M723.5 1913.4v35.5M724.8 1910.8v31.8" stroke="#3f8f48" stroke-opacity="0.16" stroke-width="1.3" fill="none"/><path d="M734.4 1925.5v8.6M736.0 1916.0v17.1M730.3 1919.5v16.1M730.2 1918.4v17.0M736.7 1920.7v15.2M738.2 1909.7v7.9M735.0 1924.9v10.7M738.2 1927.5v5.4M739.4 1906.6v14.4M738.0 1908.8v11.2M741.3 1908.8v9.6M732.0 1935.1v4.0M734.9 1918.2v6.1M739.0 1923.4v17.6M736.0 1897.2v17.4M737.7 1908.2v11.7M737.5 1899.6v12.4M733.9 1912.9v17.8M766.7 1913.5v16.8M760.2 1909.4v8.8M759.5 1909.0v8.3M766.0 1897.7v14.3M756.5 1912.3v9.0M765.2 1905.8v7.5M758.3 1908.1v8.5M764.4 1909.6v14.8M760.7 1902.2v6.7M763.9 1897.6v14.1M762.9 1901.6v12.5M722.5 1925.3v4.5M721.8 1915.0v16.3M724.9 1930.8v5.7M726.1 1923.3v5.3M715.3 1930.3v6.9M714.9 1933.5v6.4M716.2 1922.4v13.6M716.5 1934.3v5.2M721.7 1932.6v7.4" stroke="#3f8f48" stroke-opacity="0.35" stroke-width="1.4" fill="none"/><line x1="667.0" y1="1986.8" x2="667.0" y2="2034.9" stroke="#3f8f48" stroke-opacity="0.85" stroke-width="1.4"/><circle cx="667.0" cy="2010.9" r="3.2" fill="#3f8f48" fill-opacity="1"/><line x1="684.9" y1="1897.5" x2="684.9" y2="1926.0" stroke="#3f8f48" stroke-opacity="0.85" stroke-width="1.4"/><circle cx="684.9" cy="1911.7" r="3.2" fill="#3f8f48" fill-opacity="1"/><line x1="689.1" y1="1924.4" x2="689.1" y2="1937.5" stroke="#3f8f48" stroke-opacity="0.85" stroke-width="1.4"/><circle cx="689.1" cy="1931.0" r="3.2" fill="#3f8f48" fill-opacity="1"/><line x1="690.2" y1="1858.8" x2="690.2" y2="1937.5" stroke="#3f8f48" stroke-opacity="0.42" stroke-width="1.4"/><circle cx="690.2" cy="1898.2" r="3.2" fill="#3f8f48" fill-opacity="0.5"/><line x1="683.2" y1="1948.5" x2="683.2" y2="1961.6" stroke="#3f8f48" stroke-opacity="0.77" stroke-width="1.4"/><circle cx="683.2" cy="1955.1" r="3.2" fill="#3f8f48" fill-opacity="0.9"/><line x1="703.3" y1="1948.5" x2="703.3" y2="1974.7" stroke="#3f8f48" stroke-opacity="0.42" stroke-width="1.4"/><circle cx="703.3" cy="1961.6" r="3.2" fill="#3f8f48" fill-opacity="0.5"/><line x1="714.2" y1="1959.9" x2="714.2" y2="2038.6" stroke="#3f8f48" stroke-opacity="0.30" stroke-width="1.4"/><circle cx="714.2" cy="1999.3" r="3.2" fill="#3f8f48" fill-opacity="0.35"/><line x1="733.9" y1="1949.6" x2="733.9" y2="2006.5" stroke="#3f8f48" stroke-opacity="0.30" stroke-width="1.4"/><circle cx="733.9" cy="1978.0" r="3.2" fill="#3f8f48" fill-opacity="0.35"/><line x1="769.8" y1="1944.6" x2="769.8" y2="2010.2" stroke="#3f8f48" stroke-opacity="0.30" stroke-width="1.4"/><circle cx="769.8" cy="1977.4" r="3.2" fill="#3f8f48" fill-opacity="0.35"/><line x1="719.9" y1="1937.5" x2="719.9" y2="1950.7" stroke="#3f8f48" stroke-opacity="0.77" stroke-width="1.4"/><circle cx="719.9" cy="1944.1" r="3.2" fill="#3f8f48" fill-opacity="0.9"/><line x1="718.2" y1="1920.0" x2="718.2" y2="1933.2" stroke="#3f8f48" stroke-opacity="0.68" stroke-width="1.4"/><circle cx="718.2" cy="1926.6" r="3.2" fill="#3f8f48" fill-opacity="0.8"/><line x1="870.2" y1="1911.7" x2="870.2" y2="1933.6" stroke="#3f8f48" stroke-opacity="0.85" stroke-width="1.4"/><circle cx="870.2" cy="1922.7" r="3.2" fill="#3f8f48" fill-opacity="1"/><line x1="817.7" y1="1858.1" x2="817.7" y2="1899.7" stroke="#3f8f48" stroke-opacity="0.85" stroke-width="1.4"/><circle cx="817.7" cy="1878.9" r="3.2" fill="#3f8f48" fill-opacity="1"/><line x1="812.9" y1="1889.0" x2="812.9" y2="1899.9" stroke="#3f8f48" stroke-opacity="0.85" stroke-width="1.4"/><circle cx="812.9" cy="1894.4" r="3.2" fill="#3f8f48" fill-opacity="1"/><line x1="796.5" y1="1885.5" x2="796.5" y2="1898.6" stroke="#3f8f48" stroke-opacity="0.68" stroke-width="1.4"/><circle cx="796.5" cy="1892.0" r="3.2" fill="#3f8f48" fill-opacity="0.8"/><line x1="792.1" y1="1891.6" x2="792.1" y2="1904.7" stroke="#3f8f48" stroke-opacity="0.68" stroke-width="1.4"/><circle cx="792.1" cy="1898.2" r="3.2" fill="#3f8f48" fill-opacity="0.8"/><line x1="788.2" y1="1896.4" x2="788.2" y2="1922.7" stroke="#3f8f48" stroke-opacity="0.59" stroke-width="1.4"/><circle cx="788.2" cy="1909.5" r="3.2" fill="#3f8f48" fill-opacity="0.7"/><line x1="787.1" y1="1848.3" x2="787.1" y2="1892.0" stroke="#3f8f48" stroke-opacity="0.26" stroke-width="1.4"/><circle cx="787.1" cy="1870.2" r="3.2" fill="#3f8f48" fill-opacity="0.3"/><line x1="772.9" y1="1848.9" x2="772.9" y2="1892.7" stroke="#3f8f48" stroke-opacity="0.30" stroke-width="1.4"/><circle cx="772.9" cy="1870.8" r="3.2" fill="#3f8f48" fill-opacity="0.35"/><line x1="779.4" y1="1905.8" x2="779.4" y2="1918.9" stroke="#3f8f48" stroke-opacity="0.68" stroke-width="1.4"/><circle cx="779.4" cy="1912.4" r="3.2" fill="#3f8f48" fill-opacity="0.8"/><line x1="775.1" y1="1909.1" x2="775.1" y2="1922.2" stroke="#3f8f48" stroke-opacity="0.59" stroke-width="1.4"/><circle cx="775.1" cy="1915.7" r="3.2" fill="#3f8f48" fill-opacity="0.7"/><line x1="760.8" y1="1934.3" x2="760.8" y2="1951.8" stroke="#3f8f48" stroke-opacity="0.34" stroke-width="1.4"/><circle cx="760.8" cy="1943.0" r="3.2" fill="#3f8f48" fill-opacity="0.4"/></g>
<line x1="655.0" y1="1822.7" x2="884.3" y2="1822.7" stroke="#111" stroke-width="1.7"/>
<line x1="655.8" y1="1821.9" x2="655.8" y2="2051.2" stroke="#111" stroke-width="1.7"/>
<line x1="882.9" y1="1821.9" x2="882.9" y2="2051.2" stroke="#111" stroke-width="2.9"/>
<line x1="655.0" y1="2049.6" x2="884.3" y2="2049.6" stroke="#111" stroke-width="3.3"/>
<line x1="682.1" y1="2049.6" x2="682.1" y2="2053.2" stroke="#222" stroke-width="1.5"/>
<text transform="translate(686.4,2071.3) scale(1,1.1)" class="xl">-0.1</text>
<line x1="748.4" y1="2049.6" x2="748.4" y2="2053.2" stroke="#222" stroke-width="1.5"/>
<text transform="translate(748.4,2071.3) scale(1,1.1)" class="xl">0.0</text>
<line x1="814.4" y1="2049.6" x2="814.4" y2="2053.2" stroke="#222" stroke-width="1.5"/>
<text transform="translate(818.7,2071.3) scale(1,1.1)" class="xl">0.1</text>
<line x1="880.7" y1="2049.6" x2="880.7" y2="2053.2" stroke="#222" stroke-width="1.5"/>
<text transform="translate(885.0,2071.3) scale(1,1.1)" class="xl">0.2</text>
<line x1="652.4" y1="1852.9" x2="655.8" y2="1852.9" stroke="#222" stroke-width="1.5"/>
<text transform="translate(653.4,1859.0) scale(1,1.1)" class="yl">0.2</text>
<line x1="652.4" y1="1919.4" x2="655.8" y2="1919.4" stroke="#222" stroke-width="1.5"/>
<text transform="translate(644.8,1925.5) scale(1,1.1)" class="yl">0.0</text>
<line x1="652.4" y1="1989.0" x2="655.8" y2="1989.0" stroke="#222" stroke-width="1.5"/>
<text transform="translate(653.4,1995.1) scale(1,1.1)" class="yl">-0.2</text>
<text x="1040.7" y="1810.1" class="pt" clip-path="url(#t26)">Inflammation</text>
<g clip-path="url(#c26)"><line x1="1023.2" y1="1823.7" x2="1023.2" y2="2049.6" class="dz"/><line x1="929.4" y1="1934.9" x2="1155.1" y2="1934.9" class="dz"/><path d="M1014.6 1904.8v19.7M1025.3 1920.1v12.8M1033.6 1912.2v13.6M1023.2 1919.8v30.8M998.2 1939.7v6.9M1009.3 1959.0v11.9M1032.9 1938.8v23.4M993.2 1942.1v8.7M1042.2 1926.3v7.4M1042.6 1896.9v21.0M1018.9 1896.2v20.8M1014.0 1905.1v7.5M1017.0 1909.3v12.7M1014.6 1919.8v24.4M997.2 1925.9v11.0M1009.8 1944.6v14.7M1008.2 1894.8v11.9M1025.1 1923.1v8.6M1026.0 1946.7v18.8M1001.5 1924.4v8.2M997.6 1940.4v16.6M994.9 1949.5v12.3" stroke="#4a8a6e" stroke-opacity="0.2" stroke-width="1.2" fill="none"/><path d="M1014.6 1914.6h0M1025.3 1926.5h0M1033.6 1919.0h0M1023.2 1935.1h0M998.2 1943.2h0M1009.3 1965.0h0M1032.9 1950.5h0M993.2 1946.4h0M1042.2 1930.0h0M1042.6 1907.4h0M1018.9 1906.6h0M1014.0 1908.9h0M1017.0 1915.6h0M1014.6 1932.0h0M997.2 1931.4h0M1009.8 1952.0h0M1008.2 1900.7h0M1025.1 1927.3h0M1026.0 1956.0h0M1001.5 1928.5h0M997.6 1948.7h0M994.9 1955.7h0" stroke="#4a8a6e" stroke-opacity="0.2" stroke-width="6" stroke-linecap="round" fill="none"/><line x1="928.4" y1="1994.9" x2="1155.1" y2="1852.2" stroke="#222" stroke-width="1.1"/><polygon points="1002.4,1937.5 1003.5,1924.4 1006.8,1920.0 1011.1,1922.2 1014.4,1933.2 1013.3,1950.7 1008.9,1955.1 1004.6,1950.7" fill="#4a8a6e" fill-opacity="0.85" filter="url(#bl1)"/><polygon points="1030.8,1933.2 1031.9,1920.0 1035.2,1913.5 1039.6,1915.7 1042.9,1926.6 1040.7,1941.9 1036.3,1948.5 1033.0,1946.3" fill="#4a8a6e" fill-opacity="0.85" filter="url(#bl1)"/><path d="M1011.6 1908.8v37.3M1012.6 1921.2v40.9M1008.0 1940.2v16.2M1034.4 1898.0v41.9M1036.1 1901.4v36.6" stroke="#4a8a6e" stroke-opacity="0.16" stroke-width="1.3" fill="none"/><path d="M1006.8 1944.3v14.9M1007.8 1928.2v17.1M1011.3 1942.2v13.1M1006.7 1936.9v9.5M1006.7 1929.7v6.3M1008.4 1926.0v15.4M1009.5 1920.8v12.5M1007.2 1919.1v13.2M1005.3 1942.0v17.5M1013.9 1930.8v15.7M1008.0 1924.5v5.2M1007.4 1933.4v6.1M1038.3 1923.2v6.3M1037.3 1936.2v5.5M1038.8 1915.8v17.9M1034.5 1908.4v17.3M1035.2 1918.5v6.6M1035.3 1936.2v12.6M1038.2 1917.0v17.9M1042.4 1921.9v9.0M1031.1 1926.1v11.2M1034.0 1917.0v16.9M1036.0 1924.8v6.2" stroke="#4a8a6e" stroke-opacity="0.35" stroke-width="1.4" fill="none"/><line x1="939.6" y1="1939.3" x2="939.6" y2="1956.8" stroke="#4a8a6e" stroke-opacity="0.85" stroke-width="1.4"/><circle cx="939.6" cy="1948.1" r="3.2" fill="#4a8a6e" fill-opacity="1"/><line x1="948.8" y1="1944.1" x2="948.8" y2="1979.1" stroke="#4a8a6e" stroke-opacity="0.81" stroke-width="1.4"/><circle cx="948.8" cy="1961.6" r="3.2" fill="#4a8a6e" fill-opacity="0.95"/><line x1="951.0" y1="1968.2" x2="951.0" y2="1985.7" stroke="#4a8a6e" stroke-opacity="0.85" stroke-width="1.4"/><circle cx="951.0" cy="1976.9" r="3.2" fill="#4a8a6e" fill-opacity="1"/><line x1="950.3" y1="1969.3" x2="950.3" y2="1986.8" stroke="#4a8a6e" stroke-opacity="0.68" stroke-width="1.4"/><circle cx="950.3" cy="1978.0" r="3.2" fill="#4a8a6e" fill-opacity="0.8"/><line x1="959.1" y1="1926.6" x2="959.1" y2="1957.2" stroke="#4a8a6e" stroke-opacity="0.77" stroke-width="1.4"/><circle cx="959.1" cy="1941.9" r="3.2" fill="#4a8a6e" fill-opacity="0.9"/><line x1="976.6" y1="1928.4" x2="976.6" y2="1945.9" stroke="#4a8a6e" stroke-opacity="0.77" stroke-width="1.4"/><circle cx="976.6" cy="1937.1" r="3.2" fill="#4a8a6e" fill-opacity="0.9"/><line x1="972.8" y1="1941.3" x2="972.8" y2="2037.5" stroke="#4a8a6e" stroke-opacity="0.42" stroke-width="1.4"/><circle cx="972.8" cy="1989.4" r="3.2" fill="#4a8a6e" fill-opacity="0.5"/><line x1="980.9" y1="1935.4" x2="980.9" y2="1979.1" stroke="#4a8a6e" stroke-opacity="0.42" stroke-width="1.4"/><circle cx="980.9" cy="1957.2" r="3.2" fill="#4a8a6e" fill-opacity="0.5"/><line x1="995.2" y1="1922.2" x2="995.2" y2="1935.4" stroke="#4a8a6e" stroke-opacity="0.59" stroke-width="1.4"/><circle cx="995.2" cy="1928.8" r="3.2" fill="#4a8a6e" fill-opacity="0.7"/><line x1="996.9" y1="1922.2" x2="996.9" y2="1979.1" stroke="#4a8a6e" stroke-opacity="0.34" stroke-width="1.4"/><circle cx="996.9" cy="1950.7" r="3.2" fill="#4a8a6e" fill-opacity="0.4"/><line x1="1006.3" y1="1850.0" x2="1006.3" y2="1902.5" stroke="#4a8a6e" stroke-opacity="0.26" stroke-width="1.4"/><circle cx="1006.3" cy="1876.3" r="3.2" fill="#4a8a6e" fill-opacity="0.3"/><line x1="1011.1" y1="1887.2" x2="1011.1" y2="1913.5" stroke="#4a8a6e" stroke-opacity="0.34" stroke-width="1.4"/><circle cx="1011.1" cy="1900.4" r="3.2" fill="#4a8a6e" fill-opacity="0.4"/><line x1="1006.8" y1="1946.3" x2="1006.8" y2="1998.8" stroke="#4a8a6e" stroke-opacity="0.34" stroke-width="1.4"/><circle cx="1006.8" cy="1972.6" r="3.2" fill="#4a8a6e" fill-opacity="0.4"/><line x1="1115.1" y1="1891.6" x2="1115.1" y2="1920.0" stroke="#4a8a6e" stroke-opacity="0.81" stroke-width="1.4"/><circle cx="1115.1" cy="1905.8" r="3.2" fill="#4a8a6e" fill-opacity="0.95"/><line x1="1142.4" y1="2013.7" x2="1142.4" y2="2033.4" stroke="#4a8a6e" stroke-opacity="0.85" stroke-width="1.4"/><circle cx="1142.4" cy="2023.5" r="3.2" fill="#4a8a6e" fill-opacity="1"/><line x1="1068.5" y1="1891.6" x2="1068.5" y2="1904.7" stroke="#4a8a6e" stroke-opacity="0.68" stroke-width="1.4"/><circle cx="1068.5" cy="1898.2" r="3.2" fill="#4a8a6e" fill-opacity="0.8"/><line x1="1061.5" y1="1893.1" x2="1061.5" y2="1910.6" stroke="#4a8a6e" stroke-opacity="0.51" stroke-width="1.4"/><circle cx="1061.5" cy="1901.9" r="3.2" fill="#4a8a6e" fill-opacity="0.6"/><line x1="1061.0" y1="1907.4" x2="1061.0" y2="1924.9" stroke="#4a8a6e" stroke-opacity="0.59" stroke-width="1.4"/><circle cx="1061.0" cy="1916.1" r="3.2" fill="#4a8a6e" fill-opacity="0.7"/><line x1="1061.0" y1="1920.5" x2="1061.0" y2="1933.6" stroke="#4a8a6e" stroke-opacity="0.77" stroke-width="1.4"/><circle cx="1061.0" cy="1927.0" r="3.2" fill="#4a8a6e" fill-opacity="0.9"/><line x1="1051.6" y1="1916.8" x2="1051.6" y2="1929.9" stroke="#4a8a6e" stroke-opacity="0.68" stroke-width="1.4"/><circle cx="1051.6" cy="1923.3" r="3.2" fill="#4a8a6e" fill-opacity="0.8"/><line x1="1073.9" y1="1929.2" x2="1073.9" y2="1942.4" stroke="#4a8a6e" stroke-opacity="0.59" stroke-width="1.4"/><circle cx="1073.9" cy="1935.8" r="3.2" fill="#4a8a6e" fill-opacity="0.7"/><line x1="1051.2" y1="1833.2" x2="1051.2" y2="1903.2" stroke="#4a8a6e" stroke-opacity="0.26" stroke-width="1.4"/><circle cx="1051.2" cy="1868.2" r="3.2" fill="#4a8a6e" fill-opacity="0.3"/><line x1="1041.8" y1="1936.5" x2="1041.8" y2="1971.5" stroke="#4a8a6e" stroke-opacity="0.34" stroke-width="1.4"/><circle cx="1041.8" cy="1954.0" r="3.2" fill="#4a8a6e" fill-opacity="0.4"/><line x1="1035.6" y1="1941.9" x2="1035.6" y2="1976.9" stroke="#4a8a6e" stroke-opacity="0.26" stroke-width="1.4"/><circle cx="1035.6" cy="1959.4" r="3.2" fill="#4a8a6e" fill-opacity="0.3"/></g>
<line x1="927.6" y1="1822.7" x2="1156.5" y2="1822.7" stroke="#111" stroke-width="1.7"/>
<line x1="928.4" y1="1821.9" x2="928.4" y2="2051.2" stroke="#111" stroke-width="1.7"/>
<line x1="1155.1" y1="1821.9" x2="1155.1" y2="2051.2" stroke="#111" stroke-width="2.9"/>
<line x1="927.6" y1="2049.6" x2="1156.5" y2="2049.6" stroke="#111" stroke-width="3.3"/>
<line x1="950.5" y1="2049.6" x2="950.5" y2="2053.2" stroke="#222" stroke-width="1.5"/>
<text transform="translate(954.8,2071.3) scale(1,1.1)" class="xl">-0.1</text>
<line x1="1023.2" y1="2049.6" x2="1023.2" y2="2053.2" stroke="#222" stroke-width="1.5"/>
<text transform="translate(1023.2,2071.3) scale(1,1.1)" class="xl">0.0</text>
<line x1="1096.0" y1="2049.6" x2="1096.0" y2="2053.2" stroke="#222" stroke-width="1.5"/>
<text transform="translate(1100.3,2071.3) scale(1,1.1)" class="xl">0.1</text>
<line x1="925.0" y1="1843.5" x2="928.4" y2="1843.5" stroke="#222" stroke-width="1.5"/>
<text transform="translate(926.0,1849.6) scale(1,1.1)" class="yl">0.2</text>
<line x1="925.0" y1="1889.4" x2="928.4" y2="1889.4" stroke="#222" stroke-width="1.5"/>
<text transform="translate(926.0,1895.5) scale(1,1.1)" class="yl">0.1</text>
<line x1="925.0" y1="1934.9" x2="928.4" y2="1934.9" stroke="#222" stroke-width="1.5"/>
<text transform="translate(917.4,1941.0) scale(1,1.1)" class="yl">0.0</text>
<line x1="925.0" y1="1982.4" x2="928.4" y2="1982.4" stroke="#222" stroke-width="1.5"/>
<text transform="translate(926.0,1988.5) scale(1,1.1)" class="yl">-0.1</text>
<line x1="925.0" y1="2027.9" x2="928.4" y2="2027.9" stroke="#222" stroke-width="1.5"/>
<text transform="translate(926.0,2034.0) scale(1,1.1)" class="yl">-0.2</text>
<text x="1313.2" y="1810.1" class="pt" clip-path="url(#t27)">Ketone bodies</text>
<g clip-path="url(#c27)"><line x1="1346.9" y1="1823.7" x2="1346.9" y2="2049.6" class="dz"/><line x1="1202.0" y1="1947.0" x2="1427.5" y2="1947.0" class="dz"/><line x1="1201.0" y1="2025.1" x2="1428.1" y2="1903.6" stroke="#222" stroke-width="1.1"/><polygon points="1324.6,1920.0 1327.9,1911.3 1331.2,1915.7 1332.3,1933.2 1331.2,1955.1 1329.0,1968.2 1325.7,1961.6 1324.2,1937.5" fill="#6f8aa3" fill-opacity="0.6" filter="url(#bl1)"/><polygon points="1360.7,1937.5 1364.0,1931.0 1370.6,1933.2 1374.9,1941.9 1377.1,1952.9 1372.8,1957.2 1366.2,1955.1 1361.8,1948.5" fill="#6f8aa3" fill-opacity="0.55" filter="url(#bl1)"/><path d="M1330.6 1917.1v31.3M1331.3 1932.4v29.3M1324.9 1921.1v34.5M1368.9 1941.3v26.3M1374.9 1928.9v26.0" stroke="#6f8aa3" stroke-opacity="0.16" stroke-width="1.3" fill="none"/><path d="M1328.6 1956.4v12.0M1330.9 1936.9v4.6M1329.8 1953.8v14.3M1328.5 1907.8v11.3M1328.8 1936.2v15.9M1330.6 1945.8v6.2M1327.1 1918.2v17.5M1328.1 1905.9v17.6M1329.0 1951.7v11.6M1324.8 1938.1v6.2M1328.9 1923.5v10.4M1327.8 1927.4v10.3M1328.1 1925.5v17.8M1361.2 1938.8v6.3M1368.6 1929.3v10.3M1371.5 1932.5v10.8M1366.3 1935.5v15.7M1367.8 1943.2v7.2M1369.1 1940.4v10.1M1367.4 1927.1v15.4M1373.5 1944.3v11.8M1366.6 1934.3v4.3M1373.5 1941.2v11.3M1369.2 1938.8v17.0" stroke="#6f8aa3" stroke-opacity="0.35" stroke-width="1.4" fill="none"/><line x1="1218.5" y1="1933.2" x2="1218.5" y2="1959.4" stroke="#6f8aa3" stroke-opacity="0.42" stroke-width="1.4"/><circle cx="1218.5" cy="1946.3" r="3.2" fill="#6f8aa3" fill-opacity="0.5"/><line x1="1278.7" y1="1931.6" x2="1278.7" y2="1949.1" stroke="#6f8aa3" stroke-opacity="0.72" stroke-width="1.4"/><circle cx="1278.7" cy="1940.4" r="3.2" fill="#6f8aa3" fill-opacity="0.85"/><line x1="1272.1" y1="1954.0" x2="1272.1" y2="1975.8" stroke="#6f8aa3" stroke-opacity="0.72" stroke-width="1.4"/><circle cx="1272.1" cy="1964.9" r="3.2" fill="#6f8aa3" fill-opacity="0.85"/><line x1="1288.5" y1="1959.0" x2="1288.5" y2="1980.9" stroke="#6f8aa3" stroke-opacity="0.72" stroke-width="1.4"/><circle cx="1288.5" cy="1969.9" r="3.2" fill="#6f8aa3" fill-opacity="0.85"/><line x1="1295.1" y1="1947.4" x2="1295.1" y2="1964.9" stroke="#6f8aa3" stroke-opacity="0.59" stroke-width="1.4"/><circle cx="1295.1" cy="1956.1" r="3.2" fill="#6f8aa3" fill-opacity="0.7"/><line x1="1301.0" y1="1943.0" x2="1301.0" y2="1960.5" stroke="#6f8aa3" stroke-opacity="0.59" stroke-width="1.4"/><circle cx="1301.0" cy="1951.8" r="3.2" fill="#6f8aa3" fill-opacity="0.7"/><line x1="1301.0" y1="1962.1" x2="1301.0" y2="1997.1" stroke="#6f8aa3" stroke-opacity="0.34" stroke-width="1.4"/><circle cx="1301.0" cy="1979.6" r="3.2" fill="#6f8aa3" fill-opacity="0.4"/><line x1="1317.0" y1="1975.8" x2="1317.0" y2="2002.1" stroke="#6f8aa3" stroke-opacity="0.68" stroke-width="1.4"/><circle cx="1317.0" cy="1989.0" r="3.2" fill="#6f8aa3" fill-opacity="0.8"/><line x1="1322.0" y1="1973.7" x2="1322.0" y2="2026.2" stroke="#6f8aa3" stroke-opacity="0.34" stroke-width="1.4"/><circle cx="1322.0" cy="1999.9" r="3.2" fill="#6f8aa3" fill-opacity="0.4"/><line x1="1312.6" y1="1928.8" x2="1312.6" y2="1955.1" stroke="#6f8aa3" stroke-opacity="0.59" stroke-width="1.4"/><circle cx="1312.6" cy="1941.9" r="3.2" fill="#6f8aa3" fill-opacity="0.7"/><line x1="1315.9" y1="1928.8" x2="1315.9" y2="1955.1" stroke="#6f8aa3" stroke-opacity="0.59" stroke-width="1.4"/><circle cx="1315.9" cy="1941.9" r="3.2" fill="#6f8aa3" fill-opacity="0.7"/><line x1="1315.9" y1="1941.9" x2="1315.9" y2="1968.2" stroke="#6f8aa3" stroke-opacity="0.51" stroke-width="1.4"/><circle cx="1315.9" cy="1955.1" r="3.2" fill="#6f8aa3" fill-opacity="0.6"/><line x1="1319.8" y1="1896.0" x2="1319.8" y2="1931.0" stroke="#6f8aa3" stroke-opacity="0.42" stroke-width="1.4"/><circle cx="1319.8" cy="1913.5" r="3.2" fill="#6f8aa3" fill-opacity="0.5"/><line x1="1325.1" y1="1889.8" x2="1325.1" y2="1924.9" stroke="#6f8aa3" stroke-opacity="0.42" stroke-width="1.4"/><circle cx="1325.1" cy="1907.4" r="3.2" fill="#6f8aa3" fill-opacity="0.5"/><line x1="1327.5" y1="1832.5" x2="1327.5" y2="1911.3" stroke="#6f8aa3" stroke-opacity="0.26" stroke-width="1.4"/><circle cx="1327.5" cy="1871.9" r="3.2" fill="#6f8aa3" fill-opacity="0.3"/><line x1="1267.1" y1="1975.2" x2="1267.1" y2="2038.6" stroke="#6f8aa3" stroke-opacity="0.68" stroke-width="1.4"/><circle cx="1267.1" cy="2006.9" r="3.2" fill="#6f8aa3" fill-opacity="0.8"/><line x1="1376.5" y1="1862.5" x2="1376.5" y2="1923.8" stroke="#6f8aa3" stroke-opacity="0.59" stroke-width="1.4"/><circle cx="1376.5" cy="1893.1" r="3.2" fill="#6f8aa3" fill-opacity="0.7"/><line x1="1378.2" y1="1915.7" x2="1378.2" y2="1933.2" stroke="#6f8aa3" stroke-opacity="0.51" stroke-width="1.4"/><circle cx="1378.2" cy="1924.4" r="3.2" fill="#6f8aa3" fill-opacity="0.6"/><line x1="1389.2" y1="1923.8" x2="1389.2" y2="1941.3" stroke="#6f8aa3" stroke-opacity="0.68" stroke-width="1.4"/><circle cx="1389.2" cy="1932.5" r="3.2" fill="#6f8aa3" fill-opacity="0.8"/><line x1="1390.3" y1="1934.9" x2="1390.3" y2="1952.4" stroke="#6f8aa3" stroke-opacity="0.51" stroke-width="1.4"/><circle cx="1390.3" cy="1943.7" r="3.2" fill="#6f8aa3" fill-opacity="0.6"/><line x1="1394.2" y1="1930.3" x2="1394.2" y2="1947.8" stroke="#6f8aa3" stroke-opacity="0.42" stroke-width="1.4"/><circle cx="1394.2" cy="1939.1" r="3.2" fill="#6f8aa3" fill-opacity="0.5"/><line x1="1408.9" y1="1886.1" x2="1408.9" y2="1912.4" stroke="#6f8aa3" stroke-opacity="0.68" stroke-width="1.4"/><circle cx="1408.9" cy="1899.3" r="3.2" fill="#6f8aa3" fill-opacity="0.8"/><line x1="1408.9" y1="1906.9" x2="1408.9" y2="1933.2" stroke="#6f8aa3" stroke-opacity="0.68" stroke-width="1.4"/><circle cx="1408.9" cy="1920.0" r="3.2" fill="#6f8aa3" fill-opacity="0.8"/><line x1="1413.2" y1="1904.3" x2="1413.2" y2="1921.8" stroke="#6f8aa3" stroke-opacity="0.51" stroke-width="1.4"/><circle cx="1413.2" cy="1913.0" r="3.2" fill="#6f8aa3" fill-opacity="0.6"/><line x1="1379.3" y1="1946.3" x2="1379.3" y2="1963.8" stroke="#6f8aa3" stroke-opacity="0.42" stroke-width="1.4"/><circle cx="1379.3" cy="1955.1" r="3.2" fill="#6f8aa3" fill-opacity="0.5"/><line x1="1381.5" y1="1946.3" x2="1381.5" y2="1990.1" stroke="#6f8aa3" stroke-opacity="0.26" stroke-width="1.4"/><circle cx="1381.5" cy="1968.2" r="3.2" fill="#6f8aa3" fill-opacity="0.3"/></g>
<line x1="1200.2" y1="1822.7" x2="1428.9" y2="1822.7" stroke="#111" stroke-width="1.7"/>
<line x1="1201.0" y1="1821.9" x2="1201.0" y2="2051.2" stroke="#111" stroke-width="1.7"/>
<line x1="1427.5" y1="1821.9" x2="1427.5" y2="2051.2" stroke="#111" stroke-width="2.9"/>
<line x1="1200.2" y1="2049.6" x2="1428.9" y2="2049.6" stroke="#111" stroke-width="3.3"/>
<line x1="1234.5" y1="2049.6" x2="1234.5" y2="2053.2" stroke="#222" stroke-width="1.5"/>
<text transform="translate(1234.5,2071.3) scale(1,1.1)" class="xl">-0.10</text>
<line x1="1290.7" y1="2049.6" x2="1290.7" y2="2053.2" stroke="#222" stroke-width="1.5"/>
<text transform="translate(1295.0,2071.3) scale(1,1.1)" class="xl">-0.05</text>
<line x1="1346.9" y1="2049.6" x2="1346.9" y2="2053.2" stroke="#222" stroke-width="1.5"/>
<text transform="translate(1346.9,2071.3) scale(1,1.1)" class="xl">0.00</text>
<line x1="1403.4" y1="2049.6" x2="1403.4" y2="2053.2" stroke="#222" stroke-width="1.5"/>
<text transform="translate(1407.7,2071.3) scale(1,1.1)" class="xl">0.05</text>
<line x1="1197.6" y1="1828.1" x2="1201.0" y2="1828.1" stroke="#222" stroke-width="1.5"/>
<text transform="translate(1198.6,1834.2) scale(1,1.1)" class="yl">0.2</text>
<line x1="1197.6" y1="1887.9" x2="1201.0" y2="1887.9" stroke="#222" stroke-width="1.5"/>
<text transform="translate(1198.6,1894.0) scale(1,1.1)" class="yl">0.1</text>
<line x1="1197.6" y1="1947.0" x2="1201.0" y2="1947.0" stroke="#222" stroke-width="1.5"/>
<text transform="translate(1190.0,1953.1) scale(1,1.1)" class="yl">0.0</text>
<line x1="1197.6" y1="2007.6" x2="1201.0" y2="2007.6" stroke="#222" stroke-width="1.5"/>
<text transform="translate(1198.6,2013.7) scale(1,1.1)" class="yl">-0.1</text>
<text x="208.1" y="2112.0" class="pt" clip-path="url(#t28)">Lipoprotein particle concentrations</text>
<g clip-path="url(#c28)"><line x1="241.8" y1="2125.6" x2="241.8" y2="2351.1" class="dz"/><line x1="98.3" y1="2213.9" x2="324.0" y2="2213.9" class="dz"/><path d="M235.8 2206.2v10.1M245.7 2180.1v25.3M261.5 2213.8v14.1M227.0 2271.7v10.2M244.6 2182.7v13.3M239.6 2248.2v14.1M231.2 2216.6v23.9M235.5 2187.5v14.6M224.5 2214.0v17.0M251.2 2182.4v7.6M224.3 2196.1v6.9M234.8 2170.1v12.4M226.7 2201.3v8.8M251.6 2209.8v13.1M217.1 2219.8v27.9M234.9 2245.8v7.8M216.9 2197.4v14.4M261.6 2196.8v8.0M216.9 2260.4v28.9M256.8 2184.8v12.7M262.4 2204.4v31.5M244.6 2189.0v24.4M257.6 2216.9v31.2M262.0 2186.3v18.5M245.3 2187.9v18.4M241.6 2211.5v10.0M213.1 2213.8v22.8M239.4 2226.0v20.5M235.1 2241.5v13.1" stroke="#6f74b8" stroke-opacity="0.2" stroke-width="1.2" fill="none"/><path d="M235.8 2211.3h0M245.7 2192.7h0M261.5 2220.8h0M227.0 2276.8h0M244.6 2189.4h0M239.6 2255.3h0M231.2 2228.6h0M235.5 2194.8h0M224.5 2222.6h0M251.2 2186.2h0M224.3 2199.5h0M234.8 2176.3h0M226.7 2205.7h0M251.6 2216.3h0M217.1 2233.8h0M234.9 2249.7h0M216.9 2204.6h0M261.6 2200.8h0M216.9 2274.8h0M256.8 2191.1h0M262.4 2220.2h0M244.6 2201.2h0M257.6 2232.5h0M262.0 2195.5h0M245.3 2197.1h0M241.6 2216.5h0M213.1 2225.2h0M239.4 2236.2h0M235.1 2248.1h0" stroke="#6f74b8" stroke-opacity="0.2" stroke-width="6" stroke-linecap="round" fill="none"/><line x1="97.3" y1="2335.7" x2="324.0" y2="2146.5" stroke="#222" stroke-width="1.1"/><polygon points="223.8,2225.2 226.0,2207.7 229.3,2199.0 234.7,2199.0 238.0,2207.7 238.7,2223.0 235.8,2240.5 232.6,2247.1 228.2,2240.5" fill="#6f74b8" fill-opacity="0.97" filter="url(#bl1)"/><polygon points="245.7,2214.3 246.8,2201.2 250.1,2194.6 256.6,2194.6 259.9,2201.2 261.0,2214.3 257.7,2223.0 252.3,2231.8 247.9,2227.4" fill="#6f74b8" fill-opacity="0.97" filter="url(#bl1)"/><polygon points="210.7,2234.0 215.1,2225.2 221.6,2223.0 223.8,2234.0 217.2,2242.7 212.9,2242.7" fill="#6f74b8" fill-opacity="0.85" filter="url(#bl1)"/><path d="M232.1 2223.7v33.7M232.8 2197.9v18.0M236.8 2216.4v20.6M229.2 2218.7v28.0M234.0 2196.0v19.9M252.8 2201.1v22.1M247.2 2192.7v20.5M253.1 2183.6v28.0M246.9 2201.0v26.9M215.3 2218.9v21.4" stroke="#6f74b8" stroke-opacity="0.16" stroke-width="1.3" fill="none"/><path d="M231.1 2211.2v9.3M230.0 2203.2v5.6M235.5 2229.6v10.8M233.3 2221.1v4.9M237.3 2204.5v17.5M226.2 2211.0v7.1M233.3 2218.7v16.6M228.3 2227.3v9.7M233.5 2213.5v13.5M227.0 2209.9v10.3M226.0 2204.7v12.7M232.2 2200.8v6.5M233.7 2215.8v16.8M229.8 2229.5v7.6M229.0 2236.8v5.0M233.0 2197.1v7.4M236.6 2227.7v10.4M234.7 2200.2v12.2M232.4 2238.2v12.7M231.0 2222.0v12.4M253.3 2211.4v16.2M251.5 2206.5v12.1M250.5 2203.1v5.0M249.9 2192.1v15.6M250.9 2219.7v12.2M251.1 2216.9v17.9M258.9 2204.2v12.7M258.0 2212.7v13.1M256.2 2195.8v16.8M258.0 2201.2v5.3M248.4 2207.4v17.9M255.7 2195.9v9.1M252.4 2204.0v9.3M249.5 2211.5v4.6M247.3 2199.1v4.9M247.1 2195.6v12.8M213.3 2224.5v13.7M215.7 2220.1v12.1M222.2 2219.0v16.0M214.1 2224.9v6.8M215.7 2228.6v6.1M212.4 2232.5v7.9" stroke="#6f74b8" stroke-opacity="0.35" stroke-width="1.4" fill="none"/><line x1="107.8" y1="2322.6" x2="107.8" y2="2340.1" stroke="#6f74b8" stroke-opacity="0.85" stroke-width="1.4"/><circle cx="107.8" cy="2331.4" r="3.2" fill="#6f74b8" fill-opacity="1"/><line x1="177.4" y1="2209.3" x2="177.4" y2="2222.4" stroke="#6f74b8" stroke-opacity="0.85" stroke-width="1.4"/><circle cx="177.4" cy="2215.8" r="3.2" fill="#6f74b8" fill-opacity="1"/><line x1="190.5" y1="2221.5" x2="190.5" y2="2243.4" stroke="#6f74b8" stroke-opacity="0.85" stroke-width="1.4"/><circle cx="190.5" cy="2232.5" r="3.2" fill="#6f74b8" fill-opacity="1"/><line x1="205.6" y1="2244.5" x2="205.6" y2="2262.0" stroke="#6f74b8" stroke-opacity="0.85" stroke-width="1.4"/><circle cx="205.6" cy="2253.2" r="3.2" fill="#6f74b8" fill-opacity="1"/><line x1="193.2" y1="2252.6" x2="193.2" y2="2265.7" stroke="#6f74b8" stroke-opacity="0.85" stroke-width="1.4"/><circle cx="193.2" cy="2259.1" r="3.2" fill="#6f74b8" fill-opacity="1"/><line x1="193.2" y1="2257.6" x2="193.2" y2="2270.7" stroke="#6f74b8" stroke-opacity="0.85" stroke-width="1.4"/><circle cx="193.2" cy="2264.2" r="3.2" fill="#6f74b8" fill-opacity="1"/><line x1="215.1" y1="2247.6" x2="215.1" y2="2265.1" stroke="#6f74b8" stroke-opacity="0.77" stroke-width="1.4"/><circle cx="215.1" cy="2256.3" r="3.2" fill="#6f74b8" fill-opacity="0.9"/><line x1="210.7" y1="2205.5" x2="210.7" y2="2223.0" stroke="#6f74b8" stroke-opacity="0.68" stroke-width="1.4"/><circle cx="210.7" cy="2214.3" r="3.2" fill="#6f74b8" fill-opacity="0.8"/><line x1="215.1" y1="2207.7" x2="215.1" y2="2225.2" stroke="#6f74b8" stroke-opacity="0.68" stroke-width="1.4"/><circle cx="215.1" cy="2216.5" r="3.2" fill="#6f74b8" fill-opacity="0.8"/><line x1="204.1" y1="2193.5" x2="204.1" y2="2228.5" stroke="#6f74b8" stroke-opacity="0.42" stroke-width="1.4"/><circle cx="204.1" cy="2211.0" r="3.2" fill="#6f74b8" fill-opacity="0.5"/><line x1="210.7" y1="2230.0" x2="210.7" y2="2247.6" stroke="#6f74b8" stroke-opacity="0.72" stroke-width="1.4"/><circle cx="210.7" cy="2238.8" r="3.2" fill="#6f74b8" fill-opacity="0.85"/><line x1="219.4" y1="2235.7" x2="219.4" y2="2253.2" stroke="#6f74b8" stroke-opacity="0.68" stroke-width="1.4"/><circle cx="219.4" cy="2244.5" r="3.2" fill="#6f74b8" fill-opacity="0.8"/><line x1="226.0" y1="2247.1" x2="226.0" y2="2273.4" stroke="#6f74b8" stroke-opacity="0.51" stroke-width="1.4"/><circle cx="226.0" cy="2260.2" r="3.2" fill="#6f74b8" fill-opacity="0.6"/><line x1="226.7" y1="2136.6" x2="226.7" y2="2180.4" stroke="#6f74b8" stroke-opacity="0.51" stroke-width="1.4"/><circle cx="226.7" cy="2158.5" r="3.2" fill="#6f74b8" fill-opacity="0.6"/><line x1="227.1" y1="2152.6" x2="227.1" y2="2196.3" stroke="#6f74b8" stroke-opacity="0.59" stroke-width="1.4"/><circle cx="227.1" cy="2174.5" r="3.2" fill="#6f74b8" fill-opacity="0.7"/><line x1="232.6" y1="2162.9" x2="232.6" y2="2206.6" stroke="#6f74b8" stroke-opacity="0.42" stroke-width="1.4"/><circle cx="232.6" cy="2184.8" r="3.2" fill="#6f74b8" fill-opacity="0.5"/><line x1="215.7" y1="2260.2" x2="215.7" y2="2339.0" stroke="#6f74b8" stroke-opacity="0.51" stroke-width="1.4"/><circle cx="215.7" cy="2299.6" r="3.2" fill="#6f74b8" fill-opacity="0.6"/><line x1="217.2" y1="2266.8" x2="217.2" y2="2323.7" stroke="#6f74b8" stroke-opacity="0.34" stroke-width="1.4"/><circle cx="217.2" cy="2295.3" r="3.2" fill="#6f74b8" fill-opacity="0.4"/><line x1="223.8" y1="2272.3" x2="223.8" y2="2316.0" stroke="#6f74b8" stroke-opacity="0.34" stroke-width="1.4"/><circle cx="223.8" cy="2294.2" r="3.2" fill="#6f74b8" fill-opacity="0.4"/><line x1="228.2" y1="2260.2" x2="228.2" y2="2304.0" stroke="#6f74b8" stroke-opacity="0.26" stroke-width="1.4"/><circle cx="228.2" cy="2282.1" r="3.2" fill="#6f74b8" fill-opacity="0.3"/><line x1="312.0" y1="2153.7" x2="312.0" y2="2164.6" stroke="#6f74b8" stroke-opacity="0.85" stroke-width="1.4"/><circle cx="312.0" cy="2159.1" r="3.2" fill="#6f74b8" fill-opacity="1"/><line x1="304.8" y1="2160.2" x2="304.8" y2="2171.2" stroke="#6f74b8" stroke-opacity="0.85" stroke-width="1.4"/><circle cx="304.8" cy="2165.7" r="3.2" fill="#6f74b8" fill-opacity="1"/><line x1="285.5" y1="2172.7" x2="285.5" y2="2183.7" stroke="#6f74b8" stroke-opacity="0.85" stroke-width="1.4"/><circle cx="285.5" cy="2178.2" r="3.2" fill="#6f74b8" fill-opacity="1"/><line x1="278.5" y1="2193.5" x2="278.5" y2="2204.4" stroke="#6f74b8" stroke-opacity="0.85" stroke-width="1.4"/><circle cx="278.5" cy="2199.0" r="3.2" fill="#6f74b8" fill-opacity="1"/><line x1="274.8" y1="2183.7" x2="274.8" y2="2194.6" stroke="#6f74b8" stroke-opacity="0.77" stroke-width="1.4"/><circle cx="274.8" cy="2189.1" r="3.2" fill="#6f74b8" fill-opacity="0.9"/><line x1="274.1" y1="2195.7" x2="274.1" y2="2208.8" stroke="#6f74b8" stroke-opacity="0.68" stroke-width="1.4"/><circle cx="274.1" cy="2202.3" r="3.2" fill="#6f74b8" fill-opacity="0.8"/><line x1="268.7" y1="2209.9" x2="268.7" y2="2227.4" stroke="#6f74b8" stroke-opacity="0.68" stroke-width="1.4"/><circle cx="268.7" cy="2218.7" r="3.2" fill="#6f74b8" fill-opacity="0.8"/><line x1="274.1" y1="2196.3" x2="274.1" y2="2222.6" stroke="#6f74b8" stroke-opacity="0.59" stroke-width="1.4"/><circle cx="274.1" cy="2209.5" r="3.2" fill="#6f74b8" fill-opacity="0.7"/><line x1="250.1" y1="2155.2" x2="250.1" y2="2190.2" stroke="#6f74b8" stroke-opacity="0.26" stroke-width="1.4"/><circle cx="250.1" cy="2172.7" r="3.2" fill="#6f74b8" fill-opacity="0.3"/><line x1="255.5" y1="2149.7" x2="255.5" y2="2202.3" stroke="#6f74b8" stroke-opacity="0.26" stroke-width="1.4"/><circle cx="255.5" cy="2176.0" r="3.2" fill="#6f74b8" fill-opacity="0.3"/><line x1="252.3" y1="2236.2" x2="252.3" y2="2262.4" stroke="#6f74b8" stroke-opacity="0.42" stroke-width="1.4"/><circle cx="252.3" cy="2249.3" r="3.2" fill="#6f74b8" fill-opacity="0.5"/></g>
<line x1="96.5" y1="2124.6" x2="325.4" y2="2124.6" stroke="#111" stroke-width="1.7"/>
<line x1="97.3" y1="2123.8" x2="97.3" y2="2352.7" stroke="#111" stroke-width="1.7"/>
<line x1="324.0" y1="2123.8" x2="324.0" y2="2352.7" stroke="#111" stroke-width="2.9"/>
<line x1="96.5" y1="2351.1" x2="325.4" y2="2351.1" stroke="#111" stroke-width="3.3"/>
<line x1="114.0" y1="2351.1" x2="114.0" y2="2354.7" stroke="#222" stroke-width="1.5"/>
<text transform="translate(114.0,2372.8) scale(1,1.1)" class="xl">-0.3</text>
<line x1="156.6" y1="2351.1" x2="156.6" y2="2354.7" stroke="#222" stroke-width="1.5"/>
<text transform="translate(160.9,2372.8) scale(1,1.1)" class="xl">-0.2</text>
<line x1="199.1" y1="2351.1" x2="199.1" y2="2354.7" stroke="#222" stroke-width="1.5"/>
<text transform="translate(203.4,2372.8) scale(1,1.1)" class="xl">-0.1</text>
<line x1="241.8" y1="2351.1" x2="241.8" y2="2354.7" stroke="#222" stroke-width="1.5"/>
<text transform="translate(241.8,2372.8) scale(1,1.1)" class="xl">0.0</text>
<line x1="284.4" y1="2351.1" x2="284.4" y2="2354.7" stroke="#222" stroke-width="1.5"/>
<text transform="translate(288.7,2372.8) scale(1,1.1)" class="xl">0.1</text>
<line x1="93.9" y1="2142.1" x2="97.3" y2="2142.1" stroke="#222" stroke-width="1.5"/>
<text transform="translate(94.9,2148.2) scale(1,1.1)" class="yl">0.2</text>
<line x1="93.9" y1="2213.9" x2="97.3" y2="2213.9" stroke="#222" stroke-width="1.5"/>
<text transform="translate(86.3,2220.0) scale(1,1.1)" class="yl">0.0</text>
<line x1="93.9" y1="2287.2" x2="97.3" y2="2287.2" stroke="#222" stroke-width="1.5"/>
<text transform="translate(94.9,2293.3) scale(1,1.1)" class="yl">-0.2</text>
<text x="481.9" y="2112.0" class="pt" clip-path="url(#t29)">Lipoprotein particle sizes</text>
<g clip-path="url(#c29)"><line x1="485.2" y1="2125.6" x2="485.2" y2="2351.1" class="dz"/><line x1="370.2" y1="2232.5" x2="596.1" y2="2232.5" class="dz"/><path d="M487.5 2239.7v12.1M482.4 2233.6v31.9M484.6 2247.5v23.1M465.4 2212.1v11.9M466.5 2194.3v29.7M491.4 2220.6v12.6M461.7 2231.8v26.7M487.0 2207.5v17.3M471.8 2245.5v27.9M502.3 2230.3v21.7M503.0 2210.8v11.5M452.3 2231.1v16.6M462.9 2218.0v23.2M488.4 2205.6v23.1M477.0 2239.2v26.3M452.7 2235.2v21.9M458.6 2216.1v15.1M486.0 2210.6v8.2M469.8 2248.0v25.4M463.3 2242.9v20.6M477.7 2201.8v11.4M456.6 2244.1v10.3M466.3 2248.1v16.5M477.7 2201.7v7.1" stroke="#6f88b5" stroke-opacity="0.2" stroke-width="1.2" fill="none"/><path d="M487.5 2245.8h0M482.4 2249.5h0M484.6 2259.1h0M465.4 2218.1h0M466.5 2209.1h0M491.4 2226.9h0M461.7 2245.2h0M487.0 2216.2h0M471.8 2259.5h0M502.3 2241.1h0M503.0 2216.6h0M452.3 2239.4h0M462.9 2229.6h0M488.4 2217.1h0M477.0 2252.3h0M452.7 2246.1h0M458.6 2223.6h0M486.0 2214.7h0M469.8 2260.7h0M463.3 2253.3h0M477.7 2207.6h0M456.6 2249.3h0M466.3 2256.3h0M477.7 2205.2h0" stroke="#6f88b5" stroke-opacity="0.2" stroke-width="6" stroke-linecap="round" fill="none"/><line x1="369.2" y1="2305.5" x2="596.1" y2="2162.9" stroke="#222" stroke-width="1.1"/><polygon points="462.2,2240.5 464.4,2227.4 471.0,2220.9 476.5,2218.7 480.8,2225.2 481.5,2240.5 478.6,2251.5 473.2,2253.7 466.6,2249.3" fill="#6f88b5" fill-opacity="0.97" filter="url(#bl1)"/><polygon points="489.6,2236.2 490.7,2220.9 495.1,2212.1 501.6,2212.1 507.1,2218.7 506.0,2231.8 501.6,2238.4 496.1,2242.7" fill="#6f88b5" fill-opacity="0.97" filter="url(#bl1)"/><path d="M468.6 2218.7v22.1M465.3 2218.9v30.9M470.0 2222.9v17.6M478.5 2234.2v21.0M502.0 2214.5v29.3M497.6 2216.1v40.3M499.2 2214.2v24.7" stroke="#6f88b5" stroke-opacity="0.16" stroke-width="1.3" fill="none"/><path d="M479.6 2218.5v16.9M480.5 2227.1v6.9M464.6 2225.6v4.2M471.7 2230.8v5.7M475.2 2222.4v13.0M479.6 2229.8v9.2M466.6 2237.2v12.1M477.8 2223.3v7.5M470.0 2217.2v12.9M478.9 2230.9v17.1M465.9 2238.0v17.1M467.0 2244.2v5.8M463.7 2234.9v6.9M478.5 2236.7v13.3M475.2 2249.2v6.9M471.0 2235.2v9.6M466.8 2230.0v5.6M474.7 2241.2v13.8M478.3 2222.3v16.9M495.8 2208.0v17.5M491.2 2223.9v15.2M495.6 2217.3v12.5M496.3 2222.3v16.7M494.5 2213.1v8.5M500.4 2205.8v12.9M491.7 2227.5v8.7M506.3 2220.5v13.0M505.5 2223.2v10.2M490.1 2223.8v17.4M504.4 2217.8v5.6M498.9 2216.1v16.5M492.1 2211.5v13.8M498.9 2221.7v5.9M496.4 2205.3v15.5" stroke="#6f88b5" stroke-opacity="0.35" stroke-width="1.4" fill="none"/><line x1="379.7" y1="2224.6" x2="379.7" y2="2235.5" stroke="#6f88b5" stroke-opacity="0.85" stroke-width="1.4"/><circle cx="379.7" cy="2230.0" r="3.2" fill="#6f88b5" fill-opacity="1"/><line x1="394.4" y1="2240.5" x2="394.4" y2="2251.5" stroke="#6f88b5" stroke-opacity="0.85" stroke-width="1.4"/><circle cx="394.4" cy="2246.0" r="3.2" fill="#6f88b5" fill-opacity="1"/><line x1="394.0" y1="2254.8" x2="394.0" y2="2267.9" stroke="#6f88b5" stroke-opacity="0.85" stroke-width="1.4"/><circle cx="394.0" cy="2261.3" r="3.2" fill="#6f88b5" fill-opacity="1"/><line x1="391.1" y1="2258.1" x2="391.1" y2="2271.2" stroke="#6f88b5" stroke-opacity="0.77" stroke-width="1.4"/><circle cx="391.1" cy="2264.6" r="3.2" fill="#6f88b5" fill-opacity="0.9"/><line x1="391.1" y1="2275.6" x2="391.1" y2="2341.2" stroke="#6f88b5" stroke-opacity="0.85" stroke-width="1.4"/><circle cx="391.1" cy="2308.4" r="3.2" fill="#6f88b5" fill-opacity="1"/><line x1="400.5" y1="2324.4" x2="400.5" y2="2337.5" stroke="#6f88b5" stroke-opacity="0.85" stroke-width="1.4"/><circle cx="400.5" cy="2330.9" r="3.2" fill="#6f88b5" fill-opacity="1"/><line x1="425.7" y1="2234.0" x2="425.7" y2="2251.5" stroke="#6f88b5" stroke-opacity="0.85" stroke-width="1.4"/><circle cx="425.7" cy="2242.7" r="3.2" fill="#6f88b5" fill-opacity="1"/><line x1="443.6" y1="2249.3" x2="443.6" y2="2262.4" stroke="#6f88b5" stroke-opacity="0.77" stroke-width="1.4"/><circle cx="443.6" cy="2255.9" r="3.2" fill="#6f88b5" fill-opacity="0.9"/><line x1="445.4" y1="2259.8" x2="445.4" y2="2272.9" stroke="#6f88b5" stroke-opacity="0.77" stroke-width="1.4"/><circle cx="445.4" cy="2266.4" r="3.2" fill="#6f88b5" fill-opacity="0.9"/><line x1="438.2" y1="2250.4" x2="438.2" y2="2276.7" stroke="#6f88b5" stroke-opacity="0.51" stroke-width="1.4"/><circle cx="438.2" cy="2263.5" r="3.2" fill="#6f88b5" fill-opacity="0.6"/><line x1="450.2" y1="2229.6" x2="450.2" y2="2247.1" stroke="#6f88b5" stroke-opacity="0.68" stroke-width="1.4"/><circle cx="450.2" cy="2238.4" r="3.2" fill="#6f88b5" fill-opacity="0.8"/><line x1="450.6" y1="2206.2" x2="450.6" y2="2232.5" stroke="#6f88b5" stroke-opacity="0.59" stroke-width="1.4"/><circle cx="450.6" cy="2219.3" r="3.2" fill="#6f88b5" fill-opacity="0.7"/><line x1="455.7" y1="2239.5" x2="455.7" y2="2252.6" stroke="#6f88b5" stroke-opacity="0.68" stroke-width="1.4"/><circle cx="455.7" cy="2246.0" r="3.2" fill="#6f88b5" fill-opacity="0.8"/><line x1="454.6" y1="2253.7" x2="454.6" y2="2306.2" stroke="#6f88b5" stroke-opacity="0.51" stroke-width="1.4"/><circle cx="454.6" cy="2279.9" r="3.2" fill="#6f88b5" fill-opacity="0.6"/><line x1="457.9" y1="2173.8" x2="457.9" y2="2217.6" stroke="#6f88b5" stroke-opacity="0.42" stroke-width="1.4"/><circle cx="457.9" cy="2195.7" r="3.2" fill="#6f88b5" fill-opacity="0.5"/><line x1="458.9" y1="2195.7" x2="458.9" y2="2221.9" stroke="#6f88b5" stroke-opacity="0.42" stroke-width="1.4"/><circle cx="458.9" cy="2208.8" r="3.2" fill="#6f88b5" fill-opacity="0.5"/><line x1="474.7" y1="2168.3" x2="474.7" y2="2212.1" stroke="#6f88b5" stroke-opacity="0.34" stroke-width="1.4"/><circle cx="474.7" cy="2190.2" r="3.2" fill="#6f88b5" fill-opacity="0.4"/><line x1="475.4" y1="2157.4" x2="475.4" y2="2201.2" stroke="#6f88b5" stroke-opacity="0.26" stroke-width="1.4"/><circle cx="475.4" cy="2179.3" r="3.2" fill="#6f88b5" fill-opacity="0.3"/><line x1="467.3" y1="2254.8" x2="467.3" y2="2298.5" stroke="#6f88b5" stroke-opacity="0.59" stroke-width="1.4"/><circle cx="467.3" cy="2276.7" r="3.2" fill="#6f88b5" fill-opacity="0.7"/><line x1="467.3" y1="2262.4" x2="467.3" y2="2328.1" stroke="#6f88b5" stroke-opacity="0.26" stroke-width="1.4"/><circle cx="467.3" cy="2295.3" r="3.2" fill="#6f88b5" fill-opacity="0.3"/><line x1="584.3" y1="2171.2" x2="584.3" y2="2182.1" stroke="#6f88b5" stroke-opacity="0.85" stroke-width="1.4"/><circle cx="584.3" cy="2176.7" r="3.2" fill="#6f88b5" fill-opacity="1"/><line x1="546.0" y1="2217.1" x2="546.0" y2="2225.9" stroke="#6f88b5" stroke-opacity="0.85" stroke-width="1.4"/><circle cx="546.0" cy="2221.5" r="3.2" fill="#6f88b5" fill-opacity="1"/><line x1="538.2" y1="2208.8" x2="538.2" y2="2221.9" stroke="#6f88b5" stroke-opacity="0.77" stroke-width="1.4"/><circle cx="538.2" cy="2215.4" r="3.2" fill="#6f88b5" fill-opacity="0.9"/><line x1="532.7" y1="2202.7" x2="532.7" y2="2215.8" stroke="#6f88b5" stroke-opacity="0.68" stroke-width="1.4"/><circle cx="532.7" cy="2209.3" r="3.2" fill="#6f88b5" fill-opacity="0.8"/><line x1="524.6" y1="2207.1" x2="524.6" y2="2220.2" stroke="#6f88b5" stroke-opacity="0.68" stroke-width="1.4"/><circle cx="524.6" cy="2213.6" r="3.2" fill="#6f88b5" fill-opacity="0.8"/><line x1="524.2" y1="2214.9" x2="524.2" y2="2228.1" stroke="#6f88b5" stroke-opacity="0.77" stroke-width="1.4"/><circle cx="524.2" cy="2221.5" r="3.2" fill="#6f88b5" fill-opacity="0.9"/><line x1="521.8" y1="2235.7" x2="521.8" y2="2248.9" stroke="#6f88b5" stroke-opacity="0.85" stroke-width="1.4"/><circle cx="521.8" cy="2242.3" r="3.2" fill="#6f88b5" fill-opacity="1"/><line x1="527.4" y1="2226.5" x2="527.4" y2="2239.7" stroke="#6f88b5" stroke-opacity="0.68" stroke-width="1.4"/><circle cx="527.4" cy="2233.1" r="3.2" fill="#6f88b5" fill-opacity="0.8"/><line x1="521.8" y1="2225.2" x2="521.8" y2="2238.4" stroke="#6f88b5" stroke-opacity="0.68" stroke-width="1.4"/><circle cx="521.8" cy="2231.8" r="3.2" fill="#6f88b5" fill-opacity="0.8"/><line x1="515.8" y1="2202.7" x2="515.8" y2="2215.8" stroke="#6f88b5" stroke-opacity="0.59" stroke-width="1.4"/><circle cx="515.8" cy="2209.3" r="3.2" fill="#6f88b5" fill-opacity="0.7"/><line x1="511.0" y1="2135.5" x2="511.0" y2="2205.5" stroke="#6f88b5" stroke-opacity="0.26" stroke-width="1.4"/><circle cx="511.0" cy="2170.5" r="3.2" fill="#6f88b5" fill-opacity="0.3"/><line x1="498.8" y1="2150.2" x2="498.8" y2="2193.9" stroke="#6f88b5" stroke-opacity="0.30" stroke-width="1.4"/><circle cx="498.8" cy="2172.1" r="3.2" fill="#6f88b5" fill-opacity="0.35"/><line x1="499.0" y1="2177.1" x2="499.0" y2="2212.1" stroke="#6f88b5" stroke-opacity="0.42" stroke-width="1.4"/><circle cx="499.0" cy="2194.6" r="3.2" fill="#6f88b5" fill-opacity="0.5"/><line x1="504.9" y1="2190.7" x2="504.9" y2="2216.9" stroke="#6f88b5" stroke-opacity="0.51" stroke-width="1.4"/><circle cx="504.9" cy="2203.8" r="3.2" fill="#6f88b5" fill-opacity="0.6"/><line x1="516.5" y1="2234.0" x2="516.5" y2="2277.7" stroke="#6f88b5" stroke-opacity="0.34" stroke-width="1.4"/><circle cx="516.5" cy="2255.9" r="3.2" fill="#6f88b5" fill-opacity="0.4"/><line x1="499.9" y1="2241.9" x2="499.9" y2="2285.6" stroke="#6f88b5" stroke-opacity="0.26" stroke-width="1.4"/><circle cx="499.9" cy="2263.7" r="3.2" fill="#6f88b5" fill-opacity="0.3"/><line x1="499.0" y1="2260.2" x2="499.0" y2="2304.0" stroke="#6f88b5" stroke-opacity="0.26" stroke-width="1.4"/><circle cx="499.0" cy="2282.1" r="3.2" fill="#6f88b5" fill-opacity="0.3"/></g>
<line x1="368.4" y1="2124.6" x2="597.5" y2="2124.6" stroke="#111" stroke-width="1.7"/>
<line x1="369.2" y1="2123.8" x2="369.2" y2="2352.7" stroke="#111" stroke-width="1.7"/>
<line x1="596.1" y1="2123.8" x2="596.1" y2="2352.7" stroke="#111" stroke-width="2.9"/>
<line x1="368.4" y1="2351.1" x2="597.5" y2="2351.1" stroke="#111" stroke-width="3.3"/>
<line x1="386.1" y1="2351.1" x2="386.1" y2="2354.7" stroke="#222" stroke-width="1.5"/>
<text transform="translate(390.4,2372.8) scale(1,1.1)" class="xl">-0.2</text>
<line x1="435.5" y1="2351.1" x2="435.5" y2="2354.7" stroke="#222" stroke-width="1.5"/>
<text transform="translate(439.8,2372.8) scale(1,1.1)" class="xl">-0.1</text>
<line x1="485.2" y1="2351.1" x2="485.2" y2="2354.7" stroke="#222" stroke-width="1.5"/>
<text transform="translate(485.2,2372.8) scale(1,1.1)" class="xl">0.0</text>
<line x1="534.9" y1="2351.1" x2="534.9" y2="2354.7" stroke="#222" stroke-width="1.5"/>
<text transform="translate(539.2,2372.8) scale(1,1.1)" class="xl">0.1</text>
<line x1="584.3" y1="2351.1" x2="584.3" y2="2354.7" stroke="#222" stroke-width="1.5"/>
<text transform="translate(588.6,2372.8) scale(1,1.1)" class="xl">0.2</text>
<line x1="365.8" y1="2170.5" x2="369.2" y2="2170.5" stroke="#222" stroke-width="1.5"/>
<text transform="translate(366.8,2176.6) scale(1,1.1)" class="yl">0.2</text>
<line x1="365.8" y1="2232.5" x2="369.2" y2="2232.5" stroke="#222" stroke-width="1.5"/>
<text transform="translate(358.2,2238.6) scale(1,1.1)" class="yl">0.0</text>
<line x1="365.8" y1="2295.3" x2="369.2" y2="2295.3" stroke="#222" stroke-width="1.5"/>
<text transform="translate(366.8,2301.4) scale(1,1.1)" class="yl">-0.2</text>
<text x="768.5" y="2112.0" class="pt" clip-path="url(#t30)">Lipoprotein subclasses</text>
<g clip-path="url(#c30)"><line x1="795.4" y1="2125.6" x2="795.4" y2="2351.1" class="dz"/><line x1="656.8" y1="2222.2" x2="883.4" y2="2222.2" class="dz"/><path d="M804.1 2245.1v27.0M833.9 2176.1v31.1M824.0 2195.3v16.6M816.9 2200.8v30.8M808.0 2194.2v31.5M768.6 2207.6v20.9M806.1 2154.4v28.1M781.2 2254.4v8.6M790.3 2186.0v12.3M778.3 2205.6v25.2M753.0 2240.6v6.4M764.0 2256.5v21.3M743.1 2231.0v7.9M835.5 2173.2v31.1M741.4 2209.2v17.8M770.5 2213.8v23.1M773.0 2187.1v28.8M754.5 2268.9v6.6M791.4 2179.3v12.7M765.9 2217.7v27.3M817.6 2182.5v24.8M779.3 2254.5v12.9M788.9 2202.2v7.6M752.9 2194.9v9.8M756.8 2229.3v27.2M766.6 2232.7v24.0M799.2 2302.0v10.5M767.2 2215.7v26.8M780.7 2235.2v7.9M834.4 2165.7v21.8M741.5 2237.0v31.9M769.2 2245.9v21.1M800.6 2257.1v24.8M835.3 2172.0v28.6M805.9 2203.3v23.0M808.9 2195.5v30.5M776.3 2243.9v24.8M796.9 2208.5v28.1M731.7 2216.5v17.8M735.8 2236.5v13.1M789.8 2288.4v14.1M823.5 2204.4v30.6M809.0 2164.8v9.5M783.4 2281.2v23.2M789.1 2192.5v21.6M766.3 2248.6v11.7M752.3 2257.6v26.8M771.4 2221.9v27.8M799.6 2234.0v24.0M791.4 2181.0v31.3M810.5 2251.2v30.0M793.9 2219.7v18.2M733.4 2265.2v10.2M788.6 2208.4v26.8M804.9 2172.8v19.6M804.3 2175.5v28.4M803.3 2225.3v14.5M792.1 2161.5v25.9M781.1 2204.1v8.7M768.6 2241.5v25.2M744.6 2255.3v9.3M786.3 2200.5v9.3M827.0 2210.3v16.7M740.2 2236.3v23.8M846.3 2156.5v15.0M800.7 2152.4v28.8M773.9 2179.7v12.3M772.5 2197.7v12.4M812.9 2226.5v18.7" stroke="#6f9ab0" stroke-opacity="0.2" stroke-width="1.2" fill="none"/><path d="M804.1 2258.6h0M833.9 2191.7h0M824.0 2203.6h0M816.9 2216.1h0M808.0 2210.0h0M768.6 2218.0h0M806.1 2168.4h0M781.2 2258.7h0M790.3 2192.1h0M778.3 2218.2h0M753.0 2243.8h0M764.0 2267.2h0M743.1 2234.9h0M835.5 2188.7h0M741.4 2218.1h0M770.5 2225.4h0M773.0 2201.5h0M754.5 2272.2h0M791.4 2185.6h0M765.9 2231.4h0M817.6 2194.9h0M779.3 2260.9h0M788.9 2206.0h0M752.9 2199.8h0M756.8 2242.9h0M766.6 2244.7h0M799.2 2307.3h0M767.2 2229.1h0M780.7 2239.1h0M834.4 2176.6h0M741.5 2253.0h0M769.2 2256.5h0M800.6 2269.6h0M835.3 2186.3h0M805.9 2214.8h0M808.9 2210.7h0M776.3 2256.3h0M796.9 2222.5h0M731.7 2225.4h0M735.8 2243.0h0M789.8 2295.5h0M823.5 2219.7h0M809.0 2169.5h0M783.4 2292.8h0M789.1 2203.3h0M766.3 2254.4h0M752.3 2271.0h0M771.4 2235.8h0M799.6 2246.0h0M791.4 2196.7h0M810.5 2266.2h0M793.9 2228.8h0M733.4 2270.3h0M788.6 2221.8h0M804.9 2182.6h0M804.3 2189.7h0M803.3 2232.6h0M792.1 2174.4h0M781.1 2208.4h0M768.6 2254.1h0M744.6 2260.0h0M786.3 2205.2h0M827.0 2218.7h0M740.2 2248.2h0M846.3 2164.0h0M800.7 2166.8h0M773.9 2185.8h0M772.5 2203.9h0M812.9 2235.8h0" stroke="#6f9ab0" stroke-opacity="0.2" stroke-width="6" stroke-linecap="round" fill="none"/><line x1="663.5" y1="2351.1" x2="883.4" y2="2136.6" stroke="#222" stroke-width="1.1"/><polygon points="729.7,2221.0 733.8,2218.5 738.8,2212.7 745.4,2210.3 750.4,2211.1 755.3,2219.4 762.0,2214.4 768.6,2202.8 775.2,2199.5 781.8,2178.0 786.8,2158.1 789.3,2143.2 791.8,2158.1 795.1,2182.9 798.4,2179.6 800.0,2158.1 801.7,2139.9 805.0,2149.8 808.3,2168.0 811.6,2191.2 814.9,2196.2 819.9,2187.9 824.9,2179.6 831.5,2174.7 836.5,2166.4 841.4,2160.6 848.1,2158.1 853.0,2156.5 853.0,2164.7 849.7,2171.4 848.1,2178.0 844.7,2184.6 841.4,2191.2 838.1,2197.8 834.8,2206.1 831.5,2212.7 828.2,2219.4 826.5,2226.0 821.6,2224.3 816.6,2231.0 813.3,2240.9 808.3,2250.8 806.7,2274.0 805.0,2297.2 801.7,2290.6 798.4,2270.7 796.7,2250.8 795.1,2245.9 791.8,2260.8 788.5,2290.6 786.8,2320.4 783.5,2307.1 780.2,2290.6 778.5,2270.7 775.2,2257.5 768.6,2257.5 762.0,2264.1 757.0,2270.7 753.7,2280.6 752.0,2292.2 748.7,2290.6 745.4,2283.9 738.8,2283.9 733.8,2274.0 732.2,2260.8 730.5,2240.9" fill="#6f9ab0" fill-opacity="0.97" filter="url(#bl1)"/><polygon points="684.1,2318.7 690.8,2308.8 699.0,2300.5 709.0,2295.5 718.9,2290.6 725.5,2283.9 728.8,2277.3 733.8,2274.0 730.5,2283.9 723.9,2295.5 715.6,2302.2 705.7,2308.8 697.4,2313.7 689.1,2320.4" fill="#6f9ab0" fill-opacity="0.9" filter="url(#bl1)"/><path d="M787.2 2257.6v29.1M768.5 2244.8v20.8M815.1 2197.0v42.4M750.7 2202.2v43.9M832.9 2185.3v20.8M779.6 2207.6v21.8M778.3 2185.9v32.6M745.2 2221.3v40.1M806.1 2199.6v24.5M832.2 2178.0v38.1M786.8 2156.4v42.8M801.9 2241.6v23.6M843.6 2169.0v31.5M819.6 2199.0v30.2M782.3 2230.8v31.3M793.9 2186.1v26.9M798.0 2188.1v24.5M812.2 2209.9v42.2M739.2 2248.9v27.6M822.3 2190.3v21.3M801.9 2156.5v29.9M828.6 2182.2v28.7M744.6 2238.9v32.0M789.6 2171.8v17.0M737.3 2222.5v17.4M789.4 2238.8v42.5M756.0 2204.9v28.9M752.9 2245.7v33.9M800.1 2169.1v43.1M835.8 2191.0v21.3M791.9 2153.2v42.7M784.0 2213.2v44.0M793.3 2181.2v27.7M818.8 2173.7v40.7M812.3 2219.2v23.9M785.2 2235.0v16.6M802.1 2242.9v40.1M800.0 2165.8v17.5M801.3 2204.1v22.7M802.9 2259.9v41.4M794.4 2172.4v26.2M734.3 2224.0v40.1M787.2 2177.4v22.4M807.5 2182.7v39.8M755.5 2255.5v24.1M755.8 2262.5v23.4M784.0 2193.7v19.4M738.9 2219.4v19.8M784.4 2205.3v33.3M778.1 2221.8v31.5M778.5 2198.2v23.9M790.9 2203.9v28.4M784.2 2281.7v37.5M783.5 2289.2v33.5M778.7 2234.8v37.8M781.2 2257.3v17.4M799.8 2197.4v32.8M786.9 2289.0v29.7M818.0 2213.2v23.2M751.7 2281.2v16.2M792.4 2192.4v33.4M784.8 2239.5v32.9M804.7 2206.3v42.2M794.4 2227.6v34.2M776.7 2206.9v31.4M777.5 2189.7v21.7M743.1 2237.1v27.4M746.8 2254.0v28.2M797.8 2201.1v30.1M774.2 2225.9v29.2M798.7 2189.7v20.4M794.0 2211.4v41.9M785.5 2270.2v33.5M822.5 2203.0v24.6M789.5 2190.1v18.6M785.6 2150.4v28.6M800.9 2135.5v38.6M798.4 2163.6v41.5M827.4 2196.1v28.5M833.3 2165.8v20.7M797.3 2191.6v20.7M692.5 2302.9v20.0M711.7 2287.6v17.0M705.5 2290.4v32.5M727.0 2263.3v43.1" stroke="#6f9ab0" stroke-opacity="0.16" stroke-width="1.3" fill="none"/><path d="M802.9 2264.9v5.3M737.4 2223.6v7.5M786.5 2249.7v8.4M735.0 2255.0v10.4M808.6 2192.6v9.6M782.1 2231.4v8.0M789.9 2142.1v12.1M748.4 2241.8v16.7M739.4 2214.6v6.9M836.1 2178.9v16.2M753.9 2240.6v10.1M814.8 2219.0v7.6M803.5 2241.3v12.1M782.5 2175.5v10.4M790.4 2148.4v17.2M747.7 2257.0v9.4M782.3 2272.1v4.5M783.6 2188.0v11.3M732.0 2220.5v10.4M819.9 2200.7v13.8M826.6 2175.0v12.7M832.8 2172.6v12.9M799.6 2218.2v14.1M762.0 2234.4v8.4M817.3 2211.8v13.9M748.1 2209.9v9.0M792.0 2182.9v5.8M786.5 2201.8v6.6M776.2 2208.5v10.3M755.6 2263.9v9.2M849.2 2164.6v8.8M747.9 2236.2v10.0M729.8 2218.8v7.2M816.3 2201.7v12.9M826.3 2185.5v9.2M779.8 2253.2v7.0M741.2 2217.2v12.8M774.7 2205.5v7.6M769.5 2194.7v15.6M800.4 2193.8v16.5M789.6 2203.0v12.1M842.9 2155.8v17.0M802.0 2144.3v14.1M807.7 2163.7v8.8M737.0 2234.2v16.1M759.1 2242.6v5.0M760.3 2242.0v4.1M832.0 2196.4v4.9M803.7 2218.5v10.4M790.0 2250.4v10.3M745.7 2214.7v10.1M786.2 2181.0v17.5M816.3 2186.7v15.6M830.2 2203.3v14.4M797.0 2221.8v7.9M754.7 2249.1v16.6M787.2 2155.3v10.7M765.6 2240.8v7.2M743.1 2208.2v7.7M789.1 2175.4v7.3M756.2 2239.3v13.2M802.6 2249.4v16.8M800.3 2257.7v6.9M761.2 2235.9v17.0M737.1 2236.2v4.2M830.0 2170.8v10.7M751.2 2208.1v17.6M752.6 2232.4v5.7M794.1 2216.7v13.4M831.0 2193.2v17.8M748.9 2263.4v10.7M732.8 2247.1v13.5M773.8 2236.8v17.2M752.2 2228.8v8.5M777.2 2226.2v5.1M852.8 2159.8v7.0M796.6 2178.2v13.4M755.3 2268.2v10.5M806.6 2232.3v16.6M743.9 2263.8v9.8M798.9 2256.2v17.6M783.7 2239.0v16.2M787.8 2272.8v16.5M828.1 2176.9v15.8M809.9 2192.0v6.6M786.9 2213.5v12.0M789.1 2167.0v7.9M745.7 2248.3v15.8M759.8 2224.8v5.4M782.9 2170.9v6.5M799.1 2189.9v13.1M807.0 2262.4v13.9M753.3 2215.7v8.9M809.5 2225.9v7.4M733.7 2221.8v10.2M787.6 2242.5v16.9M744.6 2253.9v14.9M796.1 2199.8v5.9M768.8 2244.2v8.9M807.4 2167.2v5.9M761.7 2210.7v16.1M809.9 2179.5v9.9M744.2 2257.1v6.2M803.7 2179.2v8.8M774.7 2236.9v16.3M743.4 2250.9v6.6M767.9 2233.1v14.8M794.5 2213.7v16.4M748.3 2240.2v11.9M760.5 2254.6v12.0M760.9 2211.0v15.1M785.6 2181.9v14.8M753.3 2239.8v13.6M834.2 2199.1v15.9M834.8 2167.2v8.8M800.3 2204.2v6.8M788.4 2168.4v14.2M842.1 2157.2v8.5M793.9 2194.9v6.6M758.0 2252.5v6.4M733.7 2219.7v9.5M783.4 2287.4v5.5M785.8 2167.4v4.3M772.9 2207.4v16.1M784.3 2219.8v8.9M757.7 2243.5v12.9M737.9 2237.6v7.0M791.4 2251.9v10.2M754.1 2243.8v14.0M790.6 2174.4v17.7M800.9 2211.2v6.5M799.3 2216.7v6.7M758.8 2261.1v6.7M780.7 2205.4v5.6M826.2 2183.8v9.4M834.3 2164.4v17.1M756.0 2225.5v17.8M740.4 2205.8v13.3M757.4 2216.5v8.0M789.7 2143.6v13.9M734.4 2270.3v6.0M786.8 2259.3v6.3M809.6 2226.9v5.6M746.4 2214.0v18.0M781.7 2218.9v6.4M772.6 2207.4v10.2M829.2 2209.4v13.8M749.8 2223.0v13.5M800.2 2205.5v6.8M755.6 2260.5v8.0M804.3 2223.1v9.8M753.6 2210.7v13.2M735.5 2260.6v11.6M791.6 2160.9v14.9M734.8 2217.1v7.7M831.7 2183.0v4.6M810.3 2195.4v5.8M803.7 2265.7v5.2M752.9 2272.2v8.6M760.9 2227.3v13.1M794.1 2200.2v17.2M815.1 2203.6v9.0M790.6 2257.6v7.1M798.5 2225.0v15.2M773.9 2220.1v4.5M736.4 2271.8v10.0M780.6 2262.0v7.4M797.0 2235.1v12.8M825.8 2188.9v12.1M769.8 2200.0v9.6M804.3 2198.7v4.1M763.0 2232.5v12.9M833.4 2176.7v10.6M740.2 2257.7v7.7M753.8 2249.9v10.0M782.3 2261.8v6.5M803.3 2158.0v8.9M768.9 2219.6v4.9M757.7 2219.3v16.0M752.3 2225.7v13.6M752.5 2271.0v16.5M798.3 2230.9v4.5M812.8 2223.0v17.6M848.0 2164.1v13.5M745.3 2225.0v9.7M738.6 2235.2v12.0M739.3 2252.3v6.3M804.6 2178.3v12.5M787.6 2159.2v14.5M753.3 2251.1v15.5M774.1 2229.9v5.2M737.0 2259.6v5.0M788.9 2260.3v16.4M797.7 2249.8v12.7M764.1 2235.0v10.1M787.6 2229.2v17.3M779.1 2210.9v8.1M832.9 2198.0v13.7M787.0 2294.5v6.6M783.5 2171.4v5.7M808.7 2211.1v12.8M777.0 2224.0v6.4M832.8 2176.1v11.9M804.6 2207.3v11.9M787.2 2285.3v15.5M768.7 2198.4v11.1M751.3 2256.9v12.3M798.7 2194.3v4.8M786.8 2202.7v9.6M744.3 2226.2v11.1M736.2 2244.2v7.7M780.9 2266.8v16.8M800.2 2159.6v17.5M779.5 2265.3v17.9M784.1 2274.2v17.1M784.0 2203.9v11.4M780.1 2280.5v14.7M745.0 2259.5v6.8M830.0 2177.6v9.1M742.7 2241.9v5.8M807.4 2204.6v5.9M841.3 2171.6v9.9M738.1 2235.8v4.7M769.3 2229.3v10.9M800.6 2205.8v12.3M754.3 2245.0v17.5M780.3 2220.6v7.7M812.1 2226.6v15.7M803.8 2241.5v9.5M831.1 2195.0v6.8M805.8 2209.7v9.8M794.2 2184.8v13.7M820.5 2198.2v10.4M733.9 2253.8v13.4M772.2 2208.2v10.5M739.8 2269.7v11.9M746.7 2271.2v5.8M733.2 2256.6v9.0M771.5 2246.3v12.7M788.7 2203.7v16.7M779.6 2192.5v13.4M791.9 2221.9v15.1M764.6 2244.2v14.1M825.2 2199.7v6.6M742.7 2232.5v13.0M787.1 2172.2v8.1M782.0 2284.0v10.0M833.1 2175.9v7.2M801.0 2202.3v17.6M755.1 2231.5v17.2M789.5 2153.2v15.1M825.2 2214.7v14.6M789.5 2240.8v15.9M809.1 2230.4v12.0M805.4 2176.3v10.9M747.9 2257.1v9.0M774.5 2213.5v5.5M738.8 2267.2v14.9M768.1 2224.5v13.0M798.2 2223.2v12.9M784.7 2166.9v5.0M748.8 2232.0v7.8M787.1 2199.7v15.0M820.1 2182.7v15.2M776.7 2236.8v9.4M760.3 2226.6v4.8M799.8 2198.5v6.1M804.7 2180.4v9.0M811.6 2214.0v10.9M749.6 2242.5v4.4M803.9 2264.1v13.4M823.7 2212.6v6.7M751.2 2233.7v16.6M789.8 2267.3v6.8M748.4 2210.0v14.3M816.9 2209.7v11.2M814.5 2222.7v13.9M771.5 2223.7v7.4M784.5 2241.5v12.3M732.4 2234.0v7.9M769.0 2234.6v13.3M806.4 2174.1v10.1M809.2 2206.0v7.2M828.7 2207.7v10.4M822.2 2193.3v7.7M786.0 2198.6v8.3M808.7 2225.1v14.9M739.0 2236.5v10.5M789.9 2268.1v14.2M840.2 2172.8v8.7M831.5 2202.2v7.1M782.0 2255.7v6.1M755.6 2270.3v4.0M768.1 2240.8v5.5M787.2 2206.2v9.4M833.1 2171.8v14.2M760.7 2231.6v14.5M775.2 2202.2v17.0M761.0 2249.0v6.5M743.4 2271.1v7.2M850.2 2161.1v12.1M751.3 2222.9v13.5M734.4 2221.3v15.2M788.9 2218.6v6.1M790.4 2233.0v14.3M749.6 2218.0v12.9M845.7 2168.5v16.5M834.0 2190.5v13.3M772.1 2215.2v4.2M802.5 2226.9v8.8M790.9 2150.3v14.4M771.1 2221.3v10.0M777.6 2238.1v6.4M788.4 2206.6v13.6M836.9 2195.0v8.0M825.3 2212.2v14.4M740.5 2227.9v9.5M787.1 2154.4v8.4M744.6 2271.2v16.7M810.5 2174.8v17.7M747.0 2279.1v14.6M810.7 2231.7v7.5M750.4 2239.6v17.3M837.8 2169.0v4.8M722.3 2285.4v11.9M687.3 2314.5v9.6M702.8 2300.0v16.7M690.0 2312.4v7.5M709.6 2297.2v9.8M713.5 2287.9v12.6M719.3 2283.4v16.8M688.9 2310.5v17.8M720.0 2287.2v12.4M696.0 2306.9v11.0M729.3 2274.9v7.8M698.4 2300.6v10.5M702.7 2292.3v14.3M729.8 2281.0v7.7M728.3 2275.0v7.9M713.3 2285.7v16.8M695.7 2298.7v12.4M688.7 2307.8v14.3" stroke="#6f9ab0" stroke-opacity="0.35" stroke-width="1.4" fill="none"/><line x1="665.9" y1="2327.8" x2="665.9" y2="2341.1" stroke="#6f9ab0" stroke-opacity="0.85" stroke-width="1.4"/><circle cx="665.9" cy="2334.4" r="3.2" fill="#6f9ab0" fill-opacity="1"/><line x1="678.4" y1="2321.2" x2="678.4" y2="2334.4" stroke="#6f9ab0" stroke-opacity="0.85" stroke-width="1.4"/><circle cx="678.4" cy="2327.8" r="3.2" fill="#6f9ab0" fill-opacity="1"/><line x1="684.1" y1="2313.7" x2="684.1" y2="2327.0" stroke="#6f9ab0" stroke-opacity="0.85" stroke-width="1.4"/><circle cx="684.1" cy="2320.4" r="3.2" fill="#6f9ab0" fill-opacity="1"/><line x1="687.5" y1="2308.8" x2="687.5" y2="2322.0" stroke="#6f9ab0" stroke-opacity="0.85" stroke-width="1.4"/><circle cx="687.5" cy="2315.4" r="3.2" fill="#6f9ab0" fill-opacity="1"/><line x1="690.8" y1="2302.2" x2="690.8" y2="2315.4" stroke="#6f9ab0" stroke-opacity="0.85" stroke-width="1.4"/><circle cx="690.8" cy="2308.8" r="3.2" fill="#6f9ab0" fill-opacity="1"/><line x1="694.1" y1="2300.5" x2="694.1" y2="2313.7" stroke="#6f9ab0" stroke-opacity="0.85" stroke-width="1.4"/><circle cx="694.1" cy="2307.1" r="3.2" fill="#6f9ab0" fill-opacity="1"/><line x1="699.0" y1="2298.8" x2="699.0" y2="2312.1" stroke="#6f9ab0" stroke-opacity="0.85" stroke-width="1.4"/><circle cx="699.0" cy="2305.5" r="3.2" fill="#6f9ab0" fill-opacity="1"/><line x1="700.7" y1="2295.5" x2="700.7" y2="2308.8" stroke="#6f9ab0" stroke-opacity="0.85" stroke-width="1.4"/><circle cx="700.7" cy="2302.2" r="3.2" fill="#6f9ab0" fill-opacity="1"/><line x1="704.0" y1="2300.5" x2="704.0" y2="2313.7" stroke="#6f9ab0" stroke-opacity="0.85" stroke-width="1.4"/><circle cx="704.0" cy="2307.1" r="3.2" fill="#6f9ab0" fill-opacity="1"/><line x1="709.0" y1="2292.2" x2="709.0" y2="2305.5" stroke="#6f9ab0" stroke-opacity="0.85" stroke-width="1.4"/><circle cx="709.0" cy="2298.8" r="3.2" fill="#6f9ab0" fill-opacity="1"/><line x1="713.1" y1="2303.0" x2="713.1" y2="2316.2" stroke="#6f9ab0" stroke-opacity="0.85" stroke-width="1.4"/><circle cx="713.1" cy="2309.6" r="3.2" fill="#6f9ab0" fill-opacity="1"/><line x1="713.9" y1="2292.2" x2="713.9" y2="2305.5" stroke="#6f9ab0" stroke-opacity="0.85" stroke-width="1.4"/><circle cx="713.9" cy="2298.8" r="3.2" fill="#6f9ab0" fill-opacity="1"/><line x1="722.2" y1="2287.3" x2="722.2" y2="2300.5" stroke="#6f9ab0" stroke-opacity="0.85" stroke-width="1.4"/><circle cx="722.2" cy="2293.9" r="3.2" fill="#6f9ab0" fill-opacity="1"/><line x1="725.5" y1="2282.3" x2="725.5" y2="2295.5" stroke="#6f9ab0" stroke-opacity="0.85" stroke-width="1.4"/><circle cx="725.5" cy="2288.9" r="3.2" fill="#6f9ab0" fill-opacity="1"/><line x1="727.2" y1="2273.2" x2="727.2" y2="2286.4" stroke="#6f9ab0" stroke-opacity="0.85" stroke-width="1.4"/><circle cx="727.2" cy="2279.8" r="3.2" fill="#6f9ab0" fill-opacity="1"/><line x1="724.7" y1="2234.3" x2="724.7" y2="2244.2" stroke="#6f9ab0" stroke-opacity="0.85" stroke-width="1.4"/><circle cx="724.7" cy="2239.2" r="3.2" fill="#6f9ab0" fill-opacity="1"/><line x1="853.0" y1="2154.8" x2="853.0" y2="2164.7" stroke="#6f9ab0" stroke-opacity="0.85" stroke-width="1.4"/><circle cx="853.0" cy="2159.8" r="3.2" fill="#6f9ab0" fill-opacity="1"/><line x1="863.8" y1="2160.6" x2="863.8" y2="2170.5" stroke="#6f9ab0" stroke-opacity="0.85" stroke-width="1.4"/><circle cx="863.8" cy="2165.6" r="3.2" fill="#6f9ab0" fill-opacity="1"/><line x1="871.2" y1="2154.8" x2="871.2" y2="2164.7" stroke="#6f9ab0" stroke-opacity="0.85" stroke-width="1.4"/><circle cx="871.2" cy="2159.8" r="3.2" fill="#6f9ab0" fill-opacity="1"/><line x1="861.3" y1="2173.0" x2="861.3" y2="2181.3" stroke="#6f9ab0" stroke-opacity="0.85" stroke-width="1.4"/><circle cx="861.3" cy="2177.2" r="3.2" fill="#6f9ab0" fill-opacity="1"/><line x1="844.7" y1="2181.3" x2="844.7" y2="2194.5" stroke="#6f9ab0" stroke-opacity="0.85" stroke-width="1.4"/><circle cx="844.7" cy="2187.9" r="3.2" fill="#6f9ab0" fill-opacity="1"/><line x1="834.8" y1="2196.2" x2="834.8" y2="2209.4" stroke="#6f9ab0" stroke-opacity="0.85" stroke-width="1.4"/><circle cx="834.8" cy="2202.8" r="3.2" fill="#6f9ab0" fill-opacity="1"/><line x1="828.2" y1="2219.4" x2="828.2" y2="2229.3" stroke="#6f9ab0" stroke-opacity="0.85" stroke-width="1.4"/><circle cx="828.2" cy="2224.3" r="3.2" fill="#6f9ab0" fill-opacity="1"/></g>
<line x1="655.0" y1="2124.6" x2="884.8" y2="2124.6" stroke="#111" stroke-width="1.7"/>
<line x1="655.8" y1="2123.8" x2="655.8" y2="2352.7" stroke="#111" stroke-width="1.7"/>
<line x1="883.4" y1="2123.8" x2="883.4" y2="2352.7" stroke="#111" stroke-width="2.9"/>
<line x1="655.0" y1="2351.1" x2="884.8" y2="2351.1" stroke="#111" stroke-width="3.3"/>
<line x1="694.1" y1="2351.1" x2="694.1" y2="2354.7" stroke="#222" stroke-width="1.5"/>
<text transform="translate(698.4,2372.8) scale(1,1.1)" class="xl">-0.4</text>
<line x1="744.9" y1="2351.1" x2="744.9" y2="2354.7" stroke="#222" stroke-width="1.5"/>
<text transform="translate(749.2,2372.8) scale(1,1.1)" class="xl">-0.2</text>
<line x1="795.4" y1="2351.1" x2="795.4" y2="2354.7" stroke="#222" stroke-width="1.5"/>
<text transform="translate(795.4,2372.8) scale(1,1.1)" class="xl">0.0</text>
<line x1="846.2" y1="2351.1" x2="846.2" y2="2354.7" stroke="#222" stroke-width="1.5"/>
<text transform="translate(850.5,2372.8) scale(1,1.1)" class="xl">0.2</text>
<line x1="652.4" y1="2162.9" x2="655.8" y2="2162.9" stroke="#222" stroke-width="1.5"/>
<text transform="translate(653.4,2169.0) scale(1,1.1)" class="yl">0.25</text>
<line x1="652.4" y1="2222.2" x2="655.8" y2="2222.2" stroke="#222" stroke-width="1.5"/>
<text transform="translate(644.8,2228.3) scale(1,1.1)" class="yl">0.00</text>
<line x1="652.4" y1="2285.4" x2="655.8" y2="2285.4" stroke="#222" stroke-width="1.5"/>
<text transform="translate(653.4,2291.5) scale(1,1.1)" class="yl">-0.25</text>
<line x1="652.4" y1="2344.5" x2="655.8" y2="2344.5" stroke="#222" stroke-width="1.5"/>
<text transform="translate(644.8,2350.6) scale(1,1.1)" class="yl">-0.50</text>
<text x="1040.7" y="2112.0" class="pt" clip-path="url(#t31)">Other lipids</text>
<g clip-path="url(#c31)"><line x1="1077.9" y1="2125.6" x2="1077.9" y2="2351.1" class="dz"/><line x1="929.4" y1="2230.7" x2="1155.1" y2="2230.7" class="dz"/><path d="M1086.9 2230.0v13.4M1094.7 2206.1v27.0M1096.0 2205.4v9.6M1093.0 2216.7v21.6M1102.7 2187.2v28.7M1104.8 2197.9v6.8M1077.9 2243.8v14.2M1038.6 2238.2v28.2M1086.2 2238.4v8.1M1044.1 2225.3v25.4M1070.2 2239.0v25.7M1066.0 2204.7v25.2M1084.0 2186.9v29.9M1078.8 2225.0v8.0M1056.5 2208.0v18.1M1076.2 2204.6v20.6M1093.8 2187.4v16.2M1051.4 2225.2v15.4M1089.1 2201.5v16.8M1073.0 2211.2v31.6M1083.5 2185.1v27.2M1077.0 2236.9v28.0M1054.0 2205.9v27.1M1105.3 2200.3v30.3M1061.6 2213.0v9.5M1049.2 2233.1v29.9M1059.5 2195.3v18.0M1046.9 2217.1v15.6M1043.3 2240.3v26.7" stroke="#9fb3a3" stroke-opacity="0.2" stroke-width="1.2" fill="none"/><path d="M1086.9 2236.7h0M1094.7 2219.6h0M1096.0 2210.2h0M1093.0 2227.5h0M1102.7 2201.5h0M1104.8 2201.2h0M1077.9 2250.9h0M1038.6 2252.3h0M1086.2 2242.5h0M1044.1 2238.0h0M1070.2 2251.8h0M1066.0 2217.3h0M1084.0 2201.9h0M1078.8 2229.1h0M1056.5 2217.0h0M1076.2 2214.9h0M1093.8 2195.5h0M1051.4 2232.9h0M1089.1 2209.9h0M1073.0 2227.0h0M1083.5 2198.7h0M1077.0 2250.9h0M1054.0 2219.5h0M1105.3 2215.4h0M1061.6 2217.8h0M1049.2 2248.0h0M1059.5 2204.3h0M1046.9 2224.9h0M1043.3 2253.6h0" stroke="#9fb3a3" stroke-opacity="0.2" stroke-width="6" stroke-linecap="round" fill="none"/><line x1="928.4" y1="2332.5" x2="1155.1" y2="2179.3" stroke="#222" stroke-width="1.1"/><polygon points="1040.7,2253.7 1045.1,2242.7 1053.8,2231.8 1060.4,2218.7 1066.9,2214.3 1073.5,2218.7 1074.6,2236.2 1072.4,2249.3 1066.9,2258.1 1058.2,2264.6 1049.4,2266.8 1042.9,2264.6" fill="#9fb3a3" fill-opacity="0.97" filter="url(#bl1)"/><polygon points="1081.2,2236.2 1082.3,2218.7 1085.5,2205.5 1088.8,2205.5 1091.0,2214.3 1097.6,2214.3 1104.1,2212.1 1104.1,2220.9 1097.6,2227.4 1091.0,2236.2 1086.6,2244.9 1083.3,2244.9" fill="#9fb3a3" fill-opacity="0.97" filter="url(#bl1)"/><path d="M1053.9 2241.1v40.0M1046.7 2232.1v32.2M1056.1 2222.0v29.7M1069.5 2241.2v20.2M1058.5 2249.8v19.8M1072.1 2214.7v37.7M1068.1 2228.8v25.8M1049.7 2237.9v19.9M1070.3 2228.1v18.7M1070.4 2202.8v44.0M1049.4 2231.2v20.5M1090.2 2200.8v31.5M1098.5 2202.5v36.7M1082.0 2225.0v17.0M1091.3 2207.0v17.8" stroke="#9fb3a3" stroke-opacity="0.16" stroke-width="1.3" fill="none"/><path d="M1042.9 2244.9v15.5M1053.0 2254.3v12.7M1052.2 2230.1v8.4M1052.1 2243.3v13.0M1064.9 2226.1v15.9M1074.0 2230.1v7.8M1054.6 2229.7v8.2M1070.7 2228.0v13.6M1059.8 2220.7v10.9M1065.9 2249.3v15.4M1070.3 2234.4v17.3M1057.0 2248.7v10.7M1051.7 2231.7v6.7M1046.1 2260.7v6.1M1066.3 2220.6v9.2M1045.0 2255.6v14.7M1058.3 2247.3v14.9M1058.6 2229.4v7.5M1050.0 2242.7v13.8M1059.5 2215.9v16.1M1069.3 2237.1v17.0M1068.8 2212.0v12.5M1059.9 2242.7v11.9M1065.5 2252.0v4.4M1043.8 2258.3v11.1M1062.0 2213.2v11.8M1072.2 2214.7v6.9M1044.2 2252.6v10.7M1051.5 2247.9v13.0M1061.4 2223.6v13.8M1065.5 2238.7v17.4M1058.7 2239.9v14.8M1069.0 2222.3v7.7M1058.1 2247.6v10.2M1050.9 2250.3v16.3M1049.2 2247.0v7.9M1046.3 2254.7v12.4M1068.8 2247.8v7.1M1054.3 2258.4v5.0M1051.0 2239.4v13.3M1066.3 2221.8v4.3M1056.3 2245.0v12.5M1062.1 2218.2v7.8M1061.1 2237.7v13.7M1099.4 2217.8v5.3M1083.1 2238.3v6.2M1091.4 2226.6v16.5M1103.8 2210.9v10.4M1090.3 2208.7v18.0M1088.3 2204.4v9.3M1098.9 2212.7v13.2M1089.1 2211.0v4.5M1084.9 2211.0v6.2M1101.0 2215.7v13.2M1088.2 2234.6v5.7M1089.6 2215.5v15.4M1086.5 2236.3v8.8M1086.4 2214.2v4.9M1093.3 2223.6v13.1M1088.9 2211.5v16.9M1085.3 2222.1v14.4M1086.0 2241.0v4.7M1096.4 2215.3v10.0" stroke="#9fb3a3" stroke-opacity="0.35" stroke-width="1.4" fill="none"/><line x1="976.6" y1="2222.6" x2="976.6" y2="2235.7" stroke="#9fb3a3" stroke-opacity="0.85" stroke-width="1.4"/><circle cx="976.6" cy="2229.2" r="3.2" fill="#9fb3a3" fill-opacity="1"/><line x1="976.6" y1="2263.1" x2="976.6" y2="2282.8" stroke="#9fb3a3" stroke-opacity="0.85" stroke-width="1.4"/><circle cx="976.6" cy="2272.9" r="3.2" fill="#9fb3a3" fill-opacity="1"/><line x1="938.9" y1="2304.7" x2="938.9" y2="2320.0" stroke="#9fb3a3" stroke-opacity="0.85" stroke-width="1.4"/><circle cx="938.9" cy="2312.3" r="3.2" fill="#9fb3a3" fill-opacity="1"/><line x1="1006.1" y1="2253.2" x2="1006.1" y2="2318.9" stroke="#9fb3a3" stroke-opacity="0.77" stroke-width="1.4"/><circle cx="1006.1" cy="2286.1" r="3.2" fill="#9fb3a3" fill-opacity="0.9"/><line x1="1005.2" y1="2236.8" x2="1005.2" y2="2247.8" stroke="#9fb3a3" stroke-opacity="0.85" stroke-width="1.4"/><circle cx="1005.2" cy="2242.3" r="3.2" fill="#9fb3a3" fill-opacity="1"/><line x1="1012.2" y1="2234.6" x2="1012.2" y2="2245.6" stroke="#9fb3a3" stroke-opacity="0.85" stroke-width="1.4"/><circle cx="1012.2" cy="2240.1" r="3.2" fill="#9fb3a3" fill-opacity="1"/><line x1="1014.9" y1="2234.6" x2="1014.9" y2="2245.6" stroke="#9fb3a3" stroke-opacity="0.85" stroke-width="1.4"/><circle cx="1014.9" cy="2240.1" r="3.2" fill="#9fb3a3" fill-opacity="1"/><line x1="1025.4" y1="2233.3" x2="1025.4" y2="2244.3" stroke="#9fb3a3" stroke-opacity="0.85" stroke-width="1.4"/><circle cx="1025.4" cy="2238.8" r="3.2" fill="#9fb3a3" fill-opacity="1"/><line x1="1027.1" y1="2244.5" x2="1027.1" y2="2257.6" stroke="#9fb3a3" stroke-opacity="0.85" stroke-width="1.4"/><circle cx="1027.1" cy="2251.1" r="3.2" fill="#9fb3a3" fill-opacity="1"/><line x1="1032.6" y1="2257.6" x2="1032.6" y2="2270.7" stroke="#9fb3a3" stroke-opacity="0.77" stroke-width="1.4"/><circle cx="1032.6" cy="2264.2" r="3.2" fill="#9fb3a3" fill-opacity="0.9"/><line x1="1024.7" y1="2269.0" x2="1024.7" y2="2282.1" stroke="#9fb3a3" stroke-opacity="0.85" stroke-width="1.4"/><circle cx="1024.7" cy="2275.6" r="3.2" fill="#9fb3a3" fill-opacity="1"/><line x1="1027.5" y1="2269.0" x2="1027.5" y2="2282.1" stroke="#9fb3a3" stroke-opacity="0.77" stroke-width="1.4"/><circle cx="1027.5" cy="2275.6" r="3.2" fill="#9fb3a3" fill-opacity="0.9"/><line x1="1038.1" y1="2269.0" x2="1038.1" y2="2282.1" stroke="#9fb3a3" stroke-opacity="0.85" stroke-width="1.4"/><circle cx="1038.1" cy="2275.6" r="3.2" fill="#9fb3a3" fill-opacity="1"/><line x1="1039.6" y1="2227.9" x2="1039.6" y2="2241.0" stroke="#9fb3a3" stroke-opacity="0.51" stroke-width="1.4"/><circle cx="1039.6" cy="2234.4" r="3.2" fill="#9fb3a3" fill-opacity="0.6"/><line x1="1044.0" y1="2232.2" x2="1044.0" y2="2245.4" stroke="#9fb3a3" stroke-opacity="0.68" stroke-width="1.4"/><circle cx="1044.0" cy="2238.8" r="3.2" fill="#9fb3a3" fill-opacity="0.8"/><line x1="1063.7" y1="2259.8" x2="1063.7" y2="2272.9" stroke="#9fb3a3" stroke-opacity="0.85" stroke-width="1.4"/><circle cx="1063.7" cy="2266.4" r="3.2" fill="#9fb3a3" fill-opacity="1"/><line x1="1057.5" y1="2253.2" x2="1057.5" y2="2323.3" stroke="#9fb3a3" stroke-opacity="0.42" stroke-width="1.4"/><circle cx="1057.5" cy="2288.3" r="3.2" fill="#9fb3a3" fill-opacity="0.5"/><line x1="1142.4" y1="2187.6" x2="1142.4" y2="2200.7" stroke="#9fb3a3" stroke-opacity="0.85" stroke-width="1.4"/><circle cx="1142.4" cy="2194.2" r="3.2" fill="#9fb3a3" fill-opacity="1"/><line x1="1128.2" y1="2195.7" x2="1128.2" y2="2206.6" stroke="#9fb3a3" stroke-opacity="0.85" stroke-width="1.4"/><circle cx="1128.2" cy="2201.2" r="3.2" fill="#9fb3a3" fill-opacity="1"/><line x1="1123.8" y1="2196.8" x2="1123.8" y2="2207.7" stroke="#9fb3a3" stroke-opacity="0.85" stroke-width="1.4"/><circle cx="1123.8" cy="2202.3" r="3.2" fill="#9fb3a3" fill-opacity="1"/><line x1="1119.0" y1="2202.3" x2="1119.0" y2="2213.2" stroke="#9fb3a3" stroke-opacity="0.85" stroke-width="1.4"/><circle cx="1119.0" cy="2207.7" r="3.2" fill="#9fb3a3" fill-opacity="1"/><line x1="1118.4" y1="2208.8" x2="1118.4" y2="2221.9" stroke="#9fb3a3" stroke-opacity="0.77" stroke-width="1.4"/><circle cx="1118.4" cy="2215.4" r="3.2" fill="#9fb3a3" fill-opacity="0.9"/><line x1="1111.8" y1="2227.4" x2="1111.8" y2="2240.5" stroke="#9fb3a3" stroke-opacity="0.85" stroke-width="1.4"/><circle cx="1111.8" cy="2234.0" r="3.2" fill="#9fb3a3" fill-opacity="1"/><line x1="1109.6" y1="2212.1" x2="1109.6" y2="2225.2" stroke="#9fb3a3" stroke-opacity="0.68" stroke-width="1.4"/><circle cx="1109.6" cy="2218.7" r="3.2" fill="#9fb3a3" fill-opacity="0.8"/><line x1="1109.2" y1="2222.6" x2="1109.2" y2="2266.4" stroke="#9fb3a3" stroke-opacity="0.34" stroke-width="1.4"/><circle cx="1109.2" cy="2244.5" r="3.2" fill="#9fb3a3" fill-opacity="0.4"/><line x1="1066.9" y1="2134.4" x2="1066.9" y2="2178.2" stroke="#9fb3a3" stroke-opacity="0.30" stroke-width="1.4"/><circle cx="1066.9" cy="2156.3" r="3.2" fill="#9fb3a3" fill-opacity="0.35"/><line x1="1067.4" y1="2144.3" x2="1067.4" y2="2188.0" stroke="#9fb3a3" stroke-opacity="0.30" stroke-width="1.4"/><circle cx="1067.4" cy="2166.2" r="3.2" fill="#9fb3a3" fill-opacity="0.35"/><line x1="1099.1" y1="2161.8" x2="1099.1" y2="2205.5" stroke="#9fb3a3" stroke-opacity="0.26" stroke-width="1.4"/><circle cx="1099.1" cy="2183.7" r="3.2" fill="#9fb3a3" fill-opacity="0.3"/><line x1="1088.8" y1="2161.8" x2="1088.8" y2="2205.5" stroke="#9fb3a3" stroke-opacity="0.34" stroke-width="1.4"/><circle cx="1088.8" cy="2183.7" r="3.2" fill="#9fb3a3" fill-opacity="0.4"/><line x1="1089.5" y1="2183.7" x2="1089.5" y2="2209.9" stroke="#9fb3a3" stroke-opacity="0.42" stroke-width="1.4"/><circle cx="1089.5" cy="2196.8" r="3.2" fill="#9fb3a3" fill-opacity="0.5"/><line x1="1088.8" y1="2247.1" x2="1088.8" y2="2264.6" stroke="#9fb3a3" stroke-opacity="0.59" stroke-width="1.4"/><circle cx="1088.8" cy="2255.9" r="3.2" fill="#9fb3a3" fill-opacity="0.7"/><line x1="1093.2" y1="2255.9" x2="1093.2" y2="2282.1" stroke="#9fb3a3" stroke-opacity="0.34" stroke-width="1.4"/><circle cx="1093.2" cy="2269.0" r="3.2" fill="#9fb3a3" fill-opacity="0.4"/><line x1="1099.1" y1="2261.3" x2="1099.1" y2="2305.1" stroke="#9fb3a3" stroke-opacity="0.34" stroke-width="1.4"/><circle cx="1099.1" cy="2283.2" r="3.2" fill="#9fb3a3" fill-opacity="0.4"/><line x1="1099.8" y1="2250.4" x2="1099.8" y2="2337.9" stroke="#9fb3a3" stroke-opacity="0.26" stroke-width="1.4"/><circle cx="1099.8" cy="2294.2" r="3.2" fill="#9fb3a3" fill-opacity="0.3"/></g>
<line x1="927.6" y1="2124.6" x2="1156.5" y2="2124.6" stroke="#111" stroke-width="1.7"/>
<line x1="928.4" y1="2123.8" x2="928.4" y2="2352.7" stroke="#111" stroke-width="1.7"/>
<line x1="1155.1" y1="2123.8" x2="1155.1" y2="2352.7" stroke="#111" stroke-width="2.9"/>
<line x1="927.6" y1="2351.1" x2="1156.5" y2="2351.1" stroke="#111" stroke-width="3.3"/>
<line x1="935.0" y1="2351.1" x2="935.0" y2="2354.7" stroke="#222" stroke-width="1.5"/>
<text transform="translate(935.0,2372.8) scale(1,1.1)" class="xl">-0.3</text>
<line x1="982.7" y1="2351.1" x2="982.7" y2="2354.7" stroke="#222" stroke-width="1.5"/>
<text transform="translate(987.0,2372.8) scale(1,1.1)" class="xl">-0.2</text>
<line x1="1030.4" y1="2351.1" x2="1030.4" y2="2354.7" stroke="#222" stroke-width="1.5"/>
<text transform="translate(1034.7,2372.8) scale(1,1.1)" class="xl">-0.1</text>
<line x1="1077.9" y1="2351.1" x2="1077.9" y2="2354.7" stroke="#222" stroke-width="1.5"/>
<text transform="translate(1077.9,2372.8) scale(1,1.1)" class="xl">0.0</text>
<line x1="1125.6" y1="2351.1" x2="1125.6" y2="2354.7" stroke="#222" stroke-width="1.5"/>
<text transform="translate(1129.9,2372.8) scale(1,1.1)" class="xl">0.1</text>
<line x1="925.0" y1="2167.2" x2="928.4" y2="2167.2" stroke="#222" stroke-width="1.5"/>
<text transform="translate(926.0,2173.3) scale(1,1.1)" class="yl">0.2</text>
<line x1="925.0" y1="2230.7" x2="928.4" y2="2230.7" stroke="#222" stroke-width="1.5"/>
<text transform="translate(917.4,2236.8) scale(1,1.1)" class="yl">0.0</text>
<line x1="925.0" y1="2296.3" x2="928.4" y2="2296.3" stroke="#222" stroke-width="1.5"/>
<text transform="translate(926.0,2302.4) scale(1,1.1)" class="yl">-0.2</text>
<text x="1313.2" y="2112.0" class="pt" clip-path="url(#t32)">Phospholipids</text>
<g clip-path="url(#c32)"><line x1="1352.0" y1="2125.6" x2="1352.0" y2="2351.1" class="dz"/><line x1="1202.0" y1="2218.7" x2="1427.5" y2="2218.7" class="dz"/><path d="M1340.1 2222.1v14.8M1362.5 2196.4v27.9M1344.2 2231.0v28.5M1328.9 2208.4v11.7M1367.7 2226.8v9.9M1364.4 2193.8v17.3M1332.4 2202.4v19.7M1342.5 2242.0v18.7M1331.0 2224.5v10.3M1366.1 2229.2v6.9M1354.8 2213.0v17.0M1321.0 2226.0v27.0M1321.6 2228.8v16.4M1340.0 2223.1v13.5M1329.7 2228.9v31.8M1328.7 2221.8v25.5M1337.6 2254.8v26.0M1359.9 2189.3v24.4M1327.5 2254.9v6.5M1345.7 2206.0v12.7M1343.0 2230.3v17.2M1371.1 2199.5v29.4M1324.9 2243.7v25.7" stroke="#d8cd8e" stroke-opacity="0.2" stroke-width="1.2" fill="none"/><path d="M1340.1 2229.5h0M1362.5 2210.3h0M1344.2 2245.2h0M1328.9 2214.2h0M1367.7 2231.8h0M1364.4 2202.4h0M1332.4 2212.2h0M1342.5 2251.4h0M1331.0 2229.6h0M1366.1 2232.6h0M1354.8 2221.5h0M1321.0 2239.5h0M1321.6 2237.0h0M1340.0 2229.9h0M1329.7 2244.8h0M1328.7 2234.5h0M1337.6 2267.8h0M1359.9 2201.5h0M1327.5 2258.2h0M1345.7 2212.4h0M1343.0 2238.9h0M1371.1 2214.3h0M1324.9 2256.6h0" stroke="#d8cd8e" stroke-opacity="0.2" stroke-width="6" stroke-linecap="round" fill="none"/><line x1="1201.0" y1="2351.1" x2="1428.1" y2="2150.8" stroke="#222" stroke-width="1.1"/><polygon points="1331.2,2231.8 1334.5,2214.3 1338.8,2203.4 1344.3,2201.2 1347.6,2209.9 1348.7,2227.4 1345.4,2244.9 1341.0,2251.5 1335.6,2244.9" fill="#d8cd8e" fill-opacity="0.95" filter="url(#bl1)"/><polygon points="1354.2,2223.0 1355.3,2207.7 1359.6,2201.2 1365.1,2201.2 1367.3,2209.9 1366.2,2223.0 1362.9,2231.8 1358.5,2231.8" fill="#d8cd8e" fill-opacity="0.95" filter="url(#bl1)"/><path d="M1337.2 2204.9v35.1M1340.9 2209.4v32.1M1346.3 2213.4v32.1M1333.5 2217.7v29.3M1332.3 2212.9v37.5M1356.5 2210.9v21.7M1358.0 2196.7v21.6M1358.8 2212.5v34.7" stroke="#d8cd8e" stroke-opacity="0.16" stroke-width="1.3" fill="none"/><path d="M1339.9 2203.4v12.3M1339.6 2202.1v5.3M1345.6 2216.1v6.1M1340.3 2199.4v10.4M1345.0 2206.3v6.1M1336.5 2239.3v9.5M1335.2 2212.2v8.5M1339.8 2227.3v5.0M1344.2 2218.3v9.2M1340.2 2239.7v4.6M1341.7 2220.4v12.1M1338.3 2234.7v14.3M1339.0 2217.6v13.1M1332.7 2229.8v11.6M1337.3 2215.7v5.0M1334.6 2227.2v13.2M1338.0 2209.9v6.2M1334.2 2214.6v11.1M1338.3 2219.0v10.5M1342.4 2222.3v14.2M1335.4 2214.9v8.2M1333.4 2224.8v8.4M1345.7 2214.5v16.7M1358.1 2203.4v15.3M1357.4 2221.0v5.3M1359.4 2204.3v4.8M1365.2 2206.4v15.3M1357.8 2213.2v16.4M1365.4 2199.6v15.7M1365.6 2212.5v17.1M1358.9 2203.9v7.7M1360.5 2200.2v7.3M1364.0 2212.9v4.9M1359.9 2227.5v7.9M1362.9 2225.2v10.3" stroke="#d8cd8e" stroke-opacity="0.35" stroke-width="1.4" fill="none"/><line x1="1211.5" y1="2324.8" x2="1211.5" y2="2340.1" stroke="#d8cd8e" stroke-opacity="0.85" stroke-width="1.4"/><circle cx="1211.5" cy="2332.5" r="3.2" fill="#d8cd8e" fill-opacity="1"/><line x1="1291.4" y1="2213.2" x2="1291.4" y2="2226.3" stroke="#d8cd8e" stroke-opacity="0.85" stroke-width="1.4"/><circle cx="1291.4" cy="2219.8" r="3.2" fill="#d8cd8e" fill-opacity="1"/><line x1="1304.9" y1="2219.3" x2="1304.9" y2="2230.3" stroke="#d8cd8e" stroke-opacity="0.85" stroke-width="1.4"/><circle cx="1304.9" cy="2224.8" r="3.2" fill="#d8cd8e" fill-opacity="1"/><line x1="1303.2" y1="2231.8" x2="1303.2" y2="2249.3" stroke="#d8cd8e" stroke-opacity="0.85" stroke-width="1.4"/><circle cx="1303.2" cy="2240.5" r="3.2" fill="#d8cd8e" fill-opacity="1"/><line x1="1309.3" y1="2240.5" x2="1309.3" y2="2258.1" stroke="#d8cd8e" stroke-opacity="0.85" stroke-width="1.4"/><circle cx="1309.3" cy="2249.3" r="3.2" fill="#d8cd8e" fill-opacity="1"/><line x1="1312.6" y1="2238.4" x2="1312.6" y2="2255.9" stroke="#d8cd8e" stroke-opacity="0.85" stroke-width="1.4"/><circle cx="1312.6" cy="2247.1" r="3.2" fill="#d8cd8e" fill-opacity="1"/><line x1="1311.1" y1="2251.5" x2="1311.1" y2="2264.6" stroke="#d8cd8e" stroke-opacity="0.59" stroke-width="1.4"/><circle cx="1311.1" cy="2258.1" r="3.2" fill="#d8cd8e" fill-opacity="0.7"/><line x1="1318.1" y1="2220.4" x2="1318.1" y2="2237.9" stroke="#d8cd8e" stroke-opacity="0.59" stroke-width="1.4"/><circle cx="1318.1" cy="2229.2" r="3.2" fill="#d8cd8e" fill-opacity="0.7"/><line x1="1321.3" y1="2248.2" x2="1321.3" y2="2261.3" stroke="#d8cd8e" stroke-opacity="0.77" stroke-width="1.4"/><circle cx="1321.3" cy="2254.8" r="3.2" fill="#d8cd8e" fill-opacity="0.9"/><line x1="1327.9" y1="2248.2" x2="1327.9" y2="2261.3" stroke="#d8cd8e" stroke-opacity="0.77" stroke-width="1.4"/><circle cx="1327.9" cy="2254.8" r="3.2" fill="#d8cd8e" fill-opacity="0.9"/><line x1="1325.3" y1="2194.2" x2="1325.3" y2="2211.7" stroke="#d8cd8e" stroke-opacity="0.68" stroke-width="1.4"/><circle cx="1325.3" cy="2202.9" r="3.2" fill="#d8cd8e" fill-opacity="0.8"/><line x1="1335.6" y1="2195.7" x2="1335.6" y2="2213.2" stroke="#d8cd8e" stroke-opacity="0.51" stroke-width="1.4"/><circle cx="1335.6" cy="2204.4" r="3.2" fill="#d8cd8e" fill-opacity="0.6"/><line x1="1326.8" y1="2209.9" x2="1326.8" y2="2227.4" stroke="#d8cd8e" stroke-opacity="0.51" stroke-width="1.4"/><circle cx="1326.8" cy="2218.7" r="3.2" fill="#d8cd8e" fill-opacity="0.6"/><line x1="1330.1" y1="2225.2" x2="1330.1" y2="2242.7" stroke="#d8cd8e" stroke-opacity="0.51" stroke-width="1.4"/><circle cx="1330.1" cy="2234.0" r="3.2" fill="#d8cd8e" fill-opacity="0.6"/><line x1="1415.9" y1="2162.9" x2="1415.9" y2="2173.8" stroke="#d8cd8e" stroke-opacity="0.85" stroke-width="1.4"/><circle cx="1415.9" cy="2168.3" r="3.2" fill="#d8cd8e" fill-opacity="1"/><line x1="1396.8" y1="2176.7" x2="1396.8" y2="2187.6" stroke="#d8cd8e" stroke-opacity="0.85" stroke-width="1.4"/><circle cx="1396.8" cy="2182.1" r="3.2" fill="#d8cd8e" fill-opacity="1"/><line x1="1381.5" y1="2189.1" x2="1381.5" y2="2200.1" stroke="#d8cd8e" stroke-opacity="0.85" stroke-width="1.4"/><circle cx="1381.5" cy="2194.6" r="3.2" fill="#d8cd8e" fill-opacity="1"/><line x1="1381.5" y1="2199.0" x2="1381.5" y2="2209.9" stroke="#d8cd8e" stroke-opacity="0.85" stroke-width="1.4"/><circle cx="1381.5" cy="2204.4" r="3.2" fill="#d8cd8e" fill-opacity="1"/><line x1="1378.2" y1="2196.8" x2="1378.2" y2="2207.7" stroke="#d8cd8e" stroke-opacity="0.85" stroke-width="1.4"/><circle cx="1378.2" cy="2202.3" r="3.2" fill="#d8cd8e" fill-opacity="1"/><line x1="1372.8" y1="2194.6" x2="1372.8" y2="2205.5" stroke="#d8cd8e" stroke-opacity="0.85" stroke-width="1.4"/><circle cx="1372.8" cy="2200.1" r="3.2" fill="#d8cd8e" fill-opacity="1"/><line x1="1371.7" y1="2202.3" x2="1371.7" y2="2213.2" stroke="#d8cd8e" stroke-opacity="0.77" stroke-width="1.4"/><circle cx="1371.7" cy="2207.7" r="3.2" fill="#d8cd8e" fill-opacity="0.9"/><line x1="1361.4" y1="2244.5" x2="1361.4" y2="2257.6" stroke="#d8cd8e" stroke-opacity="0.68" stroke-width="1.4"/><circle cx="1361.4" cy="2251.1" r="3.2" fill="#d8cd8e" fill-opacity="0.8"/><line x1="1365.1" y1="2241.6" x2="1365.1" y2="2329.2" stroke="#d8cd8e" stroke-opacity="0.34" stroke-width="1.4"/><circle cx="1365.1" cy="2285.4" r="3.2" fill="#d8cd8e" fill-opacity="0.4"/><line x1="1345.4" y1="2132.2" x2="1345.4" y2="2176.0" stroke="#d8cd8e" stroke-opacity="0.26" stroke-width="1.4"/><circle cx="1345.4" cy="2154.1" r="3.2" fill="#d8cd8e" fill-opacity="0.3"/><line x1="1337.7" y1="2244.9" x2="1337.7" y2="2297.4" stroke="#d8cd8e" stroke-opacity="0.34" stroke-width="1.4"/><circle cx="1337.7" cy="2271.2" r="3.2" fill="#d8cd8e" fill-opacity="0.4"/></g>
<line x1="1200.2" y1="2124.6" x2="1428.9" y2="2124.6" stroke="#111" stroke-width="1.7"/>
<line x1="1201.0" y1="2123.8" x2="1201.0" y2="2352.7" stroke="#111" stroke-width="1.7"/>
<line x1="1427.5" y1="2123.8" x2="1427.5" y2="2352.7" stroke="#111" stroke-width="2.9"/>
<line x1="1200.2" y1="2351.1" x2="1428.9" y2="2351.1" stroke="#111" stroke-width="3.3"/>
<line x1="1211.5" y1="2351.1" x2="1211.5" y2="2354.7" stroke="#222" stroke-width="1.5"/>
<text transform="translate(1215.8,2372.8) scale(1,1.1)" class="xl">-0.4</text>
<line x1="1281.5" y1="2351.1" x2="1281.5" y2="2354.7" stroke="#222" stroke-width="1.5"/>
<text transform="translate(1285.8,2372.8) scale(1,1.1)" class="xl">-0.2</text>
<line x1="1352.0" y1="2351.1" x2="1352.0" y2="2354.7" stroke="#222" stroke-width="1.5"/>
<text transform="translate(1352.0,2372.8) scale(1,1.1)" class="xl">0.0</text>
<line x1="1422.4" y1="2351.1" x2="1422.4" y2="2354.7" stroke="#222" stroke-width="1.5"/>
<text transform="translate(1426.7,2372.8) scale(1,1.1)" class="xl">0.2</text>
<line x1="1197.6" y1="2158.5" x2="1201.0" y2="2158.5" stroke="#222" stroke-width="1.5"/>
<text transform="translate(1198.6,2164.6) scale(1,1.1)" class="yl">0.2</text>
<line x1="1197.6" y1="2218.7" x2="1201.0" y2="2218.7" stroke="#222" stroke-width="1.5"/>
<text transform="translate(1190.0,2224.8) scale(1,1.1)" class="yl">0.0</text>
<line x1="1197.6" y1="2281.0" x2="1201.0" y2="2281.0" stroke="#222" stroke-width="1.5"/>
<text transform="translate(1198.6,2287.1) scale(1,1.1)" class="yl">-0.2</text>
<line x1="1197.6" y1="2343.4" x2="1201.0" y2="2343.4" stroke="#222" stroke-width="1.5"/>
<text transform="translate(1198.6,2349.5) scale(1,1.1)" class="yl">-0.4</text>
<text x="208.1" y="2414.0" class="pt" clip-path="url(#t33)">Relative lipoprotein lipid concentrations</text>
<g clip-path="url(#c33)"><line x1="212.4" y1="2427.6" x2="212.4" y2="2653.1" class="dz"/><line x1="98.3" y1="2539.9" x2="324.0" y2="2539.9" class="dz"/><path d="M234.5 2468.0v31.2M196.1 2507.0v11.4M162.5 2525.5v24.9M197.6 2617.7v22.5M251.7 2538.2v20.4M205.9 2486.1v19.8M184.0 2572.6v15.3M214.2 2575.4v8.0M198.6 2547.6v30.3M158.7 2556.4v13.9M193.5 2549.4v12.4M261.1 2485.6v16.0M203.0 2563.1v19.7M224.6 2484.2v9.5M218.9 2597.5v20.4M217.4 2583.8v6.9M178.1 2549.9v6.4M207.1 2479.2v8.7M208.5 2479.5v13.2M221.4 2560.8v15.1M221.4 2443.2v26.3M161.1 2560.0v24.1M231.6 2457.1v25.7M215.2 2634.7v7.9M209.1 2518.3v17.4M211.2 2617.8v30.0M225.3 2511.4v18.4M216.6 2568.5v7.7M197.9 2472.2v24.1M217.9 2485.0v10.1M221.5 2533.4v13.0M200.4 2564.8v13.6M175.5 2537.0v19.0M223.1 2618.6v16.2M253.0 2534.2v31.2M199.3 2505.6v20.7M202.3 2568.5v10.2M232.2 2605.6v13.4M187.1 2537.0v6.1M197.0 2608.0v24.8M264.6 2514.1v19.9M171.3 2550.2v15.2M213.0 2477.4v10.5M183.6 2550.7v25.0M237.4 2561.1v22.4M162.0 2548.1v29.8M262.3 2529.8v14.7M204.9 2607.4v9.4M234.3 2587.5v11.5M197.8 2603.6v16.5M233.2 2594.3v15.5M204.6 2532.0v7.8M189.9 2535.1v21.1M230.6 2582.7v9.8M190.4 2559.9v19.3M231.3 2564.0v7.2M196.3 2605.7v26.2M227.7 2510.5v8.5M226.4 2560.2v28.7M235.1 2489.2v13.7M251.6 2536.6v22.7M230.8 2491.1v14.9M226.7 2456.7v22.2M181.1 2533.0v24.7M190.5 2515.6v30.3M217.2 2594.2v27.9M217.6 2548.1v15.9M212.3 2594.2v21.8M201.1 2562.2v30.1M198.9 2566.8v8.3M216.8 2566.4v7.5M241.3 2500.3v17.2M228.8 2619.7v26.5M230.8 2456.0v28.6M201.2 2616.6v30.5M171.1 2530.3v13.3M171.5 2566.7v24.7M220.4 2610.4v27.1M211.3 2441.7v28.9M237.1 2519.5v14.2M163.0 2560.9v25.7" stroke="#e8b483" stroke-opacity="0.2" stroke-width="1.2" fill="none"/><path d="M234.5 2483.7h0M196.1 2512.7h0M162.5 2537.9h0M197.6 2628.9h0M251.7 2548.4h0M205.9 2496.0h0M184.0 2580.3h0M214.2 2579.4h0M198.6 2562.8h0M158.7 2563.4h0M193.5 2555.7h0M261.1 2493.6h0M203.0 2573.0h0M224.6 2488.9h0M218.9 2607.7h0M217.4 2587.3h0M178.1 2553.1h0M207.1 2483.6h0M208.5 2486.1h0M221.4 2568.3h0M221.4 2456.4h0M161.1 2572.0h0M231.6 2469.9h0M215.2 2638.7h0M209.1 2527.0h0M211.2 2632.8h0M225.3 2520.6h0M216.6 2572.4h0M197.9 2484.2h0M217.9 2490.0h0M221.5 2539.9h0M200.4 2571.6h0M175.5 2546.5h0M223.1 2626.7h0M253.0 2549.8h0M199.3 2516.0h0M202.3 2573.6h0M232.2 2612.3h0M187.1 2540.0h0M197.0 2620.4h0M264.6 2524.0h0M171.3 2557.8h0M213.0 2482.6h0M183.6 2563.2h0M237.4 2572.3h0M162.0 2563.0h0M262.3 2537.2h0M204.9 2612.1h0M234.3 2593.3h0M197.8 2611.8h0M233.2 2602.1h0M204.6 2535.9h0M189.9 2545.7h0M230.6 2587.6h0M190.4 2569.5h0M231.3 2567.7h0M196.3 2618.8h0M227.7 2514.7h0M226.4 2574.5h0M235.1 2496.1h0M251.6 2547.9h0M230.8 2498.5h0M226.7 2467.8h0M181.1 2545.3h0M190.5 2530.8h0M217.2 2608.1h0M217.6 2556.1h0M212.3 2605.1h0M201.1 2577.3h0M198.9 2570.9h0M216.8 2570.1h0M241.3 2509.0h0M228.8 2632.9h0M230.8 2470.3h0M201.2 2631.8h0M171.1 2537.0h0M171.5 2579.1h0M220.4 2623.9h0M211.3 2456.1h0M237.1 2526.7h0M163.0 2573.7h0" stroke="#e8b483" stroke-opacity="0.2" stroke-width="6" stroke-linecap="round" fill="none"/><line x1="111.1" y1="2653.1" x2="314.6" y2="2426.6" stroke="#222" stroke-width="1.1"/><polygon points="158.3,2541.2 166.5,2536.3 174.8,2534.6 183.1,2529.6 189.7,2526.3 196.3,2519.7 198.0,2496.5 199.6,2476.7 203.0,2460.1 206.3,2451.8 209.6,2468.4 212.9,2493.2 216.2,2476.7 219.5,2451.8 222.8,2443.6 226.1,2468.4 227.8,2493.2 232.8,2498.2 239.4,2493.2 246.0,2489.9 252.6,2489.9 259.3,2493.2 262.6,2501.5 260.9,2513.1 255.9,2519.7 252.6,2526.3 255.9,2533.0 262.6,2534.6 264.2,2539.6 259.3,2546.2 249.3,2547.9 239.4,2549.5 232.8,2554.5 229.5,2559.5 227.8,2584.3 224.5,2617.4 221.2,2634.0 217.9,2617.4 214.5,2592.6 211.2,2592.6 207.9,2617.4 204.6,2634.0 201.3,2617.4 198.0,2584.3 193.0,2579.3 186.4,2585.9 179.8,2589.3 173.2,2592.6 166.5,2589.3 161.6,2581.0 159.9,2569.4 163.2,2556.1 159.9,2547.9" fill="#e8b483" fill-opacity="0.97" filter="url(#bl1)"/><path d="M184.3 2538.3v38.3M221.1 2515.6v36.6M248.6 2532.7v25.9M243.1 2497.8v38.4M222.5 2469.9v34.0M194.8 2532.7v18.9M189.6 2544.7v29.1M218.6 2582.8v28.3M252.4 2478.5v34.3M239.6 2517.8v19.0M209.2 2562.3v22.3M209.5 2566.9v36.6M259.3 2521.8v39.9M228.2 2496.4v43.0M199.7 2457.9v37.7M201.8 2521.8v32.3M225.2 2484.3v32.7M247.0 2488.7v43.5M229.0 2504.0v29.1M205.9 2538.4v24.1M222.2 2518.0v43.2M231.9 2516.2v29.9M204.4 2445.4v34.1M207.4 2510.3v23.9M249.3 2489.6v37.9M195.1 2552.3v29.9M197.3 2517.5v40.4M199.8 2501.4v25.2M251.1 2517.5v38.3M174.8 2548.4v27.5M208.5 2545.4v40.1M223.4 2599.1v22.6M218.8 2469.5v25.8M181.0 2555.4v33.4M216.1 2467.0v43.9M184.4 2558.9v34.2M243.8 2476.8v41.1M215.9 2576.6v33.3M212.4 2513.2v18.4M226.7 2542.1v30.9M211.1 2548.6v19.6M200.4 2492.4v43.0M206.9 2496.3v39.1M173.1 2525.7v23.9M216.9 2521.2v16.4M203.0 2464.8v32.9M241.7 2531.5v28.6M243.5 2503.1v32.9M235.6 2512.5v31.3M220.0 2506.6v29.7M189.0 2529.9v32.5M221.5 2554.4v34.1M193.2 2560.3v33.4M171.2 2563.1v21.9M230.4 2487.2v20.8M229.6 2502.8v27.4M222.1 2554.4v31.2M202.1 2480.7v26.9M204.3 2435.6v43.1M256.7 2488.8v31.9M244.2 2525.7v37.5M194.7 2567.0v20.1M183.0 2543.1v39.0M184.8 2534.4v30.3M236.6 2530.4v20.7M250.6 2514.8v24.9M181.9 2523.5v43.8M220.2 2609.3v32.1M237.3 2495.6v16.2M200.1 2573.6v23.9M257.8 2516.6v37.7M207.6 2508.3v25.8M229.5 2490.3v39.8M231.9 2492.7v42.2M226.2 2520.7v23.6M201.6 2554.1v29.6M253.4 2498.7v24.5M218.4 2543.5v21.6M200.9 2503.9v38.3M182.5 2576.0v22.5M173.0 2524.0v35.5M234.1 2539.7v22.7" stroke="#e8b483" stroke-opacity="0.16" stroke-width="1.3" fill="none"/><path d="M216.5 2483.1v5.1M201.0 2580.5v5.8M230.9 2548.6v4.9M204.8 2589.7v7.1M256.0 2504.5v12.9M256.0 2500.5v9.4M178.7 2552.2v15.2M221.4 2576.9v16.0M220.0 2532.0v12.5M230.5 2517.2v12.3M236.4 2522.4v16.9M224.0 2546.6v14.8M207.8 2488.0v13.9M205.5 2457.5v15.9M223.8 2499.5v11.2M201.2 2486.0v7.0M224.3 2456.9v14.0M204.2 2470.6v12.4M176.2 2563.5v8.4M246.4 2499.5v15.8M163.2 2549.8v8.5M209.6 2535.7v14.7M222.3 2454.6v11.6M224.5 2561.8v11.3M189.4 2523.8v8.5M200.7 2523.3v16.4M217.4 2460.9v15.9M221.2 2461.6v9.2M216.4 2554.7v12.2M204.0 2552.3v7.4M252.7 2512.0v11.3M207.0 2523.0v9.5M225.2 2495.5v12.9M172.6 2565.3v9.6M221.7 2492.9v5.5M242.7 2520.3v9.6M216.0 2568.0v4.3M229.1 2529.3v12.3M191.0 2535.6v4.3M210.2 2545.3v4.5M167.8 2572.8v5.7M216.2 2557.2v11.2M219.9 2565.7v13.9M182.0 2566.3v14.3M231.1 2532.8v13.9M206.9 2576.9v13.4M231.7 2515.7v8.9M238.8 2494.1v15.5M222.3 2535.5v8.0M166.2 2570.3v5.9M237.3 2526.5v10.1M225.3 2534.9v10.7M216.1 2503.3v13.0M204.1 2617.5v14.3M219.4 2595.4v4.3M259.9 2533.0v12.4M220.9 2532.9v14.1M249.0 2518.6v17.4M207.9 2601.8v5.6M204.1 2481.1v11.9M202.7 2529.5v12.4M246.8 2492.2v17.0M214.3 2556.3v12.5M205.9 2509.3v5.6M219.9 2536.5v5.1M203.7 2496.3v4.8M221.3 2577.4v14.6M189.3 2546.2v4.4M203.6 2599.2v8.8M181.2 2577.2v11.1M167.9 2545.2v9.2M224.8 2603.3v16.7M252.0 2541.7v7.7M221.5 2453.5v8.7M167.3 2531.1v13.5M183.5 2540.8v9.1M184.9 2531.3v15.3M212.7 2486.3v11.6M203.5 2563.6v9.8M180.3 2536.3v14.7M210.4 2470.6v11.3M172.6 2554.6v11.3M208.0 2510.8v9.2M205.4 2585.4v11.0M220.8 2601.2v10.7M208.6 2469.9v17.8M253.3 2503.3v5.4M230.2 2529.6v6.3M248.2 2502.1v11.5M227.5 2496.7v15.8M197.3 2565.8v11.9M203.2 2601.4v7.1M216.5 2509.8v16.2M222.9 2554.6v17.5M192.6 2526.8v17.5M210.2 2591.0v11.7M236.6 2506.6v13.8M209.9 2517.7v17.6M216.2 2562.1v6.0M223.4 2450.7v4.4M219.4 2453.3v6.3M208.4 2502.9v6.5M248.8 2540.2v12.1M241.0 2518.0v13.7M245.1 2531.1v16.8M206.0 2513.6v17.3M200.5 2491.9v5.1M198.4 2494.8v12.7M170.1 2548.2v12.3M170.9 2554.8v16.1M179.6 2539.0v8.8M249.7 2488.5v7.7M211.8 2503.2v5.8M240.7 2494.5v17.7M215.2 2522.6v16.1M222.5 2503.0v13.2M167.7 2543.9v16.4M259.0 2494.3v10.2M205.4 2538.1v9.4M197.9 2522.1v15.8M192.0 2555.7v16.6M224.8 2584.7v12.8M211.4 2476.9v14.1M210.6 2551.0v13.3M240.8 2539.5v4.5M168.8 2537.3v6.0M218.7 2489.0v14.0M244.1 2518.4v9.1M220.6 2607.4v8.2M212.8 2517.0v8.6M250.3 2535.1v6.6M213.2 2579.6v14.8M204.1 2522.8v9.0M205.4 2453.6v7.1M219.0 2473.3v13.5M192.7 2524.0v13.0M200.9 2481.1v15.8M208.9 2536.2v15.5M169.1 2567.5v15.9M217.9 2589.5v7.5M201.4 2554.7v4.6M238.8 2490.1v16.2M203.3 2502.6v10.5M221.3 2491.6v12.2M198.1 2575.1v17.1M220.5 2470.8v10.9M210.6 2482.2v12.3M219.2 2541.7v10.9M209.2 2570.1v9.1M189.2 2566.0v9.2M182.7 2560.7v11.5M215.0 2520.7v13.0M256.5 2530.6v17.4M165.8 2558.5v7.0M190.1 2576.3v5.4M208.2 2546.7v12.8M243.9 2517.2v4.7M205.4 2452.9v17.2M243.7 2535.6v10.8M234.6 2548.5v6.3M202.1 2555.8v16.8M218.3 2560.8v6.5M171.3 2537.9v14.4M212.7 2489.7v4.1M218.5 2553.7v11.1M198.6 2561.6v7.8M246.1 2528.7v17.0M178.5 2583.7v10.6M243.4 2485.7v11.1M220.8 2621.8v11.9M173.8 2556.1v15.8M188.3 2537.4v11.5M217.6 2469.0v15.2M214.8 2509.5v6.0M219.8 2564.6v7.1M193.7 2567.0v7.9M215.0 2490.0v7.9M204.4 2536.4v6.3M173.2 2579.8v7.3M221.3 2511.2v10.7M213.7 2574.0v6.2M167.1 2571.3v13.3M214.4 2578.4v6.1M187.0 2581.5v6.5M184.6 2543.0v17.3M209.6 2546.4v17.4M203.4 2509.4v11.0M205.9 2526.9v17.7M223.8 2588.0v14.5M207.1 2503.1v16.1M219.0 2547.8v17.9M208.6 2552.0v14.5M201.8 2574.1v5.3M180.7 2542.8v9.7M212.9 2570.0v15.9M219.1 2473.4v7.8M239.6 2529.9v8.0M223.0 2539.1v15.9M223.9 2460.1v4.3M172.4 2547.7v16.1M243.7 2507.4v5.7M196.6 2516.9v7.2M194.6 2548.5v6.7M249.3 2503.4v6.5M216.9 2599.0v14.0M219.3 2470.0v14.1M201.1 2578.5v9.2M203.0 2548.0v13.8M190.0 2544.4v9.1M260.5 2499.2v14.2M195.2 2549.1v16.5M242.1 2497.0v16.7M166.7 2561.8v13.7M187.6 2544.6v4.5M184.6 2568.9v14.7M214.6 2492.9v14.5M219.8 2457.9v12.6M176.9 2565.0v6.1M239.0 2497.4v5.5M216.6 2532.7v10.4M169.5 2529.8v14.5M210.4 2503.1v17.3M202.1 2524.2v4.7M219.7 2470.9v17.4M238.4 2540.1v13.8M207.1 2463.9v17.6M193.9 2554.0v7.8M216.0 2549.6v16.1M236.0 2496.1v14.7M166.4 2559.9v5.9M175.0 2545.0v14.5M247.3 2502.8v11.1M179.8 2564.5v15.2M261.0 2497.6v6.8M222.2 2562.0v15.4M216.1 2492.2v5.2M210.6 2569.3v17.9M220.0 2543.0v10.0M173.9 2583.0v13.3M202.9 2578.1v4.8M193.9 2570.6v4.0M180.8 2579.8v15.5M234.0 2518.5v9.9M193.3 2557.6v15.7M225.6 2501.3v10.7M225.6 2593.0v7.6M207.2 2467.0v7.1M187.2 2528.7v6.0M198.9 2561.8v6.6M212.8 2553.0v14.6M179.5 2574.9v17.7M204.3 2571.8v5.7M202.9 2478.6v5.6M219.5 2464.7v10.4M197.6 2515.2v5.8M250.1 2523.6v12.2M235.3 2538.1v15.9M217.7 2566.7v13.8M165.5 2552.6v7.4M165.5 2566.4v5.7M205.1 2581.4v4.9M211.2 2576.4v8.2M210.7 2504.3v12.0M201.1 2527.8v9.9M248.7 2501.1v15.6M210.7 2516.6v13.9M169.3 2553.8v8.0M199.0 2523.4v17.7M210.0 2523.9v16.9M238.3 2523.7v12.1M214.3 2520.6v11.0M162.3 2540.2v9.4M253.8 2501.9v9.2M221.3 2497.7v12.0M218.3 2485.3v13.9M160.8 2565.6v14.4M178.0 2551.0v13.1M217.3 2607.2v11.0M207.5 2569.7v11.4M171.4 2563.3v9.5M189.3 2553.5v11.9M222.6 2569.7v16.5M205.7 2522.9v7.0M214.6 2502.1v4.7M238.7 2510.9v17.9M173.4 2539.2v13.7M206.4 2599.2v12.9M204.8 2578.2v7.7M261.2 2500.0v4.8M233.8 2502.3v13.6M207.4 2613.7v12.1M211.4 2511.6v10.0M243.4 2531.9v8.7M189.1 2580.2v4.1M229.2 2537.7v15.4M205.4 2618.5v5.1M243.1 2536.4v11.0M220.3 2456.6v13.0M167.4 2581.6v12.4M167.3 2548.8v13.1M251.7 2488.8v10.7M260.3 2502.2v8.5M183.2 2531.9v18.0M203.9 2564.8v15.5M164.9 2566.1v17.4M245.5 2505.3v12.2M249.9 2524.6v17.5M211.3 2539.8v13.7M200.1 2479.8v6.8M181.0 2548.1v11.3M245.4 2511.8v12.4M161.0 2533.5v14.5M215.0 2578.9v10.1M214.0 2564.3v16.7M234.8 2537.5v14.9M222.3 2591.7v5.6M164.5 2557.4v8.0M207.4 2550.0v7.8M173.2 2554.7v6.7M251.3 2514.3v12.8M198.1 2572.4v15.5M201.2 2546.3v5.9M204.3 2500.7v10.5M192.8 2558.9v6.7M222.5 2473.4v17.3M226.0 2530.5v7.8M224.2 2567.8v9.7M207.0 2534.3v8.6M207.7 2496.7v17.6M221.2 2569.7v10.7" stroke="#e8b483" stroke-opacity="0.35" stroke-width="1.4" fill="none"/><line x1="105.3" y1="2620.7" x2="105.3" y2="2630.6" stroke="#e8b483" stroke-opacity="0.85" stroke-width="1.4"/><circle cx="105.3" cy="2625.7" r="3.2" fill="#e8b483" fill-opacity="1"/><line x1="106.9" y1="2615.7" x2="106.9" y2="2625.7" stroke="#e8b483" stroke-opacity="0.85" stroke-width="1.4"/><circle cx="106.9" cy="2620.7" r="3.2" fill="#e8b483" fill-opacity="1"/><line x1="112.7" y1="2612.4" x2="112.7" y2="2622.4" stroke="#e8b483" stroke-opacity="0.85" stroke-width="1.4"/><circle cx="112.7" cy="2617.4" r="3.2" fill="#e8b483" fill-opacity="1"/><line x1="120.2" y1="2630.6" x2="120.2" y2="2640.6" stroke="#e8b483" stroke-opacity="0.85" stroke-width="1.4"/><circle cx="120.2" cy="2635.6" r="3.2" fill="#e8b483" fill-opacity="1"/><line x1="123.5" y1="2617.4" x2="123.5" y2="2627.3" stroke="#e8b483" stroke-opacity="0.85" stroke-width="1.4"/><circle cx="123.5" cy="2622.4" r="3.2" fill="#e8b483" fill-opacity="1"/><line x1="124.3" y1="2624.0" x2="124.3" y2="2634.0" stroke="#e8b483" stroke-opacity="0.85" stroke-width="1.4"/><circle cx="124.3" cy="2629.0" r="3.2" fill="#e8b483" fill-opacity="1"/><line x1="128.5" y1="2604.2" x2="128.5" y2="2614.1" stroke="#e8b483" stroke-opacity="0.85" stroke-width="1.4"/><circle cx="128.5" cy="2609.1" r="3.2" fill="#e8b483" fill-opacity="1"/><line x1="131.8" y1="2600.8" x2="131.8" y2="2610.8" stroke="#e8b483" stroke-opacity="0.85" stroke-width="1.4"/><circle cx="131.8" cy="2605.8" r="3.2" fill="#e8b483" fill-opacity="1"/><line x1="135.1" y1="2602.5" x2="135.1" y2="2612.4" stroke="#e8b483" stroke-opacity="0.85" stroke-width="1.4"/><circle cx="135.1" cy="2607.5" r="3.2" fill="#e8b483" fill-opacity="1"/><line x1="138.4" y1="2581.0" x2="138.4" y2="2590.9" stroke="#e8b483" stroke-opacity="0.85" stroke-width="1.4"/><circle cx="138.4" cy="2585.9" r="3.2" fill="#e8b483" fill-opacity="1"/><line x1="140.0" y1="2590.9" x2="140.0" y2="2600.8" stroke="#e8b483" stroke-opacity="0.85" stroke-width="1.4"/><circle cx="140.0" cy="2595.9" r="3.2" fill="#e8b483" fill-opacity="1"/><line x1="141.7" y1="2615.7" x2="141.7" y2="2625.7" stroke="#e8b483" stroke-opacity="0.85" stroke-width="1.4"/><circle cx="141.7" cy="2620.7" r="3.2" fill="#e8b483" fill-opacity="1"/><line x1="145.0" y1="2584.3" x2="145.0" y2="2594.2" stroke="#e8b483" stroke-opacity="0.85" stroke-width="1.4"/><circle cx="145.0" cy="2589.3" r="3.2" fill="#e8b483" fill-opacity="1"/><line x1="146.7" y1="2617.4" x2="146.7" y2="2627.3" stroke="#e8b483" stroke-opacity="0.85" stroke-width="1.4"/><circle cx="146.7" cy="2622.4" r="3.2" fill="#e8b483" fill-opacity="1"/><line x1="146.7" y1="2624.0" x2="146.7" y2="2634.0" stroke="#e8b483" stroke-opacity="0.85" stroke-width="1.4"/><circle cx="146.7" cy="2629.0" r="3.2" fill="#e8b483" fill-opacity="1"/><line x1="151.6" y1="2595.9" x2="151.6" y2="2605.8" stroke="#e8b483" stroke-opacity="0.85" stroke-width="1.4"/><circle cx="151.6" cy="2600.8" r="3.2" fill="#e8b483" fill-opacity="1"/><line x1="151.6" y1="2615.7" x2="151.6" y2="2625.7" stroke="#e8b483" stroke-opacity="0.85" stroke-width="1.4"/><circle cx="151.6" cy="2620.7" r="3.2" fill="#e8b483" fill-opacity="1"/><line x1="156.6" y1="2579.3" x2="156.6" y2="2589.3" stroke="#e8b483" stroke-opacity="0.85" stroke-width="1.4"/><circle cx="156.6" cy="2584.3" r="3.2" fill="#e8b483" fill-opacity="1"/><line x1="160.7" y1="2597.5" x2="160.7" y2="2607.5" stroke="#e8b483" stroke-opacity="0.85" stroke-width="1.4"/><circle cx="160.7" cy="2602.5" r="3.2" fill="#e8b483" fill-opacity="1"/><line x1="164.9" y1="2595.9" x2="164.9" y2="2605.8" stroke="#e8b483" stroke-opacity="0.85" stroke-width="1.4"/><circle cx="164.9" cy="2600.8" r="3.2" fill="#e8b483" fill-opacity="1"/><line x1="168.2" y1="2605.8" x2="168.2" y2="2615.7" stroke="#e8b483" stroke-opacity="0.85" stroke-width="1.4"/><circle cx="168.2" cy="2610.8" r="3.2" fill="#e8b483" fill-opacity="1"/><line x1="135.1" y1="2629.0" x2="135.1" y2="2638.9" stroke="#e8b483" stroke-opacity="0.85" stroke-width="1.4"/><circle cx="135.1" cy="2634.0" r="3.2" fill="#e8b483" fill-opacity="1"/><line x1="145.0" y1="2612.4" x2="145.0" y2="2622.4" stroke="#e8b483" stroke-opacity="0.85" stroke-width="1.4"/><circle cx="145.0" cy="2617.4" r="3.2" fill="#e8b483" fill-opacity="1"/><line x1="280.8" y1="2448.5" x2="280.8" y2="2458.5" stroke="#e8b483" stroke-opacity="0.85" stroke-width="1.4"/><circle cx="280.8" cy="2453.5" r="3.2" fill="#e8b483" fill-opacity="1"/><line x1="295.7" y1="2436.9" x2="295.7" y2="2446.9" stroke="#e8b483" stroke-opacity="0.85" stroke-width="1.4"/><circle cx="295.7" cy="2441.9" r="3.2" fill="#e8b483" fill-opacity="1"/><line x1="301.5" y1="2445.2" x2="301.5" y2="2455.1" stroke="#e8b483" stroke-opacity="0.85" stroke-width="1.4"/><circle cx="301.5" cy="2450.2" r="3.2" fill="#e8b483" fill-opacity="1"/><line x1="312.2" y1="2442.7" x2="312.2" y2="2452.7" stroke="#e8b483" stroke-opacity="0.85" stroke-width="1.4"/><circle cx="312.2" cy="2447.7" r="3.2" fill="#e8b483" fill-opacity="1"/><line x1="294.8" y1="2459.3" x2="294.8" y2="2469.2" stroke="#e8b483" stroke-opacity="0.85" stroke-width="1.4"/><circle cx="294.8" cy="2464.3" r="3.2" fill="#e8b483" fill-opacity="1"/><line x1="289.9" y1="2467.6" x2="289.9" y2="2477.5" stroke="#e8b483" stroke-opacity="0.85" stroke-width="1.4"/><circle cx="289.9" cy="2472.5" r="3.2" fill="#e8b483" fill-opacity="1"/><line x1="304.0" y1="2460.1" x2="304.0" y2="2470.0" stroke="#e8b483" stroke-opacity="0.85" stroke-width="1.4"/><circle cx="304.0" cy="2465.1" r="3.2" fill="#e8b483" fill-opacity="1"/><line x1="308.1" y1="2453.5" x2="308.1" y2="2463.4" stroke="#e8b483" stroke-opacity="0.85" stroke-width="1.4"/><circle cx="308.1" cy="2458.5" r="3.2" fill="#e8b483" fill-opacity="1"/><line x1="308.9" y1="2456.8" x2="308.9" y2="2466.7" stroke="#e8b483" stroke-opacity="0.85" stroke-width="1.4"/><circle cx="308.9" cy="2461.8" r="3.2" fill="#e8b483" fill-opacity="1"/><line x1="298.2" y1="2479.2" x2="298.2" y2="2489.1" stroke="#e8b483" stroke-opacity="0.85" stroke-width="1.4"/><circle cx="298.2" cy="2484.1" r="3.2" fill="#e8b483" fill-opacity="1"/><line x1="260.9" y1="2468.4" x2="260.9" y2="2478.3" stroke="#e8b483" stroke-opacity="0.85" stroke-width="1.4"/><circle cx="260.9" cy="2473.4" r="3.2" fill="#e8b483" fill-opacity="1"/><line x1="265.9" y1="2488.3" x2="265.9" y2="2498.2" stroke="#e8b483" stroke-opacity="0.85" stroke-width="1.4"/><circle cx="265.9" cy="2493.2" r="3.2" fill="#e8b483" fill-opacity="1"/><line x1="273.3" y1="2508.1" x2="273.3" y2="2518.1" stroke="#e8b483" stroke-opacity="0.85" stroke-width="1.4"/><circle cx="273.3" cy="2513.1" r="3.2" fill="#e8b483" fill-opacity="1"/><line x1="264.2" y1="2521.4" x2="264.2" y2="2531.3" stroke="#e8b483" stroke-opacity="0.85" stroke-width="1.4"/><circle cx="264.2" cy="2526.3" r="3.2" fill="#e8b483" fill-opacity="1"/><line x1="264.2" y1="2533.0" x2="264.2" y2="2542.9" stroke="#e8b483" stroke-opacity="0.85" stroke-width="1.4"/><circle cx="264.2" cy="2537.9" r="3.2" fill="#e8b483" fill-opacity="1"/><line x1="261.7" y1="2541.2" x2="261.7" y2="2590.9" stroke="#e8b483" stroke-opacity="0.85" stroke-width="1.4"/><circle cx="261.7" cy="2566.1" r="3.2" fill="#e8b483" fill-opacity="1"/><line x1="261.7" y1="2563.6" x2="261.7" y2="2616.6" stroke="#e8b483" stroke-opacity="0.85" stroke-width="1.4"/><circle cx="261.7" cy="2590.1" r="3.2" fill="#e8b483" fill-opacity="1"/><line x1="266.7" y1="2561.1" x2="266.7" y2="2614.1" stroke="#e8b483" stroke-opacity="0.85" stroke-width="1.4"/><circle cx="266.7" cy="2587.6" r="3.2" fill="#e8b483" fill-opacity="1"/><line x1="160.7" y1="2475.8" x2="160.7" y2="2527.2" stroke="#e8b483" stroke-opacity="0.85" stroke-width="1.4"/><circle cx="160.7" cy="2501.5" r="3.2" fill="#e8b483" fill-opacity="1"/><line x1="188.9" y1="2494.1" x2="188.9" y2="2540.4" stroke="#e8b483" stroke-opacity="0.85" stroke-width="1.4"/><circle cx="188.9" cy="2517.2" r="3.2" fill="#e8b483" fill-opacity="1"/><line x1="197.2" y1="2483.3" x2="197.2" y2="2509.8" stroke="#e8b483" stroke-opacity="0.85" stroke-width="1.4"/><circle cx="197.2" cy="2496.5" r="3.2" fill="#e8b483" fill-opacity="1"/><line x1="241.9" y1="2473.4" x2="241.9" y2="2513.1" stroke="#e8b483" stroke-opacity="0.85" stroke-width="1.4"/><circle cx="241.9" cy="2493.2" r="3.2" fill="#e8b483" fill-opacity="1"/><line x1="249.3" y1="2549.5" x2="249.3" y2="2569.4" stroke="#e8b483" stroke-opacity="0.85" stroke-width="1.4"/><circle cx="249.3" cy="2559.5" r="3.2" fill="#e8b483" fill-opacity="1"/><line x1="182.3" y1="2589.3" x2="182.3" y2="2615.7" stroke="#e8b483" stroke-opacity="0.68" stroke-width="1.4"/><circle cx="182.3" cy="2602.5" r="3.2" fill="#e8b483" fill-opacity="0.8"/></g>
<line x1="96.5" y1="2426.6" x2="325.4" y2="2426.6" stroke="#111" stroke-width="1.7"/>
<line x1="97.3" y1="2425.8" x2="97.3" y2="2654.7" stroke="#111" stroke-width="1.7"/>
<line x1="324.0" y1="2425.8" x2="324.0" y2="2654.7" stroke="#111" stroke-width="2.9"/>
<line x1="96.5" y1="2653.1" x2="325.4" y2="2653.1" stroke="#111" stroke-width="3.3"/>
<line x1="101.3" y1="2653.1" x2="101.3" y2="2656.7" stroke="#222" stroke-width="1.5"/>
<text transform="translate(101.3,2674.8) scale(1,1.1)" class="xl">-0.50</text>
<line x1="157.1" y1="2653.1" x2="157.1" y2="2656.7" stroke="#222" stroke-width="1.5"/>
<text transform="translate(161.4,2674.8) scale(1,1.1)" class="xl">-0.25</text>
<line x1="212.4" y1="2653.1" x2="212.4" y2="2656.7" stroke="#222" stroke-width="1.5"/>
<text transform="translate(212.4,2674.8) scale(1,1.1)" class="xl">0.00</text>
<line x1="268.2" y1="2653.1" x2="268.2" y2="2656.7" stroke="#222" stroke-width="1.5"/>
<text transform="translate(272.5,2674.8) scale(1,1.1)" class="xl">0.25</text>
<line x1="93.9" y1="2479.1" x2="97.3" y2="2479.1" stroke="#222" stroke-width="1.5"/>
<text transform="translate(94.9,2485.2) scale(1,1.1)" class="yl">0.25</text>
<line x1="93.9" y1="2539.9" x2="97.3" y2="2539.9" stroke="#222" stroke-width="1.5"/>
<text transform="translate(86.3,2546.0) scale(1,1.1)" class="yl">0.00</text>
<line x1="93.9" y1="2602.1" x2="97.3" y2="2602.1" stroke="#222" stroke-width="1.5"/>
<text transform="translate(94.9,2608.2) scale(1,1.1)" class="yl">-0.25</text>
<text x="481.9" y="2414.0" class="pt" clip-path="url(#t34)">Total lipids</text>
<g clip-path="url(#c34)"><line x1="514.1" y1="2427.6" x2="514.1" y2="2653.1" class="dz"/><line x1="370.2" y1="2514.1" x2="596.1" y2="2514.1" class="dz"/><path d="M527.7 2533.1v31.4M498.0 2495.4v16.1M502.7 2449.0v29.3M500.6 2509.9v15.1M498.0 2509.7v17.7M530.6 2526.8v18.2M505.5 2576.6v29.9M529.9 2483.7v21.6M516.8 2531.0v26.6M524.3 2450.0v29.2M523.5 2442.0v20.9M517.4 2532.5v23.6M522.5 2565.7v6.9M508.4 2425.5v25.8M530.0 2458.4v24.9M513.3 2497.9v13.1M492.0 2560.8v7.8M505.6 2560.1v27.8M489.2 2533.0v11.0M504.9 2538.8v19.2M526.5 2539.8v7.8M501.3 2455.2v11.3M526.7 2449.8v6.2M495.4 2494.2v31.0M496.4 2524.0v25.8M532.5 2522.9v17.2M521.2 2455.3v25.6M504.9 2569.1v26.2M511.0 2585.1v25.5M505.2 2524.2v7.4M520.4 2532.8v30.9M510.4 2431.6v29.5M503.5 2535.1v7.0M497.1 2481.6v6.6M530.3 2455.7v15.3M520.5 2568.2v8.3M504.4 2584.8v31.8M495.7 2494.0v22.8M489.7 2510.3v22.6M526.0 2501.5v12.2" stroke="#e87e94" stroke-opacity="0.2" stroke-width="1.2" fill="none"/><path d="M527.7 2548.7h0M498.0 2503.5h0M502.7 2463.7h0M500.6 2517.4h0M498.0 2518.5h0M530.6 2535.9h0M505.5 2591.5h0M529.9 2494.5h0M516.8 2544.3h0M524.3 2464.6h0M523.5 2452.4h0M517.4 2544.3h0M522.5 2569.2h0M508.4 2438.4h0M530.0 2470.9h0M513.3 2504.5h0M492.0 2564.7h0M505.6 2574.0h0M489.2 2538.5h0M504.9 2548.4h0M526.5 2543.7h0M501.3 2460.8h0M526.7 2452.9h0M495.4 2509.8h0M496.4 2536.9h0M532.5 2531.5h0M521.2 2468.1h0M504.9 2582.2h0M511.0 2597.9h0M505.2 2527.9h0M520.4 2548.2h0M510.4 2446.3h0M503.5 2538.6h0M497.1 2484.9h0M530.3 2463.4h0M520.5 2572.3h0M504.4 2600.7h0M495.7 2505.4h0M489.7 2521.6h0M526.0 2507.6h0" stroke="#e87e94" stroke-opacity="0.2" stroke-width="6" stroke-linecap="round" fill="none"/><line x1="369.2" y1="2653.1" x2="596.1" y2="2436.4" stroke="#222" stroke-width="1.1"/><polygon points="495.1,2520.7 498.3,2498.8 501.6,2481.3 506.0,2472.5 510.4,2483.5 512.6,2507.5 512.1,2529.4 509.3,2551.3 504.9,2564.4 500.5,2555.7 496.1,2538.2" fill="#e87e94" fill-opacity="0.97" filter="url(#bl1)"/><polygon points="516.9,2516.3 518.0,2494.4 520.2,2476.9 523.5,2468.2 526.8,2476.9 529.0,2494.4 529.0,2516.3 526.8,2533.8 523.5,2542.5 520.2,2538.2 518.0,2529.4" fill="#e87e94" fill-opacity="0.97" filter="url(#bl1)"/><path d="M508.9 2492.2v43.9M501.1 2501.9v40.8M503.6 2466.9v30.8M501.1 2481.2v28.0M506.2 2510.0v36.2M509.6 2531.8v28.8M502.3 2486.3v38.9M500.1 2494.3v19.1M508.3 2462.9v41.4M503.4 2460.8v42.5M525.8 2454.9v42.5M519.3 2501.1v40.9M525.4 2488.5v16.5M517.9 2511.3v22.5M521.8 2460.2v34.0M522.0 2489.3v17.9" stroke="#e87e94" stroke-opacity="0.16" stroke-width="1.3" fill="none"/><path d="M504.6 2502.8v6.9M499.7 2507.1v6.8M507.8 2498.6v15.3M507.4 2542.4v18.0M507.3 2547.8v13.0M497.8 2519.2v5.4M507.9 2470.5v14.7M510.7 2523.3v8.8M507.5 2531.3v8.3M501.5 2511.3v10.9M501.8 2519.2v13.8M505.5 2508.7v7.9M505.5 2527.4v9.6M495.9 2511.3v9.2M504.5 2534.5v17.8M496.1 2513.5v13.7M505.8 2478.0v4.8M498.0 2516.2v7.9M504.2 2500.9v5.1M506.9 2542.4v4.8M505.0 2527.5v5.1M508.9 2532.9v12.2M499.4 2516.8v11.7M505.0 2480.7v13.6M509.2 2475.7v15.2M500.0 2540.2v6.6M502.2 2552.1v7.0M501.8 2499.6v16.7M505.6 2516.3v10.9M508.5 2522.6v17.7M510.3 2520.3v6.9M501.2 2544.5v11.3M509.4 2501.2v15.5M502.2 2540.9v17.3M498.0 2501.5v12.1M498.4 2511.0v11.3M505.2 2481.8v9.9M502.9 2555.9v6.9M502.8 2549.8v15.3M503.5 2491.2v4.8M507.5 2497.2v8.2M499.9 2507.8v15.1M500.7 2517.0v13.6M518.8 2512.2v10.5M525.9 2522.1v15.9M522.4 2524.5v14.6M519.0 2526.3v8.8M523.8 2518.2v14.3M523.2 2537.3v9.3M522.3 2486.6v13.0M524.7 2492.8v10.5M527.2 2513.5v8.3M526.2 2495.1v15.0M523.3 2481.4v6.7M528.4 2494.2v5.6M525.6 2519.8v17.2M520.5 2488.1v16.8M522.6 2526.4v15.7M521.1 2519.0v7.8M522.4 2500.0v11.0M520.5 2505.1v7.6M519.4 2495.1v11.4M520.6 2490.3v11.0M523.5 2502.0v8.8M522.3 2528.9v5.3M519.9 2495.3v15.9M522.8 2481.9v6.1M526.9 2508.2v10.9" stroke="#e87e94" stroke-opacity="0.35" stroke-width="1.4" fill="none"/><line x1="379.7" y1="2625.0" x2="379.7" y2="2642.5" stroke="#e87e94" stroke-opacity="0.85" stroke-width="1.4"/><circle cx="379.7" cy="2633.8" r="3.2" fill="#e87e94" fill-opacity="1"/><line x1="445.2" y1="2507.5" x2="445.2" y2="2520.7" stroke="#e87e94" stroke-opacity="0.85" stroke-width="1.4"/><circle cx="445.2" cy="2514.1" r="3.2" fill="#e87e94" fill-opacity="1"/><line x1="467.0" y1="2515.6" x2="467.0" y2="2526.6" stroke="#e87e94" stroke-opacity="0.85" stroke-width="1.4"/><circle cx="467.0" cy="2521.1" r="3.2" fill="#e87e94" fill-opacity="1"/><line x1="457.4" y1="2533.4" x2="457.4" y2="2555.2" stroke="#e87e94" stroke-opacity="0.85" stroke-width="1.4"/><circle cx="457.4" cy="2544.3" r="3.2" fill="#e87e94" fill-opacity="1"/><line x1="450.6" y1="2565.5" x2="450.6" y2="2583.0" stroke="#e87e94" stroke-opacity="0.85" stroke-width="1.4"/><circle cx="450.6" cy="2574.3" r="3.2" fill="#e87e94" fill-opacity="1"/><line x1="474.9" y1="2550.9" x2="474.9" y2="2564.0" stroke="#e87e94" stroke-opacity="0.85" stroke-width="1.4"/><circle cx="474.9" cy="2557.4" r="3.2" fill="#e87e94" fill-opacity="1"/><line x1="481.3" y1="2485.7" x2="481.3" y2="2511.9" stroke="#e87e94" stroke-opacity="0.77" stroke-width="1.4"/><circle cx="481.3" cy="2498.8" r="3.2" fill="#e87e94" fill-opacity="0.9"/><line x1="479.7" y1="2510.8" x2="479.7" y2="2523.9" stroke="#e87e94" stroke-opacity="0.77" stroke-width="1.4"/><circle cx="479.7" cy="2517.4" r="3.2" fill="#e87e94" fill-opacity="0.9"/><line x1="486.7" y1="2511.9" x2="486.7" y2="2525.0" stroke="#e87e94" stroke-opacity="0.68" stroke-width="1.4"/><circle cx="486.7" cy="2518.5" r="3.2" fill="#e87e94" fill-opacity="0.8"/><line x1="478.0" y1="2526.1" x2="478.0" y2="2539.3" stroke="#e87e94" stroke-opacity="0.59" stroke-width="1.4"/><circle cx="478.0" cy="2532.7" r="3.2" fill="#e87e94" fill-opacity="0.7"/><line x1="482.4" y1="2548.0" x2="482.4" y2="2561.1" stroke="#e87e94" stroke-opacity="0.68" stroke-width="1.4"/><circle cx="482.4" cy="2554.6" r="3.2" fill="#e87e94" fill-opacity="0.8"/><line x1="486.7" y1="2546.9" x2="486.7" y2="2560.1" stroke="#e87e94" stroke-opacity="0.68" stroke-width="1.4"/><circle cx="486.7" cy="2553.5" r="3.2" fill="#e87e94" fill-opacity="0.8"/><line x1="492.4" y1="2547.4" x2="492.4" y2="2560.5" stroke="#e87e94" stroke-opacity="0.68" stroke-width="1.4"/><circle cx="492.4" cy="2553.9" r="3.2" fill="#e87e94" fill-opacity="0.8"/><line x1="486.3" y1="2530.5" x2="486.3" y2="2548.0" stroke="#e87e94" stroke-opacity="0.51" stroke-width="1.4"/><circle cx="486.3" cy="2539.3" r="3.2" fill="#e87e94" fill-opacity="0.6"/><line x1="492.9" y1="2518.5" x2="492.9" y2="2531.6" stroke="#e87e94" stroke-opacity="0.59" stroke-width="1.4"/><circle cx="492.9" cy="2525.0" r="3.2" fill="#e87e94" fill-opacity="0.7"/><line x1="584.8" y1="2447.4" x2="584.8" y2="2458.3" stroke="#e87e94" stroke-opacity="0.85" stroke-width="1.4"/><circle cx="584.8" cy="2452.8" r="3.2" fill="#e87e94" fill-opacity="1"/><line x1="545.4" y1="2475.2" x2="545.4" y2="2486.1" stroke="#e87e94" stroke-opacity="0.85" stroke-width="1.4"/><circle cx="545.4" cy="2480.6" r="3.2" fill="#e87e94" fill-opacity="1"/><line x1="539.9" y1="2486.1" x2="539.9" y2="2497.0" stroke="#e87e94" stroke-opacity="0.77" stroke-width="1.4"/><circle cx="539.9" cy="2491.6" r="3.2" fill="#e87e94" fill-opacity="0.9"/><line x1="547.6" y1="2492.2" x2="547.6" y2="2503.2" stroke="#e87e94" stroke-opacity="0.77" stroke-width="1.4"/><circle cx="547.6" cy="2497.7" r="3.2" fill="#e87e94" fill-opacity="0.9"/><line x1="535.5" y1="2498.8" x2="535.5" y2="2509.7" stroke="#e87e94" stroke-opacity="0.77" stroke-width="1.4"/><circle cx="535.5" cy="2504.3" r="3.2" fill="#e87e94" fill-opacity="0.9"/><line x1="534.0" y1="2494.4" x2="534.0" y2="2505.4" stroke="#e87e94" stroke-opacity="0.77" stroke-width="1.4"/><circle cx="534.0" cy="2499.9" r="3.2" fill="#e87e94" fill-opacity="0.9"/><line x1="523.5" y1="2531.6" x2="523.5" y2="2566.6" stroke="#e87e94" stroke-opacity="0.51" stroke-width="1.4"/><circle cx="523.5" cy="2549.1" r="3.2" fill="#e87e94" fill-opacity="0.6"/><line x1="506.0" y1="2440.8" x2="506.0" y2="2484.6" stroke="#e87e94" stroke-opacity="0.26" stroke-width="1.4"/><circle cx="506.0" cy="2462.7" r="3.2" fill="#e87e94" fill-opacity="0.3"/><line x1="499.4" y1="2544.7" x2="499.4" y2="2601.6" stroke="#e87e94" stroke-opacity="0.34" stroke-width="1.4"/><circle cx="499.4" cy="2573.2" r="3.2" fill="#e87e94" fill-opacity="0.4"/></g>
<line x1="368.4" y1="2426.6" x2="597.5" y2="2426.6" stroke="#111" stroke-width="1.7"/>
<line x1="369.2" y1="2425.8" x2="369.2" y2="2654.7" stroke="#111" stroke-width="1.7"/>
<line x1="596.1" y1="2425.8" x2="596.1" y2="2654.7" stroke="#111" stroke-width="2.9"/>
<line x1="368.4" y1="2653.1" x2="597.5" y2="2653.1" stroke="#111" stroke-width="3.3"/>
<line x1="369.9" y1="2653.1" x2="369.9" y2="2656.7" stroke="#222" stroke-width="1.5"/>
<text transform="translate(374.2,2674.8) scale(1,1.1)" class="xl">-0.4</text>
<line x1="442.1" y1="2653.1" x2="442.1" y2="2656.7" stroke="#222" stroke-width="1.5"/>
<text transform="translate(446.4,2674.8) scale(1,1.1)" class="xl">-0.2</text>
<line x1="514.1" y1="2653.1" x2="514.1" y2="2656.7" stroke="#222" stroke-width="1.5"/>
<text transform="translate(514.1,2674.8) scale(1,1.1)" class="xl">0.0</text>
<line x1="586.3" y1="2653.1" x2="586.3" y2="2656.7" stroke="#222" stroke-width="1.5"/>
<text transform="translate(590.6,2674.8) scale(1,1.1)" class="xl">0.2</text>
<line x1="365.8" y1="2446.7" x2="369.2" y2="2446.7" stroke="#222" stroke-width="1.5"/>
<text transform="translate(366.8,2452.8) scale(1,1.1)" class="yl">0.2</text>
<line x1="365.8" y1="2514.1" x2="369.2" y2="2514.1" stroke="#222" stroke-width="1.5"/>
<text transform="translate(358.2,2520.2) scale(1,1.1)" class="yl">0.0</text>
<line x1="365.8" y1="2584.1" x2="369.2" y2="2584.1" stroke="#222" stroke-width="1.5"/>
<text transform="translate(366.8,2590.2) scale(1,1.1)" class="yl">-0.2</text>
<line x1="365.8" y1="2652.4" x2="369.2" y2="2652.4" stroke="#222" stroke-width="1.5"/>
<text transform="translate(366.8,2658.5) scale(1,1.1)" class="yl">-0.4</text>
<text x="768.5" y="2414.0" class="pt" clip-path="url(#t35)">Triglycerides</text>
<g clip-path="url(#c35)"><line x1="761.3" y1="2427.6" x2="761.3" y2="2653.1" class="dz"/><line x1="656.8" y1="2534.9" x2="883.4" y2="2534.9" class="dz"/><path d="M757.0 2486.1v30.9M760.5 2487.1v17.8M747.1 2504.1v20.6M750.3 2551.4v10.0M747.1 2472.2v23.6M781.7 2508.4v28.5M774.5 2468.2v30.0M771.8 2499.1v16.7M779.8 2534.4v27.3M763.1 2493.3v21.4M752.6 2482.1v12.6M774.1 2455.4v20.1M771.3 2460.5v12.6M774.3 2518.8v7.3M751.5 2477.0v16.0M749.0 2475.2v23.2M750.1 2484.5v23.7M776.7 2551.2v15.2M742.2 2499.0v27.5M761.5 2587.6v31.6M763.4 2537.2v13.9M764.9 2458.1v17.0M749.2 2468.5v25.2M771.2 2564.8v10.1M741.7 2578.5v19.2M741.6 2525.1v16.7M772.0 2484.5v13.6M779.6 2503.6v21.2M763.9 2569.5v26.3M767.2 2518.7v22.6M747.6 2561.0v8.2M739.3 2540.0v11.8M757.4 2477.5v7.1M774.9 2497.9v14.7M749.0 2541.3v19.7M757.2 2590.6v22.8M776.6 2498.1v9.9" stroke="#e8449a" stroke-opacity="0.2" stroke-width="1.2" fill="none"/><path d="M757.0 2501.5h0M760.5 2495.9h0M747.1 2514.4h0M750.3 2556.4h0M747.1 2484.0h0M781.7 2522.6h0M774.5 2483.3h0M771.8 2507.5h0M779.8 2548.1h0M763.1 2504.0h0M752.6 2488.4h0M774.1 2465.4h0M771.3 2466.8h0M774.3 2522.4h0M751.5 2485.0h0M749.0 2486.8h0M750.1 2496.3h0M776.7 2558.8h0M742.2 2512.7h0M761.5 2603.4h0M763.4 2544.1h0M764.9 2466.6h0M749.2 2481.1h0M771.2 2569.8h0M741.7 2588.1h0M741.6 2533.4h0M772.0 2491.3h0M779.6 2514.2h0M763.9 2582.7h0M767.2 2530.0h0M747.6 2565.1h0M739.3 2545.8h0M757.4 2481.1h0M774.9 2505.2h0M749.0 2551.2h0M757.2 2602.0h0M776.6 2503.1h0" stroke="#e8449a" stroke-opacity="0.2" stroke-width="6" stroke-linecap="round" fill="none"/><line x1="655.8" y1="2632.7" x2="876.1" y2="2426.6" stroke="#222" stroke-width="1.1"/><polygon points="743.3,2538.2 745.5,2520.7 748.8,2507.5 753.2,2503.2 756.5,2511.9 758.0,2533.8 756.5,2555.7 753.2,2577.6 751.0,2595.1 747.7,2581.9 745.5,2560.1" fill="#e8449a" fill-opacity="0.97" filter="url(#bl1)"/><polygon points="764.1,2533.8 765.2,2511.9 767.4,2494.4 771.8,2483.5 776.1,2490.0 778.3,2507.5 778.3,2527.2 775.1,2542.5 771.8,2551.3 767.4,2546.9" fill="#e8449a" fill-opacity="0.97" filter="url(#bl1)"/><path d="M747.8 2519.2v26.9M753.8 2496.9v28.7M748.5 2563.2v37.0M746.9 2503.1v43.1M752.2 2513.3v28.1M748.2 2555.4v35.3M750.7 2525.7v28.5M747.8 2564.7v23.2M770.1 2500.0v41.2M764.7 2511.5v29.8M774.3 2525.1v36.6M767.1 2488.0v27.3M770.8 2484.5v37.2M767.1 2496.0v18.4" stroke="#e8449a" stroke-opacity="0.16" stroke-width="1.3" fill="none"/><path d="M755.7 2528.1v7.1M746.9 2524.2v7.1M749.5 2543.2v16.8M751.5 2543.5v16.9M750.1 2524.3v16.1M747.4 2558.9v15.3M747.0 2526.5v6.8M750.7 2514.1v9.0M750.4 2518.8v5.3M752.6 2534.1v13.0M750.1 2544.5v15.2M750.7 2502.9v11.3M747.0 2527.7v12.7M744.0 2524.3v17.1M754.7 2555.4v11.1M750.8 2501.6v9.2M748.5 2539.2v15.6M754.6 2557.1v7.4M754.9 2541.6v12.3M749.5 2531.8v9.6M754.4 2546.4v7.4M750.7 2504.7v9.3M754.3 2515.0v12.0M750.2 2536.3v14.1M750.8 2570.7v11.6M750.3 2578.2v6.8M754.9 2533.5v7.5M743.8 2533.9v15.7M754.2 2537.9v16.0M756.3 2518.4v8.4M748.4 2552.7v16.7M751.5 2508.6v5.5M754.8 2529.6v5.0M776.2 2487.0v14.6M770.4 2540.7v7.0M771.1 2532.3v6.4M774.7 2521.6v8.9M767.8 2536.5v14.4M769.0 2506.6v14.5M769.3 2536.5v4.5M765.6 2524.9v7.6M771.0 2484.1v5.6M772.2 2495.4v13.2M772.2 2488.2v5.7M770.8 2495.2v12.0M769.5 2500.0v13.1M770.5 2527.7v4.8M772.9 2516.3v4.7M773.1 2482.3v11.5M777.3 2513.5v13.3M773.7 2518.3v15.3M771.8 2491.1v15.5M771.5 2505.8v16.6M767.8 2505.3v14.5M765.9 2517.9v6.5M772.8 2502.8v9.5M765.1 2527.6v6.1M770.3 2506.5v4.6M776.7 2514.5v11.6M768.1 2521.2v12.4" stroke="#e8449a" stroke-opacity="0.35" stroke-width="1.4" fill="none"/><line x1="666.3" y1="2534.2" x2="666.3" y2="2547.4" stroke="#e8449a" stroke-opacity="0.85" stroke-width="1.4"/><circle cx="666.3" cy="2540.8" r="3.2" fill="#e8449a" fill-opacity="1"/><line x1="671.8" y1="2527.2" x2="671.8" y2="2540.4" stroke="#e8449a" stroke-opacity="0.85" stroke-width="1.4"/><circle cx="671.8" cy="2533.8" r="3.2" fill="#e8449a" fill-opacity="1"/><line x1="674.0" y1="2524.6" x2="674.0" y2="2537.7" stroke="#e8449a" stroke-opacity="0.85" stroke-width="1.4"/><circle cx="674.0" cy="2531.2" r="3.2" fill="#e8449a" fill-opacity="1"/><line x1="686.4" y1="2536.0" x2="686.4" y2="2549.1" stroke="#e8449a" stroke-opacity="0.85" stroke-width="1.4"/><circle cx="686.4" cy="2542.5" r="3.2" fill="#e8449a" fill-opacity="1"/><line x1="687.5" y1="2563.3" x2="687.5" y2="2598.3" stroke="#e8449a" stroke-opacity="0.85" stroke-width="1.4"/><circle cx="687.5" cy="2580.8" r="3.2" fill="#e8449a" fill-opacity="1"/><line x1="689.3" y1="2557.9" x2="689.3" y2="2632.3" stroke="#e8449a" stroke-opacity="0.85" stroke-width="1.4"/><circle cx="689.3" cy="2595.1" r="3.2" fill="#e8449a" fill-opacity="1"/><line x1="694.5" y1="2550.2" x2="694.5" y2="2615.9" stroke="#e8449a" stroke-opacity="0.85" stroke-width="1.4"/><circle cx="694.5" cy="2583.0" r="3.2" fill="#e8449a" fill-opacity="1"/><line x1="695.6" y1="2572.5" x2="695.6" y2="2607.5" stroke="#e8449a" stroke-opacity="0.85" stroke-width="1.4"/><circle cx="695.6" cy="2590.0" r="3.2" fill="#e8449a" fill-opacity="1"/><line x1="714.2" y1="2516.9" x2="714.2" y2="2543.2" stroke="#e8449a" stroke-opacity="0.85" stroke-width="1.4"/><circle cx="714.2" cy="2530.1" r="3.2" fill="#e8449a" fill-opacity="1"/><line x1="723.6" y1="2513.0" x2="723.6" y2="2539.3" stroke="#e8449a" stroke-opacity="0.85" stroke-width="1.4"/><circle cx="723.6" cy="2526.1" r="3.2" fill="#e8449a" fill-opacity="1"/><line x1="724.7" y1="2531.6" x2="724.7" y2="2549.1" stroke="#e8449a" stroke-opacity="0.77" stroke-width="1.4"/><circle cx="724.7" cy="2540.4" r="3.2" fill="#e8449a" fill-opacity="0.9"/><line x1="729.1" y1="2530.5" x2="729.1" y2="2548.0" stroke="#e8449a" stroke-opacity="0.77" stroke-width="1.4"/><circle cx="729.1" cy="2539.3" r="3.2" fill="#e8449a" fill-opacity="0.9"/><line x1="718.6" y1="2539.9" x2="718.6" y2="2557.4" stroke="#e8449a" stroke-opacity="0.68" stroke-width="1.4"/><circle cx="718.6" cy="2548.7" r="3.2" fill="#e8449a" fill-opacity="0.8"/><line x1="722.5" y1="2555.7" x2="722.5" y2="2577.6" stroke="#e8449a" stroke-opacity="0.85" stroke-width="1.4"/><circle cx="722.5" cy="2566.6" r="3.2" fill="#e8449a" fill-opacity="1"/><line x1="723.6" y1="2562.2" x2="723.6" y2="2584.1" stroke="#e8449a" stroke-opacity="0.85" stroke-width="1.4"/><circle cx="723.6" cy="2573.2" r="3.2" fill="#e8449a" fill-opacity="1"/><line x1="721.4" y1="2571.0" x2="721.4" y2="2592.9" stroke="#e8449a" stroke-opacity="0.85" stroke-width="1.4"/><circle cx="721.4" cy="2581.9" r="3.2" fill="#e8449a" fill-opacity="1"/><line x1="726.9" y1="2566.6" x2="726.9" y2="2584.1" stroke="#e8449a" stroke-opacity="0.85" stroke-width="1.4"/><circle cx="726.9" cy="2575.4" r="3.2" fill="#e8449a" fill-opacity="1"/><line x1="729.1" y1="2551.3" x2="729.1" y2="2568.8" stroke="#e8449a" stroke-opacity="0.68" stroke-width="1.4"/><circle cx="729.1" cy="2560.1" r="3.2" fill="#e8449a" fill-opacity="0.8"/><line x1="736.1" y1="2537.7" x2="736.1" y2="2555.2" stroke="#e8449a" stroke-opacity="0.51" stroke-width="1.4"/><circle cx="736.1" cy="2546.5" r="3.2" fill="#e8449a" fill-opacity="0.6"/><line x1="735.2" y1="2512.6" x2="735.2" y2="2547.6" stroke="#e8449a" stroke-opacity="0.42" stroke-width="1.4"/><circle cx="735.2" cy="2530.1" r="3.2" fill="#e8449a" fill-opacity="0.5"/><line x1="739.4" y1="2550.6" x2="739.4" y2="2568.2" stroke="#e8449a" stroke-opacity="0.59" stroke-width="1.4"/><circle cx="739.4" cy="2559.4" r="3.2" fill="#e8449a" fill-opacity="0.7"/><line x1="737.4" y1="2560.7" x2="737.4" y2="2595.7" stroke="#e8449a" stroke-opacity="0.51" stroke-width="1.4"/><circle cx="737.4" cy="2578.2" r="3.2" fill="#e8449a" fill-opacity="0.6"/><line x1="746.2" y1="2462.7" x2="746.2" y2="2528.3" stroke="#e8449a" stroke-opacity="0.42" stroke-width="1.4"/><circle cx="746.2" cy="2495.5" r="3.2" fill="#e8449a" fill-opacity="0.5"/><line x1="753.8" y1="2462.7" x2="753.8" y2="2506.4" stroke="#e8449a" stroke-opacity="0.42" stroke-width="1.4"/><circle cx="753.8" cy="2484.6" r="3.2" fill="#e8449a" fill-opacity="0.5"/><line x1="751.0" y1="2544.7" x2="751.0" y2="2610.4" stroke="#e8449a" stroke-opacity="0.51" stroke-width="1.4"/><circle cx="751.0" cy="2577.6" r="3.2" fill="#e8449a" fill-opacity="0.6"/><line x1="751.0" y1="2551.3" x2="751.0" y2="2638.8" stroke="#e8449a" stroke-opacity="0.34" stroke-width="1.4"/><circle cx="751.0" cy="2595.1" r="3.2" fill="#e8449a" fill-opacity="0.4"/><line x1="870.7" y1="2439.7" x2="870.7" y2="2457.2" stroke="#e8449a" stroke-opacity="0.85" stroke-width="1.4"/><circle cx="870.7" cy="2448.5" r="3.2" fill="#e8449a" fill-opacity="1"/><line x1="841.8" y1="2466.6" x2="841.8" y2="2477.6" stroke="#e8449a" stroke-opacity="0.85" stroke-width="1.4"/><circle cx="841.8" cy="2472.1" r="3.2" fill="#e8449a" fill-opacity="1"/><line x1="842.9" y1="2474.3" x2="842.9" y2="2485.2" stroke="#e8449a" stroke-opacity="0.85" stroke-width="1.4"/><circle cx="842.9" cy="2479.7" r="3.2" fill="#e8449a" fill-opacity="1"/><line x1="790.4" y1="2502.1" x2="790.4" y2="2515.2" stroke="#e8449a" stroke-opacity="0.85" stroke-width="1.4"/><circle cx="790.4" cy="2508.6" r="3.2" fill="#e8449a" fill-opacity="1"/><line x1="788.2" y1="2505.4" x2="788.2" y2="2518.5" stroke="#e8449a" stroke-opacity="0.85" stroke-width="1.4"/><circle cx="788.2" cy="2511.9" r="3.2" fill="#e8449a" fill-opacity="1"/><line x1="782.7" y1="2537.1" x2="782.7" y2="2550.2" stroke="#e8449a" stroke-opacity="0.77" stroke-width="1.4"/><circle cx="782.7" cy="2543.6" r="3.2" fill="#e8449a" fill-opacity="0.9"/><line x1="784.9" y1="2509.7" x2="784.9" y2="2522.9" stroke="#e8449a" stroke-opacity="0.59" stroke-width="1.4"/><circle cx="784.9" cy="2516.3" r="3.2" fill="#e8449a" fill-opacity="0.7"/><line x1="775.1" y1="2473.6" x2="775.1" y2="2499.9" stroke="#e8449a" stroke-opacity="0.68" stroke-width="1.4"/><circle cx="775.1" cy="2486.8" r="3.2" fill="#e8449a" fill-opacity="0.8"/><line x1="782.3" y1="2532.7" x2="782.3" y2="2585.2" stroke="#e8449a" stroke-opacity="0.34" stroke-width="1.4"/><circle cx="782.3" cy="2559.0" r="3.2" fill="#e8449a" fill-opacity="0.4"/></g>
<line x1="655.0" y1="2426.6" x2="884.8" y2="2426.6" stroke="#111" stroke-width="1.7"/>
<line x1="655.8" y1="2425.8" x2="655.8" y2="2654.7" stroke="#111" stroke-width="1.7"/>
<line x1="883.4" y1="2425.8" x2="883.4" y2="2654.7" stroke="#111" stroke-width="2.9"/>
<line x1="655.0" y1="2653.1" x2="884.8" y2="2653.1" stroke="#111" stroke-width="3.3"/>
<line x1="681.0" y1="2653.1" x2="681.0" y2="2656.7" stroke="#222" stroke-width="1.5"/>
<text transform="translate(685.3,2674.8) scale(1,1.1)" class="xl">-0.2</text>
<line x1="721.0" y1="2653.1" x2="721.0" y2="2656.7" stroke="#222" stroke-width="1.5"/>
<text transform="translate(725.3,2674.8) scale(1,1.1)" class="xl">-0.1</text>
<line x1="761.3" y1="2653.1" x2="761.3" y2="2656.7" stroke="#222" stroke-width="1.5"/>
<text transform="translate(761.3,2674.8) scale(1,1.1)" class="xl">0.0</text>
<line x1="801.3" y1="2653.1" x2="801.3" y2="2656.7" stroke="#222" stroke-width="1.5"/>
<text transform="translate(805.6,2674.8) scale(1,1.1)" class="xl">0.1</text>
<line x1="841.4" y1="2653.1" x2="841.4" y2="2656.7" stroke="#222" stroke-width="1.5"/>
<text transform="translate(845.7,2674.8) scale(1,1.1)" class="xl">0.2</text>
<line x1="881.6" y1="2653.1" x2="881.6" y2="2656.7" stroke="#222" stroke-width="1.5"/>
<text transform="translate(881.6,2674.8) scale(1,1.1)" class="xl">0.3</text>
<line x1="652.4" y1="2461.6" x2="655.8" y2="2461.6" stroke="#222" stroke-width="1.5"/>
<text transform="translate(653.4,2467.7) scale(1,1.1)" class="yl">0.2</text>
<line x1="652.4" y1="2497.7" x2="655.8" y2="2497.7" stroke="#222" stroke-width="1.5"/>
<text transform="translate(653.4,2503.8) scale(1,1.1)" class="yl">0.1</text>
<line x1="652.4" y1="2534.9" x2="655.8" y2="2534.9" stroke="#222" stroke-width="1.5"/>
<text transform="translate(644.8,2541.0) scale(1,1.1)" class="yl">0.0</text>
<line x1="652.4" y1="2572.1" x2="655.8" y2="2572.1" stroke="#222" stroke-width="1.5"/>
<text transform="translate(653.4,2578.2) scale(1,1.1)" class="yl">-0.1</text>
<line x1="652.4" y1="2610.4" x2="655.8" y2="2610.4" stroke="#222" stroke-width="1.5"/>
<text transform="translate(653.4,2616.5) scale(1,1.1)" class="yl">-0.2</text>
<line x1="652.4" y1="2647.1" x2="655.8" y2="2647.1" stroke="#222" stroke-width="1.5"/>
<text transform="translate(644.8,2653.2) scale(1,1.1)" class="yl">-0.3</text>
</svg>
</body></html>
